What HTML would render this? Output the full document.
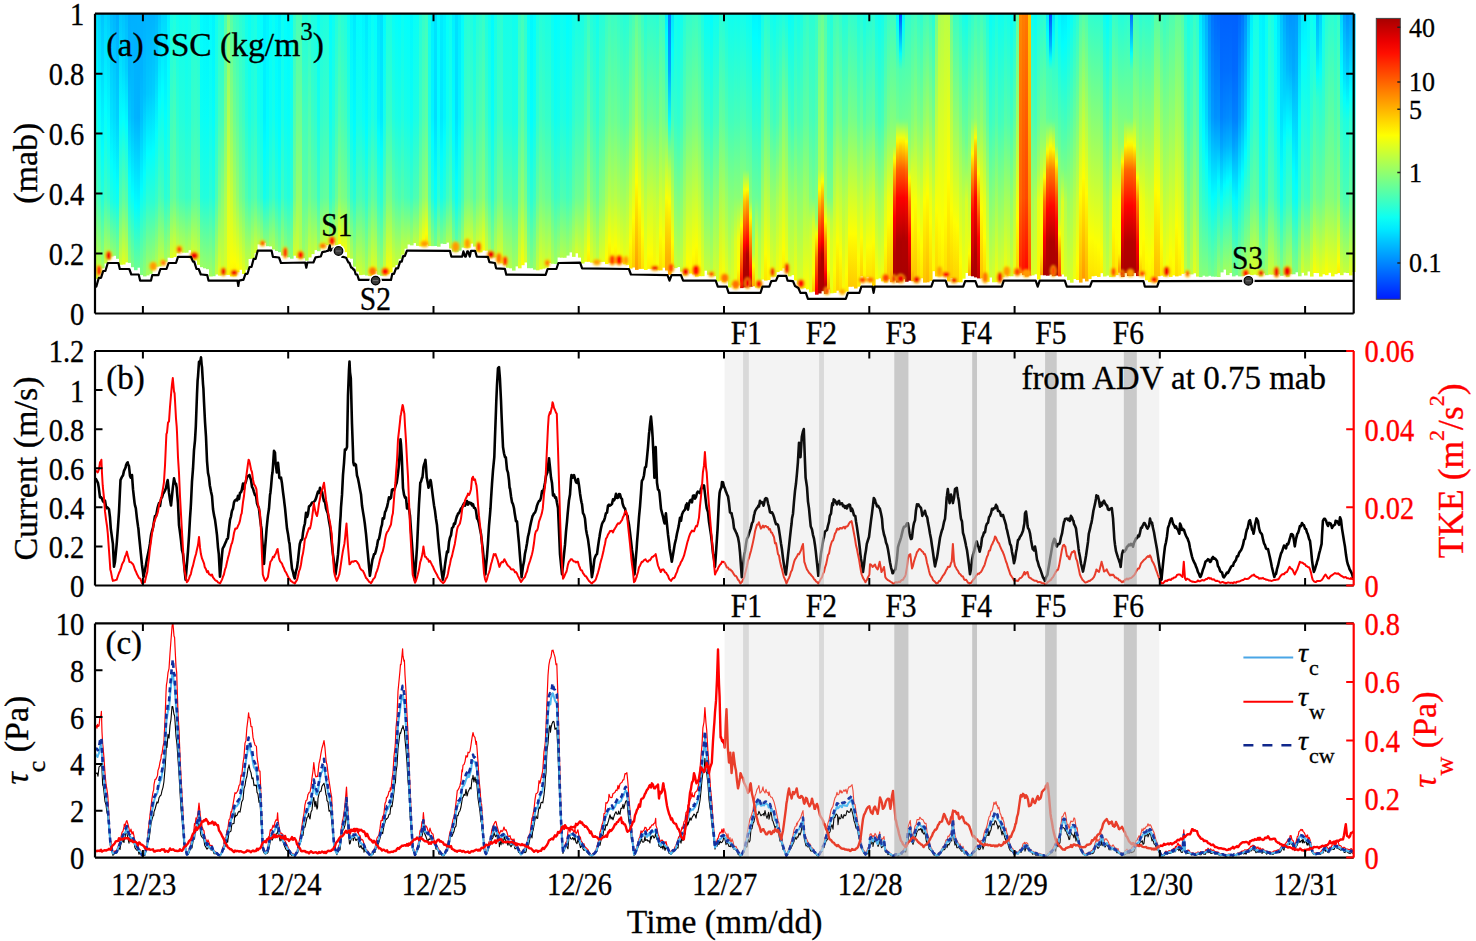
<!DOCTYPE html><html><head><meta charset="utf-8"><style>html,body{margin:0;padding:0;background:#fff;overflow:hidden;}svg{display:block;}</style></head><body><svg width="1476" height="941" viewBox="0 0 1476 941" font-family="Liberation Serif, serif">
<rect width="1476" height="941" fill="#fff"/>
<defs>
<linearGradient id="h0" x2="0" y2="1"><stop offset="0.000" stop-color="#00dfff"/><stop offset="0.272" stop-color="#00ffff"/><stop offset="0.694" stop-color="#4dffb2"/><stop offset="1.000" stop-color="#d4ff2b"/></linearGradient>
<linearGradient id="h1" x2="0" y2="1"><stop offset="0.000" stop-color="#00d4ff"/><stop offset="0.386" stop-color="#00ffff"/><stop offset="0.710" stop-color="#3cffc3"/><stop offset="1.000" stop-color="#c0ff3f"/></linearGradient>
<linearGradient id="h2" x2="0" y2="1"><stop offset="0.000" stop-color="#00c5ff"/><stop offset="0.534" stop-color="#02fffd"/><stop offset="0.738" stop-color="#28ffd7"/><stop offset="1.000" stop-color="#a3ff5c"/></linearGradient>
<linearGradient id="h3" x2="0" y2="1"><stop offset="0.000" stop-color="#00d5ff"/><stop offset="0.384" stop-color="#00ffff"/><stop offset="0.737" stop-color="#3effc1"/><stop offset="1.000" stop-color="#c3ff3c"/></linearGradient>
<linearGradient id="h4" x2="0" y2="1"><stop offset="0.000" stop-color="#00cdff"/><stop offset="0.472" stop-color="#01fffe"/><stop offset="0.749" stop-color="#32ffcd"/><stop offset="1.000" stop-color="#b6ff49"/></linearGradient>
<linearGradient id="h5" x2="0" y2="1"><stop offset="0.000" stop-color="#00bdff"/><stop offset="0.428" stop-color="#00e3ff"/><stop offset="0.610" stop-color="#02fffd"/><stop offset="0.774" stop-color="#1fffe0"/><stop offset="1.000" stop-color="#9bff64"/></linearGradient>
<linearGradient id="h6" x2="0" y2="1"><stop offset="0.000" stop-color="#00b6ff"/><stop offset="0.430" stop-color="#00dcff"/><stop offset="0.661" stop-color="#01fffe"/><stop offset="0.777" stop-color="#17ffe8"/><stop offset="1.000" stop-color="#92ff6d"/></linearGradient>
<linearGradient id="h7" x2="0" y2="1"><stop offset="0.000" stop-color="#00acff"/><stop offset="0.424" stop-color="#00d0ff"/><stop offset="0.702" stop-color="#01fffe"/><stop offset="0.767" stop-color="#0efff1"/><stop offset="1.000" stop-color="#87ff78"/></linearGradient>
<linearGradient id="h8" x2="0" y2="1"><stop offset="0.000" stop-color="#00c8ff"/><stop offset="0.430" stop-color="#02fffd"/><stop offset="0.749" stop-color="#53ffac"/><stop offset="1.000" stop-color="#d2ff2d"/></linearGradient>
<linearGradient id="h9" x2="0" y2="1"><stop offset="0.000" stop-color="#00c3ff"/><stop offset="0.223" stop-color="#00dcff"/><stop offset="0.415" stop-color="#01fffe"/><stop offset="0.750" stop-color="#64ff9b"/><stop offset="1.000" stop-color="#e4ff1b"/></linearGradient>
<linearGradient id="h10" x2="0" y2="1"><stop offset="0.000" stop-color="#00bbff"/><stop offset="0.225" stop-color="#00d0ff"/><stop offset="0.450" stop-color="#00feff"/><stop offset="0.756" stop-color="#58ffa7"/><stop offset="1.000" stop-color="#d5ff2a"/></linearGradient>
<linearGradient id="h11" x2="0" y2="1"><stop offset="0.000" stop-color="#00afff"/><stop offset="0.225" stop-color="#00b5ff"/><stop offset="0.417" stop-color="#00c7ff"/><stop offset="0.658" stop-color="#01fffe"/><stop offset="0.754" stop-color="#1affe5"/><stop offset="1.000" stop-color="#90ff6f"/></linearGradient>
<linearGradient id="h12" x2="0" y2="1"><stop offset="0.000" stop-color="#00b0ff"/><stop offset="0.410" stop-color="#00bdff"/><stop offset="0.710" stop-color="#01fffe"/><stop offset="1.000" stop-color="#7dff82"/></linearGradient>
<linearGradient id="h13" x2="0" y2="1"><stop offset="0.000" stop-color="#00b1ff"/><stop offset="0.405" stop-color="#00b3ff"/><stop offset="0.749" stop-color="#00ffff"/><stop offset="1.000" stop-color="#6cff93"/></linearGradient>
<linearGradient id="h14" x2="0" y2="1"><stop offset="0.000" stop-color="#00b2ff"/><stop offset="0.409" stop-color="#00b1ff"/><stop offset="0.756" stop-color="#00fcff"/><stop offset="1.000" stop-color="#68ff97"/></linearGradient>
<linearGradient id="h15" x2="0" y2="1"><stop offset="0.000" stop-color="#00b2ff"/><stop offset="0.214" stop-color="#00b2ff"/><stop offset="0.398" stop-color="#00c0ff"/><stop offset="0.673" stop-color="#00ffff"/><stop offset="1.000" stop-color="#80ff7f"/></linearGradient>
<linearGradient id="h16" x2="0" y2="1"><stop offset="0.000" stop-color="#00b2ff"/><stop offset="0.305" stop-color="#00bfff"/><stop offset="0.609" stop-color="#02fffd"/><stop offset="0.716" stop-color="#1cffe3"/><stop offset="1.000" stop-color="#94ff6b"/></linearGradient>
<linearGradient id="h17" x2="0" y2="1"><stop offset="0.000" stop-color="#00b3ff"/><stop offset="0.306" stop-color="#00c8ff"/><stop offset="0.535" stop-color="#00ffff"/><stop offset="0.718" stop-color="#2effd1"/><stop offset="1.000" stop-color="#a8ff57"/></linearGradient>
<linearGradient id="h18" x2="0" y2="1"><stop offset="0.000" stop-color="#00b2ff"/><stop offset="0.307" stop-color="#00cbff"/><stop offset="0.538" stop-color="#01fffe"/><stop offset="0.722" stop-color="#2cffd3"/><stop offset="1.000" stop-color="#a5ff5a"/></linearGradient>
<linearGradient id="h19" x2="0" y2="1"><stop offset="0.000" stop-color="#00b3ff"/><stop offset="0.313" stop-color="#00d0ff"/><stop offset="0.533" stop-color="#01fffe"/><stop offset="0.736" stop-color="#2cffd3"/><stop offset="1.000" stop-color="#a5ff5a"/></linearGradient>
<linearGradient id="h20" x2="0" y2="1"><stop offset="0.000" stop-color="#00b8ff"/><stop offset="0.221" stop-color="#00d0ff"/><stop offset="0.474" stop-color="#03fffc"/><stop offset="0.743" stop-color="#39ffc6"/><stop offset="1.000" stop-color="#b4ff4b"/></linearGradient>
<linearGradient id="h21" x2="0" y2="1"><stop offset="0.000" stop-color="#00c6ff"/><stop offset="0.348" stop-color="#00ffff"/><stop offset="0.728" stop-color="#4bffb4"/><stop offset="1.000" stop-color="#ccff33"/></linearGradient>
<linearGradient id="h22" x2="0" y2="1"><stop offset="0.000" stop-color="#00d6ff"/><stop offset="0.307" stop-color="#00ffff"/><stop offset="0.744" stop-color="#43ffbc"/><stop offset="1.000" stop-color="#c2ff3d"/></linearGradient>
<linearGradient id="h23" x2="0" y2="1"><stop offset="0.000" stop-color="#00d8ff"/><stop offset="0.403" stop-color="#00ffff"/><stop offset="0.742" stop-color="#29ffd6"/><stop offset="1.000" stop-color="#a4ff5b"/></linearGradient>
<linearGradient id="h24" x2="0" y2="1"><stop offset="0.000" stop-color="#00efff"/><stop offset="0.230" stop-color="#00ffff"/><stop offset="0.754" stop-color="#31ffce"/><stop offset="1.000" stop-color="#acff53"/></linearGradient>
<linearGradient id="h25" x2="0" y2="1"><stop offset="0.000" stop-color="#17ffe8"/><stop offset="0.753" stop-color="#5effa1"/><stop offset="1.000" stop-color="#deff21"/></linearGradient>
<linearGradient id="h26" x2="0" y2="1"><stop offset="0.000" stop-color="#1effe1"/><stop offset="0.756" stop-color="#66ff99"/><stop offset="1.000" stop-color="#e6ff19"/></linearGradient>
<linearGradient id="h27" x2="0" y2="1"><stop offset="0.000" stop-color="#13ffec"/><stop offset="0.434" stop-color="#2effd1"/><stop offset="0.768" stop-color="#50ffaf"/><stop offset="1.000" stop-color="#cdff32"/></linearGradient>
<linearGradient id="h28" x2="0" y2="1"><stop offset="0.000" stop-color="#0efff1"/><stop offset="0.437" stop-color="#24ffdb"/><stop offset="0.773" stop-color="#43ffbc"/><stop offset="1.000" stop-color="#bfff40"/></linearGradient>
<linearGradient id="h29" x2="0" y2="1"><stop offset="0.000" stop-color="#10ffef"/><stop offset="0.435" stop-color="#23ffdc"/><stop offset="0.770" stop-color="#41ffbe"/><stop offset="1.000" stop-color="#bdff42"/></linearGradient>
<linearGradient id="h30" x2="0" y2="1"><stop offset="0.000" stop-color="#0dfff2"/><stop offset="0.435" stop-color="#1bffe4"/><stop offset="0.770" stop-color="#38ffc7"/><stop offset="1.000" stop-color="#b3ff4c"/></linearGradient>
<linearGradient id="h31" x2="0" y2="1"><stop offset="0.000" stop-color="#12ffed"/><stop offset="0.440" stop-color="#1effe1"/><stop offset="0.778" stop-color="#3bffc4"/><stop offset="1.000" stop-color="#b6ff49"/></linearGradient>
<linearGradient id="h32" x2="0" y2="1"><stop offset="0.000" stop-color="#23ffdc"/><stop offset="0.432" stop-color="#36ffc9"/><stop offset="0.764" stop-color="#58ffa7"/><stop offset="1.000" stop-color="#d6ff29"/></linearGradient>
<linearGradient id="h33" x2="0" y2="1"><stop offset="0.000" stop-color="#24ffdb"/><stop offset="0.422" stop-color="#3affc5"/><stop offset="0.746" stop-color="#5dffa2"/><stop offset="1.000" stop-color="#dbff24"/></linearGradient>
<linearGradient id="h34" x2="0" y2="1"><stop offset="0.000" stop-color="#1effe1"/><stop offset="0.414" stop-color="#35ffca"/><stop offset="0.733" stop-color="#57ffa8"/><stop offset="1.000" stop-color="#d5ff2a"/></linearGradient>
<linearGradient id="h35" x2="0" y2="1"><stop offset="0.000" stop-color="#00fcff"/><stop offset="0.410" stop-color="#0bfff4"/><stop offset="0.726" stop-color="#25ffda"/><stop offset="1.000" stop-color="#9cff63"/></linearGradient>
<linearGradient id="h36" x2="0" y2="1"><stop offset="0.000" stop-color="#00f8ff"/><stop offset="0.408" stop-color="#08fff7"/><stop offset="0.723" stop-color="#21ffde"/><stop offset="1.000" stop-color="#98ff67"/></linearGradient>
<linearGradient id="h37" x2="0" y2="1"><stop offset="0.000" stop-color="#00f6ff"/><stop offset="0.407" stop-color="#06fff9"/><stop offset="0.720" stop-color="#20ffdf"/><stop offset="1.000" stop-color="#95ff6a"/></linearGradient>
<linearGradient id="h38" x2="0" y2="1"><stop offset="0.000" stop-color="#00fdff"/><stop offset="0.396" stop-color="#0ffff0"/><stop offset="0.700" stop-color="#2cffd3"/><stop offset="1.000" stop-color="#a3ff5c"/></linearGradient>
<linearGradient id="h39" x2="0" y2="1"><stop offset="0.000" stop-color="#00f6ff"/><stop offset="0.396" stop-color="#04fffb"/><stop offset="0.701" stop-color="#21ffde"/><stop offset="1.000" stop-color="#96ff69"/></linearGradient>
<linearGradient id="h40" x2="0" y2="1"><stop offset="0.000" stop-color="#0ffff0"/><stop offset="0.399" stop-color="#24ffdb"/><stop offset="0.706" stop-color="#4affb5"/><stop offset="1.000" stop-color="#c4ff3b"/></linearGradient>
<linearGradient id="h41" x2="0" y2="1"><stop offset="0.000" stop-color="#23ffdc"/><stop offset="0.397" stop-color="#43ffbc"/><stop offset="0.703" stop-color="#77ff88"/><stop offset="1.000" stop-color="#e5ff1a"/></linearGradient>
<linearGradient id="h42" x2="0" y2="1"><stop offset="0.000" stop-color="#1effe1"/><stop offset="0.414" stop-color="#47ffb8"/><stop offset="1.000" stop-color="#d2ff2d"/></linearGradient>
<linearGradient id="h43" x2="0" y2="1"><stop offset="0.000" stop-color="#4dffb2"/><stop offset="0.398" stop-color="#7bff84"/><stop offset="1.000" stop-color="#d9ff26"/></linearGradient>
<linearGradient id="h44" x2="0" y2="1"><stop offset="0.000" stop-color="#7fff80"/><stop offset="0.705" stop-color="#ddff22"/><stop offset="1.000" stop-color="#f7ff08"/></linearGradient>
<linearGradient id="h45" x2="0" y2="1"><stop offset="0.000" stop-color="#56ffa9"/><stop offset="0.411" stop-color="#8eff71"/><stop offset="0.944" stop-color="#fdff02"/><stop offset="1.000" stop-color="#fff400"/></linearGradient>
<linearGradient id="h46" x2="0" y2="1"><stop offset="0.000" stop-color="#3effc1"/><stop offset="0.411" stop-color="#71ff8e"/><stop offset="0.716" stop-color="#b1ff4e"/><stop offset="0.944" stop-color="#fdff02"/><stop offset="1.000" stop-color="#ffef00"/></linearGradient>
<linearGradient id="h47" x2="0" y2="1"><stop offset="0.000" stop-color="#36ffc9"/><stop offset="0.402" stop-color="#5dffa2"/><stop offset="0.712" stop-color="#93ff6c"/><stop offset="0.975" stop-color="#fdff02"/><stop offset="1.000" stop-color="#fff700"/></linearGradient>
<linearGradient id="h48" x2="0" y2="1"><stop offset="0.000" stop-color="#2bffd4"/><stop offset="0.406" stop-color="#48ffb7"/><stop offset="0.718" stop-color="#76ff89"/><stop offset="1.000" stop-color="#f6ff09"/></linearGradient>
<linearGradient id="h49" x2="0" y2="1"><stop offset="0.000" stop-color="#23ffdc"/><stop offset="0.400" stop-color="#3dffc2"/><stop offset="0.707" stop-color="#69ff96"/><stop offset="1.000" stop-color="#e8ff17"/></linearGradient>
<linearGradient id="h50" x2="0" y2="1"><stop offset="0.000" stop-color="#12ffed"/><stop offset="0.406" stop-color="#26ffd9"/><stop offset="0.719" stop-color="#4effb1"/><stop offset="1.000" stop-color="#c9ff36"/></linearGradient>
<linearGradient id="h51" x2="0" y2="1"><stop offset="0.000" stop-color="#09fff6"/><stop offset="0.424" stop-color="#19ffe6"/><stop offset="0.750" stop-color="#3fffc0"/><stop offset="1.000" stop-color="#b8ff47"/></linearGradient>
<linearGradient id="h52" x2="0" y2="1"><stop offset="0.000" stop-color="#14ffeb"/><stop offset="0.425" stop-color="#26ffd9"/><stop offset="0.752" stop-color="#50ffaf"/><stop offset="1.000" stop-color="#ccff33"/></linearGradient>
<linearGradient id="h53" x2="0" y2="1"><stop offset="0.000" stop-color="#1affe5"/><stop offset="0.434" stop-color="#2dffd2"/><stop offset="0.769" stop-color="#57ffa8"/><stop offset="1.000" stop-color="#d5ff2a"/></linearGradient>
<linearGradient id="h54" x2="0" y2="1"><stop offset="0.000" stop-color="#08fff7"/><stop offset="0.451" stop-color="#14ffeb"/><stop offset="0.798" stop-color="#3bffc4"/><stop offset="1.000" stop-color="#b6ff49"/></linearGradient>
<linearGradient id="h55" x2="0" y2="1"><stop offset="0.000" stop-color="#02fffd"/><stop offset="0.450" stop-color="#0cfff3"/><stop offset="0.796" stop-color="#31ffce"/><stop offset="1.000" stop-color="#aaff55"/></linearGradient>
<linearGradient id="h56" x2="0" y2="1"><stop offset="0.000" stop-color="#00efff"/><stop offset="0.454" stop-color="#00f2ff"/><stop offset="0.594" stop-color="#00feff"/><stop offset="0.803" stop-color="#13ffec"/><stop offset="1.000" stop-color="#88ff77"/></linearGradient>
<linearGradient id="h57" x2="0" y2="1"><stop offset="0.000" stop-color="#00f4ff"/><stop offset="0.516" stop-color="#00ffff"/><stop offset="0.792" stop-color="#1cffe3"/><stop offset="1.000" stop-color="#90ff6f"/></linearGradient>
<linearGradient id="h58" x2="0" y2="1"><stop offset="0.000" stop-color="#02fffd"/><stop offset="0.447" stop-color="#0bfff4"/><stop offset="0.791" stop-color="#30ffcf"/><stop offset="1.000" stop-color="#a5ff5a"/></linearGradient>
<linearGradient id="h59" x2="0" y2="1"><stop offset="0.000" stop-color="#09fff6"/><stop offset="0.441" stop-color="#15ffea"/><stop offset="0.780" stop-color="#3dffc2"/><stop offset="1.000" stop-color="#b1ff4e"/></linearGradient>
<linearGradient id="h60" x2="0" y2="1"><stop offset="0.000" stop-color="#00fcff"/><stop offset="0.438" stop-color="#04fffb"/><stop offset="0.775" stop-color="#28ffd7"/><stop offset="1.000" stop-color="#98ff67"/></linearGradient>
<linearGradient id="h61" x2="0" y2="1"><stop offset="0.000" stop-color="#00f3ff"/><stop offset="0.520" stop-color="#00ffff"/><stop offset="0.771" stop-color="#1affe5"/><stop offset="1.000" stop-color="#87ff78"/></linearGradient>
<linearGradient id="h62" x2="0" y2="1"><stop offset="0.000" stop-color="#0bfff4"/><stop offset="0.430" stop-color="#19ffe6"/><stop offset="0.761" stop-color="#3effc1"/><stop offset="1.000" stop-color="#acff53"/></linearGradient>
<linearGradient id="h63" x2="0" y2="1"><stop offset="0.000" stop-color="#01fffe"/><stop offset="0.430" stop-color="#0bfff4"/><stop offset="0.761" stop-color="#2affd5"/><stop offset="1.000" stop-color="#94ff6b"/></linearGradient>
<linearGradient id="h64" x2="0" y2="1"><stop offset="0.000" stop-color="#00fcff"/><stop offset="0.427" stop-color="#06fff9"/><stop offset="0.755" stop-color="#21ffde"/><stop offset="1.000" stop-color="#87ff78"/></linearGradient>
<linearGradient id="h65" x2="0" y2="1"><stop offset="0.000" stop-color="#05fffa"/><stop offset="0.424" stop-color="#11ffee"/><stop offset="0.751" stop-color="#2bffd4"/><stop offset="1.000" stop-color="#8eff71"/></linearGradient>
<linearGradient id="h66" x2="0" y2="1"><stop offset="0.000" stop-color="#31ffce"/><stop offset="0.430" stop-color="#4fffb0"/><stop offset="0.760" stop-color="#72ff8d"/><stop offset="1.000" stop-color="#d5ff2a"/></linearGradient>
<linearGradient id="h67" x2="0" y2="1"><stop offset="0.000" stop-color="#47ffb8"/><stop offset="0.426" stop-color="#6eff91"/><stop offset="0.753" stop-color="#98ff67"/><stop offset="1.000" stop-color="#d6ff29"/></linearGradient>
<linearGradient id="h68" x2="0" y2="1"><stop offset="0.000" stop-color="#46ffb9"/><stop offset="0.441" stop-color="#71ff8e"/><stop offset="1.000" stop-color="#bbff44"/></linearGradient>
<linearGradient id="h69" x2="0" y2="1"><stop offset="0.000" stop-color="#22ffdd"/><stop offset="0.753" stop-color="#5fffa0"/><stop offset="1.000" stop-color="#9dff62"/></linearGradient>
<linearGradient id="h70" x2="0" y2="1"><stop offset="0.000" stop-color="#20ffdf"/><stop offset="0.745" stop-color="#5dffa2"/><stop offset="1.000" stop-color="#b1ff4e"/></linearGradient>
<linearGradient id="h71" x2="0" y2="1"><stop offset="0.000" stop-color="#2bffd4"/><stop offset="0.755" stop-color="#72ff8d"/><stop offset="1.000" stop-color="#d0ff2f"/></linearGradient>
<linearGradient id="h72" x2="0" y2="1"><stop offset="0.000" stop-color="#1effe1"/><stop offset="0.433" stop-color="#39ffc6"/><stop offset="0.765" stop-color="#60ff9f"/><stop offset="1.000" stop-color="#c2ff3d"/></linearGradient>
<linearGradient id="h73" x2="0" y2="1"><stop offset="0.000" stop-color="#1affe5"/><stop offset="0.440" stop-color="#32ffcd"/><stop offset="0.778" stop-color="#5bffa4"/><stop offset="1.000" stop-color="#c3ff3c"/></linearGradient>
<linearGradient id="h74" x2="0" y2="1"><stop offset="0.000" stop-color="#05fffa"/><stop offset="0.438" stop-color="#16ffe9"/><stop offset="0.775" stop-color="#3affc5"/><stop offset="1.000" stop-color="#9eff61"/></linearGradient>
<linearGradient id="h75" x2="0" y2="1"><stop offset="0.000" stop-color="#1affe5"/><stop offset="0.444" stop-color="#32ffcd"/><stop offset="0.786" stop-color="#5bffa4"/><stop offset="1.000" stop-color="#c3ff3c"/></linearGradient>
<linearGradient id="h76" x2="0" y2="1"><stop offset="0.000" stop-color="#1effe1"/><stop offset="0.451" stop-color="#38ffc7"/><stop offset="0.798" stop-color="#62ff9d"/><stop offset="1.000" stop-color="#caff35"/></linearGradient>
<linearGradient id="h77" x2="0" y2="1"><stop offset="0.000" stop-color="#20ffdf"/><stop offset="0.449" stop-color="#3affc5"/><stop offset="0.795" stop-color="#65ff9a"/><stop offset="1.000" stop-color="#ceff31"/></linearGradient>
<linearGradient id="h78" x2="0" y2="1"><stop offset="0.000" stop-color="#01fffe"/><stop offset="0.452" stop-color="#10ffef"/><stop offset="0.801" stop-color="#33ffcc"/><stop offset="1.000" stop-color="#97ff68"/></linearGradient>
<linearGradient id="h79" x2="0" y2="1"><stop offset="0.000" stop-color="#0dfff2"/><stop offset="0.455" stop-color="#21ffde"/><stop offset="0.805" stop-color="#46ffb9"/><stop offset="1.000" stop-color="#acff53"/></linearGradient>
<linearGradient id="h80" x2="0" y2="1"><stop offset="0.000" stop-color="#21ffde"/><stop offset="0.449" stop-color="#3cffc3"/><stop offset="0.794" stop-color="#68ff97"/><stop offset="1.000" stop-color="#d5ff2a"/></linearGradient>
<linearGradient id="h81" x2="0" y2="1"><stop offset="0.000" stop-color="#31ffce"/><stop offset="0.451" stop-color="#54ffab"/><stop offset="0.798" stop-color="#88ff77"/><stop offset="1.000" stop-color="#fdff02"/></linearGradient>
<linearGradient id="h82" x2="0" y2="1"><stop offset="0.000" stop-color="#28ffd7"/><stop offset="0.437" stop-color="#49ffb6"/><stop offset="0.773" stop-color="#7dff82"/><stop offset="1.000" stop-color="#f9ff06"/></linearGradient>
<linearGradient id="h83" x2="0" y2="1"><stop offset="0.000" stop-color="#21ffde"/><stop offset="0.436" stop-color="#41ffbe"/><stop offset="0.771" stop-color="#77ff88"/><stop offset="1.000" stop-color="#f8ff07"/></linearGradient>
<linearGradient id="h84" x2="0" y2="1"><stop offset="0.000" stop-color="#0dfff2"/><stop offset="0.426" stop-color="#27ffd8"/><stop offset="0.754" stop-color="#5bffa4"/><stop offset="1.000" stop-color="#e0ff1f"/></linearGradient>
<linearGradient id="h85" x2="0" y2="1"><stop offset="0.000" stop-color="#00f5ff"/><stop offset="0.425" stop-color="#08fff7"/><stop offset="0.751" stop-color="#38ffc7"/><stop offset="1.000" stop-color="#bbff44"/></linearGradient>
<linearGradient id="h86" x2="0" y2="1"><stop offset="0.000" stop-color="#00e9ff"/><stop offset="0.459" stop-color="#00feff"/><stop offset="0.727" stop-color="#27ffd8"/><stop offset="1.000" stop-color="#a8ff57"/></linearGradient>
<linearGradient id="h87" x2="0" y2="1"><stop offset="0.000" stop-color="#00fcff"/><stop offset="0.403" stop-color="#13ffec"/><stop offset="0.714" stop-color="#48ffb7"/><stop offset="1.000" stop-color="#cdff32"/></linearGradient>
<linearGradient id="h88" x2="0" y2="1"><stop offset="0.000" stop-color="#00fdff"/><stop offset="0.398" stop-color="#13ffec"/><stop offset="0.704" stop-color="#4bffb4"/><stop offset="1.000" stop-color="#d0ff2f"/></linearGradient>
<linearGradient id="h89" x2="0" y2="1"><stop offset="0.000" stop-color="#00f6ff"/><stop offset="0.398" stop-color="#0afff5"/><stop offset="0.705" stop-color="#42ffbd"/><stop offset="1.000" stop-color="#c5ff3a"/></linearGradient>
<linearGradient id="h90" x2="0" y2="1"><stop offset="0.000" stop-color="#00e8ff"/><stop offset="0.458" stop-color="#01fffe"/><stop offset="0.718" stop-color="#32ffcd"/><stop offset="1.000" stop-color="#aeff51"/></linearGradient>
<linearGradient id="h91" x2="0" y2="1"><stop offset="0.000" stop-color="#00f9ff"/><stop offset="0.397" stop-color="#0ffff0"/><stop offset="0.702" stop-color="#4cffb3"/><stop offset="1.000" stop-color="#d0ff2f"/></linearGradient>
<linearGradient id="h92" x2="0" y2="1"><stop offset="0.000" stop-color="#07fff8"/><stop offset="0.398" stop-color="#20ffdf"/><stop offset="0.704" stop-color="#62ff9d"/><stop offset="1.000" stop-color="#eaff15"/></linearGradient>
<linearGradient id="h93" x2="0" y2="1"><stop offset="0.000" stop-color="#00ffff"/><stop offset="0.404" stop-color="#16ffe9"/><stop offset="0.715" stop-color="#58ffa7"/><stop offset="1.000" stop-color="#deff21"/></linearGradient>
<linearGradient id="h94" x2="0" y2="1"><stop offset="0.000" stop-color="#00e6ff"/><stop offset="0.398" stop-color="#00f3ff"/><stop offset="0.459" stop-color="#00ffff"/><stop offset="0.720" stop-color="#37ffc8"/><stop offset="1.000" stop-color="#b2ff4d"/></linearGradient>
<linearGradient id="h95" x2="0" y2="1"><stop offset="0.000" stop-color="#00dfff"/><stop offset="0.397" stop-color="#00eaff"/><stop offset="0.519" stop-color="#02fffd"/><stop offset="0.717" stop-color="#2bffd4"/><stop offset="1.000" stop-color="#a2ff5d"/></linearGradient>
<linearGradient id="h96" x2="0" y2="1"><stop offset="0.000" stop-color="#00fcff"/><stop offset="0.413" stop-color="#14ffeb"/><stop offset="0.718" stop-color="#57ffa8"/><stop offset="1.000" stop-color="#d3ff2c"/></linearGradient>
<linearGradient id="h97" x2="0" y2="1"><stop offset="0.000" stop-color="#19ffe6"/><stop offset="0.399" stop-color="#38ffc7"/><stop offset="0.706" stop-color="#7cff83"/><stop offset="1.000" stop-color="#fffd00"/></linearGradient>
<linearGradient id="h98" x2="0" y2="1"><stop offset="0.000" stop-color="#19ffe6"/><stop offset="0.402" stop-color="#39ffc6"/><stop offset="0.711" stop-color="#7aff85"/><stop offset="1.000" stop-color="#fcff03"/></linearGradient>
<linearGradient id="h99" x2="0" y2="1"><stop offset="0.000" stop-color="#09fff6"/><stop offset="0.410" stop-color="#22ffdd"/><stop offset="0.725" stop-color="#5dffa2"/><stop offset="1.000" stop-color="#d7ff28"/></linearGradient>
<linearGradient id="h100" x2="0" y2="1"><stop offset="0.000" stop-color="#03fffc"/><stop offset="0.414" stop-color="#1affe5"/><stop offset="0.732" stop-color="#50ffaf"/><stop offset="1.000" stop-color="#c5ff3a"/></linearGradient>
<linearGradient id="h101" x2="0" y2="1"><stop offset="0.000" stop-color="#00ffff"/><stop offset="0.424" stop-color="#17ffe8"/><stop offset="0.750" stop-color="#49ffb6"/><stop offset="1.000" stop-color="#bbff44"/></linearGradient>
<linearGradient id="h102" x2="0" y2="1"><stop offset="0.000" stop-color="#0afff5"/><stop offset="0.432" stop-color="#22ffdd"/><stop offset="0.764" stop-color="#56ffa9"/><stop offset="1.000" stop-color="#c9ff36"/></linearGradient>
<linearGradient id="h103" x2="0" y2="1"><stop offset="0.000" stop-color="#03fffc"/><stop offset="0.443" stop-color="#17ffe8"/><stop offset="0.783" stop-color="#49ffb6"/><stop offset="1.000" stop-color="#bbff44"/></linearGradient>
<linearGradient id="h104" x2="0" y2="1"><stop offset="0.000" stop-color="#01fffe"/><stop offset="0.451" stop-color="#13ffec"/><stop offset="0.797" stop-color="#45ffba"/><stop offset="1.000" stop-color="#b7ff48"/></linearGradient>
<linearGradient id="h105" x2="0" y2="1"><stop offset="0.000" stop-color="#00faff"/><stop offset="0.449" stop-color="#0afff5"/><stop offset="0.794" stop-color="#3affc5"/><stop offset="1.000" stop-color="#aaff55"/></linearGradient>
<linearGradient id="h106" x2="0" y2="1"><stop offset="0.000" stop-color="#07fff8"/><stop offset="0.453" stop-color="#19ffe6"/><stop offset="0.802" stop-color="#4cffb3"/><stop offset="1.000" stop-color="#beff41"/></linearGradient>
<linearGradient id="h107" x2="0" y2="1"><stop offset="0.000" stop-color="#0afff5"/><stop offset="0.448" stop-color="#1bffe4"/><stop offset="0.792" stop-color="#4fffb0"/><stop offset="1.000" stop-color="#c2ff3d"/></linearGradient>
<linearGradient id="h108" x2="0" y2="1"><stop offset="0.000" stop-color="#23ffdc"/><stop offset="0.447" stop-color="#3bffc4"/><stop offset="0.791" stop-color="#75ff8a"/><stop offset="1.000" stop-color="#ecff13"/></linearGradient>
<linearGradient id="h109" x2="0" y2="1"><stop offset="0.000" stop-color="#33ffcc"/><stop offset="0.448" stop-color="#50ffaf"/><stop offset="0.793" stop-color="#8fff70"/><stop offset="0.983" stop-color="#feff01"/><stop offset="1.000" stop-color="#fff600"/></linearGradient>
<linearGradient id="h110" x2="0" y2="1"><stop offset="0.000" stop-color="#3cffc3"/><stop offset="0.451" stop-color="#5affa5"/><stop offset="0.798" stop-color="#9bff64"/><stop offset="0.954" stop-color="#f9ff06"/><stop offset="1.000" stop-color="#ffe800"/></linearGradient>
<linearGradient id="h111" x2="0" y2="1"><stop offset="0.000" stop-color="#10ffef"/><stop offset="0.448" stop-color="#1dffe2"/><stop offset="0.792" stop-color="#53ffac"/><stop offset="1.000" stop-color="#c6ff39"/></linearGradient>
<linearGradient id="h112" x2="0" y2="1"><stop offset="0.000" stop-color="#00f2ff"/><stop offset="0.448" stop-color="#00f4ff"/><stop offset="0.534" stop-color="#00feff"/><stop offset="0.792" stop-color="#22ffdd"/><stop offset="1.000" stop-color="#91ff6e"/></linearGradient>
<linearGradient id="h113" x2="0" y2="1"><stop offset="0.000" stop-color="#00e3ff"/><stop offset="0.448" stop-color="#00deff"/><stop offset="0.723" stop-color="#00ffff"/><stop offset="0.809" stop-color="#0efff1"/><stop offset="1.000" stop-color="#76ff89"/></linearGradient>
<linearGradient id="h114" x2="0" y2="1"><stop offset="0.000" stop-color="#00fbff"/><stop offset="0.464" stop-color="#00feff"/><stop offset="0.790" stop-color="#2effd1"/><stop offset="1.000" stop-color="#9eff61"/></linearGradient>
<linearGradient id="h115" x2="0" y2="1"><stop offset="0.000" stop-color="#00ecff"/><stop offset="0.452" stop-color="#00e9ff"/><stop offset="0.626" stop-color="#00feff"/><stop offset="0.800" stop-color="#16ffe9"/><stop offset="1.000" stop-color="#83ff7c"/></linearGradient>
<linearGradient id="h116" x2="0" y2="1"><stop offset="0.000" stop-color="#00f4ff"/><stop offset="0.452" stop-color="#00f5ff"/><stop offset="0.538" stop-color="#01fffe"/><stop offset="0.799" stop-color="#24ffdb"/><stop offset="1.000" stop-color="#92ff6d"/></linearGradient>
<linearGradient id="h117" x2="0" y2="1"><stop offset="0.000" stop-color="#05fffa"/><stop offset="0.454" stop-color="#0dfff2"/><stop offset="0.804" stop-color="#40ffbf"/><stop offset="1.000" stop-color="#aeff51"/></linearGradient>
<linearGradient id="h118" x2="0" y2="1"><stop offset="0.000" stop-color="#0efff1"/><stop offset="0.443" stop-color="#1bffe4"/><stop offset="0.784" stop-color="#50ffaf"/><stop offset="1.000" stop-color="#beff41"/></linearGradient>
<linearGradient id="h119" x2="0" y2="1"><stop offset="0.000" stop-color="#00f1ff"/><stop offset="0.504" stop-color="#00feff"/><stop offset="0.773" stop-color="#24ffdb"/><stop offset="1.000" stop-color="#8cff73"/></linearGradient>
<linearGradient id="h120" x2="0" y2="1"><stop offset="0.000" stop-color="#00e0ff"/><stop offset="0.437" stop-color="#00e0ff"/><stop offset="0.705" stop-color="#02fffd"/><stop offset="0.789" stop-color="#0ffff0"/><stop offset="1.000" stop-color="#6eff91"/></linearGradient>
<linearGradient id="h121" x2="0" y2="1"><stop offset="0.000" stop-color="#00eeff"/><stop offset="0.439" stop-color="#00f4ff"/><stop offset="0.540" stop-color="#01fffe"/><stop offset="0.793" stop-color="#26ffd9"/><stop offset="1.000" stop-color="#86ff79"/></linearGradient>
<linearGradient id="h122" x2="0" y2="1"><stop offset="0.000" stop-color="#02fffd"/><stop offset="0.445" stop-color="#10ffef"/><stop offset="0.787" stop-color="#41ffbe"/><stop offset="1.000" stop-color="#a8ff57"/></linearGradient>
<linearGradient id="h123" x2="0" y2="1"><stop offset="0.000" stop-color="#21ffde"/><stop offset="0.444" stop-color="#3bffc4"/><stop offset="0.786" stop-color="#71ff8e"/><stop offset="1.000" stop-color="#deff21"/></linearGradient>
<linearGradient id="h124" x2="0" y2="1"><stop offset="0.000" stop-color="#25ffda"/><stop offset="0.444" stop-color="#41ffbe"/><stop offset="0.786" stop-color="#77ff88"/><stop offset="1.000" stop-color="#e3ff1c"/></linearGradient>
<linearGradient id="h125" x2="0" y2="1"><stop offset="0.000" stop-color="#20ffdf"/><stop offset="0.452" stop-color="#3cffc3"/><stop offset="0.800" stop-color="#6eff91"/><stop offset="1.000" stop-color="#daff25"/></linearGradient>
<linearGradient id="h126" x2="0" y2="1"><stop offset="0.000" stop-color="#13ffec"/><stop offset="0.447" stop-color="#2affd5"/><stop offset="0.790" stop-color="#58ffa7"/><stop offset="1.000" stop-color="#c0ff3f"/></linearGradient>
<linearGradient id="h127" x2="0" y2="1"><stop offset="0.000" stop-color="#25ffda"/><stop offset="0.437" stop-color="#44ffbb"/><stop offset="0.773" stop-color="#74ff8b"/><stop offset="1.000" stop-color="#e0ff1f"/></linearGradient>
<linearGradient id="h128" x2="0" y2="1"><stop offset="0.000" stop-color="#2cffd3"/><stop offset="0.436" stop-color="#4dffb2"/><stop offset="0.771" stop-color="#7eff81"/><stop offset="1.000" stop-color="#ebff14"/></linearGradient>
<linearGradient id="h129" x2="0" y2="1"><stop offset="0.000" stop-color="#36ffc9"/><stop offset="0.439" stop-color="#59ffa6"/><stop offset="0.777" stop-color="#8dff72"/><stop offset="1.000" stop-color="#fbff04"/></linearGradient>
<linearGradient id="h130" x2="0" y2="1"><stop offset="0.000" stop-color="#1effe1"/><stop offset="0.439" stop-color="#37ffc8"/><stop offset="0.776" stop-color="#66ff99"/><stop offset="1.000" stop-color="#cfff30"/></linearGradient>
<linearGradient id="h131" x2="0" y2="1"><stop offset="0.000" stop-color="#0ffff0"/><stop offset="0.427" stop-color="#20ffdf"/><stop offset="0.755" stop-color="#4cffb3"/><stop offset="1.000" stop-color="#b3ff4c"/></linearGradient>
<linearGradient id="h132" x2="0" y2="1"><stop offset="0.000" stop-color="#00fdff"/><stop offset="0.427" stop-color="#07fff8"/><stop offset="0.755" stop-color="#30ffcf"/><stop offset="1.000" stop-color="#93ff6c"/></linearGradient>
<linearGradient id="h133" x2="0" y2="1"><stop offset="0.000" stop-color="#16ffe9"/><stop offset="0.427" stop-color="#26ffd9"/><stop offset="0.755" stop-color="#57ffa8"/><stop offset="1.000" stop-color="#beff41"/></linearGradient>
<linearGradient id="h134" x2="0" y2="1"><stop offset="0.000" stop-color="#27ffd8"/><stop offset="0.420" stop-color="#3bffc4"/><stop offset="0.743" stop-color="#71ff8e"/><stop offset="1.000" stop-color="#dcff23"/></linearGradient>
<linearGradient id="h135" x2="0" y2="1"><stop offset="0.000" stop-color="#2bffd4"/><stop offset="0.417" stop-color="#3fffc0"/><stop offset="0.737" stop-color="#76ff89"/><stop offset="1.000" stop-color="#e1ff1e"/></linearGradient>
<linearGradient id="h136" x2="0" y2="1"><stop offset="0.000" stop-color="#17ffe8"/><stop offset="0.414" stop-color="#23ffdc"/><stop offset="0.733" stop-color="#54ffab"/><stop offset="1.000" stop-color="#b9ff46"/></linearGradient>
<linearGradient id="h137" x2="0" y2="1"><stop offset="0.000" stop-color="#16ffe9"/><stop offset="0.409" stop-color="#22ffdd"/><stop offset="0.724" stop-color="#52ffad"/><stop offset="1.000" stop-color="#b5ff4a"/></linearGradient>
<linearGradient id="h138" x2="0" y2="1"><stop offset="0.000" stop-color="#17ffe8"/><stop offset="0.424" stop-color="#23ffdc"/><stop offset="0.738" stop-color="#57ffa8"/><stop offset="1.000" stop-color="#b4ff4b"/></linearGradient>
<linearGradient id="h139" x2="0" y2="1"><stop offset="0.000" stop-color="#10ffef"/><stop offset="0.420" stop-color="#1affe5"/><stop offset="0.732" stop-color="#4affb5"/><stop offset="1.000" stop-color="#a4ff5b"/></linearGradient>
<linearGradient id="h140" x2="0" y2="1"><stop offset="0.000" stop-color="#11ffee"/><stop offset="0.427" stop-color="#1affe5"/><stop offset="0.744" stop-color="#4bffb4"/><stop offset="1.000" stop-color="#a3ff5c"/></linearGradient>
<linearGradient id="h141" x2="0" y2="1"><stop offset="0.000" stop-color="#35ffca"/><stop offset="0.424" stop-color="#4bffb4"/><stop offset="0.738" stop-color="#85ff7a"/><stop offset="1.000" stop-color="#e3ff1c"/></linearGradient>
<linearGradient id="h142" x2="0" y2="1"><stop offset="0.000" stop-color="#41ffbe"/><stop offset="0.429" stop-color="#5dffa2"/><stop offset="0.747" stop-color="#9aff65"/><stop offset="1.000" stop-color="#fcff03"/></linearGradient>
<linearGradient id="h143" x2="0" y2="1"><stop offset="0.000" stop-color="#2dffd2"/><stop offset="0.418" stop-color="#42ffbd"/><stop offset="0.740" stop-color="#78ff87"/><stop offset="1.000" stop-color="#dbff24"/></linearGradient>
<linearGradient id="h144" x2="0" y2="1"><stop offset="0.000" stop-color="#08fff7"/><stop offset="0.409" stop-color="#12ffed"/><stop offset="0.723" stop-color="#3effc1"/><stop offset="1.000" stop-color="#9bff64"/></linearGradient>
<linearGradient id="h145" x2="0" y2="1"><stop offset="0.000" stop-color="#00f9ff"/><stop offset="0.424" stop-color="#02fffd"/><stop offset="0.739" stop-color="#2dffd2"/><stop offset="1.000" stop-color="#85ff7a"/></linearGradient>
<linearGradient id="h146" x2="0" y2="1"><stop offset="0.000" stop-color="#02fffd"/><stop offset="0.406" stop-color="#0efff1"/><stop offset="0.719" stop-color="#3affc5"/><stop offset="1.000" stop-color="#99ff66"/></linearGradient>
<linearGradient id="h147" x2="0" y2="1"><stop offset="0.000" stop-color="#1affe5"/><stop offset="0.405" stop-color="#30ffcf"/><stop offset="0.717" stop-color="#63ff9c"/><stop offset="1.000" stop-color="#c9ff36"/></linearGradient>
<linearGradient id="h148" x2="0" y2="1"><stop offset="0.000" stop-color="#26ffd9"/><stop offset="0.407" stop-color="#43ffbc"/><stop offset="0.720" stop-color="#79ff86"/><stop offset="1.000" stop-color="#e5ff1a"/></linearGradient>
<linearGradient id="h149" x2="0" y2="1"><stop offset="0.000" stop-color="#22ffdd"/><stop offset="0.408" stop-color="#3dffc2"/><stop offset="0.722" stop-color="#72ff8d"/><stop offset="1.000" stop-color="#dcff23"/></linearGradient>
<linearGradient id="h150" x2="0" y2="1"><stop offset="0.000" stop-color="#1cffe3"/><stop offset="0.409" stop-color="#35ffca"/><stop offset="0.724" stop-color="#68ff97"/><stop offset="1.000" stop-color="#d1ff2e"/></linearGradient>
<linearGradient id="h151" x2="0" y2="1"><stop offset="0.000" stop-color="#1cffe3"/><stop offset="0.417" stop-color="#35ffca"/><stop offset="0.738" stop-color="#69ff96"/><stop offset="1.000" stop-color="#d2ff2d"/></linearGradient>
<linearGradient id="h152" x2="0" y2="1"><stop offset="0.000" stop-color="#0bfff4"/><stop offset="0.416" stop-color="#1dffe2"/><stop offset="0.736" stop-color="#4cffb3"/><stop offset="1.000" stop-color="#b1ff4e"/></linearGradient>
<linearGradient id="h153" x2="0" y2="1"><stop offset="0.000" stop-color="#00ffff"/><stop offset="0.415" stop-color="#0ffff0"/><stop offset="0.735" stop-color="#3bffc4"/><stop offset="1.000" stop-color="#9dff62"/></linearGradient>
<linearGradient id="h154" x2="0" y2="1"><stop offset="0.000" stop-color="#03fffc"/><stop offset="0.427" stop-color="#13ffec"/><stop offset="0.755" stop-color="#40ffbf"/><stop offset="1.000" stop-color="#a4ff5b"/></linearGradient>
<linearGradient id="h155" x2="0" y2="1"><stop offset="0.000" stop-color="#0cfff3"/><stop offset="0.426" stop-color="#20ffdf"/><stop offset="0.754" stop-color="#4fffb0"/><stop offset="1.000" stop-color="#b5ff4a"/></linearGradient>
<linearGradient id="h156" x2="0" y2="1"><stop offset="0.000" stop-color="#09fff6"/><stop offset="0.426" stop-color="#1dffe2"/><stop offset="0.754" stop-color="#4cffb3"/><stop offset="1.000" stop-color="#b1ff4e"/></linearGradient>
<linearGradient id="h157" x2="0" y2="1"><stop offset="0.000" stop-color="#01fffe"/><stop offset="0.430" stop-color="#14ffeb"/><stop offset="0.761" stop-color="#41ffbe"/><stop offset="1.000" stop-color="#a4ff5b"/></linearGradient>
<linearGradient id="h158" x2="0" y2="1"><stop offset="0.000" stop-color="#04fffb"/><stop offset="0.436" stop-color="#1affe5"/><stop offset="0.771" stop-color="#47ffb8"/><stop offset="1.000" stop-color="#abff54"/></linearGradient>
<linearGradient id="h159" x2="0" y2="1"><stop offset="0.000" stop-color="#12ffed"/><stop offset="0.428" stop-color="#2fffd0"/><stop offset="0.756" stop-color="#60ff9f"/><stop offset="1.000" stop-color="#c7ff38"/></linearGradient>
<linearGradient id="h160" x2="0" y2="1"><stop offset="0.000" stop-color="#1affe5"/><stop offset="0.434" stop-color="#3bffc4"/><stop offset="0.768" stop-color="#6eff91"/><stop offset="1.000" stop-color="#d6ff29"/></linearGradient>
<linearGradient id="h161" x2="0" y2="1"><stop offset="0.000" stop-color="#18ffe7"/><stop offset="0.426" stop-color="#39ffc6"/><stop offset="0.754" stop-color="#6cff93"/><stop offset="1.000" stop-color="#d4ff2b"/></linearGradient>
<linearGradient id="h162" x2="0" y2="1"><stop offset="0.000" stop-color="#1affe5"/><stop offset="0.416" stop-color="#3bffc4"/><stop offset="0.737" stop-color="#6fff90"/><stop offset="1.000" stop-color="#d6ff29"/></linearGradient>
<linearGradient id="h163" x2="0" y2="1"><stop offset="0.000" stop-color="#28ffd7"/><stop offset="0.419" stop-color="#4fffb0"/><stop offset="0.742" stop-color="#88ff77"/><stop offset="1.000" stop-color="#f0ff0f"/></linearGradient>
<linearGradient id="h164" x2="0" y2="1"><stop offset="0.000" stop-color="#3bffc4"/><stop offset="0.435" stop-color="#6aff95"/><stop offset="0.742" stop-color="#a6ff59"/><stop offset="0.951" stop-color="#fcff03"/><stop offset="1.000" stop-color="#ffed00"/></linearGradient>
<linearGradient id="h165" x2="0" y2="1"><stop offset="0.000" stop-color="#24ffdb"/><stop offset="0.418" stop-color="#48ffb7"/><stop offset="0.739" stop-color="#82ff7d"/><stop offset="1.000" stop-color="#e5ff1a"/></linearGradient>
<linearGradient id="h166" x2="0" y2="1"><stop offset="0.000" stop-color="#1cffe3"/><stop offset="0.418" stop-color="#3cffc3"/><stop offset="0.739" stop-color="#75ff8a"/><stop offset="1.000" stop-color="#d4ff2b"/></linearGradient>
<linearGradient id="h167" x2="0" y2="1"><stop offset="0.000" stop-color="#12ffed"/><stop offset="0.420" stop-color="#2effd1"/><stop offset="0.743" stop-color="#65ff9a"/><stop offset="1.000" stop-color="#c1ff3e"/></linearGradient>
<linearGradient id="h168" x2="0" y2="1"><stop offset="0.000" stop-color="#24ffdb"/><stop offset="0.435" stop-color="#48ffb7"/><stop offset="0.757" stop-color="#88ff77"/><stop offset="1.000" stop-color="#e2ff1d"/></linearGradient>
<linearGradient id="h169" x2="0" y2="1"><stop offset="0.000" stop-color="#26ffd9"/><stop offset="0.435" stop-color="#4cffb3"/><stop offset="0.757" stop-color="#8eff71"/><stop offset="1.000" stop-color="#e6ff19"/></linearGradient>
<linearGradient id="h170" x2="0" y2="1"><stop offset="0.000" stop-color="#37ffc8"/><stop offset="0.431" stop-color="#66ff99"/><stop offset="0.735" stop-color="#a8ff57"/><stop offset="0.974" stop-color="#feff01"/><stop offset="1.000" stop-color="#fff600"/></linearGradient>
<linearGradient id="h171" x2="0" y2="1"><stop offset="0.000" stop-color="#41ffbe"/><stop offset="0.433" stop-color="#74ff8b"/><stop offset="0.739" stop-color="#bbff44"/><stop offset="0.915" stop-color="#fbff04"/><stop offset="1.000" stop-color="#ffe300"/></linearGradient>
<linearGradient id="h172" x2="0" y2="1"><stop offset="0.000" stop-color="#3affc5"/><stop offset="0.433" stop-color="#6cff93"/><stop offset="0.738" stop-color="#b3ff4c"/><stop offset="0.947" stop-color="#fdff02"/><stop offset="1.000" stop-color="#ffee00"/></linearGradient>
<linearGradient id="h173" x2="0" y2="1"><stop offset="0.000" stop-color="#3cffc3"/><stop offset="0.433" stop-color="#71ff8e"/><stop offset="0.738" stop-color="#baff45"/><stop offset="0.931" stop-color="#fdff02"/><stop offset="1.000" stop-color="#ffe900"/></linearGradient>
<linearGradient id="h174" x2="0" y2="1"><stop offset="0.000" stop-color="#34ffcb"/><stop offset="0.434" stop-color="#68ff97"/><stop offset="0.739" stop-color="#b0ff4f"/><stop offset="0.963" stop-color="#fcff03"/><stop offset="1.000" stop-color="#fff600"/></linearGradient>
<linearGradient id="h175" x2="0" y2="1"><stop offset="0.000" stop-color="#2cffd3"/><stop offset="0.434" stop-color="#5effa1"/><stop offset="0.756" stop-color="#abff54"/><stop offset="1.000" stop-color="#fbff04"/></linearGradient>
<linearGradient id="h176" x2="0" y2="1"><stop offset="0.000" stop-color="#26ffd9"/><stop offset="0.431" stop-color="#58ffa7"/><stop offset="0.750" stop-color="#a7ff58"/><stop offset="1.000" stop-color="#f1ff0e"/></linearGradient>
<linearGradient id="h177" x2="0" y2="1"><stop offset="0.000" stop-color="#28ffd7"/><stop offset="0.430" stop-color="#5dffa2"/><stop offset="1.000" stop-color="#f6ff09"/></linearGradient>
<linearGradient id="h178" x2="0" y2="1"><stop offset="0.000" stop-color="#3bffc4"/><stop offset="0.424" stop-color="#79ff86"/><stop offset="0.894" stop-color="#feff01"/><stop offset="1.000" stop-color="#ffe400"/></linearGradient>
<linearGradient id="h179" x2="0" y2="1"><stop offset="0.000" stop-color="#48ffb7"/><stop offset="0.426" stop-color="#8bff74"/><stop offset="0.804" stop-color="#fdff02"/><stop offset="1.000" stop-color="#ffcc00"/></linearGradient>
<linearGradient id="h180" x2="0" y2="1"><stop offset="0.000" stop-color="#60ff9f"/><stop offset="0.406" stop-color="#aaff55"/><stop offset="0.656" stop-color="#feff01"/><stop offset="1.000" stop-color="#ff9e00"/></linearGradient>
<linearGradient id="h181" x2="0" y2="1"><stop offset="0.000" stop-color="#4effb1"/><stop offset="0.408" stop-color="#95ff6a"/><stop offset="0.737" stop-color="#feff01"/><stop offset="1.000" stop-color="#ffbc00"/></linearGradient>
<linearGradient id="h182" x2="0" y2="1"><stop offset="0.000" stop-color="#3affc5"/><stop offset="0.408" stop-color="#7bff84"/><stop offset="0.862" stop-color="#fdff02"/><stop offset="1.000" stop-color="#ffe000"/></linearGradient>
<linearGradient id="h183" x2="0" y2="1"><stop offset="0.000" stop-color="#25ffda"/><stop offset="0.406" stop-color="#62ff9d"/><stop offset="0.734" stop-color="#bfff40"/><stop offset="1.000" stop-color="#faff05"/></linearGradient>
<linearGradient id="h184" x2="0" y2="1"><stop offset="0.000" stop-color="#2effd1"/><stop offset="0.408" stop-color="#70ff8f"/><stop offset="0.737" stop-color="#d0ff2f"/><stop offset="0.940" stop-color="#ffff00"/><stop offset="1.000" stop-color="#fff100"/></linearGradient>
<linearGradient id="h185" x2="0" y2="1"><stop offset="0.000" stop-color="#2effd1"/><stop offset="0.408" stop-color="#70ff8f"/><stop offset="0.737" stop-color="#d0ff2f"/><stop offset="0.941" stop-color="#ffff00"/><stop offset="1.000" stop-color="#fff100"/></linearGradient>
<linearGradient id="h186" x2="0" y2="1"><stop offset="0.000" stop-color="#2cffd3"/><stop offset="0.409" stop-color="#6bff94"/><stop offset="0.739" stop-color="#caff35"/><stop offset="1.000" stop-color="#fff700"/></linearGradient>
<linearGradient id="h187" x2="0" y2="1"><stop offset="0.000" stop-color="#28ffd7"/><stop offset="0.405" stop-color="#63ff9c"/><stop offset="0.733" stop-color="#c1ff3e"/><stop offset="1.000" stop-color="#fdff02"/></linearGradient>
<linearGradient id="h188" x2="0" y2="1"><stop offset="0.000" stop-color="#3cffc3"/><stop offset="0.405" stop-color="#7cff83"/><stop offset="0.857" stop-color="#fdff02"/><stop offset="1.000" stop-color="#ffde00"/></linearGradient>
<linearGradient id="h189" x2="0" y2="1"><stop offset="0.000" stop-color="#37ffc8"/><stop offset="0.409" stop-color="#73ff8c"/><stop offset="0.898" stop-color="#fcff03"/><stop offset="1.000" stop-color="#ffea00"/></linearGradient>
<linearGradient id="h190" x2="0" y2="1"><stop offset="0.000" stop-color="#00f0ff"/><stop offset="0.078" stop-color="#01fffe"/><stop offset="0.405" stop-color="#62ff9d"/><stop offset="0.717" stop-color="#faff05"/><stop offset="1.000" stop-color="#ffa500"/></linearGradient>
<linearGradient id="h191" x2="0" y2="1"><stop offset="0.000" stop-color="#0080ff"/><stop offset="0.214" stop-color="#00a6ff"/><stop offset="0.414" stop-color="#07fff8"/><stop offset="0.505" stop-color="#66ff99"/><stop offset="0.597" stop-color="#b5ff4a"/><stop offset="0.720" stop-color="#feff01"/><stop offset="1.000" stop-color="#ff9d00"/></linearGradient>
<linearGradient id="h192" x2="0" y2="1"><stop offset="0.000" stop-color="#00e6ff"/><stop offset="0.142" stop-color="#02fffd"/><stop offset="0.411" stop-color="#40ffbf"/><stop offset="0.901" stop-color="#fdff02"/><stop offset="1.000" stop-color="#ffdf00"/></linearGradient>
<linearGradient id="h193" x2="0" y2="1"><stop offset="0.000" stop-color="#0ffff0"/><stop offset="0.424" stop-color="#36ffc9"/><stop offset="1.000" stop-color="#c9ff36"/></linearGradient>
<linearGradient id="h194" x2="0" y2="1"><stop offset="0.000" stop-color="#09fff6"/><stop offset="0.426" stop-color="#30ffcf"/><stop offset="1.000" stop-color="#bdff42"/></linearGradient>
<linearGradient id="h195" x2="0" y2="1"><stop offset="0.000" stop-color="#10ffef"/><stop offset="0.419" stop-color="#3cffc3"/><stop offset="1.000" stop-color="#caff35"/></linearGradient>
<linearGradient id="h196" x2="0" y2="1"><stop offset="0.000" stop-color="#24ffdb"/><stop offset="0.413" stop-color="#59ffa6"/><stop offset="1.000" stop-color="#edff12"/></linearGradient>
<linearGradient id="h197" x2="0" y2="1"><stop offset="0.000" stop-color="#32ffcd"/><stop offset="0.420" stop-color="#6eff91"/><stop offset="0.965" stop-color="#fdff02"/><stop offset="1.000" stop-color="#fff700"/></linearGradient>
<linearGradient id="h198" x2="0" y2="1"><stop offset="0.000" stop-color="#32ffcd"/><stop offset="0.416" stop-color="#70ff8f"/><stop offset="0.970" stop-color="#ffff00"/><stop offset="1.000" stop-color="#fff700"/></linearGradient>
<linearGradient id="h199" x2="0" y2="1"><stop offset="0.000" stop-color="#38ffc7"/><stop offset="0.414" stop-color="#79ff86"/><stop offset="0.921" stop-color="#ffff00"/><stop offset="1.000" stop-color="#ffe900"/></linearGradient>
<linearGradient id="h200" x2="0" y2="1"><stop offset="0.000" stop-color="#3bffc4"/><stop offset="0.411" stop-color="#7dff82"/><stop offset="0.883" stop-color="#fcff03"/><stop offset="1.000" stop-color="#ffe100"/></linearGradient>
<linearGradient id="h201" x2="0" y2="1"><stop offset="0.000" stop-color="#31ffce"/><stop offset="0.411" stop-color="#70ff8f"/><stop offset="0.945" stop-color="#fdff02"/><stop offset="1.000" stop-color="#fff100"/></linearGradient>
<linearGradient id="h202" x2="0" y2="1"><stop offset="0.000" stop-color="#1dffe2"/><stop offset="0.411" stop-color="#55ffaa"/><stop offset="1.000" stop-color="#eaff15"/></linearGradient>
<linearGradient id="h203" x2="0" y2="1"><stop offset="0.000" stop-color="#08fff7"/><stop offset="0.420" stop-color="#39ffc6"/><stop offset="0.732" stop-color="#7cff83"/><stop offset="1.000" stop-color="#c6ff39"/></linearGradient>
<linearGradient id="h204" x2="0" y2="1"><stop offset="0.000" stop-color="#07fff8"/><stop offset="0.414" stop-color="#39ffc6"/><stop offset="0.720" stop-color="#7dff82"/><stop offset="1.000" stop-color="#c8ff37"/></linearGradient>
<linearGradient id="h205" x2="0" y2="1"><stop offset="0.000" stop-color="#00ffff"/><stop offset="0.413" stop-color="#2fffd0"/><stop offset="0.719" stop-color="#71ff8e"/><stop offset="1.000" stop-color="#bbff44"/></linearGradient>
<linearGradient id="h206" x2="0" y2="1"><stop offset="0.000" stop-color="#0efff1"/><stop offset="0.411" stop-color="#42ffbd"/><stop offset="1.000" stop-color="#d5ff2a"/></linearGradient>
<linearGradient id="h207" x2="0" y2="1"><stop offset="0.000" stop-color="#0efff1"/><stop offset="0.403" stop-color="#42ffbd"/><stop offset="1.000" stop-color="#d5ff2a"/></linearGradient>
<linearGradient id="h208" x2="0" y2="1"><stop offset="0.000" stop-color="#27ffd8"/><stop offset="0.405" stop-color="#65ff9a"/><stop offset="1.000" stop-color="#fff900"/></linearGradient>
<linearGradient id="h209" x2="0" y2="1"><stop offset="0.000" stop-color="#24ffdb"/><stop offset="0.403" stop-color="#61ff9e"/><stop offset="1.000" stop-color="#ffff00"/></linearGradient>
<linearGradient id="h210" x2="0" y2="1"><stop offset="0.000" stop-color="#18ffe7"/><stop offset="0.404" stop-color="#51ffae"/><stop offset="1.000" stop-color="#e9ff16"/></linearGradient>
<linearGradient id="h211" x2="0" y2="1"><stop offset="0.000" stop-color="#0ffff0"/><stop offset="0.394" stop-color="#43ffbc"/><stop offset="1.000" stop-color="#d7ff28"/></linearGradient>
<linearGradient id="h212" x2="0" y2="1"><stop offset="0.000" stop-color="#0efff1"/><stop offset="0.398" stop-color="#43ffbc"/><stop offset="0.677" stop-color="#85ff7a"/><stop offset="0.840" stop-color="#beff41"/><stop offset="1.000" stop-color="#deff21"/></linearGradient>
<linearGradient id="h213" x2="0" y2="1"><stop offset="0.000" stop-color="#11ffee"/><stop offset="0.394" stop-color="#48ffb7"/><stop offset="0.671" stop-color="#8bff74"/><stop offset="0.831" stop-color="#ddff22"/><stop offset="1.000" stop-color="#efff10"/></linearGradient>
<linearGradient id="h214" x2="0" y2="1"><stop offset="0.000" stop-color="#0ffff0"/><stop offset="0.383" stop-color="#44ffbb"/><stop offset="0.677" stop-color="#89ff76"/><stop offset="0.825" stop-color="#f1ff0e"/><stop offset="0.928" stop-color="#feff01"/><stop offset="0.942" stop-color="#fffd00"/><stop offset="1.000" stop-color="#ffc400"/></linearGradient>
<linearGradient id="h215" x2="0" y2="1"><stop offset="0.000" stop-color="#14ffeb"/><stop offset="0.379" stop-color="#4cffb3"/><stop offset="0.670" stop-color="#92ff6d"/><stop offset="0.772" stop-color="#fffe00"/><stop offset="0.977" stop-color="#ff0700"/><stop offset="1.000" stop-color="#e20000"/></linearGradient>
<linearGradient id="h216" x2="0" y2="1"><stop offset="0.000" stop-color="#13ffec"/><stop offset="0.380" stop-color="#4cffb3"/><stop offset="0.570" stop-color="#79ff86"/><stop offset="0.643" stop-color="#f4ff0b"/><stop offset="0.657" stop-color="#fff100"/><stop offset="0.687" stop-color="#ffc300"/><stop offset="0.847" stop-color="#ff0000"/><stop offset="0.877" stop-color="#d30000"/><stop offset="0.935" stop-color="#ad0000"/><stop offset="1.000" stop-color="#a90000"/></linearGradient>
<linearGradient id="h217" x2="0" y2="1"><stop offset="0.000" stop-color="#0bfff4"/><stop offset="0.383" stop-color="#41ffbe"/><stop offset="0.575" stop-color="#6fff90"/><stop offset="0.649" stop-color="#fdff02"/><stop offset="0.693" stop-color="#ffaf00"/><stop offset="0.840" stop-color="#ff0100"/><stop offset="0.885" stop-color="#b50000"/><stop offset="0.899" stop-color="#ad0000"/><stop offset="1.000" stop-color="#a90000"/></linearGradient>
<linearGradient id="h218" x2="0" y2="1"><stop offset="0.000" stop-color="#08fff7"/><stop offset="0.381" stop-color="#3fffc0"/><stop offset="0.674" stop-color="#82ff7d"/><stop offset="0.689" stop-color="#90ff6f"/><stop offset="0.732" stop-color="#e8ff17"/><stop offset="0.747" stop-color="#fff900"/><stop offset="0.952" stop-color="#fc0000"/><stop offset="1.000" stop-color="#ad0000"/></linearGradient>
<linearGradient id="h219" x2="0" y2="1"><stop offset="0.000" stop-color="#00f6ff"/><stop offset="0.088" stop-color="#00ffff"/><stop offset="0.382" stop-color="#29ffd6"/><stop offset="0.822" stop-color="#8dff72"/><stop offset="0.881" stop-color="#b6ff49"/><stop offset="0.925" stop-color="#fdff02"/><stop offset="1.000" stop-color="#ffa100"/></linearGradient>
<linearGradient id="h220" x2="0" y2="1"><stop offset="0.000" stop-color="#00f7ff"/><stop offset="0.088" stop-color="#00ffff"/><stop offset="0.380" stop-color="#2bffd4"/><stop offset="0.672" stop-color="#69ff96"/><stop offset="0.833" stop-color="#d7ff28"/><stop offset="1.000" stop-color="#e5ff1a"/></linearGradient>
<linearGradient id="h221" x2="0" y2="1"><stop offset="0.000" stop-color="#00f3ff"/><stop offset="0.117" stop-color="#01fffe"/><stop offset="0.394" stop-color="#2affd5"/><stop offset="0.672" stop-color="#65ff9a"/><stop offset="0.832" stop-color="#adff52"/><stop offset="1.000" stop-color="#cbff34"/></linearGradient>
<linearGradient id="h222" x2="0" y2="1"><stop offset="0.000" stop-color="#12ffed"/><stop offset="0.406" stop-color="#50ffaf"/><stop offset="1.000" stop-color="#f0ff0f"/></linearGradient>
<linearGradient id="h223" x2="0" y2="1"><stop offset="0.000" stop-color="#29ffd6"/><stop offset="0.405" stop-color="#6dff92"/><stop offset="0.899" stop-color="#fcff03"/><stop offset="1.000" stop-color="#ffe500"/></linearGradient>
<linearGradient id="h224" x2="0" y2="1"><stop offset="0.000" stop-color="#24ffdb"/><stop offset="0.390" stop-color="#61ff9e"/><stop offset="0.946" stop-color="#ffff00"/><stop offset="1.000" stop-color="#fff000"/></linearGradient>
<linearGradient id="h225" x2="0" y2="1"><stop offset="0.000" stop-color="#12ffed"/><stop offset="0.411" stop-color="#49ffb6"/><stop offset="1.000" stop-color="#ebff14"/></linearGradient>
<linearGradient id="h226" x2="0" y2="1"><stop offset="0.000" stop-color="#0dfff2"/><stop offset="0.411" stop-color="#40ffbf"/><stop offset="0.715" stop-color="#9bff64"/><stop offset="1.000" stop-color="#e0ff1f"/></linearGradient>
<linearGradient id="h227" x2="0" y2="1"><stop offset="0.000" stop-color="#16ffe9"/><stop offset="0.418" stop-color="#4bffb4"/><stop offset="0.728" stop-color="#adff52"/><stop offset="1.000" stop-color="#f1ff0e"/></linearGradient>
<linearGradient id="h228" x2="0" y2="1"><stop offset="0.000" stop-color="#1affe5"/><stop offset="0.405" stop-color="#5effa1"/><stop offset="0.732" stop-color="#bdff42"/><stop offset="1.000" stop-color="#fdff02"/></linearGradient>
<linearGradient id="h229" x2="0" y2="1"><stop offset="0.000" stop-color="#1fffe0"/><stop offset="0.927" stop-color="#fdff02"/><stop offset="1.000" stop-color="#fff000"/></linearGradient>
<linearGradient id="h230" x2="0" y2="1"><stop offset="0.000" stop-color="#15ffea"/><stop offset="1.000" stop-color="#fbff04"/></linearGradient>
<linearGradient id="h231" x2="0" y2="1"><stop offset="0.000" stop-color="#06fff9"/><stop offset="0.396" stop-color="#43ffbc"/><stop offset="0.716" stop-color="#9dff62"/><stop offset="1.000" stop-color="#d7ff28"/></linearGradient>
<linearGradient id="h232" x2="0" y2="1"><stop offset="0.000" stop-color="#0bfff4"/><stop offset="0.413" stop-color="#3bffc4"/><stop offset="0.719" stop-color="#99ff66"/><stop offset="1.000" stop-color="#daff25"/></linearGradient>
<linearGradient id="h233" x2="0" y2="1"><stop offset="0.000" stop-color="#1dffe2"/><stop offset="0.405" stop-color="#54ffab"/><stop offset="1.000" stop-color="#f5ff0a"/></linearGradient>
<linearGradient id="h234" x2="0" y2="1"><stop offset="0.000" stop-color="#15ffea"/><stop offset="0.399" stop-color="#48ffb7"/><stop offset="1.000" stop-color="#ddff22"/></linearGradient>
<linearGradient id="h235" x2="0" y2="1"><stop offset="0.000" stop-color="#1bffe4"/><stop offset="0.393" stop-color="#4dffb2"/><stop offset="1.000" stop-color="#e0ff1f"/></linearGradient>
<linearGradient id="h236" x2="0" y2="1"><stop offset="0.000" stop-color="#2effd1"/><stop offset="0.393" stop-color="#5fffa0"/><stop offset="1.000" stop-color="#f8ff07"/></linearGradient>
<linearGradient id="h237" x2="0" y2="1"><stop offset="0.000" stop-color="#36ffc9"/><stop offset="0.392" stop-color="#62ff9d"/><stop offset="0.667" stop-color="#9fff60"/><stop offset="1.000" stop-color="#fdff02"/></linearGradient>
<linearGradient id="h238" x2="0" y2="1"><stop offset="0.000" stop-color="#2bffd4"/><stop offset="0.373" stop-color="#49ffb6"/><stop offset="0.661" stop-color="#80ff7f"/><stop offset="0.747" stop-color="#baff45"/><stop offset="0.804" stop-color="#cfff30"/><stop offset="1.000" stop-color="#ebff14"/></linearGradient>
<linearGradient id="h239" x2="0" y2="1"><stop offset="0.000" stop-color="#2bffd4"/><stop offset="0.374" stop-color="#43ffbc"/><stop offset="0.662" stop-color="#74ff8b"/><stop offset="0.748" stop-color="#cfff30"/><stop offset="0.806" stop-color="#ebff14"/><stop offset="0.935" stop-color="#fffc00"/><stop offset="1.000" stop-color="#ffbe00"/></linearGradient>
<linearGradient id="h240" x2="0" y2="1"><stop offset="0.000" stop-color="#39ffc6"/><stop offset="0.370" stop-color="#4fffb0"/><stop offset="0.669" stop-color="#81ff7e"/><stop offset="0.726" stop-color="#92ff6d"/><stop offset="0.740" stop-color="#a0ff5f"/><stop offset="0.783" stop-color="#f3ff0c"/><stop offset="0.797" stop-color="#fff000"/><stop offset="0.868" stop-color="#ff7700"/><stop offset="0.982" stop-color="#fc0000"/><stop offset="1.000" stop-color="#e10000"/></linearGradient>
<linearGradient id="h241" x2="0" y2="1"><stop offset="0.000" stop-color="#60ff9f"/><stop offset="0.557" stop-color="#aaff55"/><stop offset="0.615" stop-color="#f1ff0e"/><stop offset="0.629" stop-color="#fffb00"/><stop offset="0.743" stop-color="#ff5d00"/><stop offset="0.829" stop-color="#fb0000"/><stop offset="0.858" stop-color="#cd0000"/><stop offset="0.915" stop-color="#ac0000"/><stop offset="1.000" stop-color="#a80000"/></linearGradient>
<linearGradient id="h242" x2="0" y2="1"><stop offset="0.000" stop-color="#6aff95"/><stop offset="0.562" stop-color="#b9ff46"/><stop offset="0.605" stop-color="#faff05"/><stop offset="0.678" stop-color="#ff9700"/><stop offset="0.750" stop-color="#ff4400"/><stop offset="0.822" stop-color="#f80000"/><stop offset="0.865" stop-color="#b40000"/><stop offset="0.879" stop-color="#ac0000"/><stop offset="1.000" stop-color="#a80000"/></linearGradient>
<linearGradient id="h243" x2="0" y2="1"><stop offset="0.000" stop-color="#50ffaf"/><stop offset="0.371" stop-color="#6dff92"/><stop offset="0.657" stop-color="#a3ff5c"/><stop offset="0.728" stop-color="#efff10"/><stop offset="0.742" stop-color="#fffb00"/><stop offset="0.814" stop-color="#ff8000"/><stop offset="0.914" stop-color="#ff1a00"/><stop offset="0.928" stop-color="#ff0300"/><stop offset="0.971" stop-color="#bd0000"/><stop offset="1.000" stop-color="#ac0000"/></linearGradient>
<linearGradient id="h244" x2="0" y2="1"><stop offset="0.000" stop-color="#2cffd3"/><stop offset="0.377" stop-color="#45ffba"/><stop offset="0.667" stop-color="#79ff86"/><stop offset="0.754" stop-color="#d8ff27"/><stop offset="0.826" stop-color="#f9ff06"/><stop offset="0.928" stop-color="#fdff02"/><stop offset="1.000" stop-color="#ff9b00"/></linearGradient>
<linearGradient id="h245" x2="0" y2="1"><stop offset="0.000" stop-color="#22ffdd"/><stop offset="0.386" stop-color="#42ffbd"/><stop offset="0.658" stop-color="#7aff85"/><stop offset="0.744" stop-color="#bdff42"/><stop offset="0.815" stop-color="#d8ff27"/><stop offset="1.000" stop-color="#ebff14"/></linearGradient>
<linearGradient id="h246" x2="0" y2="1"><stop offset="0.000" stop-color="#3dffc2"/><stop offset="0.387" stop-color="#6fff90"/><stop offset="0.817" stop-color="#e7ff18"/><stop offset="0.917" stop-color="#fdff02"/><stop offset="1.000" stop-color="#ffea00"/></linearGradient>
<linearGradient id="h247" x2="0" y2="1"><stop offset="0.000" stop-color="#42ffbd"/><stop offset="0.390" stop-color="#7fff80"/><stop offset="0.823" stop-color="#fcff03"/><stop offset="1.000" stop-color="#ffd000"/></linearGradient>
<linearGradient id="h248" x2="0" y2="1"><stop offset="0.000" stop-color="#35ffca"/><stop offset="0.388" stop-color="#75ff8a"/><stop offset="0.861" stop-color="#feff01"/><stop offset="1.000" stop-color="#ffdb00"/></linearGradient>
<linearGradient id="h249" x2="0" y2="1"><stop offset="0.000" stop-color="#24ffdb"/><stop offset="0.373" stop-color="#5cffa3"/><stop offset="0.674" stop-color="#b5ff4a"/><stop offset="1.000" stop-color="#fff700"/></linearGradient>
<linearGradient id="h250" x2="0" y2="1"><stop offset="0.000" stop-color="#25ffda"/><stop offset="0.374" stop-color="#5fffa0"/><stop offset="0.677" stop-color="#bdff42"/><stop offset="0.936" stop-color="#feff01"/><stop offset="1.000" stop-color="#ffef00"/></linearGradient>
<linearGradient id="h251" x2="0" y2="1"><stop offset="0.000" stop-color="#36ffc9"/><stop offset="0.395" stop-color="#7cff83"/><stop offset="0.805" stop-color="#ffff00"/><stop offset="1.000" stop-color="#ffc800"/></linearGradient>
<linearGradient id="h252" x2="0" y2="1"><stop offset="0.000" stop-color="#32ffcd"/><stop offset="0.381" stop-color="#75ff8a"/><stop offset="0.806" stop-color="#feff01"/><stop offset="1.000" stop-color="#ffca00"/></linearGradient>
<linearGradient id="h253" x2="0" y2="1"><stop offset="0.000" stop-color="#2fffd0"/><stop offset="0.378" stop-color="#73ff8c"/><stop offset="0.801" stop-color="#feff01"/><stop offset="1.000" stop-color="#ffca00"/></linearGradient>
<linearGradient id="h254" x2="0" y2="1"><stop offset="0.000" stop-color="#1dffe2"/><stop offset="0.381" stop-color="#5dffa2"/><stop offset="0.689" stop-color="#c6ff39"/><stop offset="0.894" stop-color="#fcff03"/><stop offset="1.000" stop-color="#ffe600"/></linearGradient>
<linearGradient id="h255" x2="0" y2="1"><stop offset="0.000" stop-color="#26ffd9"/><stop offset="0.411" stop-color="#6eff91"/><stop offset="0.853" stop-color="#fffe00"/><stop offset="1.000" stop-color="#ffd300"/></linearGradient>
<linearGradient id="h256" x2="0" y2="1"><stop offset="0.000" stop-color="#17ffe8"/><stop offset="0.390" stop-color="#53ffac"/><stop offset="0.705" stop-color="#bbff44"/><stop offset="0.945" stop-color="#fcff03"/><stop offset="1.000" stop-color="#fff300"/></linearGradient>
<linearGradient id="h257" x2="0" y2="1"><stop offset="0.000" stop-color="#22ffdd"/><stop offset="0.410" stop-color="#64ff9b"/><stop offset="0.882" stop-color="#fbff04"/><stop offset="1.000" stop-color="#ffe100"/></linearGradient>
<linearGradient id="h258" x2="0" y2="1"><stop offset="0.000" stop-color="#26ffd9"/><stop offset="0.402" stop-color="#67ff98"/><stop offset="0.685" stop-color="#caff35"/><stop offset="0.864" stop-color="#fcff03"/><stop offset="1.000" stop-color="#ffdc00"/></linearGradient>
<linearGradient id="h259" x2="0" y2="1"><stop offset="0.000" stop-color="#2dffd2"/><stop offset="0.380" stop-color="#6bff94"/><stop offset="0.672" stop-color="#d3ff2c"/><stop offset="0.833" stop-color="#ffff00"/><stop offset="1.000" stop-color="#ffd200"/></linearGradient>
<linearGradient id="h260" x2="0" y2="1"><stop offset="0.000" stop-color="#15ffea"/><stop offset="0.407" stop-color="#4cffb3"/><stop offset="0.708" stop-color="#afff50"/><stop offset="1.000" stop-color="#fcff03"/></linearGradient>
<linearGradient id="h261" x2="0" y2="1"><stop offset="0.000" stop-color="#0efff1"/><stop offset="0.408" stop-color="#3fffc0"/><stop offset="0.710" stop-color="#a0ff5f"/><stop offset="1.000" stop-color="#ebff14"/></linearGradient>
<linearGradient id="h262" x2="0" y2="1"><stop offset="0.000" stop-color="#14ffeb"/><stop offset="0.404" stop-color="#47ffb8"/><stop offset="0.703" stop-color="#a9ff56"/><stop offset="1.000" stop-color="#f6ff09"/></linearGradient>
<linearGradient id="h263" x2="0" y2="1"><stop offset="0.000" stop-color="#2affd5"/><stop offset="0.402" stop-color="#66ff99"/><stop offset="0.685" stop-color="#d4ff2b"/><stop offset="0.863" stop-color="#fcff03"/><stop offset="1.000" stop-color="#ffdd00"/></linearGradient>
<linearGradient id="h264" x2="0" y2="1"><stop offset="0.000" stop-color="#3affc5"/><stop offset="0.407" stop-color="#7bff84"/><stop offset="0.693" stop-color="#efff10"/><stop offset="0.784" stop-color="#feff01"/><stop offset="1.000" stop-color="#ffc000"/></linearGradient>
<linearGradient id="h265" x2="0" y2="1"><stop offset="0.000" stop-color="#3fffc0"/><stop offset="0.387" stop-color="#7fff80"/><stop offset="0.745" stop-color="#feff01"/><stop offset="0.953" stop-color="#ffc300"/><stop offset="1.000" stop-color="#ff8200"/></linearGradient>
<linearGradient id="h266" x2="0" y2="1"><stop offset="0.000" stop-color="#3effc1"/><stop offset="0.405" stop-color="#81ff7e"/><stop offset="0.495" stop-color="#a6ff59"/><stop offset="0.540" stop-color="#f3ff0c"/><stop offset="0.555" stop-color="#fff100"/><stop offset="0.585" stop-color="#ffbd00"/><stop offset="0.690" stop-color="#ff4000"/><stop offset="0.765" stop-color="#fc0000"/><stop offset="0.900" stop-color="#b60000"/><stop offset="1.000" stop-color="#ab0000"/></linearGradient>
<linearGradient id="h267" x2="0" y2="1"><stop offset="0.000" stop-color="#00f7ff"/><stop offset="0.030" stop-color="#01fffe"/><stop offset="0.208" stop-color="#54ffab"/><stop offset="0.387" stop-color="#72ff8d"/><stop offset="0.402" stop-color="#7fff80"/><stop offset="0.461" stop-color="#eeff11"/><stop offset="0.476" stop-color="#fff500"/><stop offset="0.580" stop-color="#ff6000"/><stop offset="0.685" stop-color="#fe0000"/><stop offset="0.848" stop-color="#ad0000"/><stop offset="1.000" stop-color="#a80000"/></linearGradient>
<linearGradient id="h268" x2="0" y2="1"><stop offset="0.000" stop-color="#004dff"/><stop offset="0.149" stop-color="#00fcff"/><stop offset="0.209" stop-color="#4cffb3"/><stop offset="0.389" stop-color="#6aff95"/><stop offset="0.404" stop-color="#78ff87"/><stop offset="0.463" stop-color="#f1ff0e"/><stop offset="0.478" stop-color="#ffef00"/><stop offset="0.493" stop-color="#ffd300"/><stop offset="0.583" stop-color="#ff5b00"/><stop offset="0.688" stop-color="#fc0000"/><stop offset="0.852" stop-color="#ad0000"/><stop offset="1.000" stop-color="#a80000"/></linearGradient>
<linearGradient id="h269" x2="0" y2="1"><stop offset="0.000" stop-color="#00f4ff"/><stop offset="0.045" stop-color="#04fffb"/><stop offset="0.211" stop-color="#4fffb0"/><stop offset="0.392" stop-color="#6cff93"/><stop offset="0.407" stop-color="#7aff85"/><stop offset="0.467" stop-color="#f1ff0e"/><stop offset="0.482" stop-color="#ffef00"/><stop offset="0.588" stop-color="#ff5c00"/><stop offset="0.693" stop-color="#fc0000"/><stop offset="0.844" stop-color="#b10000"/><stop offset="1.000" stop-color="#a80000"/></linearGradient>
<linearGradient id="h270" x2="0" y2="1"><stop offset="0.000" stop-color="#31ffce"/><stop offset="0.388" stop-color="#6eff91"/><stop offset="0.403" stop-color="#7aff85"/><stop offset="0.477" stop-color="#fcff03"/><stop offset="0.492" stop-color="#ffe900"/><stop offset="0.582" stop-color="#ff6a00"/><stop offset="0.686" stop-color="#ff0400"/><stop offset="0.850" stop-color="#b00000"/><stop offset="1.000" stop-color="#a80000"/></linearGradient>
<linearGradient id="h271" x2="0" y2="1"><stop offset="0.000" stop-color="#30ffcf"/><stop offset="0.404" stop-color="#73ff8c"/><stop offset="0.494" stop-color="#93ff6c"/><stop offset="0.584" stop-color="#c3ff3c"/><stop offset="0.614" stop-color="#f4ff0b"/><stop offset="0.629" stop-color="#fff100"/><stop offset="0.704" stop-color="#ff7800"/><stop offset="0.824" stop-color="#ff0800"/><stop offset="0.839" stop-color="#fb0000"/><stop offset="1.000" stop-color="#ad0000"/></linearGradient>
<linearGradient id="h272" x2="0" y2="1"><stop offset="0.000" stop-color="#3cffc3"/><stop offset="0.389" stop-color="#81ff7e"/><stop offset="0.493" stop-color="#a5ff5a"/><stop offset="0.583" stop-color="#d4ff2b"/><stop offset="0.688" stop-color="#f6ff09"/><stop offset="0.763" stop-color="#ffff00"/><stop offset="0.957" stop-color="#ffca00"/><stop offset="1.000" stop-color="#ff9f00"/></linearGradient>
<linearGradient id="h273" x2="0" y2="1"><stop offset="0.000" stop-color="#43ffbc"/><stop offset="0.388" stop-color="#8dff72"/><stop offset="0.701" stop-color="#fcff03"/><stop offset="1.000" stop-color="#ffbf00"/></linearGradient>
<linearGradient id="h274" x2="0" y2="1"><stop offset="0.000" stop-color="#35ffca"/><stop offset="0.391" stop-color="#7dff82"/><stop offset="0.707" stop-color="#eaff15"/><stop offset="0.813" stop-color="#feff01"/><stop offset="1.000" stop-color="#ffd900"/></linearGradient>
<linearGradient id="h275" x2="0" y2="1"><stop offset="0.000" stop-color="#2dffd2"/><stop offset="0.393" stop-color="#77ff88"/><stop offset="0.711" stop-color="#ddff22"/><stop offset="0.877" stop-color="#feff01"/><stop offset="1.000" stop-color="#ffe700"/></linearGradient>
<linearGradient id="h276" x2="0" y2="1"><stop offset="0.000" stop-color="#41ffbe"/><stop offset="0.387" stop-color="#94ff6b"/><stop offset="0.699" stop-color="#ffff00"/><stop offset="1.000" stop-color="#ffc200"/></linearGradient>
<linearGradient id="h277" x2="0" y2="1"><stop offset="0.000" stop-color="#46ffb9"/><stop offset="0.387" stop-color="#9eff61"/><stop offset="0.670" stop-color="#ffff00"/><stop offset="1.000" stop-color="#ffb800"/></linearGradient>
<linearGradient id="h278" x2="0" y2="1"><stop offset="0.000" stop-color="#37ffc8"/><stop offset="0.389" stop-color="#8eff71"/><stop offset="0.704" stop-color="#f2ff0d"/><stop offset="0.779" stop-color="#fffe00"/><stop offset="1.000" stop-color="#ffd400"/></linearGradient>
<linearGradient id="h279" x2="0" y2="1"><stop offset="0.000" stop-color="#24ffdb"/><stop offset="0.404" stop-color="#77ff88"/><stop offset="0.730" stop-color="#d5ff2a"/><stop offset="1.000" stop-color="#fff800"/></linearGradient>
<linearGradient id="h280" x2="0" y2="1"><stop offset="0.000" stop-color="#70ff8f"/><stop offset="0.746" stop-color="#fdff02"/><stop offset="1.000" stop-color="#ffd600"/></linearGradient>
<linearGradient id="h281" x2="0" y2="1"><stop offset="0.000" stop-color="#adff52"/><stop offset="0.792" stop-color="#feff01"/><stop offset="1.000" stop-color="#ffe300"/></linearGradient>
<linearGradient id="h282" x2="0" y2="1"><stop offset="0.000" stop-color="#b4ff4b"/><stop offset="0.840" stop-color="#feff01"/><stop offset="1.000" stop-color="#ffeb00"/></linearGradient>
<linearGradient id="h283" x2="0" y2="1"><stop offset="0.000" stop-color="#bbff44"/><stop offset="0.771" stop-color="#ffff00"/><stop offset="1.000" stop-color="#ffde00"/></linearGradient>
<linearGradient id="h284" x2="0" y2="1"><stop offset="0.000" stop-color="#b9ff46"/><stop offset="0.612" stop-color="#ffff00"/><stop offset="1.000" stop-color="#ffc900"/></linearGradient>
<linearGradient id="h285" x2="0" y2="1"><stop offset="0.000" stop-color="#65ff9a"/><stop offset="0.741" stop-color="#feff01"/><stop offset="1.000" stop-color="#ffcd00"/></linearGradient>
<linearGradient id="h286" x2="0" y2="1"><stop offset="0.000" stop-color="#39ffc6"/><stop offset="0.388" stop-color="#93ff6c"/><stop offset="0.776" stop-color="#fdff02"/><stop offset="1.000" stop-color="#ffd100"/></linearGradient>
<linearGradient id="h287" x2="0" y2="1"><stop offset="0.000" stop-color="#39ffc6"/><stop offset="0.387" stop-color="#90ff6f"/><stop offset="0.790" stop-color="#feff01"/><stop offset="1.000" stop-color="#ffd200"/></linearGradient>
<linearGradient id="h288" x2="0" y2="1"><stop offset="0.000" stop-color="#29ffd6"/><stop offset="0.387" stop-color="#79ff86"/><stop offset="0.700" stop-color="#cfff30"/><stop offset="0.923" stop-color="#feff01"/><stop offset="1.000" stop-color="#fff000"/></linearGradient>
<linearGradient id="h289" x2="0" y2="1"><stop offset="0.000" stop-color="#17ffe8"/><stop offset="0.408" stop-color="#63ff9c"/><stop offset="0.710" stop-color="#c4ff3b"/><stop offset="1.000" stop-color="#f1ff0e"/></linearGradient>
<linearGradient id="h290" x2="0" y2="1"><stop offset="0.000" stop-color="#12ffed"/><stop offset="0.494" stop-color="#6dff92"/><stop offset="0.602" stop-color="#98ff67"/><stop offset="0.725" stop-color="#dbff24"/><stop offset="1.000" stop-color="#f1ff0e"/></linearGradient>
<linearGradient id="h291" x2="0" y2="1"><stop offset="0.000" stop-color="#24ffdb"/><stop offset="0.412" stop-color="#71ff8e"/><stop offset="0.855" stop-color="#e4ff1b"/><stop offset="0.916" stop-color="#fffe00"/><stop offset="1.000" stop-color="#ffa600"/></linearGradient>
<linearGradient id="h292" x2="0" y2="1"><stop offset="0.000" stop-color="#32ffcd"/><stop offset="0.396" stop-color="#7eff81"/><stop offset="0.487" stop-color="#cbff34"/><stop offset="0.533" stop-color="#fffc00"/><stop offset="0.609" stop-color="#ff9a00"/><stop offset="0.701" stop-color="#ff3900"/><stop offset="0.761" stop-color="#ff0700"/><stop offset="0.975" stop-color="#ae0000"/><stop offset="1.000" stop-color="#ac0000"/></linearGradient>
<linearGradient id="h293" x2="0" y2="1"><stop offset="0.000" stop-color="#41ffbe"/><stop offset="0.394" stop-color="#8fff70"/><stop offset="0.410" stop-color="#9cff63"/><stop offset="0.470" stop-color="#fffa00"/><stop offset="0.501" stop-color="#ffc800"/><stop offset="0.698" stop-color="#ff0200"/><stop offset="0.910" stop-color="#af0000"/><stop offset="1.000" stop-color="#aa0000"/></linearGradient>
<linearGradient id="h294" x2="0" y2="1"><stop offset="0.000" stop-color="#37ffc8"/><stop offset="0.393" stop-color="#81ff7e"/><stop offset="0.484" stop-color="#9bff64"/><stop offset="0.604" stop-color="#fffe00"/><stop offset="0.771" stop-color="#ff4600"/><stop offset="0.846" stop-color="#ff0100"/><stop offset="1.000" stop-color="#c10000"/></linearGradient>
<linearGradient id="h295" x2="0" y2="1"><stop offset="0.000" stop-color="#43ffbc"/><stop offset="0.408" stop-color="#93ff6c"/><stop offset="0.590" stop-color="#d5ff2a"/><stop offset="0.741" stop-color="#feff01"/><stop offset="0.968" stop-color="#ffc700"/><stop offset="1.000" stop-color="#ffaf00"/></linearGradient>
<linearGradient id="h296" x2="0" y2="1"><stop offset="0.000" stop-color="#35ffca"/><stop offset="0.413" stop-color="#7eff81"/><stop offset="0.718" stop-color="#eaff15"/><stop offset="0.856" stop-color="#ffff00"/><stop offset="1.000" stop-color="#ffd800"/></linearGradient>
<linearGradient id="h297" x2="0" y2="1"><stop offset="0.000" stop-color="#1dffe2"/><stop offset="0.403" stop-color="#5bffa4"/><stop offset="0.701" stop-color="#baff45"/><stop offset="1.000" stop-color="#f9ff06"/></linearGradient>
<linearGradient id="h298" x2="0" y2="1"><stop offset="0.000" stop-color="#07fff8"/><stop offset="0.409" stop-color="#3bffc4"/><stop offset="1.000" stop-color="#cfff30"/></linearGradient>
<linearGradient id="h299" x2="0" y2="1"><stop offset="0.000" stop-color="#0efff1"/><stop offset="0.402" stop-color="#42ffbd"/><stop offset="1.000" stop-color="#dbff24"/></linearGradient>
<linearGradient id="h300" x2="0" y2="1"><stop offset="0.000" stop-color="#1bffe4"/><stop offset="0.402" stop-color="#52ffad"/><stop offset="1.000" stop-color="#f4ff0b"/></linearGradient>
<linearGradient id="h301" x2="0" y2="1"><stop offset="0.000" stop-color="#0ffff0"/><stop offset="0.406" stop-color="#40ffbf"/><stop offset="1.000" stop-color="#ddff22"/></linearGradient>
<linearGradient id="h302" x2="0" y2="1"><stop offset="0.000" stop-color="#10ffef"/><stop offset="0.410" stop-color="#44ffbb"/><stop offset="1.000" stop-color="#e0ff1f"/></linearGradient>
<linearGradient id="h303" x2="0" y2="1"><stop offset="0.000" stop-color="#1affe5"/><stop offset="0.416" stop-color="#56ffa9"/><stop offset="1.000" stop-color="#f3ff0c"/></linearGradient>
<linearGradient id="h304" x2="0" y2="1"><stop offset="0.000" stop-color="#14ffeb"/><stop offset="0.412" stop-color="#50ffaf"/><stop offset="0.717" stop-color="#a6ff59"/><stop offset="1.000" stop-color="#e7ff18"/></linearGradient>
<linearGradient id="h305" x2="0" y2="1"><stop offset="0.000" stop-color="#06fff9"/><stop offset="0.396" stop-color="#3fffc0"/><stop offset="0.716" stop-color="#94ff6b"/><stop offset="1.000" stop-color="#cdff32"/></linearGradient>
<linearGradient id="h306" x2="0" y2="1"><stop offset="0.000" stop-color="#18ffe7"/><stop offset="0.400" stop-color="#5affa5"/><stop offset="0.722" stop-color="#b4ff4b"/><stop offset="1.000" stop-color="#efff10"/></linearGradient>
<linearGradient id="h307" x2="0" y2="1"><stop offset="0.000" stop-color="#5effa1"/><stop offset="0.399" stop-color="#9eff61"/><stop offset="0.783" stop-color="#feff01"/><stop offset="1.000" stop-color="#ffd100"/></linearGradient>
<linearGradient id="h308" x2="0" y2="1"><stop offset="0.000" stop-color="#ff8900"/><stop offset="0.709" stop-color="#ff6400"/><stop offset="1.000" stop-color="#ff2300"/></linearGradient>
<linearGradient id="h309" x2="0" y2="1"><stop offset="0.000" stop-color="#ff7e00"/><stop offset="0.704" stop-color="#ff5200"/><stop offset="1.000" stop-color="#ff0f00"/></linearGradient>
<linearGradient id="h310" x2="0" y2="1"><stop offset="0.000" stop-color="#ff7700"/><stop offset="0.700" stop-color="#ff4700"/><stop offset="1.000" stop-color="#ff0200"/></linearGradient>
<linearGradient id="h311" x2="0" y2="1"><stop offset="0.000" stop-color="#ffc500"/><stop offset="0.397" stop-color="#ffaf00"/><stop offset="0.703" stop-color="#ff8e00"/><stop offset="1.000" stop-color="#ff4f00"/></linearGradient>
<linearGradient id="h312" x2="0" y2="1"><stop offset="0.000" stop-color="#0dfff2"/><stop offset="0.397" stop-color="#4effb1"/><stop offset="0.718" stop-color="#a7ff58"/><stop offset="1.000" stop-color="#dcff23"/></linearGradient>
<linearGradient id="h313" x2="0" y2="1"><stop offset="0.000" stop-color="#06fff9"/><stop offset="0.399" stop-color="#46ffb9"/><stop offset="0.599" stop-color="#83ff7c"/><stop offset="0.721" stop-color="#b5ff4a"/><stop offset="1.000" stop-color="#e0ff1f"/></linearGradient>
<linearGradient id="h314" x2="0" y2="1"><stop offset="0.000" stop-color="#17ffe8"/><stop offset="0.406" stop-color="#63ff9c"/><stop offset="0.587" stop-color="#a5ff5a"/><stop offset="0.707" stop-color="#e6ff19"/><stop offset="1.000" stop-color="#fff800"/></linearGradient>
<linearGradient id="h315" x2="0" y2="1"><stop offset="0.000" stop-color="#25ffda"/><stop offset="0.398" stop-color="#71ff8e"/><stop offset="0.596" stop-color="#bfff40"/><stop offset="0.704" stop-color="#f4ff0b"/><stop offset="0.811" stop-color="#feff01"/><stop offset="0.918" stop-color="#ffe900"/><stop offset="1.000" stop-color="#ff9d00"/></linearGradient>
<linearGradient id="h316" x2="0" y2="1"><stop offset="0.000" stop-color="#2cffd3"/><stop offset="0.413" stop-color="#77ff88"/><stop offset="0.505" stop-color="#9cff63"/><stop offset="0.596" stop-color="#d9ff26"/><stop offset="0.612" stop-color="#efff10"/><stop offset="0.627" stop-color="#fff800"/><stop offset="0.719" stop-color="#ff7300"/><stop offset="0.856" stop-color="#fc0000"/><stop offset="0.979" stop-color="#ae0000"/><stop offset="1.000" stop-color="#ad0000"/></linearGradient>
<linearGradient id="h317" x2="0" y2="1"><stop offset="0.000" stop-color="#00e9ff"/><stop offset="0.076" stop-color="#01fffe"/><stop offset="0.214" stop-color="#41ffbe"/><stop offset="0.397" stop-color="#5fffa0"/><stop offset="0.412" stop-color="#69ff96"/><stop offset="0.489" stop-color="#c5ff3a"/><stop offset="0.519" stop-color="#f4ff0b"/><stop offset="0.534" stop-color="#ffef00"/><stop offset="0.595" stop-color="#ff8500"/><stop offset="0.748" stop-color="#ff0100"/><stop offset="0.870" stop-color="#b30000"/><stop offset="1.000" stop-color="#a90000"/></linearGradient>
<linearGradient id="h318" x2="0" y2="1"><stop offset="0.000" stop-color="#004dff"/><stop offset="0.123" stop-color="#00b3ff"/><stop offset="0.169" stop-color="#00f7ff"/><stop offset="0.184" stop-color="#0ffff0"/><stop offset="0.215" stop-color="#3dffc2"/><stop offset="0.399" stop-color="#5affa5"/><stop offset="0.414" stop-color="#65ff9a"/><stop offset="0.506" stop-color="#f7ff08"/><stop offset="0.521" stop-color="#fff000"/><stop offset="0.598" stop-color="#ff7b00"/><stop offset="0.736" stop-color="#ff0500"/><stop offset="0.874" stop-color="#ad0000"/><stop offset="1.000" stop-color="#a90000"/></linearGradient>
<linearGradient id="h319" x2="0" y2="1"><stop offset="0.000" stop-color="#00dfff"/><stop offset="0.107" stop-color="#00ffff"/><stop offset="0.213" stop-color="#35ffca"/><stop offset="0.396" stop-color="#56ffa9"/><stop offset="0.412" stop-color="#61ff9e"/><stop offset="0.518" stop-color="#fff800"/><stop offset="0.595" stop-color="#ff7d00"/><stop offset="0.732" stop-color="#ff0700"/><stop offset="0.869" stop-color="#af0000"/><stop offset="1.000" stop-color="#a90000"/></linearGradient>
<linearGradient id="h320" x2="0" y2="1"><stop offset="0.000" stop-color="#0dfff2"/><stop offset="0.397" stop-color="#5affa5"/><stop offset="0.489" stop-color="#79ff86"/><stop offset="0.504" stop-color="#82ff7d"/><stop offset="0.565" stop-color="#f5ff0a"/><stop offset="0.580" stop-color="#ffec00"/><stop offset="0.596" stop-color="#ffcf00"/><stop offset="0.703" stop-color="#ff5200"/><stop offset="0.794" stop-color="#ff0000"/><stop offset="0.916" stop-color="#b10000"/><stop offset="1.000" stop-color="#ab0000"/></linearGradient>
<linearGradient id="h321" x2="0" y2="1"><stop offset="0.000" stop-color="#00f7ff"/><stop offset="0.061" stop-color="#00ffff"/><stop offset="0.396" stop-color="#4bffb4"/><stop offset="0.777" stop-color="#bcff43"/><stop offset="0.838" stop-color="#fffc00"/><stop offset="0.914" stop-color="#ff8e00"/><stop offset="1.000" stop-color="#ff3c00"/></linearGradient>
<linearGradient id="h322" x2="0" y2="1"><stop offset="0.000" stop-color="#00edff"/><stop offset="0.123" stop-color="#02fffd"/><stop offset="0.506" stop-color="#5cffa3"/><stop offset="0.598" stop-color="#7dff82"/><stop offset="0.721" stop-color="#dcff23"/><stop offset="1.000" stop-color="#ecff13"/></linearGradient>
<linearGradient id="h323" x2="0" y2="1"><stop offset="0.000" stop-color="#00f0ff"/><stop offset="0.107" stop-color="#02fffd"/><stop offset="0.411" stop-color="#42ffbd"/><stop offset="0.593" stop-color="#77ff88"/><stop offset="0.715" stop-color="#b5ff4a"/><stop offset="1.000" stop-color="#d8ff27"/></linearGradient>
<linearGradient id="h324" x2="0" y2="1"><stop offset="0.000" stop-color="#00fbff"/><stop offset="0.045" stop-color="#00ffff"/><stop offset="0.390" stop-color="#4affb5"/><stop offset="0.706" stop-color="#9eff61"/><stop offset="1.000" stop-color="#d2ff2d"/></linearGradient>
<linearGradient id="h325" x2="0" y2="1"><stop offset="0.000" stop-color="#06fff9"/><stop offset="0.387" stop-color="#53ffac"/><stop offset="0.699" stop-color="#a5ff5a"/><stop offset="1.000" stop-color="#d9ff26"/></linearGradient>
<linearGradient id="h326" x2="0" y2="1"><stop offset="0.000" stop-color="#17ffe8"/><stop offset="0.392" stop-color="#67ff98"/><stop offset="0.709" stop-color="#b8ff47"/><stop offset="1.000" stop-color="#efff10"/></linearGradient>
<linearGradient id="h327" x2="0" y2="1"><stop offset="0.000" stop-color="#27ffd8"/><stop offset="0.391" stop-color="#7bff84"/><stop offset="0.706" stop-color="#d0ff2f"/><stop offset="0.931" stop-color="#fdff02"/><stop offset="1.000" stop-color="#fff300"/></linearGradient>
<linearGradient id="h328" x2="0" y2="1"><stop offset="0.000" stop-color="#4affb5"/><stop offset="0.387" stop-color="#aaff55"/><stop offset="0.669" stop-color="#fffe00"/><stop offset="1.000" stop-color="#ffb100"/></linearGradient>
<linearGradient id="h329" x2="0" y2="1"><stop offset="0.000" stop-color="#56ffa9"/><stop offset="0.619" stop-color="#fffe00"/><stop offset="1.000" stop-color="#ff9a00"/></linearGradient>
<linearGradient id="h330" x2="0" y2="1"><stop offset="0.000" stop-color="#4bffb4"/><stop offset="0.388" stop-color="#abff54"/><stop offset="0.672" stop-color="#fffd00"/><stop offset="1.000" stop-color="#ffb000"/></linearGradient>
<linearGradient id="h331" x2="0" y2="1"><stop offset="0.000" stop-color="#31ffce"/><stop offset="0.844" stop-color="#fdff02"/><stop offset="1.000" stop-color="#ffe000"/></linearGradient>
<linearGradient id="h332" x2="0" y2="1"><stop offset="0.000" stop-color="#30ffcf"/><stop offset="0.396" stop-color="#87ff78"/><stop offset="0.853" stop-color="#fcff03"/><stop offset="1.000" stop-color="#ffe200"/></linearGradient>
<linearGradient id="h333" x2="0" y2="1"><stop offset="0.000" stop-color="#2effd1"/><stop offset="0.397" stop-color="#85ff7a"/><stop offset="0.870" stop-color="#fcff03"/><stop offset="1.000" stop-color="#ffe500"/></linearGradient>
<linearGradient id="h334" x2="0" y2="1"><stop offset="0.000" stop-color="#2effd1"/><stop offset="0.395" stop-color="#85ff7a"/><stop offset="0.882" stop-color="#ffff00"/><stop offset="1.000" stop-color="#ffe600"/></linearGradient>
<linearGradient id="h335" x2="0" y2="1"><stop offset="0.000" stop-color="#29ffd6"/><stop offset="0.401" stop-color="#7eff81"/><stop offset="0.925" stop-color="#feff01"/><stop offset="1.000" stop-color="#fff000"/></linearGradient>
<linearGradient id="h336" x2="0" y2="1"><stop offset="0.000" stop-color="#0cfff3"/><stop offset="0.396" stop-color="#57ffa8"/><stop offset="0.715" stop-color="#a5ff5a"/><stop offset="1.000" stop-color="#d8ff27"/></linearGradient>
<linearGradient id="h337" x2="0" y2="1"><stop offset="0.000" stop-color="#02fffd"/><stop offset="0.397" stop-color="#49ffb6"/><stop offset="0.718" stop-color="#96ff69"/><stop offset="1.000" stop-color="#c5ff3a"/></linearGradient>
<linearGradient id="h338" x2="0" y2="1"><stop offset="0.000" stop-color="#10ffef"/><stop offset="0.395" stop-color="#5cffa3"/><stop offset="0.714" stop-color="#aeff51"/><stop offset="1.000" stop-color="#dfff20"/></linearGradient>
<linearGradient id="h339" x2="0" y2="1"><stop offset="0.000" stop-color="#37ffc8"/><stop offset="0.396" stop-color="#90ff6f"/><stop offset="0.715" stop-color="#f1ff0e"/><stop offset="0.806" stop-color="#fffd00"/><stop offset="1.000" stop-color="#ffd500"/></linearGradient>
<linearGradient id="h340" x2="0" y2="1"><stop offset="0.000" stop-color="#30ffcf"/><stop offset="0.413" stop-color="#8bff74"/><stop offset="0.719" stop-color="#f0ff0f"/><stop offset="0.857" stop-color="#fffe00"/><stop offset="1.000" stop-color="#ffe300"/></linearGradient>
<linearGradient id="h341" x2="0" y2="1"><stop offset="0.000" stop-color="#23ffdc"/><stop offset="0.494" stop-color="#90ff6f"/><stop offset="0.726" stop-color="#f7ff08"/><stop offset="0.896" stop-color="#ffff00"/><stop offset="0.927" stop-color="#fff700"/><stop offset="0.988" stop-color="#ff9900"/><stop offset="1.000" stop-color="#ff9000"/></linearGradient>
<linearGradient id="h342" x2="0" y2="1"><stop offset="0.000" stop-color="#22ffdd"/><stop offset="0.486" stop-color="#8fff70"/><stop offset="0.501" stop-color="#97ff68"/><stop offset="0.562" stop-color="#fff900"/><stop offset="0.592" stop-color="#ffc200"/><stop offset="0.699" stop-color="#ff4b00"/><stop offset="0.790" stop-color="#ff0500"/><stop offset="0.911" stop-color="#bf0000"/><stop offset="1.000" stop-color="#ab0000"/></linearGradient>
<linearGradient id="h343" x2="0" y2="1"><stop offset="0.000" stop-color="#27ffd8"/><stop offset="0.401" stop-color="#7bff84"/><stop offset="0.416" stop-color="#86ff79"/><stop offset="0.509" stop-color="#fff800"/><stop offset="0.601" stop-color="#ff6700"/><stop offset="0.740" stop-color="#ff0300"/><stop offset="0.879" stop-color="#b60000"/><stop offset="1.000" stop-color="#aa0000"/></linearGradient>
<linearGradient id="h344" x2="0" y2="1"><stop offset="0.000" stop-color="#2cffd3"/><stop offset="0.396" stop-color="#78ff87"/><stop offset="0.412" stop-color="#83ff7c"/><stop offset="0.488" stop-color="#f4ff0b"/><stop offset="0.503" stop-color="#fff300"/><stop offset="0.595" stop-color="#ff6500"/><stop offset="0.732" stop-color="#ff0100"/><stop offset="0.869" stop-color="#b50000"/><stop offset="1.000" stop-color="#a90000"/></linearGradient>
<linearGradient id="h345" x2="0" y2="1"><stop offset="0.000" stop-color="#0069ff"/><stop offset="0.153" stop-color="#04fffb"/><stop offset="0.214" stop-color="#51ffae"/><stop offset="0.397" stop-color="#74ff8b"/><stop offset="0.412" stop-color="#7fff80"/><stop offset="0.488" stop-color="#f4ff0b"/><stop offset="0.503" stop-color="#fff300"/><stop offset="0.595" stop-color="#ff6500"/><stop offset="0.732" stop-color="#ff0100"/><stop offset="0.870" stop-color="#b50000"/><stop offset="1.000" stop-color="#a90000"/></linearGradient>
<linearGradient id="h346" x2="0" y2="1"><stop offset="0.000" stop-color="#3effc1"/><stop offset="0.401" stop-color="#95ff6a"/><stop offset="0.509" stop-color="#faff05"/><stop offset="0.524" stop-color="#ffeb00"/><stop offset="0.601" stop-color="#ff6c00"/><stop offset="0.740" stop-color="#ff0700"/><stop offset="0.879" stop-color="#b90000"/><stop offset="1.000" stop-color="#aa0000"/></linearGradient>
<linearGradient id="h347" x2="0" y2="1"><stop offset="0.000" stop-color="#37ffc8"/><stop offset="0.396" stop-color="#91ff6e"/><stop offset="0.594" stop-color="#ceff31"/><stop offset="0.625" stop-color="#fcff03"/><stop offset="0.716" stop-color="#ff7b00"/><stop offset="0.869" stop-color="#ff0a00"/><stop offset="0.884" stop-color="#ff0100"/><stop offset="1.000" stop-color="#be0000"/></linearGradient>
<linearGradient id="h348" x2="0" y2="1"><stop offset="0.000" stop-color="#2affd5"/><stop offset="0.412" stop-color="#83ff7c"/><stop offset="0.504" stop-color="#9eff61"/><stop offset="0.702" stop-color="#f1ff0e"/><stop offset="0.916" stop-color="#feff01"/><stop offset="1.000" stop-color="#ffbf00"/></linearGradient>
<linearGradient id="h349" x2="0" y2="1"><stop offset="0.000" stop-color="#31ffce"/><stop offset="0.415" stop-color="#8dff72"/><stop offset="0.722" stop-color="#eeff11"/><stop offset="0.860" stop-color="#ffff00"/><stop offset="1.000" stop-color="#ffe500"/></linearGradient>
<linearGradient id="h350" x2="0" y2="1"><stop offset="0.000" stop-color="#2dffd2"/><stop offset="0.390" stop-color="#83ff7c"/><stop offset="0.705" stop-color="#ddff22"/><stop offset="0.915" stop-color="#fffe00"/><stop offset="1.000" stop-color="#fff000"/></linearGradient>
<linearGradient id="h351" x2="0" y2="1"><stop offset="0.000" stop-color="#2cffd3"/><stop offset="0.388" stop-color="#82ff7d"/><stop offset="0.700" stop-color="#d8ff27"/><stop offset="0.924" stop-color="#feff01"/><stop offset="1.000" stop-color="#fff300"/></linearGradient>
<linearGradient id="h352" x2="0" y2="1"><stop offset="0.000" stop-color="#32ffcd"/><stop offset="0.394" stop-color="#87ff78"/><stop offset="0.712" stop-color="#dbff24"/><stop offset="0.909" stop-color="#feff01"/><stop offset="1.000" stop-color="#ffef00"/></linearGradient>
<linearGradient id="h353" x2="0" y2="1"><stop offset="0.000" stop-color="#55ffaa"/><stop offset="0.387" stop-color="#b1ff4e"/><stop offset="0.656" stop-color="#fffe00"/><stop offset="1.000" stop-color="#ffb600"/></linearGradient>
<linearGradient id="h354" x2="0" y2="1"><stop offset="0.000" stop-color="#56ffa9"/><stop offset="0.396" stop-color="#afff50"/><stop offset="0.686" stop-color="#ffff00"/><stop offset="1.000" stop-color="#ffbd00"/></linearGradient>
<linearGradient id="h355" x2="0" y2="1"><stop offset="0.000" stop-color="#44ffbb"/><stop offset="0.397" stop-color="#92ff6d"/><stop offset="0.718" stop-color="#e1ff1e"/><stop offset="0.870" stop-color="#feff01"/><stop offset="1.000" stop-color="#ffe800"/></linearGradient>
<linearGradient id="h356" x2="0" y2="1"><stop offset="0.000" stop-color="#37ffc8"/><stop offset="1.000" stop-color="#f5ff0a"/></linearGradient>
<linearGradient id="h357" x2="0" y2="1"><stop offset="0.000" stop-color="#40ffbf"/><stop offset="0.401" stop-color="#85ff7a"/><stop offset="1.000" stop-color="#feff01"/></linearGradient>
<linearGradient id="h358" x2="0" y2="1"><stop offset="0.000" stop-color="#4dffb2"/><stop offset="0.395" stop-color="#92ff6d"/><stop offset="0.912" stop-color="#fdff02"/><stop offset="1.000" stop-color="#fff100"/></linearGradient>
<linearGradient id="h359" x2="0" y2="1"><stop offset="0.000" stop-color="#4effb1"/><stop offset="0.397" stop-color="#90ff6f"/><stop offset="0.948" stop-color="#fdff02"/><stop offset="1.000" stop-color="#fff800"/></linearGradient>
<linearGradient id="h360" x2="0" y2="1"><stop offset="0.000" stop-color="#61ff9e"/><stop offset="0.396" stop-color="#a5ff5a"/><stop offset="0.807" stop-color="#fdff02"/><stop offset="1.000" stop-color="#ffdc00"/></linearGradient>
<linearGradient id="h361" x2="0" y2="1"><stop offset="0.000" stop-color="#60ff9f"/><stop offset="0.397" stop-color="#a0ff5f"/><stop offset="0.870" stop-color="#ffff00"/><stop offset="1.000" stop-color="#ffe700"/></linearGradient>
<linearGradient id="h362" x2="0" y2="1"><stop offset="0.000" stop-color="#52ffad"/><stop offset="0.415" stop-color="#8fff70"/><stop offset="1.000" stop-color="#fffd00"/></linearGradient>
<linearGradient id="h363" x2="0" y2="1"><stop offset="0.000" stop-color="#29ffd6"/><stop offset="0.417" stop-color="#57ffa8"/><stop offset="1.000" stop-color="#b9ff46"/></linearGradient>
<linearGradient id="h364" x2="0" y2="1"><stop offset="0.000" stop-color="#17ffe8"/><stop offset="0.415" stop-color="#3fffc0"/><stop offset="1.000" stop-color="#9dff62"/></linearGradient>
<linearGradient id="h365" x2="0" y2="1"><stop offset="0.000" stop-color="#24ffdb"/><stop offset="0.414" stop-color="#51ffae"/><stop offset="1.000" stop-color="#bcff43"/></linearGradient>
<linearGradient id="h366" x2="0" y2="1"><stop offset="0.000" stop-color="#36ffc9"/><stop offset="0.416" stop-color="#6aff95"/><stop offset="0.724" stop-color="#a1ff5e"/><stop offset="1.000" stop-color="#e4ff1b"/></linearGradient>
<linearGradient id="h367" x2="0" y2="1"><stop offset="0.000" stop-color="#29ffd6"/><stop offset="0.411" stop-color="#59ffa6"/><stop offset="0.715" stop-color="#8cff73"/><stop offset="1.000" stop-color="#d1ff2e"/></linearGradient>
<linearGradient id="h368" x2="0" y2="1"><stop offset="0.000" stop-color="#00eaff"/><stop offset="0.258" stop-color="#00ffff"/><stop offset="0.410" stop-color="#0ffff0"/><stop offset="0.714" stop-color="#43ffbc"/><stop offset="1.000" stop-color="#8aff75"/></linearGradient>
<linearGradient id="h369" x2="0" y2="1"><stop offset="0.000" stop-color="#00cbff"/><stop offset="0.473" stop-color="#00feff"/><stop offset="0.717" stop-color="#33ffcc"/><stop offset="1.000" stop-color="#85ff7a"/></linearGradient>
<linearGradient id="h370" x2="0" y2="1"><stop offset="0.000" stop-color="#00b0ff"/><stop offset="0.396" stop-color="#00d8ff"/><stop offset="0.563" stop-color="#02fffd"/><stop offset="0.715" stop-color="#28ffd7"/><stop offset="1.000" stop-color="#87ff78"/></linearGradient>
<linearGradient id="h371" x2="0" y2="1"><stop offset="0.000" stop-color="#008cff"/><stop offset="0.397" stop-color="#00b5ff"/><stop offset="0.656" stop-color="#00ffff"/><stop offset="1.000" stop-color="#79ff86"/></linearGradient>
<linearGradient id="h372" x2="0" y2="1"><stop offset="0.000" stop-color="#0074ff"/><stop offset="0.396" stop-color="#009bff"/><stop offset="0.700" stop-color="#00ffff"/><stop offset="1.000" stop-color="#72ff8d"/></linearGradient>
<linearGradient id="h373" x2="0" y2="1"><stop offset="0.000" stop-color="#006aff"/><stop offset="0.395" stop-color="#0091ff"/><stop offset="0.684" stop-color="#00fcff"/><stop offset="1.000" stop-color="#7fff80"/></linearGradient>
<linearGradient id="h374" x2="0" y2="1"><stop offset="0.000" stop-color="#0066ff"/><stop offset="0.395" stop-color="#0093ff"/><stop offset="0.501" stop-color="#00b8ff"/><stop offset="0.638" stop-color="#00fbff"/><stop offset="1.000" stop-color="#9fff60"/></linearGradient>
<linearGradient id="h375" x2="0" y2="1"><stop offset="0.000" stop-color="#0062ff"/><stop offset="0.216" stop-color="#006cff"/><stop offset="0.402" stop-color="#0082ff"/><stop offset="0.510" stop-color="#00a5ff"/><stop offset="0.711" stop-color="#02fffd"/><stop offset="1.000" stop-color="#8bff74"/></linearGradient>
<linearGradient id="h376" x2="0" y2="1"><stop offset="0.000" stop-color="#0061ff"/><stop offset="0.219" stop-color="#006eff"/><stop offset="0.406" stop-color="#0088ff"/><stop offset="0.516" stop-color="#00afff"/><stop offset="0.672" stop-color="#00feff"/><stop offset="1.000" stop-color="#9dff62"/></linearGradient>
<linearGradient id="h377" x2="0" y2="1"><stop offset="0.000" stop-color="#0061ff"/><stop offset="0.214" stop-color="#006eff"/><stop offset="0.398" stop-color="#008bff"/><stop offset="0.505" stop-color="#00b3ff"/><stop offset="0.643" stop-color="#00ffff"/><stop offset="1.000" stop-color="#a5ff5a"/></linearGradient>
<linearGradient id="h378" x2="0" y2="1"><stop offset="0.000" stop-color="#0061ff"/><stop offset="0.216" stop-color="#006fff"/><stop offset="0.401" stop-color="#008eff"/><stop offset="0.509" stop-color="#00b6ff"/><stop offset="0.633" stop-color="#00fbff"/><stop offset="1.000" stop-color="#a6ff59"/></linearGradient>
<linearGradient id="h379" x2="0" y2="1"><stop offset="0.000" stop-color="#0061ff"/><stop offset="0.213" stop-color="#0069ff"/><stop offset="0.396" stop-color="#0080ff"/><stop offset="0.502" stop-color="#00a1ff"/><stop offset="0.700" stop-color="#00fbff"/><stop offset="1.000" stop-color="#7bff84"/></linearGradient>
<linearGradient id="h380" x2="0" y2="1"><stop offset="0.000" stop-color="#0060ff"/><stop offset="0.214" stop-color="#006bff"/><stop offset="0.413" stop-color="#0084ff"/><stop offset="0.719" stop-color="#00fbff"/><stop offset="1.000" stop-color="#6fff90"/></linearGradient>
<linearGradient id="h381" x2="0" y2="1"><stop offset="0.000" stop-color="#0068ff"/><stop offset="0.396" stop-color="#0098ff"/><stop offset="0.655" stop-color="#00fcff"/><stop offset="1.000" stop-color="#88ff77"/></linearGradient>
<linearGradient id="h382" x2="0" y2="1"><stop offset="0.000" stop-color="#0076ff"/><stop offset="0.396" stop-color="#00b0ff"/><stop offset="0.610" stop-color="#00ffff"/><stop offset="1.000" stop-color="#99ff66"/></linearGradient>
<linearGradient id="h383" x2="0" y2="1"><stop offset="0.000" stop-color="#0092ff"/><stop offset="0.395" stop-color="#00d3ff"/><stop offset="0.532" stop-color="#00ffff"/><stop offset="1.000" stop-color="#afff50"/></linearGradient>
<linearGradient id="h384" x2="0" y2="1"><stop offset="0.000" stop-color="#00c0ff"/><stop offset="0.430" stop-color="#00feff"/><stop offset="0.722" stop-color="#47ffb8"/><stop offset="1.000" stop-color="#b9ff46"/></linearGradient>
<linearGradient id="h385" x2="0" y2="1"><stop offset="0.000" stop-color="#00efff"/><stop offset="0.153" stop-color="#01fffe"/><stop offset="0.398" stop-color="#20ffdf"/><stop offset="0.704" stop-color="#60ff9f"/><stop offset="1.000" stop-color="#daff25"/></linearGradient>
<linearGradient id="h386" x2="0" y2="1"><stop offset="0.000" stop-color="#11ffee"/><stop offset="0.398" stop-color="#35ffca"/><stop offset="0.705" stop-color="#67ff98"/><stop offset="1.000" stop-color="#e1ff1e"/></linearGradient>
<linearGradient id="h387" x2="0" y2="1"><stop offset="0.000" stop-color="#14ffeb"/><stop offset="0.398" stop-color="#31ffce"/><stop offset="0.704" stop-color="#5dffa2"/><stop offset="1.000" stop-color="#d5ff2a"/></linearGradient>
<linearGradient id="h388" x2="0" y2="1"><stop offset="0.000" stop-color="#00f7ff"/><stop offset="0.396" stop-color="#07fff8"/><stop offset="0.701" stop-color="#28ffd7"/><stop offset="1.000" stop-color="#97ff68"/></linearGradient>
<linearGradient id="h389" x2="0" y2="1"><stop offset="0.000" stop-color="#00f2ff"/><stop offset="0.447" stop-color="#00ffff"/><stop offset="0.709" stop-color="#19ffe6"/><stop offset="1.000" stop-color="#85ff7a"/></linearGradient>
<linearGradient id="h390" x2="0" y2="1"><stop offset="0.000" stop-color="#08fff7"/><stop offset="0.398" stop-color="#15ffea"/><stop offset="0.704" stop-color="#34ffcb"/><stop offset="1.000" stop-color="#a3ff5c"/></linearGradient>
<linearGradient id="h391" x2="0" y2="1"><stop offset="0.000" stop-color="#24ffdb"/><stop offset="0.399" stop-color="#36ffc9"/><stop offset="0.705" stop-color="#59ffa6"/><stop offset="1.000" stop-color="#cdff32"/></linearGradient>
<linearGradient id="h392" x2="0" y2="1"><stop offset="0.000" stop-color="#19ffe6"/><stop offset="0.399" stop-color="#2fffd0"/><stop offset="0.705" stop-color="#55ffaa"/><stop offset="1.000" stop-color="#ccff33"/></linearGradient>
<linearGradient id="h393" x2="0" y2="1"><stop offset="0.000" stop-color="#00feff"/><stop offset="0.398" stop-color="#16ffe9"/><stop offset="0.704" stop-color="#3fffc0"/><stop offset="1.000" stop-color="#b6ff49"/></linearGradient>
<linearGradient id="h394" x2="0" y2="1"><stop offset="0.000" stop-color="#00e6ff"/><stop offset="0.399" stop-color="#00ffff"/><stop offset="0.706" stop-color="#2cffd3"/><stop offset="1.000" stop-color="#a3ff5c"/></linearGradient>
<linearGradient id="h395" x2="0" y2="1"><stop offset="0.000" stop-color="#00c3ff"/><stop offset="0.397" stop-color="#00e0ff"/><stop offset="0.610" stop-color="#02fffd"/><stop offset="0.717" stop-color="#13ffec"/><stop offset="1.000" stop-color="#86ff79"/></linearGradient>
<linearGradient id="h396" x2="0" y2="1"><stop offset="0.000" stop-color="#00aaff"/><stop offset="0.307" stop-color="#00d4ff"/><stop offset="0.475" stop-color="#00feff"/><stop offset="0.721" stop-color="#2cffd3"/><stop offset="1.000" stop-color="#a3ff5c"/></linearGradient>
<linearGradient id="h397" x2="0" y2="1"><stop offset="0.000" stop-color="#0099ff"/><stop offset="0.213" stop-color="#00b9ff"/><stop offset="0.426" stop-color="#00fcff"/><stop offset="0.502" stop-color="#1affe5"/><stop offset="0.715" stop-color="#41ffbe"/><stop offset="1.000" stop-color="#bbff44"/></linearGradient>
<linearGradient id="h398" x2="0" y2="1"><stop offset="0.000" stop-color="#0094ff"/><stop offset="0.215" stop-color="#00b3ff"/><stop offset="0.445" stop-color="#03fffc"/><stop offset="0.507" stop-color="#1affe5"/><stop offset="0.722" stop-color="#42ffbd"/><stop offset="1.000" stop-color="#bcff43"/></linearGradient>
<linearGradient id="h399" x2="0" y2="1"><stop offset="0.000" stop-color="#0097ff"/><stop offset="0.215" stop-color="#00aaff"/><stop offset="0.599" stop-color="#00ffff"/><stop offset="0.722" stop-color="#14ffeb"/><stop offset="1.000" stop-color="#87ff78"/></linearGradient>
<linearGradient id="h400" x2="0" y2="1"><stop offset="0.000" stop-color="#009bff"/><stop offset="0.217" stop-color="#00b2ff"/><stop offset="0.665" stop-color="#01fffe"/><stop offset="0.727" stop-color="#0cfff3"/><stop offset="1.000" stop-color="#7eff81"/></linearGradient>
<linearGradient id="h401" x2="0" y2="1"><stop offset="0.000" stop-color="#00c6ff"/><stop offset="0.411" stop-color="#01fffe"/><stop offset="0.701" stop-color="#2effd1"/><stop offset="1.000" stop-color="#aaff55"/></linearGradient>
<linearGradient id="h402" x2="0" y2="1"><stop offset="0.000" stop-color="#00eaff"/><stop offset="0.170" stop-color="#00ffff"/><stop offset="0.710" stop-color="#54ffab"/><stop offset="1.000" stop-color="#d5ff2a"/></linearGradient>
<linearGradient id="h403" x2="0" y2="1"><stop offset="0.000" stop-color="#00efff"/><stop offset="0.168" stop-color="#00ffff"/><stop offset="0.703" stop-color="#48ffb7"/><stop offset="1.000" stop-color="#c7ff38"/></linearGradient>
<linearGradient id="h404" x2="0" y2="1"><stop offset="0.000" stop-color="#00f9ff"/><stop offset="0.403" stop-color="#19ffe6"/><stop offset="0.714" stop-color="#44ffbb"/><stop offset="1.000" stop-color="#c2ff3d"/></linearGradient>
<linearGradient id="h405" x2="0" y2="1"><stop offset="0.000" stop-color="#0efff1"/><stop offset="0.396" stop-color="#2fffd0"/><stop offset="0.700" stop-color="#5fffa0"/><stop offset="1.000" stop-color="#e2ff1d"/></linearGradient>
<linearGradient id="h406" x2="0" y2="1"><stop offset="0.000" stop-color="#02fffd"/><stop offset="0.710" stop-color="#7aff85"/><stop offset="1.000" stop-color="#fffe00"/></linearGradient>
<linearGradient id="h407" x2="0" y2="1"><stop offset="0.000" stop-color="#00b4ff"/><stop offset="0.123" stop-color="#00d4ff"/><stop offset="0.231" stop-color="#00feff"/><stop offset="0.324" stop-color="#2effd1"/><stop offset="0.709" stop-color="#6dff92"/><stop offset="1.000" stop-color="#f2ff0d"/></linearGradient>
<linearGradient id="h408" x2="0" y2="1"><stop offset="0.000" stop-color="#00d2ff"/><stop offset="0.213" stop-color="#02fffd"/><stop offset="0.304" stop-color="#23ffdc"/><stop offset="0.700" stop-color="#68ff97"/><stop offset="1.000" stop-color="#ecff13"/></linearGradient>
<linearGradient id="h409" x2="0" y2="1"><stop offset="0.000" stop-color="#0cfff3"/><stop offset="0.399" stop-color="#39ffc6"/><stop offset="0.706" stop-color="#71ff8e"/><stop offset="1.000" stop-color="#f0ff0f"/></linearGradient>
<linearGradient id="h410" x2="0" y2="1"><stop offset="0.000" stop-color="#24ffdb"/><stop offset="0.398" stop-color="#54ffab"/><stop offset="0.704" stop-color="#88ff77"/><stop offset="1.000" stop-color="#ffff00"/></linearGradient>
<linearGradient id="h411" x2="0" y2="1"><stop offset="0.000" stop-color="#2cffd3"/><stop offset="0.710" stop-color="#86ff79"/><stop offset="1.000" stop-color="#f1ff0e"/></linearGradient>
<linearGradient id="h412" x2="0" y2="1"><stop offset="0.000" stop-color="#2effd1"/><stop offset="0.700" stop-color="#85ff7a"/><stop offset="1.000" stop-color="#f4ff0b"/></linearGradient>
<linearGradient id="h413" x2="0" y2="1"><stop offset="0.000" stop-color="#27ffd8"/><stop offset="0.399" stop-color="#4dffb2"/><stop offset="0.706" stop-color="#79ff86"/><stop offset="1.000" stop-color="#efff10"/></linearGradient>
<linearGradient id="h414" x2="0" y2="1"><stop offset="0.000" stop-color="#35ffca"/><stop offset="0.401" stop-color="#5cffa3"/><stop offset="0.709" stop-color="#8eff71"/><stop offset="0.956" stop-color="#fcff03"/><stop offset="1.000" stop-color="#ffee00"/></linearGradient>
<linearGradient id="h415" x2="0" y2="1"><stop offset="0.000" stop-color="#00d6ff"/><stop offset="0.229" stop-color="#00ffff"/><stop offset="0.413" stop-color="#2fffd0"/><stop offset="0.704" stop-color="#59ffa6"/><stop offset="1.000" stop-color="#d7ff28"/></linearGradient>
<linearGradient id="h416" x2="0" y2="1"><stop offset="0.000" stop-color="#00a5ff"/><stop offset="0.216" stop-color="#00d9ff"/><stop offset="0.324" stop-color="#00ffff"/><stop offset="0.417" stop-color="#21ffde"/><stop offset="0.711" stop-color="#4bffb4"/><stop offset="1.000" stop-color="#c7ff38"/></linearGradient>
<linearGradient id="h417" x2="0" y2="1"><stop offset="0.000" stop-color="#0094ff"/><stop offset="0.216" stop-color="#00cdff"/><stop offset="0.355" stop-color="#05fffa"/><stop offset="0.416" stop-color="#1dffe2"/><stop offset="0.725" stop-color="#4dffb2"/><stop offset="1.000" stop-color="#c5ff3a"/></linearGradient>
<linearGradient id="h418" x2="0" y2="1"><stop offset="0.000" stop-color="#009eff"/><stop offset="0.122" stop-color="#00bdff"/><stop offset="0.306" stop-color="#02fffd"/><stop offset="0.413" stop-color="#32ffcd"/><stop offset="0.718" stop-color="#69ff96"/><stop offset="1.000" stop-color="#e5ff1a"/></linearGradient>
<linearGradient id="h419" x2="0" y2="1"><stop offset="0.000" stop-color="#00bfff"/><stop offset="0.310" stop-color="#02fffd"/><stop offset="0.418" stop-color="#21ffde"/><stop offset="0.712" stop-color="#53ffac"/><stop offset="1.000" stop-color="#d0ff2f"/></linearGradient>
<filter id="bl" x="-50%" y="-50%" width="200%" height="200%"><feGaussianBlur stdDeviation="0.8"/></filter></defs>
<rect x="95" y="13.7" width="3.6" height="265.2" fill="url(#h0)"/>
<rect x="98" y="13.7" width="3.6" height="259.3" fill="url(#h1)"/>
<rect x="101" y="13.7" width="3.6" height="254.7" fill="url(#h2)"/>
<rect x="104" y="13.7" width="3.6" height="249.8" fill="url(#h3)"/>
<rect x="107" y="13.7" width="3.6" height="245.8" fill="url(#h4)"/>
<rect x="110" y="13.7" width="3.6" height="242.8" fill="url(#h5)"/>
<rect x="113" y="13.7" width="3.6" height="242.1" fill="url(#h6)"/>
<rect x="116" y="13.7" width="3.6" height="245.1" fill="url(#h7)"/>
<rect x="119" y="13.7" width="3.6" height="251.1" fill="url(#h8)"/>
<rect x="122" y="13.7" width="3.6" height="250.8" fill="url(#h9)"/>
<rect x="125" y="13.7" width="3.6" height="248.7" fill="url(#h10)"/>
<rect x="128" y="13.7" width="3.6" height="249.2" fill="url(#h11)"/>
<rect x="131" y="13.7" width="3.6" height="253.5" fill="url(#h12)"/>
<rect x="134" y="13.7" width="3.6" height="256.5" fill="url(#h13)"/>
<rect x="137" y="13.7" width="3.6" height="254.0" fill="url(#h14)"/>
<rect x="140" y="13.7" width="3.6" height="261.4" fill="url(#h15)"/>
<rect x="143" y="13.7" width="3.6" height="262.7" fill="url(#h16)"/>
<rect x="146" y="13.7" width="3.6" height="261.7" fill="url(#h17)"/>
<rect x="149" y="13.7" width="3.6" height="260.2" fill="url(#h18)"/>
<rect x="152" y="13.7" width="3.6" height="255.4" fill="url(#h19)"/>
<rect x="155" y="13.7" width="3.6" height="253.0" fill="url(#h20)"/>
<rect x="158" y="13.7" width="3.6" height="252.7" fill="url(#h21)"/>
<rect x="161" y="13.7" width="3.6" height="247.4" fill="url(#h22)"/>
<rect x="164" y="13.7" width="3.6" height="248.1" fill="url(#h23)"/>
<rect x="167" y="13.7" width="3.6" height="244.0" fill="url(#h24)"/>
<rect x="170" y="13.7" width="3.6" height="244.3" fill="url(#h25)"/>
<rect x="173" y="13.7" width="3.6" height="243.3" fill="url(#h26)"/>
<rect x="176" y="13.7" width="3.6" height="239.5" fill="url(#h27)"/>
<rect x="179" y="13.7" width="3.6" height="237.9" fill="url(#h28)"/>
<rect x="182" y="13.7" width="3.6" height="239.0" fill="url(#h29)"/>
<rect x="185" y="13.7" width="3.6" height="239.0" fill="url(#h30)"/>
<rect x="188" y="13.7" width="3.6" height="236.5" fill="url(#h31)"/>
<rect x="191" y="13.7" width="3.6" height="241.0" fill="url(#h32)"/>
<rect x="194" y="13.7" width="3.6" height="246.7" fill="url(#h33)"/>
<rect x="197" y="13.7" width="3.6" height="251.1" fill="url(#h34)"/>
<rect x="200" y="13.7" width="3.6" height="253.5" fill="url(#h35)"/>
<rect x="203" y="13.7" width="3.6" height="254.6" fill="url(#h36)"/>
<rect x="206" y="13.7" width="3.6" height="255.5" fill="url(#h37)"/>
<rect x="209" y="13.7" width="3.6" height="262.8" fill="url(#h38)"/>
<rect x="212" y="13.7" width="3.6" height="262.5" fill="url(#h39)"/>
<rect x="215" y="13.7" width="3.6" height="260.8" fill="url(#h40)"/>
<rect x="218" y="13.7" width="3.6" height="261.9" fill="url(#h41)"/>
<rect x="221" y="13.7" width="3.6" height="260.8" fill="url(#h42)"/>
<rect x="224" y="13.7" width="3.6" height="261.1" fill="url(#h43)"/>
<rect x="227" y="13.7" width="3.6" height="261.2" fill="url(#h44)"/>
<rect x="230" y="13.7" width="3.6" height="262.7" fill="url(#h45)"/>
<rect x="233" y="13.7" width="3.6" height="262.6" fill="url(#h46)"/>
<rect x="236" y="13.7" width="3.6" height="258.6" fill="url(#h47)"/>
<rect x="239" y="13.7" width="3.6" height="256.1" fill="url(#h48)"/>
<rect x="242" y="13.7" width="3.6" height="260.3" fill="url(#h49)"/>
<rect x="245" y="13.7" width="3.6" height="256.1" fill="url(#h50)"/>
<rect x="248" y="13.7" width="3.6" height="245.3" fill="url(#h51)"/>
<rect x="251" y="13.7" width="3.6" height="244.8" fill="url(#h52)"/>
<rect x="254" y="13.7" width="3.6" height="239.4" fill="url(#h53)"/>
<rect x="257" y="13.7" width="3.6" height="230.7" fill="url(#h54)"/>
<rect x="260" y="13.7" width="3.6" height="231.0" fill="url(#h55)"/>
<rect x="263" y="13.7" width="3.6" height="229.1" fill="url(#h56)"/>
<rect x="266" y="13.7" width="3.6" height="232.5" fill="url(#h57)"/>
<rect x="269" y="13.7" width="3.6" height="232.7" fill="url(#h58)"/>
<rect x="272" y="13.7" width="3.6" height="235.8" fill="url(#h59)"/>
<rect x="275" y="13.7" width="3.6" height="237.3" fill="url(#h60)"/>
<rect x="278" y="13.7" width="3.6" height="238.5" fill="url(#h61)"/>
<rect x="281" y="13.7" width="3.6" height="241.8" fill="url(#h62)"/>
<rect x="284" y="13.7" width="3.6" height="241.7" fill="url(#h63)"/>
<rect x="287" y="13.7" width="3.6" height="243.6" fill="url(#h64)"/>
<rect x="290" y="13.7" width="3.6" height="245.0" fill="url(#h65)"/>
<rect x="293" y="13.7" width="3.6" height="242.0" fill="url(#h66)"/>
<rect x="296" y="13.7" width="3.6" height="244.2" fill="url(#h67)"/>
<rect x="299" y="13.7" width="3.6" height="244.6" fill="url(#h68)"/>
<rect x="302" y="13.7" width="3.6" height="244.5" fill="url(#h69)"/>
<rect x="305" y="13.7" width="3.6" height="247.0" fill="url(#h70)"/>
<rect x="308" y="13.7" width="3.6" height="243.8" fill="url(#h71)"/>
<rect x="311" y="13.7" width="3.6" height="240.4" fill="url(#h72)"/>
<rect x="314" y="13.7" width="3.6" height="236.4" fill="url(#h73)"/>
<rect x="317" y="13.7" width="3.6" height="237.5" fill="url(#h74)"/>
<rect x="320" y="13.7" width="3.6" height="234.1" fill="url(#h75)"/>
<rect x="323" y="13.7" width="3.6" height="230.6" fill="url(#h76)"/>
<rect x="326" y="13.7" width="3.6" height="231.4" fill="url(#h77)"/>
<rect x="329" y="13.7" width="3.6" height="229.8" fill="url(#h78)"/>
<rect x="332" y="13.7" width="3.6" height="228.5" fill="url(#h79)"/>
<rect x="335" y="13.7" width="3.6" height="231.8" fill="url(#h80)"/>
<rect x="338" y="13.7" width="3.6" height="230.5" fill="url(#h81)"/>
<rect x="341" y="13.7" width="3.6" height="238.1" fill="url(#h82)"/>
<rect x="344" y="13.7" width="3.6" height="238.5" fill="url(#h83)"/>
<rect x="347" y="13.7" width="3.6" height="244.1" fill="url(#h84)"/>
<rect x="350" y="13.7" width="3.6" height="245.0" fill="url(#h85)"/>
<rect x="353" y="13.7" width="3.6" height="253.0" fill="url(#h86)"/>
<rect x="356" y="13.7" width="3.6" height="257.9" fill="url(#h87)"/>
<rect x="359" y="13.7" width="3.6" height="261.4" fill="url(#h88)"/>
<rect x="362" y="13.7" width="3.6" height="261.1" fill="url(#h89)"/>
<rect x="365" y="13.7" width="3.6" height="261.8" fill="url(#h90)"/>
<rect x="368" y="13.7" width="3.6" height="262.2" fill="url(#h91)"/>
<rect x="371" y="13.7" width="3.6" height="261.5" fill="url(#h92)"/>
<rect x="374" y="13.7" width="3.6" height="257.4" fill="url(#h93)"/>
<rect x="377" y="13.7" width="3.6" height="261.2" fill="url(#h94)"/>
<rect x="380" y="13.7" width="3.6" height="262.1" fill="url(#h95)"/>
<rect x="383" y="13.7" width="3.6" height="261.7" fill="url(#h96)"/>
<rect x="386" y="13.7" width="3.6" height="260.5" fill="url(#h97)"/>
<rect x="389" y="13.7" width="3.6" height="258.8" fill="url(#h98)"/>
<rect x="392" y="13.7" width="3.6" height="253.7" fill="url(#h99)"/>
<rect x="395" y="13.7" width="3.6" height="251.3" fill="url(#h100)"/>
<rect x="398" y="13.7" width="3.6" height="245.2" fill="url(#h101)"/>
<rect x="401" y="13.7" width="3.6" height="241.0" fill="url(#h102)"/>
<rect x="404" y="13.7" width="3.6" height="235.0" fill="url(#h103)"/>
<rect x="407" y="13.7" width="3.6" height="230.8" fill="url(#h104)"/>
<rect x="410" y="13.7" width="3.6" height="231.7" fill="url(#h105)"/>
<rect x="413" y="13.7" width="3.6" height="229.4" fill="url(#h106)"/>
<rect x="416" y="13.7" width="3.6" height="232.2" fill="url(#h107)"/>
<rect x="419" y="13.7" width="3.6" height="232.6" fill="url(#h108)"/>
<rect x="422" y="13.7" width="3.6" height="231.9" fill="url(#h109)"/>
<rect x="425" y="13.7" width="3.6" height="230.7" fill="url(#h110)"/>
<rect x="428" y="13.7" width="3.6" height="232.3" fill="url(#h111)"/>
<rect x="431" y="13.7" width="3.6" height="232.4" fill="url(#h112)"/>
<rect x="434" y="13.7" width="3.6" height="232.3" fill="url(#h113)"/>
<rect x="437" y="13.7" width="3.6" height="233.0" fill="url(#h114)"/>
<rect x="440" y="13.7" width="3.6" height="230.0" fill="url(#h115)"/>
<rect x="443" y="13.7" width="3.6" height="230.3" fill="url(#h116)"/>
<rect x="446" y="13.7" width="3.6" height="228.9" fill="url(#h117)"/>
<rect x="449" y="13.7" width="3.6" height="234.8" fill="url(#h118)"/>
<rect x="452" y="13.7" width="3.6" height="237.9" fill="url(#h119)"/>
<rect x="455" y="13.7" width="3.6" height="238.2" fill="url(#h120)"/>
<rect x="458" y="13.7" width="3.6" height="236.9" fill="url(#h121)"/>
<rect x="461" y="13.7" width="3.6" height="233.9" fill="url(#h122)"/>
<rect x="464" y="13.7" width="3.6" height="234.2" fill="url(#h123)"/>
<rect x="467" y="13.7" width="3.6" height="234.0" fill="url(#h124)"/>
<rect x="470" y="13.7" width="3.6" height="229.9" fill="url(#h125)"/>
<rect x="473" y="13.7" width="3.6" height="232.9" fill="url(#h126)"/>
<rect x="476" y="13.7" width="3.6" height="237.9" fill="url(#h127)"/>
<rect x="479" y="13.7" width="3.6" height="238.6" fill="url(#h128)"/>
<rect x="482" y="13.7" width="3.6" height="236.8" fill="url(#h129)"/>
<rect x="485" y="13.7" width="3.6" height="237.0" fill="url(#h130)"/>
<rect x="488" y="13.7" width="3.6" height="243.6" fill="url(#h131)"/>
<rect x="491" y="13.7" width="3.6" height="243.7" fill="url(#h132)"/>
<rect x="494" y="13.7" width="3.6" height="243.7" fill="url(#h133)"/>
<rect x="497" y="13.7" width="3.6" height="247.5" fill="url(#h134)"/>
<rect x="500" y="13.7" width="3.6" height="249.5" fill="url(#h135)"/>
<rect x="503" y="13.7" width="3.6" height="251.1" fill="url(#h136)"/>
<rect x="506" y="13.7" width="3.6" height="254.1" fill="url(#h137)"/>
<rect x="509" y="13.7" width="3.6" height="254.6" fill="url(#h138)"/>
<rect x="512" y="13.7" width="3.6" height="256.9" fill="url(#h139)"/>
<rect x="515" y="13.7" width="3.6" height="252.7" fill="url(#h140)"/>
<rect x="518" y="13.7" width="3.6" height="254.6" fill="url(#h141)"/>
<rect x="521" y="13.7" width="3.6" height="251.5" fill="url(#h142)"/>
<rect x="524" y="13.7" width="3.6" height="248.8" fill="url(#h143)"/>
<rect x="527" y="13.7" width="3.6" height="254.5" fill="url(#h144)"/>
<rect x="530" y="13.7" width="3.6" height="254.5" fill="url(#h145)"/>
<rect x="533" y="13.7" width="3.6" height="256.0" fill="url(#h146)"/>
<rect x="536" y="13.7" width="3.6" height="256.6" fill="url(#h147)"/>
<rect x="539" y="13.7" width="3.6" height="255.7" fill="url(#h148)"/>
<rect x="542" y="13.7" width="3.6" height="255.0" fill="url(#h149)"/>
<rect x="545" y="13.7" width="3.6" height="254.0" fill="url(#h150)"/>
<rect x="548" y="13.7" width="3.6" height="249.3" fill="url(#h151)"/>
<rect x="551" y="13.7" width="3.6" height="250.1" fill="url(#h152)"/>
<rect x="554" y="13.7" width="3.6" height="250.3" fill="url(#h153)"/>
<rect x="557" y="13.7" width="3.6" height="243.8" fill="url(#h154)"/>
<rect x="560" y="13.7" width="3.6" height="244.0" fill="url(#h155)"/>
<rect x="563" y="13.7" width="3.6" height="244.1" fill="url(#h156)"/>
<rect x="566" y="13.7" width="3.6" height="241.9" fill="url(#h157)"/>
<rect x="569" y="13.7" width="3.6" height="238.7" fill="url(#h158)"/>
<rect x="572" y="13.7" width="3.6" height="243.2" fill="url(#h159)"/>
<rect x="575" y="13.7" width="3.6" height="239.6" fill="url(#h160)"/>
<rect x="578" y="13.7" width="3.6" height="243.9" fill="url(#h161)"/>
<rect x="581" y="13.7" width="3.6" height="249.8" fill="url(#h162)"/>
<rect x="584" y="13.7" width="3.6" height="248.1" fill="url(#h163)"/>
<rect x="587" y="13.7" width="3.6" height="248.1" fill="url(#h164)"/>
<rect x="590" y="13.7" width="3.6" height="248.9" fill="url(#h165)"/>
<rect x="593" y="13.7" width="3.6" height="248.9" fill="url(#h166)"/>
<rect x="596" y="13.7" width="3.6" height="247.7" fill="url(#h167)"/>
<rect x="599" y="13.7" width="3.6" height="248.2" fill="url(#h168)"/>
<rect x="602" y="13.7" width="3.6" height="248.2" fill="url(#h169)"/>
<rect x="605" y="13.7" width="3.6" height="250.4" fill="url(#h170)"/>
<rect x="608" y="13.7" width="3.6" height="249.1" fill="url(#h171)"/>
<rect x="611" y="13.7" width="3.6" height="249.3" fill="url(#h172)"/>
<rect x="614" y="13.7" width="3.6" height="249.2" fill="url(#h173)"/>
<rect x="617" y="13.7" width="3.6" height="249.1" fill="url(#h174)"/>
<rect x="620" y="13.7" width="3.6" height="248.7" fill="url(#h175)"/>
<rect x="623" y="13.7" width="3.6" height="250.5" fill="url(#h176)"/>
<rect x="626" y="13.7" width="3.6" height="251.2" fill="url(#h177)"/>
<rect x="629" y="13.7" width="3.6" height="254.9" fill="url(#h178)"/>
<rect x="632" y="13.7" width="3.6" height="253.8" fill="url(#h179)"/>
<rect x="635" y="13.7" width="3.6" height="256.2" fill="url(#h180)"/>
<rect x="638" y="13.7" width="3.6" height="255.2" fill="url(#h181)"/>
<rect x="641" y="13.7" width="3.6" height="255.2" fill="url(#h182)"/>
<rect x="644" y="13.7" width="3.6" height="256.3" fill="url(#h183)"/>
<rect x="647" y="13.7" width="3.6" height="255.2" fill="url(#h184)"/>
<rect x="650" y="13.7" width="3.6" height="255.1" fill="url(#h185)"/>
<rect x="653" y="13.7" width="3.6" height="254.3" fill="url(#h186)"/>
<rect x="656" y="13.7" width="3.6" height="256.5" fill="url(#h187)"/>
<rect x="659" y="13.7" width="3.6" height="256.7" fill="url(#h188)"/>
<rect x="662" y="13.7" width="3.6" height="254.0" fill="url(#h189)"/>
<rect x="665" y="13.7" width="3.6" height="256.8" fill="url(#h190)"/>
<rect x="668" y="13.7" width="3.6" height="261.2" fill="url(#h191)"/>
<rect x="671" y="13.7" width="3.6" height="253.0" fill="url(#h192)"/>
<rect x="674" y="13.7" width="3.6" height="254.4" fill="url(#h193)"/>
<rect x="677" y="13.7" width="3.6" height="253.3" fill="url(#h194)"/>
<rect x="680" y="13.7" width="3.6" height="257.9" fill="url(#h195)"/>
<rect x="683" y="13.7" width="3.6" height="261.7" fill="url(#h196)"/>
<rect x="686" y="13.7" width="3.6" height="256.9" fill="url(#h197)"/>
<rect x="689" y="13.7" width="3.6" height="259.8" fill="url(#h198)"/>
<rect x="692" y="13.7" width="3.6" height="260.7" fill="url(#h199)"/>
<rect x="695" y="13.7" width="3.6" height="262.9" fill="url(#h200)"/>
<rect x="698" y="13.7" width="3.6" height="262.5" fill="url(#h201)"/>
<rect x="701" y="13.7" width="3.6" height="262.5" fill="url(#h202)"/>
<rect x="704" y="13.7" width="3.6" height="257.0" fill="url(#h203)"/>
<rect x="707" y="13.7" width="3.6" height="261.0" fill="url(#h204)"/>
<rect x="710" y="13.7" width="3.6" height="261.3" fill="url(#h205)"/>
<rect x="713" y="13.7" width="3.6" height="262.5" fill="url(#h206)"/>
<rect x="716" y="13.7" width="3.6" height="267.8" fill="url(#h207)"/>
<rect x="719" y="13.7" width="3.6" height="266.8" fill="url(#h208)"/>
<rect x="722" y="13.7" width="3.6" height="268.3" fill="url(#h209)"/>
<rect x="725" y="13.7" width="3.6" height="267.0" fill="url(#h210)"/>
<rect x="728" y="13.7" width="3.6" height="273.8" fill="url(#h211)"/>
<rect x="731" y="13.7" width="3.6" height="271.6" fill="url(#h212)"/>
<rect x="734" y="13.7" width="3.6" height="274.3" fill="url(#h213)"/>
<rect x="737" y="13.7" width="3.6" height="271.7" fill="url(#h214)"/>
<rect x="740" y="13.7" width="3.6" height="274.4" fill="url(#h215)"/>
<rect x="743" y="13.7" width="3.6" height="273.8" fill="url(#h216)"/>
<rect x="746" y="13.7" width="3.6" height="271.3" fill="url(#h217)"/>
<rect x="749" y="13.7" width="3.6" height="273.1" fill="url(#h218)"/>
<rect x="752" y="13.7" width="3.6" height="272.6" fill="url(#h219)"/>
<rect x="755" y="13.7" width="3.6" height="273.9" fill="url(#h220)"/>
<rect x="758" y="13.7" width="3.6" height="274.0" fill="url(#h221)"/>
<rect x="761" y="13.7" width="3.6" height="265.9" fill="url(#h222)"/>
<rect x="764" y="13.7" width="3.6" height="266.9" fill="url(#h223)"/>
<rect x="767" y="13.7" width="3.6" height="266.3" fill="url(#h224)"/>
<rect x="770" y="13.7" width="3.6" height="263.0" fill="url(#h225)"/>
<rect x="773" y="13.7" width="3.6" height="263.0" fill="url(#h226)"/>
<rect x="776" y="13.7" width="3.6" height="258.4" fill="url(#h227)"/>
<rect x="779" y="13.7" width="3.6" height="257.0" fill="url(#h228)"/>
<rect x="782" y="13.7" width="3.6" height="254.6" fill="url(#h229)"/>
<rect x="785" y="13.7" width="3.6" height="256.3" fill="url(#h230)"/>
<rect x="788" y="13.7" width="3.6" height="262.7" fill="url(#h231)"/>
<rect x="791" y="13.7" width="3.6" height="261.4" fill="url(#h232)"/>
<rect x="794" y="13.7" width="3.6" height="266.8" fill="url(#h233)"/>
<rect x="797" y="13.7" width="3.6" height="270.4" fill="url(#h234)"/>
<rect x="800" y="13.7" width="3.6" height="274.8" fill="url(#h235)"/>
<rect x="803" y="13.7" width="3.6" height="274.5" fill="url(#h236)"/>
<rect x="806" y="13.7" width="3.6" height="275.7" fill="url(#h237)"/>
<rect x="809" y="13.7" width="3.6" height="278.6" fill="url(#h238)"/>
<rect x="812" y="13.7" width="3.6" height="278.0" fill="url(#h239)"/>
<rect x="815" y="13.7" width="3.6" height="281.0" fill="url(#h240)"/>
<rect x="818" y="13.7" width="3.6" height="279.8" fill="url(#h241)"/>
<rect x="821" y="13.7" width="3.6" height="277.5" fill="url(#h242)"/>
<rect x="824" y="13.7" width="3.6" height="280.2" fill="url(#h243)"/>
<rect x="827" y="13.7" width="3.6" height="275.9" fill="url(#h244)"/>
<rect x="830" y="13.7" width="3.6" height="279.6" fill="url(#h245)"/>
<rect x="833" y="13.7" width="3.6" height="279.2" fill="url(#h246)"/>
<rect x="836" y="13.7" width="3.6" height="277.0" fill="url(#h247)"/>
<rect x="839" y="13.7" width="3.6" height="278.7" fill="url(#h248)"/>
<rect x="842" y="13.7" width="3.6" height="278.9" fill="url(#h249)"/>
<rect x="845" y="13.7" width="3.6" height="277.9" fill="url(#h250)"/>
<rect x="848" y="13.7" width="3.6" height="273.1" fill="url(#h251)"/>
<rect x="851" y="13.7" width="3.6" height="273.0" fill="url(#h252)"/>
<rect x="854" y="13.7" width="3.6" height="274.8" fill="url(#h253)"/>
<rect x="857" y="13.7" width="3.6" height="273.0" fill="url(#h254)"/>
<rect x="860" y="13.7" width="3.6" height="262.6" fill="url(#h255)"/>
<rect x="863" y="13.7" width="3.6" height="266.7" fill="url(#h256)"/>
<rect x="866" y="13.7" width="3.6" height="263.2" fill="url(#h257)"/>
<rect x="869" y="13.7" width="3.6" height="268.6" fill="url(#h258)"/>
<rect x="872" y="13.7" width="3.6" height="273.7" fill="url(#h259)"/>
<rect x="875" y="13.7" width="3.6" height="265.7" fill="url(#h260)"/>
<rect x="878" y="13.7" width="3.6" height="264.7" fill="url(#h261)"/>
<rect x="881" y="13.7" width="3.6" height="267.6" fill="url(#h262)"/>
<rect x="884" y="13.7" width="3.6" height="268.8" fill="url(#h263)"/>
<rect x="887" y="13.7" width="3.6" height="265.4" fill="url(#h264)"/>
<rect x="890" y="13.7" width="3.6" height="268.5" fill="url(#h265)"/>
<rect x="893" y="13.7" width="3.6" height="266.8" fill="url(#h266)"/>
<rect x="896" y="13.7" width="3.6" height="268.8" fill="url(#h267)"/>
<rect x="899" y="13.7" width="3.6" height="267.6" fill="url(#h268)"/>
<rect x="902" y="13.7" width="3.6" height="265.5" fill="url(#h269)"/>
<rect x="905" y="13.7" width="3.6" height="268.1" fill="url(#h270)"/>
<rect x="908" y="13.7" width="3.6" height="267.0" fill="url(#h271)"/>
<rect x="911" y="13.7" width="3.6" height="267.5" fill="url(#h272)"/>
<rect x="914" y="13.7" width="3.6" height="268.4" fill="url(#h273)"/>
<rect x="917" y="13.7" width="3.6" height="265.8" fill="url(#h274)"/>
<rect x="920" y="13.7" width="3.6" height="264.6" fill="url(#h275)"/>
<rect x="923" y="13.7" width="3.6" height="268.9" fill="url(#h276)"/>
<rect x="926" y="13.7" width="3.6" height="268.6" fill="url(#h277)"/>
<rect x="929" y="13.7" width="3.6" height="267.2" fill="url(#h278)"/>
<rect x="932" y="13.7" width="3.6" height="257.5" fill="url(#h279)"/>
<rect x="935" y="13.7" width="3.6" height="262.7" fill="url(#h280)"/>
<rect x="938" y="13.7" width="3.6" height="262.6" fill="url(#h281)"/>
<rect x="941" y="13.7" width="3.6" height="262.0" fill="url(#h282)"/>
<rect x="944" y="13.7" width="3.6" height="259.5" fill="url(#h283)"/>
<rect x="947" y="13.7" width="3.6" height="267.8" fill="url(#h284)"/>
<rect x="950" y="13.7" width="3.6" height="264.4" fill="url(#h285)"/>
<rect x="953" y="13.7" width="3.6" height="268.2" fill="url(#h286)"/>
<rect x="956" y="13.7" width="3.6" height="268.5" fill="url(#h287)"/>
<rect x="959" y="13.7" width="3.6" height="268.6" fill="url(#h288)"/>
<rect x="962" y="13.7" width="3.6" height="265.0" fill="url(#h289)"/>
<rect x="965" y="13.7" width="3.6" height="259.3" fill="url(#h290)"/>
<rect x="968" y="13.7" width="3.6" height="262.1" fill="url(#h291)"/>
<rect x="971" y="13.7" width="3.6" height="262.6" fill="url(#h292)"/>
<rect x="974" y="13.7" width="3.6" height="263.7" fill="url(#h293)"/>
<rect x="977" y="13.7" width="3.6" height="264.7" fill="url(#h294)"/>
<rect x="980" y="13.7" width="3.6" height="264.6" fill="url(#h295)"/>
<rect x="983" y="13.7" width="3.6" height="261.7" fill="url(#h296)"/>
<rect x="986" y="13.7" width="3.6" height="268.1" fill="url(#h297)"/>
<rect x="989" y="13.7" width="3.6" height="263.8" fill="url(#h298)"/>
<rect x="992" y="13.7" width="3.6" height="268.6" fill="url(#h299)"/>
<rect x="995" y="13.7" width="3.6" height="268.4" fill="url(#h300)"/>
<rect x="998" y="13.7" width="3.6" height="266.1" fill="url(#h301)"/>
<rect x="1001" y="13.7" width="3.6" height="263.5" fill="url(#h302)"/>
<rect x="1004" y="13.7" width="3.6" height="259.7" fill="url(#h303)"/>
<rect x="1007" y="13.7" width="3.6" height="262.3" fill="url(#h304)"/>
<rect x="1010" y="13.7" width="3.6" height="262.6" fill="url(#h305)"/>
<rect x="1013" y="13.7" width="3.6" height="260.3" fill="url(#h306)"/>
<rect x="1016" y="13.7" width="3.6" height="260.7" fill="url(#h307)"/>
<rect x="1019" y="13.7" width="3.6" height="259.4" fill="url(#h308)"/>
<rect x="1022" y="13.7" width="3.6" height="261.2" fill="url(#h309)"/>
<rect x="1025" y="13.7" width="3.6" height="262.8" fill="url(#h310)"/>
<rect x="1028" y="13.7" width="3.6" height="261.9" fill="url(#h311)"/>
<rect x="1031" y="13.7" width="3.6" height="261.7" fill="url(#h312)"/>
<rect x="1034" y="13.7" width="3.6" height="260.6" fill="url(#h313)"/>
<rect x="1037" y="13.7" width="3.6" height="265.8" fill="url(#h314)"/>
<rect x="1040" y="13.7" width="3.6" height="261.5" fill="url(#h315)"/>
<rect x="1043" y="13.7" width="3.6" height="261.6" fill="url(#h316)"/>
<rect x="1046" y="13.7" width="3.6" height="262.0" fill="url(#h317)"/>
<rect x="1049" y="13.7" width="3.6" height="260.9" fill="url(#h318)"/>
<rect x="1052" y="13.7" width="3.6" height="262.4" fill="url(#h319)"/>
<rect x="1055" y="13.7" width="3.6" height="261.9" fill="url(#h320)"/>
<rect x="1058" y="13.7" width="3.6" height="262.7" fill="url(#h321)"/>
<rect x="1061" y="13.7" width="3.6" height="260.8" fill="url(#h322)"/>
<rect x="1064" y="13.7" width="3.6" height="262.9" fill="url(#h323)"/>
<rect x="1067" y="13.7" width="3.6" height="266.4" fill="url(#h324)"/>
<rect x="1070" y="13.7" width="3.6" height="269.0" fill="url(#h325)"/>
<rect x="1073" y="13.7" width="3.6" height="265.3" fill="url(#h326)"/>
<rect x="1076" y="13.7" width="3.6" height="266.3" fill="url(#h327)"/>
<rect x="1079" y="13.7" width="3.6" height="268.9" fill="url(#h328)"/>
<rect x="1082" y="13.7" width="3.6" height="265.0" fill="url(#h329)"/>
<rect x="1085" y="13.7" width="3.6" height="267.7" fill="url(#h330)"/>
<rect x="1088" y="13.7" width="3.6" height="265.3" fill="url(#h331)"/>
<rect x="1091" y="13.7" width="3.6" height="262.6" fill="url(#h332)"/>
<rect x="1094" y="13.7" width="3.6" height="262.2" fill="url(#h333)"/>
<rect x="1097" y="13.7" width="3.6" height="263.2" fill="url(#h334)"/>
<rect x="1100" y="13.7" width="3.6" height="259.5" fill="url(#h335)"/>
<rect x="1103" y="13.7" width="3.6" height="262.8" fill="url(#h336)"/>
<rect x="1106" y="13.7" width="3.6" height="261.9" fill="url(#h337)"/>
<rect x="1109" y="13.7" width="3.6" height="263.4" fill="url(#h338)"/>
<rect x="1112" y="13.7" width="3.6" height="262.9" fill="url(#h339)"/>
<rect x="1115" y="13.7" width="3.6" height="261.4" fill="url(#h340)"/>
<rect x="1118" y="13.7" width="3.6" height="259.0" fill="url(#h341)"/>
<rect x="1121" y="13.7" width="3.6" height="263.3" fill="url(#h342)"/>
<rect x="1124" y="13.7" width="3.6" height="259.4" fill="url(#h343)"/>
<rect x="1127" y="13.7" width="3.6" height="262.3" fill="url(#h344)"/>
<rect x="1130" y="13.7" width="3.6" height="262.2" fill="url(#h345)"/>
<rect x="1133" y="13.7" width="3.6" height="259.4" fill="url(#h346)"/>
<rect x="1136" y="13.7" width="3.6" height="262.4" fill="url(#h347)"/>
<rect x="1139" y="13.7" width="3.6" height="262.0" fill="url(#h348)"/>
<rect x="1142" y="13.7" width="3.6" height="260.5" fill="url(#h349)"/>
<rect x="1145" y="13.7" width="3.6" height="266.6" fill="url(#h350)"/>
<rect x="1148" y="13.7" width="3.6" height="268.4" fill="url(#h351)"/>
<rect x="1151" y="13.7" width="3.6" height="264.0" fill="url(#h352)"/>
<rect x="1154" y="13.7" width="3.6" height="268.5" fill="url(#h353)"/>
<rect x="1157" y="13.7" width="3.6" height="262.6" fill="url(#h354)"/>
<rect x="1160" y="13.7" width="3.6" height="262.0" fill="url(#h355)"/>
<rect x="1163" y="13.7" width="3.6" height="262.9" fill="url(#h356)"/>
<rect x="1166" y="13.7" width="3.6" height="259.2" fill="url(#h357)"/>
<rect x="1169" y="13.7" width="3.6" height="263.2" fill="url(#h358)"/>
<rect x="1172" y="13.7" width="3.6" height="261.7" fill="url(#h359)"/>
<rect x="1175" y="13.7" width="3.6" height="262.7" fill="url(#h360)"/>
<rect x="1178" y="13.7" width="3.6" height="262.0" fill="url(#h361)"/>
<rect x="1181" y="13.7" width="3.6" height="260.2" fill="url(#h362)"/>
<rect x="1184" y="13.7" width="3.6" height="259.2" fill="url(#h363)"/>
<rect x="1187" y="13.7" width="3.6" height="260.2" fill="url(#h364)"/>
<rect x="1190" y="13.7" width="3.6" height="260.7" fill="url(#h365)"/>
<rect x="1193" y="13.7" width="3.6" height="259.6" fill="url(#h366)"/>
<rect x="1196" y="13.7" width="3.6" height="262.9" fill="url(#h367)"/>
<rect x="1199" y="13.7" width="3.6" height="263.4" fill="url(#h368)"/>
<rect x="1202" y="13.7" width="3.6" height="262.0" fill="url(#h369)"/>
<rect x="1205" y="13.7" width="3.6" height="262.9" fill="url(#h370)"/>
<rect x="1208" y="13.7" width="3.6" height="262.1" fill="url(#h371)"/>
<rect x="1211" y="13.7" width="3.6" height="262.9" fill="url(#h372)"/>
<rect x="1214" y="13.7" width="3.6" height="263.0" fill="url(#h373)"/>
<rect x="1217" y="13.7" width="3.6" height="263.3" fill="url(#h374)"/>
<rect x="1220" y="13.7" width="3.6" height="258.7" fill="url(#h375)"/>
<rect x="1223" y="13.7" width="3.6" height="255.9" fill="url(#h376)"/>
<rect x="1226" y="13.7" width="3.6" height="261.4" fill="url(#h377)"/>
<rect x="1229" y="13.7" width="3.6" height="259.3" fill="url(#h378)"/>
<rect x="1232" y="13.7" width="3.6" height="262.7" fill="url(#h379)"/>
<rect x="1235" y="13.7" width="3.6" height="261.6" fill="url(#h380)"/>
<rect x="1238" y="13.7" width="3.6" height="262.7" fill="url(#h381)"/>
<rect x="1241" y="13.7" width="3.6" height="262.4" fill="url(#h382)"/>
<rect x="1244" y="13.7" width="3.6" height="263.1" fill="url(#h383)"/>
<rect x="1247" y="13.7" width="3.6" height="260.4" fill="url(#h384)"/>
<rect x="1250" y="13.7" width="3.6" height="261.5" fill="url(#h385)"/>
<rect x="1253" y="13.7" width="3.6" height="261.0" fill="url(#h386)"/>
<rect x="1256" y="13.7" width="3.6" height="261.5" fill="url(#h387)"/>
<rect x="1259" y="13.7" width="3.6" height="262.6" fill="url(#h388)"/>
<rect x="1262" y="13.7" width="3.6" height="259.7" fill="url(#h389)"/>
<rect x="1265" y="13.7" width="3.6" height="261.5" fill="url(#h390)"/>
<rect x="1268" y="13.7" width="3.6" height="260.9" fill="url(#h391)"/>
<rect x="1271" y="13.7" width="3.6" height="260.9" fill="url(#h392)"/>
<rect x="1274" y="13.7" width="3.6" height="261.3" fill="url(#h393)"/>
<rect x="1277" y="13.7" width="3.6" height="260.6" fill="url(#h394)"/>
<rect x="1280" y="13.7" width="3.6" height="262.1" fill="url(#h395)"/>
<rect x="1283" y="13.7" width="3.6" height="260.9" fill="url(#h396)"/>
<rect x="1286" y="13.7" width="3.6" height="263.1" fill="url(#h397)"/>
<rect x="1289" y="13.7" width="3.6" height="260.4" fill="url(#h398)"/>
<rect x="1292" y="13.7" width="3.6" height="260.6" fill="url(#h399)"/>
<rect x="1295" y="13.7" width="3.6" height="258.6" fill="url(#h400)"/>
<rect x="1298" y="13.7" width="3.6" height="262.6" fill="url(#h401)"/>
<rect x="1301" y="13.7" width="3.6" height="259.1" fill="url(#h402)"/>
<rect x="1304" y="13.7" width="3.6" height="261.8" fill="url(#h403)"/>
<rect x="1307" y="13.7" width="3.6" height="257.8" fill="url(#h404)"/>
<rect x="1310" y="13.7" width="3.6" height="262.9" fill="url(#h405)"/>
<rect x="1313" y="13.7" width="3.6" height="259.3" fill="url(#h406)"/>
<rect x="1316" y="13.7" width="3.6" height="259.4" fill="url(#h407)"/>
<rect x="1319" y="13.7" width="3.6" height="262.9" fill="url(#h408)"/>
<rect x="1322" y="13.7" width="3.6" height="260.6" fill="url(#h409)"/>
<rect x="1325" y="13.7" width="3.6" height="261.5" fill="url(#h410)"/>
<rect x="1328" y="13.7" width="3.6" height="259.1" fill="url(#h411)"/>
<rect x="1331" y="13.7" width="3.6" height="262.7" fill="url(#h412)"/>
<rect x="1334" y="13.7" width="3.6" height="260.5" fill="url(#h413)"/>
<rect x="1337" y="13.7" width="3.6" height="259.4" fill="url(#h414)"/>
<rect x="1340" y="13.7" width="3.6" height="261.5" fill="url(#h415)"/>
<rect x="1343" y="13.7" width="3.6" height="259.0" fill="url(#h416)"/>
<rect x="1346" y="13.7" width="3.6" height="259.3" fill="url(#h417)"/>
<rect x="1349" y="13.7" width="3.6" height="261.7" fill="url(#h418)"/>
<rect x="1352" y="13.7" width="3.6" height="258.3" fill="url(#h419)"/>
<g filter="url(#bl)"><ellipse cx="99.0" cy="270.5" rx="3.5" ry="6.3" fill="#ffd000" opacity="0.7"/><ellipse cx="99.0" cy="270.5" rx="2.0" ry="4.8" fill="#ff1000"/><ellipse cx="108.7" cy="255.4" rx="3.8" ry="5.5" fill="#ffd000" opacity="0.7"/><ellipse cx="108.7" cy="255.4" rx="2.3" ry="4.0" fill="#f00000"/><ellipse cx="153.2" cy="266.3" rx="4.5" ry="5.2" fill="#ffd000" opacity="0.7"/><ellipse cx="153.2" cy="266.3" rx="3.0" ry="3.7" fill="#ff9a00"/><ellipse cx="163.3" cy="262.7" rx="3.7" ry="3.8" fill="#ffd000" opacity="0.7"/><ellipse cx="163.3" cy="262.7" rx="2.2" ry="2.3" fill="#ff7000"/><ellipse cx="179.3" cy="249.4" rx="3.7" ry="4.4" fill="#ffd000" opacity="0.7"/><ellipse cx="179.3" cy="249.4" rx="2.2" ry="2.9" fill="#ff4000"/><ellipse cx="194.2" cy="255.7" rx="5.0" ry="4.7" fill="#ffd000" opacity="0.7"/><ellipse cx="194.2" cy="255.7" rx="3.5" ry="3.2" fill="#f00000"/><ellipse cx="223.4" cy="271.6" rx="3.6" ry="5.2" fill="#ffd000" opacity="0.7"/><ellipse cx="223.4" cy="271.6" rx="2.1" ry="3.7" fill="#f00000"/><ellipse cx="234.2" cy="272.8" rx="4.6" ry="4.0" fill="#ffd000" opacity="0.7"/><ellipse cx="234.2" cy="272.8" rx="3.1" ry="2.5" fill="#f00000"/><ellipse cx="262.6" cy="243.3" rx="3.4" ry="3.8" fill="#ffd000" opacity="0.7"/><ellipse cx="262.6" cy="243.3" rx="1.9" ry="2.3" fill="#ff4000"/><ellipse cx="285.3" cy="252.6" rx="3.3" ry="6.4" fill="#ffd000" opacity="0.7"/><ellipse cx="285.3" cy="252.6" rx="1.8" ry="4.9" fill="#ff1000"/><ellipse cx="300.6" cy="255.1" rx="4.2" ry="5.0" fill="#ffd000" opacity="0.7"/><ellipse cx="300.6" cy="255.1" rx="2.7" ry="3.5" fill="#ff1000"/><ellipse cx="322.9" cy="245.8" rx="4.4" ry="3.6" fill="#ffd000" opacity="0.7"/><ellipse cx="322.9" cy="245.8" rx="2.9" ry="2.1" fill="#ff7000"/><ellipse cx="332.0" cy="240.8" rx="4.2" ry="5.6" fill="#ffd000" opacity="0.7"/><ellipse cx="332.0" cy="240.8" rx="2.7" ry="4.1" fill="#ff1000"/><ellipse cx="372.6" cy="271.3" rx="4.9" ry="5.4" fill="#ffd000" opacity="0.7"/><ellipse cx="372.6" cy="271.3" rx="3.4" ry="3.9" fill="#ff7000"/><ellipse cx="385.2" cy="271.5" rx="4.8" ry="4.7" fill="#ffd000" opacity="0.7"/><ellipse cx="385.2" cy="271.5" rx="3.3" ry="3.2" fill="#ff1000"/><ellipse cx="424.5" cy="243.8" rx="4.8" ry="4.0" fill="#ffd000" opacity="0.7"/><ellipse cx="424.5" cy="243.8" rx="3.3" ry="2.5" fill="#ff9a00"/><ellipse cx="455.6" cy="246.8" rx="4.7" ry="6.1" fill="#ffd000" opacity="0.7"/><ellipse cx="455.6" cy="246.8" rx="3.2" ry="4.6" fill="#ff9a00"/><ellipse cx="467.3" cy="243.5" rx="3.7" ry="5.7" fill="#ffd000" opacity="0.7"/><ellipse cx="467.3" cy="243.5" rx="2.2" ry="4.2" fill="#ff9a00"/><ellipse cx="478.7" cy="247.1" rx="3.4" ry="6.0" fill="#ffd000" opacity="0.7"/><ellipse cx="478.7" cy="247.1" rx="1.9" ry="4.5" fill="#ff4000"/><ellipse cx="490.9" cy="254.5" rx="4.5" ry="4.7" fill="#ffd000" opacity="0.7"/><ellipse cx="490.9" cy="254.5" rx="3.0" ry="3.2" fill="#f00000"/><ellipse cx="498.9" cy="258.3" rx="3.8" ry="6.4" fill="#ffd000" opacity="0.7"/><ellipse cx="498.9" cy="258.3" rx="2.3" ry="4.9" fill="#ff7000"/><ellipse cx="505.1" cy="261.0" rx="3.6" ry="5.7" fill="#ffd000" opacity="0.7"/><ellipse cx="505.1" cy="261.0" rx="2.1" ry="4.2" fill="#ff1000"/><ellipse cx="547.3" cy="262.9" rx="3.4" ry="4.2" fill="#ffd000" opacity="0.7"/><ellipse cx="547.3" cy="262.9" rx="1.9" ry="2.7" fill="#ff7000"/><ellipse cx="596.8" cy="262.3" rx="4.5" ry="3.7" fill="#ffd000" opacity="0.7"/><ellipse cx="596.8" cy="262.3" rx="3.0" ry="2.2" fill="#ff9a00"/><ellipse cx="612.3" cy="259.9" rx="4.2" ry="6.0" fill="#ffd000" opacity="0.7"/><ellipse cx="612.3" cy="259.9" rx="2.7" ry="4.5" fill="#ff4000"/><ellipse cx="619.2" cy="260.1" rx="4.6" ry="6.0" fill="#ffd000" opacity="0.7"/><ellipse cx="619.2" cy="260.1" rx="3.1" ry="4.5" fill="#ff1000"/><ellipse cx="625.9" cy="260.4" rx="3.5" ry="5.1" fill="#ffd000" opacity="0.7"/><ellipse cx="625.9" cy="260.4" rx="2.0" ry="3.6" fill="#ff9a00"/><ellipse cx="654.9" cy="268.0" rx="4.8" ry="3.5" fill="#ffd000" opacity="0.7"/><ellipse cx="654.9" cy="268.0" rx="3.3" ry="2.0" fill="#f00000"/><ellipse cx="670.9" cy="267.9" rx="4.0" ry="5.6" fill="#ffd000" opacity="0.7"/><ellipse cx="670.9" cy="267.9" rx="2.5" ry="4.1" fill="#ff4000"/><ellipse cx="685.6" cy="271.8" rx="4.4" ry="4.8" fill="#ffd000" opacity="0.7"/><ellipse cx="685.6" cy="271.8" rx="2.9" ry="3.3" fill="#f00000"/><ellipse cx="696.0" cy="270.4" rx="4.8" ry="6.3" fill="#ffd000" opacity="0.7"/><ellipse cx="696.0" cy="270.4" rx="3.3" ry="4.8" fill="#ff1000"/><ellipse cx="711.5" cy="274.1" rx="3.7" ry="3.7" fill="#ffd000" opacity="0.7"/><ellipse cx="711.5" cy="274.1" rx="2.2" ry="2.2" fill="#ff4000"/><ellipse cx="724.7" cy="278.1" rx="4.9" ry="5.6" fill="#ffd000" opacity="0.7"/><ellipse cx="724.7" cy="278.1" rx="3.4" ry="4.1" fill="#ff7000"/><ellipse cx="735.7" cy="284.5" rx="4.9" ry="5.4" fill="#ffd000" opacity="0.7"/><ellipse cx="735.7" cy="284.5" rx="3.4" ry="3.9" fill="#ff7000"/><ellipse cx="747.5" cy="283.3" rx="3.9" ry="6.2" fill="#ffd000" opacity="0.7"/><ellipse cx="747.5" cy="283.3" rx="2.4" ry="4.7" fill="#f00000"/><ellipse cx="758.9" cy="284.0" rx="4.2" ry="4.9" fill="#ffd000" opacity="0.7"/><ellipse cx="758.9" cy="284.0" rx="2.7" ry="3.4" fill="#ff1000"/><ellipse cx="772.5" cy="272.1" rx="3.3" ry="5.6" fill="#ffd000" opacity="0.7"/><ellipse cx="772.5" cy="272.1" rx="1.8" ry="4.1" fill="#f00000"/><ellipse cx="786.9" cy="268.5" rx="3.5" ry="6.4" fill="#ffd000" opacity="0.7"/><ellipse cx="786.9" cy="268.5" rx="2.0" ry="4.9" fill="#f00000"/><ellipse cx="801.0" cy="283.6" rx="4.6" ry="5.3" fill="#ffd000" opacity="0.7"/><ellipse cx="801.0" cy="283.6" rx="3.1" ry="3.8" fill="#ff1000"/><ellipse cx="826.9" cy="291.0" rx="3.5" ry="4.6" fill="#ffd000" opacity="0.7"/><ellipse cx="826.9" cy="291.0" rx="2.0" ry="3.1" fill="#ff4000"/><ellipse cx="842.4" cy="291.7" rx="3.6" ry="3.7" fill="#ffd000" opacity="0.7"/><ellipse cx="842.4" cy="291.7" rx="2.1" ry="2.2" fill="#ff9a00"/><ellipse cx="862.5" cy="280.0" rx="4.6" ry="3.9" fill="#ffd000" opacity="0.7"/><ellipse cx="862.5" cy="280.0" rx="3.1" ry="2.4" fill="#ff4000"/><ellipse cx="870.2" cy="279.7" rx="4.8" ry="3.8" fill="#ffd000" opacity="0.7"/><ellipse cx="870.2" cy="279.7" rx="3.3" ry="2.3" fill="#ff7000"/><ellipse cx="885.8" cy="277.9" rx="4.7" ry="5.1" fill="#ffd000" opacity="0.7"/><ellipse cx="885.8" cy="277.9" rx="3.2" ry="3.6" fill="#ff4000"/><ellipse cx="893.7" cy="279.0" rx="3.1" ry="5.1" fill="#ffd000" opacity="0.7"/><ellipse cx="893.7" cy="279.0" rx="1.6" ry="3.6" fill="#f00000"/><ellipse cx="900.7" cy="278.6" rx="4.9" ry="5.2" fill="#ffd000" opacity="0.7"/><ellipse cx="900.7" cy="278.6" rx="3.4" ry="3.7" fill="#f00000"/><ellipse cx="916.6" cy="279.6" rx="4.5" ry="4.5" fill="#ffd000" opacity="0.7"/><ellipse cx="916.6" cy="279.6" rx="3.0" ry="3.0" fill="#f00000"/><ellipse cx="939.5" cy="271.5" rx="3.8" ry="6.3" fill="#ffd000" opacity="0.7"/><ellipse cx="939.5" cy="271.5" rx="2.3" ry="4.8" fill="#ff9a00"/><ellipse cx="946.1" cy="274.5" rx="4.8" ry="3.9" fill="#ffd000" opacity="0.7"/><ellipse cx="946.1" cy="274.5" rx="3.3" ry="2.4" fill="#ff1000"/><ellipse cx="954.1" cy="280.3" rx="4.1" ry="3.7" fill="#ffd000" opacity="0.7"/><ellipse cx="954.1" cy="280.3" rx="2.6" ry="2.2" fill="#f00000"/><ellipse cx="985.1" cy="277.5" rx="3.9" ry="6.4" fill="#ffd000" opacity="0.7"/><ellipse cx="985.1" cy="277.5" rx="2.4" ry="4.9" fill="#ff7000"/><ellipse cx="999.9" cy="277.5" rx="3.8" ry="6.5" fill="#ffd000" opacity="0.7"/><ellipse cx="999.9" cy="277.5" rx="2.3" ry="5.0" fill="#f00000"/><ellipse cx="1006.8" cy="271.5" rx="4.4" ry="5.9" fill="#ffd000" opacity="0.7"/><ellipse cx="1006.8" cy="271.5" rx="2.9" ry="4.4" fill="#ff9a00"/><ellipse cx="1017.3" cy="271.8" rx="4.4" ry="5.1" fill="#ffd000" opacity="0.7"/><ellipse cx="1017.3" cy="271.8" rx="2.9" ry="3.6" fill="#ff4000"/><ellipse cx="1026.3" cy="273.6" rx="4.6" ry="4.5" fill="#ffd000" opacity="0.7"/><ellipse cx="1026.3" cy="273.6" rx="3.1" ry="3.0" fill="#ff9a00"/><ellipse cx="1053.3" cy="271.1" rx="3.5" ry="6.3" fill="#ffd000" opacity="0.7"/><ellipse cx="1053.3" cy="271.1" rx="2.0" ry="4.8" fill="#ff4000"/><ellipse cx="1113.5" cy="271.8" rx="3.4" ry="5.4" fill="#ffd000" opacity="0.7"/><ellipse cx="1113.5" cy="271.8" rx="1.9" ry="3.9" fill="#ff4000"/><ellipse cx="1121.9" cy="273.7" rx="3.1" ry="4.1" fill="#ffd000" opacity="0.7"/><ellipse cx="1121.9" cy="273.7" rx="1.6" ry="2.6" fill="#f00000"/><ellipse cx="1130.4" cy="273.1" rx="4.3" ry="4.5" fill="#ffd000" opacity="0.7"/><ellipse cx="1130.4" cy="273.1" rx="2.8" ry="3.0" fill="#ff9a00"/><ellipse cx="1142.2" cy="273.7" rx="4.0" ry="3.9" fill="#ffd000" opacity="0.7"/><ellipse cx="1142.2" cy="273.7" rx="2.5" ry="2.4" fill="#ff4000"/><ellipse cx="1154.2" cy="279.5" rx="4.5" ry="4.3" fill="#ffd000" opacity="0.7"/><ellipse cx="1154.2" cy="279.5" rx="3.0" ry="2.8" fill="#ff1000"/><ellipse cx="1166.6" cy="271.2" rx="4.2" ry="6.0" fill="#ffd000" opacity="0.7"/><ellipse cx="1166.6" cy="271.2" rx="2.7" ry="4.5" fill="#f00000"/><ellipse cx="1187.5" cy="273.5" rx="3.0" ry="4.2" fill="#ffd000" opacity="0.7"/><ellipse cx="1187.5" cy="273.5" rx="1.5" ry="2.7" fill="#ff4000"/><ellipse cx="1245.8" cy="273.2" rx="4.1" ry="4.8" fill="#ffd000" opacity="0.7"/><ellipse cx="1245.8" cy="273.2" rx="2.6" ry="3.3" fill="#ff1000"/><ellipse cx="1261.0" cy="273.1" rx="3.9" ry="4.0" fill="#ffd000" opacity="0.7"/><ellipse cx="1261.0" cy="273.1" rx="2.4" ry="2.5" fill="#f00000"/><ellipse cx="1276.5" cy="272.0" rx="3.7" ry="6.2" fill="#ffd000" opacity="0.7"/><ellipse cx="1276.5" cy="272.0" rx="2.2" ry="4.7" fill="#f00000"/><ellipse cx="1287.2" cy="271.2" rx="4.7" ry="6.0" fill="#ffd000" opacity="0.7"/><ellipse cx="1287.2" cy="271.2" rx="3.2" ry="4.5" fill="#f00000"/></g>
<path d="M95.0 286.6 96.3 286.6 98.8 277.8 100.1 277.8 101.1 277.8 103.2 271.0 104.2 271.0 105.4 271.0 107.8 263.0 109.0 263.0 117.7 263.0 118.4 263.0 119.8 269.0 120.5 269.0 129.3 269.0 131.3 274.5 138.7 274.5 140.1 280.6 151.0 280.6 152.3 275.1 158.4 275.1 160.4 269.0 166.5 269.0 168.6 263.0 176.0 263.0 178.0 256.8 190.9 256.8 193.0 261.6 194.2 261.6 196.5 269.0 197.7 269.0 198.7 269.0 200.8 274.5 201.8 274.5 207.2 275.1 208.5 280.6 237.5 280.6 238.3 286.0 239.1 280.6 242.4 279.9 243.4 279.9 245.5 273.8 246.5 273.8 247.5 273.8 249.5 267.0 250.5 267.0 251.5 267.0 253.6 258.9 254.6 258.9 255.6 258.9 257.7 250.7 258.7 250.7 270.9 250.7 271.6 250.7 272.9 256.8 273.6 256.8 279.0 257.5 281.0 263.0 305.2 262.5 306.3 267.7 307.4 262.5 313.4 262.5 315.6 257.3 320.8 256.5 322.3 252.1 326.0 251.3 328.3 250.6 329.8 245.4 330.5 250.6 334.0 248.0 338.5 251.0 339.7 251.0 342.0 256.9 343.2 256.9 346.1 257.7 348.4 262.5 349.3 262.5 351.2 267.7 352.1 267.7 353.7 269.7 354.4 269.7 355.7 274.5 356.4 274.5 357.2 274.5 358.9 279.9 359.8 279.9 390.3 279.9 391.0 279.9 392.3 273.8 393.0 273.8 394.0 273.8 396.0 268.4 397.0 268.4 398.0 268.4 400.1 261.6 401.1 261.6 401.8 261.6 403.1 256.2 403.8 256.2 404.8 256.2 406.9 250.7 407.9 250.7 449.9 250.8 451.4 256.6 462.2 256.6 463.4 251.4 465.1 256.6 465.8 256.6 467.3 251.4 468.0 251.4 469.8 256.6 471.0 250.8 475.1 250.8 476.8 256.6 487.9 256.9 489.4 262.2 494.9 263.0 496.1 268.3 504.9 268.9 506.3 274.7 545.6 274.9 547.6 269.0 556.4 269.0 558.4 263.0 580.1 262.7 582.1 268.4 628.9 269.0 630.9 274.5 667.5 275.1 669.5 280.6 671.6 275.1 681.0 275.1 683.1 280.6 715.7 280.6 717.8 286.7 726.6 286.7 728.6 292.8 760.5 292.8 762.5 286.7 769.3 286.7 771.3 281.2 776.0 280.6 778.1 275.8 786.2 275.8 787.6 280.6 793.0 281.2 795.0 286.0 798.4 288.0 800.4 292.8 805.9 292.8 807.9 298.8 845.8 298.8 847.9 292.8 859.4 292.8 861.4 286.7 872.5 286.7 873.6 292.8 874.7 286.7 931.3 286.7 933.4 280.6 945.6 280.6 947.6 286.7 963.2 286.7 965.2 281.2 975.4 281.2 977.4 286.7 1001.8 286.7 1003.8 280.6 1035.7 280.6 1037.7 286.7 1039.7 280.6 1064.8 280.6 1066.8 286.7 1090.0 286.7 1092.0 281.2 1143.5 281.2 1144.9 286.7 1157.1 286.7 1159.1 281.2 1353.7 280.8" stroke="#000" stroke-width="2.2" fill="none" stroke-linejoin="round"/>
<circle cx="338.5" cy="251.0" r="6.3" fill="#fff"/><circle cx="338.5" cy="251.0" r="4.3" fill="#3a3a3a" stroke="#000" stroke-width="1.2"/><path d="M336.0 251.0 H341.0" stroke="#888" stroke-width="0.8"/>
<circle cx="375.6" cy="280.6" r="6.3" fill="#fff"/><circle cx="375.6" cy="280.6" r="4.3" fill="#3a3a3a" stroke="#000" stroke-width="1.2"/><path d="M373.1 280.6 H378.1" stroke="#888" stroke-width="0.8"/>
<circle cx="1248.4" cy="280.8" r="6.3" fill="#fff"/><circle cx="1248.4" cy="280.8" r="4.3" fill="#3a3a3a" stroke="#000" stroke-width="1.2"/><path d="M1245.9 280.8 H1250.9" stroke="#888" stroke-width="0.8"/>
<rect x="724.6" y="351.0" width="434.7" height="234.5" fill="#f4f4f4"/>
<rect x="743.2" y="351.0" width="5.5" height="234.5" fill="#d9d9d9"/>
<rect x="819.2" y="351.0" width="4.7" height="234.5" fill="#d9d9d9"/>
<rect x="894.4" y="351.0" width="13.9" height="234.5" fill="#c8c8c8"/>
<rect x="972.3" y="351.0" width="4.7" height="234.5" fill="#c6c6c6"/>
<rect x="1045.2" y="351.0" width="11.4" height="234.5" fill="#c8c8c8"/>
<rect x="1123.9" y="351.0" width="12.8" height="234.5" fill="#c8c8c8"/>
<rect x="724.6" y="623.4" width="434.7" height="234.2" fill="#f4f4f4"/>
<rect x="743.2" y="623.4" width="5.5" height="234.2" fill="#d9d9d9"/>
<rect x="819.2" y="623.4" width="4.7" height="234.2" fill="#d9d9d9"/>
<rect x="894.4" y="623.4" width="13.9" height="234.2" fill="#c8c8c8"/>
<rect x="972.3" y="623.4" width="4.7" height="234.2" fill="#c6c6c6"/>
<rect x="1045.2" y="623.4" width="11.4" height="234.2" fill="#c8c8c8"/>
<rect x="1123.9" y="623.4" width="12.8" height="234.2" fill="#c8c8c8"/>
<clipPath id="cb"><rect x="95" y="351" width="1258.7" height="234.5"/></clipPath>
<clipPath id="cc"><rect x="95" y="623.4" width="1258.7" height="234.2"/></clipPath>
<clipPath id="cbo"><rect x="95" y="351" width="629.6" height="234.5"/><rect x="1159.3" y="351" width="194.4" height="234.5"/></clipPath>
<clipPath id="cbi"><rect x="724.6" y="351" width="434.7" height="234.5"/></clipPath>
<clipPath id="cco"><rect x="95" y="623.4" width="629.6" height="234.2"/><rect x="1159.3" y="623.4" width="194.4" height="234.2"/></clipPath>
<clipPath id="cci"><rect x="724.6" y="623.4" width="434.7" height="234.2"/></clipPath>
<g clip-path="url(#cb)" fill="none" stroke-linejoin="round">
<path d="M95.0 478.9 96.0 479.1 97.0 481.0 98.0 483.1 98.8 487.8 100.0 497.4 101.0 497.1 102.0 498.7 102.7 500.5 103.0 501.3 104.0 502.2 105.0 500.6 106.0 506.7 106.5 508.2 107.0 507.1 108.0 508.0 109.0 509.3 110.0 517.5 110.8 528.6 112.0 537.5 112.9 543.9 114.0 566.8 115.0 561.7 116.0 551.1 116.7 543.9 117.0 539.7 118.0 526.6 119.0 511.9 120.0 490.2 120.5 480.1 121.0 478.9 122.0 476.7 123.0 475.4 124.0 470.9 125.0 468.7 125.6 467.4 126.0 465.3 127.0 463.1 127.7 462.3 128.0 463.9 129.0 466.3 129.4 469.9 130.0 475.8 130.7 477.6 132.0 475.0 133.0 489.2 134.0 498.0 134.6 503.1 135.0 505.4 135.8 508.2 137.0 518.8 138.0 526.2 138.4 528.6 139.0 535.3 140.0 545.1 140.9 554.1 142.0 565.0 143.0 572.6 143.5 577.1 144.0 574.5 145.0 569.8 146.0 564.5 147.0 558.5 148.0 554.0 149.0 549.4 149.9 543.9 151.0 535.4 152.0 531.0 153.0 527.7 153.7 523.5 154.0 521.7 155.0 516.0 156.0 516.5 157.0 510.9 157.5 508.2 158.0 506.4 159.0 503.0 160.0 506.0 161.0 499.2 161.3 498.0 162.0 497.5 163.0 493.8 164.0 492.4 165.0 490.5 166.0 488.1 167.0 482.7 167.7 480.1 169.0 492.9 170.0 499.8 171.0 505.5 172.0 495.8 172.8 487.8 174.0 478.3 175.0 482.9 176.0 483.7 176.7 487.8 177.0 491.9 178.0 503.5 179.0 525.0 180.0 532.3 181.0 540.4 182.0 550.1 183.0 553.9 184.0 563.8 185.0 574.1 185.6 579.7 186.0 574.8 187.0 563.1 188.0 550.8 189.0 536.1 190.0 518.1 190.7 508.2 191.0 502.8 192.0 481.4 193.0 468.7 194.0 450.1 195.0 440.3 195.8 426.6 197.0 394.2 197.6 380.6 198.0 376.6 199.0 361.8 199.6 362.8 200.0 363.1 201.0 357.4 201.7 365.3 202.0 367.2 203.0 384.0 203.4 388.3 204.0 401.9 205.0 421.8 206.0 436.9 207.0 460.8 208.0 472.9 209.0 477.5 209.8 485.2 211.0 491.6 212.0 496.0 213.0 509.0 213.7 513.3 214.0 515.1 215.0 519.6 216.0 527.2 217.0 535.2 218.0 547.6 218.8 554.1 220.0 576.6 221.0 566.7 222.0 555.0 222.6 549.0 223.0 547.9 224.0 546.3 225.0 543.7 226.0 541.6 227.0 539.0 227.7 538.8 228.0 537.5 229.0 528.1 230.0 519.9 231.0 516.5 231.5 513.3 232.0 510.7 233.0 508.6 234.0 502.4 235.0 500.3 235.3 500.5 236.0 499.7 237.0 500.4 238.0 495.9 239.0 499.1 240.0 492.9 241.0 492.2 241.7 490.3 243.0 483.6 244.0 489.0 245.0 483.0 245.5 482.7 246.0 481.3 247.0 476.8 248.0 476.1 249.0 476.1 249.4 475.0 250.0 477.0 251.0 479.9 252.0 486.9 253.0 488.6 254.0 492.1 255.0 495.0 256.0 495.5 257.0 503.3 258.0 506.2 258.9 508.2 260.0 517.8 261.0 525.7 261.5 528.6 262.0 536.8 263.0 549.7 264.0 563.9 265.0 548.9 266.0 536.6 266.6 528.6 267.0 524.7 267.9 515.9 269.0 508.5 270.0 495.1 270.4 492.9 271.0 487.1 272.0 475.4 272.5 472.5 273.0 465.9 274.0 450.9 275.0 452.7 275.5 462.3 276.0 466.1 276.8 472.5 278.0 462.8 279.0 472.4 279.3 477.6 280.0 478.1 281.0 477.5 281.9 482.7 283.0 492.0 284.0 499.5 284.4 503.1 285.0 507.8 286.0 518.2 287.0 528.6 288.0 533.9 289.0 541.2 289.6 543.9 290.0 548.9 291.0 559.4 292.0 568.6 293.0 572.0 294.0 576.4 294.7 578.4 295.0 576.8 296.0 571.0 297.0 567.8 298.0 560.2 299.0 550.9 299.8 543.9 301.0 540.2 302.0 539.7 302.3 538.8 303.0 532.6 304.0 526.8 304.9 523.5 306.0 512.9 307.0 516.9 307.4 515.9 308.0 513.9 309.0 506.4 310.0 505.8 311.0 504.4 312.0 502.6 313.0 502.6 314.0 501.6 315.0 500.6 316.0 498.4 317.0 494.8 317.6 492.9 318.0 491.7 319.0 492.9 320.0 487.8 321.0 491.7 322.0 491.5 322.7 495.4 324.0 501.3 325.0 501.7 326.0 508.4 327.0 511.3 327.8 513.3 329.0 521.0 330.0 526.4 330.4 528.6 331.0 535.4 332.0 545.3 332.9 554.1 334.0 562.2 335.0 570.9 335.5 574.5 336.0 570.8 337.0 562.8 338.0 554.4 339.0 541.5 340.0 524.1 340.6 515.9 341.0 507.4 342.0 494.9 343.0 474.9 344.0 463.1 344.9 449.5 346.0 449.6 347.0 447.0 348.0 395.0 349.0 369.5 349.5 361.5 350.0 372.1 350.8 378.1 352.0 424.0 353.0 452.0 353.3 462.3 354.0 465.3 355.0 463.8 355.9 464.8 357.0 475.5 358.0 478.7 359.0 483.8 359.7 487.8 361.0 494.4 362.0 505.5 363.0 511.9 364.0 517.9 364.8 523.5 366.0 533.8 367.0 544.7 367.4 549.0 368.0 555.0 369.0 566.3 369.9 575.8 371.0 568.5 372.0 562.2 372.5 559.2 373.0 558.1 374.0 554.2 375.0 553.8 376.0 550.5 376.3 549.0 377.0 546.0 378.0 540.3 379.0 539.0 380.0 534.1 381.0 527.9 382.0 524.7 382.7 518.4 383.0 518.4 384.0 518.6 385.0 512.1 386.0 510.3 386.5 508.2 387.0 507.1 388.0 502.5 389.0 497.3 390.0 498.9 390.3 498.0 391.0 497.9 392.0 489.7 393.0 489.3 394.0 490.2 395.0 487.9 396.0 484.4 396.7 482.7 398.0 473.2 399.0 464.1 400.0 449.0 400.5 439.3 401.0 444.4 401.8 457.2 403.0 488.1 404.0 494.5 405.0 497.6 406.0 497.5 407.0 508.4 408.0 504.3 409.0 509.1 410.0 515.6 411.0 530.3 412.0 544.7 412.7 554.1 413.0 558.5 414.0 570.9 414.7 579.7 415.0 575.9 416.0 562.1 417.0 547.3 418.0 525.6 419.0 503.9 420.0 487.6 420.3 482.7 421.0 481.6 422.0 478.0 422.4 477.6 423.0 472.3 423.4 467.4 424.0 464.8 425.0 462.0 425.4 459.7 426.0 466.4 426.7 477.6 427.0 478.8 428.0 484.4 428.5 487.8 429.0 485.7 430.0 482.3 430.5 480.1 431.0 482.1 432.0 489.7 433.0 497.6 434.0 505.2 435.0 510.9 435.6 515.9 436.0 519.0 437.0 525.3 438.0 537.0 439.0 548.0 440.0 557.2 440.7 564.3 442.0 574.6 442.8 579.7 444.0 573.1 445.0 564.8 445.8 559.2 447.0 551.6 448.0 552.1 449.0 542.1 449.7 538.8 450.0 537.5 451.0 535.2 452.0 528.0 453.0 527.3 453.5 526.1 454.0 523.5 455.0 524.0 456.0 519.3 457.0 516.0 457.3 515.9 458.0 513.5 459.0 513.2 460.0 510.8 461.0 508.5 462.0 507.6 463.0 505.3 464.0 503.4 465.0 505.7 466.0 503.8 467.0 501.0 468.0 504.6 469.0 502.4 470.0 502.8 471.0 503.9 471.3 503.1 472.0 505.5 473.0 504.2 474.0 507.8 475.0 508.0 476.0 510.6 477.0 518.4 478.0 519.7 479.0 523.5 480.0 529.1 481.0 533.9 482.0 543.1 482.8 549.0 484.0 561.5 485.0 570.4 485.4 574.5 486.0 566.2 487.0 556.0 487.9 543.9 489.0 525.9 490.0 514.4 490.5 508.2 491.0 499.5 492.0 483.8 493.0 470.4 494.0 460.2 494.3 457.2 495.0 436.7 496.0 409.8 496.3 401.0 497.0 385.0 498.0 368.1 499.0 367.1 499.9 378.1 501.0 400.5 501.5 413.8 502.0 425.4 503.0 447.0 504.0 453.3 505.0 457.2 505.8 457.2 507.0 469.6 508.0 472.6 509.0 480.4 509.6 487.8 510.0 488.5 511.0 496.2 512.0 502.1 513.0 504.3 514.0 508.3 514.7 513.3 516.0 521.3 517.0 521.3 518.0 533.1 519.0 543.3 519.8 554.1 521.0 568.9 521.6 577.1 522.0 574.1 523.0 566.3 524.0 561.6 524.9 554.1 526.0 548.9 527.0 543.2 528.0 536.5 528.8 533.7 530.0 527.0 531.0 522.4 532.0 518.3 532.6 515.9 533.0 515.5 534.0 513.4 535.0 512.6 536.0 509.9 536.4 508.2 537.0 505.6 538.0 503.0 539.0 501.0 540.0 500.6 541.0 497.6 542.0 491.1 543.0 492.4 544.0 488.0 545.0 482.7 546.0 476.0 547.0 473.2 547.4 472.5 548.0 466.4 549.0 458.2 550.0 467.3 551.0 477.6 552.0 482.9 553.0 495.4 554.0 494.3 555.0 497.5 555.5 498.0 556.0 497.3 557.0 503.0 558.0 507.9 559.0 530.7 560.0 554.1 561.0 564.0 562.0 574.1 563.0 564.6 564.0 554.4 565.0 544.9 566.0 531.6 567.0 521.6 567.7 513.3 568.0 510.3 569.0 500.2 570.0 494.6 571.0 479.1 571.5 475.0 572.0 475.9 572.8 477.6 574.0 475.2 575.0 478.7 575.3 480.1 576.0 482.2 576.6 482.7 577.0 482.9 578.0 479.1 579.0 485.2 580.0 493.2 581.0 499.9 581.7 503.1 582.0 504.2 583.0 513.1 584.0 514.8 585.0 518.8 586.0 529.2 586.8 533.7 588.0 539.3 589.0 546.8 589.3 549.0 590.0 555.7 591.0 567.2 591.9 577.1 593.0 570.9 594.0 562.4 594.4 559.2 595.0 557.3 596.0 554.9 597.0 554.1 598.0 546.7 599.0 539.9 599.6 536.3 600.0 533.5 601.0 528.3 602.0 524.0 603.0 521.8 604.0 520.6 605.0 517.3 605.9 513.3 607.0 512.7 608.0 505.7 609.0 504.6 609.8 505.7 611.0 505.0 612.0 503.9 613.0 499.3 613.6 500.5 614.0 500.5 615.0 498.4 616.0 493.8 617.0 497.7 617.4 498.0 618.0 497.6 619.0 494.0 620.0 494.2 621.0 498.1 622.0 498.9 622.5 503.1 623.0 505.0 624.0 507.6 625.0 508.4 626.0 513.8 627.0 515.0 627.6 515.9 628.0 519.2 629.0 524.7 630.0 532.5 631.0 541.1 632.0 550.0 632.7 554.1 634.0 568.8 634.5 574.5 635.0 569.1 636.0 555.9 636.6 549.0 637.0 542.6 638.0 530.3 639.0 517.2 640.0 506.4 641.0 492.9 641.7 482.7 642.0 480.5 643.0 479.2 644.0 475.2 645.0 467.4 646.0 466.8 646.8 459.7 648.0 447.0 649.0 434.0 649.3 431.7 650.0 424.5 651.0 416.5 652.0 427.6 652.6 436.8 653.0 445.3 654.0 467.5 654.4 477.6 655.0 464.8 655.7 447.0 656.0 456.2 657.0 482.7 658.0 489.5 659.0 490.3 659.5 492.9 660.0 498.2 661.0 508.9 662.0 512.9 663.0 516.7 664.0 521.4 664.6 523.5 665.0 520.4 665.9 513.3 667.0 524.5 668.0 534.5 669.0 542.4 669.7 549.0 671.0 556.5 671.8 561.8 673.0 554.7 674.0 548.7 674.8 543.9 676.0 539.0 677.0 533.5 678.0 529.2 678.7 526.1 679.0 524.3 680.0 517.7 681.0 520.7 682.0 514.5 682.5 513.3 683.0 512.0 684.0 510.7 685.0 509.6 686.0 505.1 686.3 505.7 687.0 503.4 688.0 509.6 689.0 503.8 690.0 500.6 691.0 499.8 692.0 502.4 693.0 495.8 694.0 495.4 695.0 498.6 696.0 496.8 697.0 493.0 697.8 491.6 699.0 492.4 700.0 493.1 701.0 488.6 701.6 487.8 702.0 485.4 703.0 487.8 704.0 485.4 705.0 493.9 706.0 502.8 706.7 508.2 708.0 512.0 709.0 521.9 710.0 528.2 711.0 534.9 712.0 543.3 713.0 553.2 714.0 558.7 715.0 566.9 716.0 552.8 717.0 537.7 717.6 528.6 718.0 520.6 719.0 500.7 719.6 492.9 720.0 490.9 721.0 488.3 721.4 487.8 722.0 482.0 722.7 482.7 723.0 482.3 724.0 486.7 724.7 487.8 725.0 488.7 726.0 491.8 726.5 492.9 727.0 494.3 728.0 496.3 729.0 503.0 730.0 512.3 731.0 513.2 731.6 513.3 732.0 515.9 733.0 519.8 734.0 528.1 735.0 530.1 736.0 532.3 736.7 533.7 737.0 534.8 738.0 537.5 739.0 542.9 740.0 552.7 741.0 566.6 741.8 577.1 743.0 566.1 744.0 556.9 744.3 554.1 745.0 551.2 746.0 544.0 746.9 538.8 748.0 536.9 749.0 533.7 750.0 530.6 750.7 528.6 752.0 523.1 753.0 521.6 754.0 515.5 754.6 513.3 755.0 511.4 756.0 509.5 757.0 508.1 758.0 506.8 758.4 505.7 759.0 506.4 760.0 500.8 760.9 503.1 762.0 502.1 763.0 503.7 763.5 505.7 764.0 503.8 765.0 498.9 766.0 498.1 767.0 498.6 768.0 503.3 768.6 505.7 769.0 507.0 770.0 512.3 771.0 512.7 772.0 512.3 773.0 514.3 774.0 517.1 775.0 521.0 776.0 524.2 777.0 524.0 778.0 524.9 778.8 528.6 780.0 536.4 781.0 543.5 781.9 549.0 783.0 558.1 783.9 564.3 785.0 571.1 785.9 574.5 787.0 565.0 788.0 555.4 789.0 546.5 790.0 537.0 791.0 528.1 791.6 523.5 792.0 518.5 793.0 513.7 794.0 501.5 795.0 490.9 796.0 483.5 797.0 473.0 797.9 462.3 799.0 442.7 800.0 450.6 800.5 457.2 801.0 449.2 801.8 436.8 803.0 431.4 803.8 429.1 804.8 457.2 805.6 477.6 806.0 480.2 807.0 487.1 808.0 501.6 809.0 508.4 810.0 519.2 810.7 526.1 811.0 527.0 812.0 529.5 813.0 535.1 814.0 538.6 815.0 545.2 815.8 551.6 817.0 563.1 818.0 572.5 818.3 575.8 819.0 570.1 820.0 562.5 820.9 554.1 822.0 547.5 823.0 541.2 823.4 538.8 824.0 537.0 825.0 531.6 826.0 530.7 827.0 530.0 828.0 525.5 829.0 521.9 829.8 515.9 831.0 513.7 832.0 504.8 832.4 503.1 833.0 505.1 833.7 499.3 834.0 499.6 835.0 500.5 836.0 502.6 837.0 504.3 838.0 501.9 839.0 500.8 840.0 504.3 841.0 503.4 842.0 503.2 843.0 506.2 843.9 505.7 845.0 507.8 846.0 506.0 847.0 508.4 847.7 505.7 848.0 506.3 849.0 504.5 850.0 504.9 851.0 511.0 852.0 508.7 852.8 510.8 854.0 515.3 855.0 515.8 855.3 515.9 856.0 521.4 857.0 527.4 857.9 533.7 859.0 541.4 860.0 550.0 860.4 554.1 861.0 559.0 862.0 564.4 863.0 572.0 864.0 564.9 865.0 555.8 866.0 550.1 866.8 543.9 868.0 540.0 869.0 537.0 870.0 528.6 871.0 520.6 872.0 513.3 872.6 508.2 873.0 504.8 873.8 498.0 875.0 500.0 875.6 503.1 876.0 503.2 877.0 506.3 877.7 505.7 878.0 505.7 879.0 507.7 879.7 508.2 880.0 509.2 881.0 513.5 881.5 515.9 882.0 518.7 882.8 528.6 884.0 534.5 885.0 537.7 885.3 538.8 886.0 542.5 887.0 544.9 887.9 549.0 889.0 555.6 890.0 562.3 890.4 564.3 891.0 567.3 892.0 571.0 892.5 573.3 893.0 573.1 894.0 571.1 895.0 569.6 895.5 569.4 896.0 565.7 897.0 558.0 898.0 547.1 899.0 543.6 900.0 540.8 900.6 538.8 901.0 537.6 902.0 533.4 903.0 529.2 904.0 526.8 905.0 526.6 905.7 526.1 907.0 523.4 908.0 523.4 909.0 529.9 909.6 533.7 910.0 535.8 911.0 539.0 911.6 538.8 912.0 537.5 913.0 528.7 913.4 526.1 914.0 523.0 915.0 520.4 915.9 510.8 917.0 504.3 918.0 504.9 918.5 504.4 919.0 505.9 920.0 506.8 921.0 508.1 922.0 513.6 922.3 515.9 923.0 513.8 924.0 513.4 924.9 510.8 926.0 515.4 927.0 516.7 927.4 518.4 928.0 522.6 929.0 527.5 930.0 533.7 931.0 538.8 932.0 545.7 932.5 549.0 933.0 552.5 934.0 559.8 935.0 566.4 936.0 561.7 937.0 557.6 937.6 554.1 938.0 551.2 939.0 544.6 940.0 537.7 941.0 533.7 942.0 530.1 942.7 528.6 944.0 522.0 945.0 518.9 946.0 507.6 946.6 498.0 947.0 495.4 947.8 489.1 949.0 498.7 949.6 503.1 950.0 500.2 951.0 494.6 952.0 498.9 952.9 503.1 954.0 498.0 955.0 489.1 956.0 488.4 956.8 487.8 958.0 496.7 958.8 500.5 960.0 510.9 960.6 515.9 961.0 518.8 962.0 521.5 963.0 532.8 964.0 536.2 965.0 540.6 965.7 543.9 966.0 545.7 967.0 550.3 968.0 557.5 969.0 565.4 970.0 574.3 971.0 569.2 972.0 560.0 973.0 554.7 974.0 551.7 974.6 549.0 975.0 547.4 976.0 543.5 976.7 541.4 977.0 542.4 978.0 546.1 978.4 546.5 979.0 548.9 979.7 551.6 981.0 546.0 982.0 538.0 983.0 535.8 984.0 532.3 985.0 532.4 986.0 526.1 987.0 523.5 988.0 522.9 989.0 517.2 989.9 515.9 991.0 513.2 992.0 508.7 993.0 509.7 993.8 508.2 995.0 508.1 996.0 504.8 996.3 505.7 997.0 506.2 998.0 510.9 998.9 510.8 1000.0 512.2 1001.0 515.8 1001.4 515.9 1002.0 516.0 1003.0 514.9 1004.0 518.4 1005.0 521.6 1006.0 525.1 1006.5 528.6 1007.0 529.9 1008.0 534.5 1009.0 538.7 1010.0 543.8 1011.0 545.7 1011.6 549.0 1012.0 551.9 1013.0 556.8 1014.0 563.2 1015.0 559.3 1016.0 552.3 1016.7 549.0 1018.0 539.9 1019.0 539.4 1020.0 536.8 1021.0 535.4 1021.8 533.7 1023.0 530.7 1024.0 525.3 1024.4 523.5 1025.0 513.3 1026.0 511.5 1027.0 519.2 1027.6 526.1 1028.0 528.1 1029.0 529.5 1030.0 533.3 1031.0 539.9 1032.0 545.5 1032.7 549.0 1033.0 549.2 1034.0 550.4 1035.0 546.5 1036.0 552.1 1037.0 559.7 1037.8 561.8 1039.0 566.4 1040.0 568.5 1040.3 569.4 1041.0 571.4 1042.0 574.4 1042.9 577.1 1044.0 579.0 1044.9 580.9 1046.0 577.4 1047.0 575.6 1047.5 574.5 1048.0 571.1 1049.0 565.5 1050.0 559.3 1051.0 553.6 1052.0 547.6 1052.6 543.9 1053.0 542.8 1054.0 539.7 1054.3 538.8 1055.0 539.6 1056.0 545.4 1056.9 546.5 1058.0 544.1 1059.0 544.0 1059.4 543.9 1060.0 542.3 1061.0 537.1 1062.0 533.7 1063.0 527.5 1064.0 522.0 1064.6 521.0 1065.0 519.0 1066.0 518.8 1067.0 518.6 1068.0 519.9 1069.0 518.6 1069.7 521.0 1070.0 520.6 1070.9 515.9 1072.0 517.5 1073.0 520.6 1073.5 521.0 1074.0 524.0 1075.0 525.8 1076.0 528.5 1077.0 536.3 1078.0 543.8 1078.6 549.0 1079.0 551.9 1080.0 557.0 1081.0 563.5 1082.0 567.5 1083.0 571.6 1084.0 566.7 1085.0 561.6 1086.0 555.7 1087.0 548.8 1088.0 541.9 1088.8 533.7 1090.0 528.9 1091.0 524.1 1091.3 523.5 1092.0 519.7 1093.0 513.5 1093.4 510.8 1094.0 508.3 1095.0 503.9 1096.0 498.5 1096.4 495.4 1097.0 496.7 1098.0 496.2 1099.0 500.5 1100.0 506.7 1101.0 502.7 1101.6 505.7 1102.0 505.0 1103.0 502.0 1104.0 500.7 1105.0 503.2 1106.0 504.8 1106.7 505.7 1107.0 505.4 1108.0 509.4 1109.0 510.0 1110.0 509.0 1111.0 508.5 1111.8 508.2 1113.0 518.2 1114.0 533.6 1114.3 538.8 1115.0 544.7 1116.0 551.2 1116.9 554.1 1118.0 557.6 1119.0 560.4 1119.4 561.8 1120.0 563.2 1120.7 566.9 1121.0 563.5 1122.0 554.1 1123.0 550.7 1124.0 551.3 1124.5 551.6 1125.0 550.8 1126.0 549.5 1127.0 546.6 1128.0 546.2 1129.0 544.5 1130.0 545.3 1130.9 543.9 1132.0 544.5 1133.0 546.7 1134.0 542.6 1134.7 541.4 1136.0 538.3 1137.0 538.3 1138.0 535.7 1139.0 536.3 1139.8 533.7 1141.0 527.7 1142.0 527.6 1142.4 526.1 1143.0 525.1 1144.0 523.0 1144.9 523.5 1146.0 525.8 1147.0 527.9 1147.5 528.6 1148.0 527.6 1149.0 525.9 1150.0 518.6 1151.0 523.0 1152.0 522.5 1152.6 526.1 1153.0 528.0 1154.0 532.3 1155.0 538.3 1156.0 543.8 1157.0 549.2 1157.7 554.1 1158.0 556.4 1159.0 563.4 1160.0 570.3 1161.0 576.6 1161.5 579.7 1162.0 574.2 1163.0 564.0 1164.0 554.7 1165.0 546.4 1166.0 542.2 1166.6 538.8 1167.0 536.2 1168.0 527.7 1169.0 525.1 1170.0 521.5 1171.0 518.6 1171.7 518.4 1173.0 523.8 1174.0 525.1 1175.0 527.6 1176.0 526.5 1176.8 528.6 1178.0 529.9 1179.0 533.1 1179.4 533.7 1180.0 523.5 1181.0 525.8 1182.0 530.0 1182.6 528.6 1183.0 529.9 1184.0 529.9 1185.0 533.3 1186.0 535.7 1187.0 537.8 1187.7 538.8 1188.0 540.0 1189.0 542.4 1190.0 548.0 1191.0 552.4 1192.0 556.6 1192.8 559.2 1194.0 561.9 1195.0 563.9 1195.3 564.3 1196.0 566.6 1197.0 568.8 1197.9 571.9 1199.0 574.0 1200.0 576.7 1200.4 577.0 1201.0 575.8 1202.0 573.0 1203.0 569.4 1204.0 567.1 1205.0 563.3 1205.5 561.7 1206.0 561.4 1207.0 560.5 1208.0 559.2 1209.0 559.9 1210.0 562.0 1210.6 561.7 1211.0 561.1 1212.0 558.3 1213.0 557.0 1214.0 558.8 1215.0 558.6 1215.7 559.2 1217.0 561.0 1218.0 566.2 1219.0 567.6 1220.0 570.5 1220.8 571.9 1222.0 572.4 1223.0 576.1 1223.4 577.0 1224.0 577.3 1225.0 575.7 1225.9 574.5 1227.0 572.5 1228.0 572.9 1228.5 571.9 1229.0 570.8 1230.0 569.0 1231.0 566.9 1232.0 565.8 1233.0 565.8 1234.0 562.4 1234.8 561.7 1236.0 559.8 1237.0 556.2 1238.0 556.3 1238.7 554.1 1239.0 553.2 1240.0 551.5 1241.0 550.2 1242.0 548.0 1242.5 546.4 1243.0 544.9 1244.0 539.9 1245.0 538.9 1246.0 533.0 1247.0 529.2 1247.6 528.6 1248.0 526.5 1249.0 521.4 1249.4 520.9 1250.0 520.2 1251.0 524.5 1251.4 526.0 1252.0 529.6 1253.0 531.1 1253.5 533.7 1254.0 531.6 1255.0 524.9 1256.0 520.5 1256.5 518.4 1257.0 519.3 1258.0 521.2 1259.0 528.1 1260.0 531.7 1261.0 533.2 1261.6 533.7 1262.0 534.6 1263.0 539.4 1264.0 543.3 1265.0 545.1 1266.0 548.3 1266.7 549.0 1268.0 549.1 1269.0 553.5 1270.0 557.9 1271.0 562.5 1271.8 566.8 1273.0 571.7 1274.0 575.8 1274.4 577.0 1275.0 574.6 1276.0 574.1 1276.9 569.4 1278.0 565.7 1279.0 561.2 1279.5 559.2 1280.0 557.4 1281.0 553.5 1282.0 551.7 1283.0 548.6 1284.0 545.6 1284.6 546.4 1285.0 546.4 1286.0 548.4 1287.0 544.0 1288.0 544.5 1289.0 541.7 1289.7 538.8 1290.0 538.2 1291.0 534.3 1292.0 534.1 1293.0 535.1 1294.0 540.8 1294.8 546.4 1296.0 538.9 1297.0 535.2 1297.3 533.7 1298.0 533.1 1299.0 529.9 1299.9 526.0 1301.0 526.2 1302.0 523.0 1302.4 523.5 1303.0 525.0 1304.0 525.3 1305.0 528.6 1306.0 529.2 1307.0 532.7 1307.6 533.7 1308.0 534.9 1309.0 538.7 1310.0 540.9 1311.0 549.3 1312.0 560.1 1313.0 567.5 1313.9 571.9 1315.0 569.0 1316.0 565.4 1316.5 564.3 1317.0 561.9 1318.0 559.0 1319.0 554.2 1320.0 550.5 1321.0 546.4 1321.6 543.9 1322.0 535.9 1322.9 520.9 1324.0 518.9 1325.0 518.9 1325.4 519.6 1326.0 520.5 1327.0 523.9 1328.0 526.0 1329.0 522.8 1330.0 523.3 1330.5 523.5 1331.0 524.3 1332.0 527.9 1333.0 526.1 1334.0 525.3 1335.0 524.5 1335.6 520.9 1336.0 522.3 1337.0 521.2 1338.0 522.7 1339.0 524.8 1340.0 517.3 1341.0 520.0 1342.0 528.6 1343.0 534.7 1344.0 541.0 1344.5 543.9 1345.0 546.8 1346.0 554.8 1347.0 561.1 1348.0 564.8 1349.0 567.3 1349.6 569.4 1350.0 569.9 1351.0 571.8 1352.0 573.9 1353.0 577.4 1353.5 579.6" stroke="#000" stroke-width="2.6"/>
</g>
<defs><path id="tke" d="M95.0 469.9 96.0 471.0 97.0 471.6 97.6 472.5 98.0 472.0 99.0 469.2 100.0 462.4 101.0 461.0 101.4 459.7 102.0 473.2 102.7 485.2 103.0 488.4 104.0 497.9 105.0 511.4 106.0 519.3 107.0 526.0 107.8 533.7 109.0 550.4 110.0 564.6 110.3 569.4 111.0 572.1 112.0 577.4 112.9 580.9 114.0 580.4 115.0 580.2 116.0 579.9 116.7 579.7 117.0 578.8 118.0 575.8 119.0 573.0 120.0 570.9 120.5 569.4 121.0 568.1 122.0 564.4 123.0 562.5 124.0 560.8 124.3 559.2 125.0 556.7 126.0 554.6 126.9 551.6 128.0 556.4 129.0 559.7 129.4 561.8 130.0 562.1 131.0 562.3 132.0 563.3 133.0 564.2 134.0 566.6 135.0 569.7 136.0 571.7 137.0 574.3 138.0 576.0 139.0 578.1 140.0 578.4 141.0 580.5 142.0 583.1 143.0 582.7 144.0 582.4 144.8 582.2 146.0 576.7 147.0 573.1 147.3 572.0 148.0 565.1 149.0 557.9 149.9 549.0 151.0 541.2 152.0 533.6 153.0 528.5 153.7 523.5 154.0 522.3 155.0 520.0 156.0 516.6 157.0 514.7 157.5 513.3 158.0 511.4 159.0 505.3 160.0 501.9 161.0 498.7 161.3 498.0 162.0 494.0 163.0 488.4 163.9 482.7 165.0 465.5 166.0 442.8 166.4 434.2 167.0 432.7 168.0 422.7 169.0 421.4 170.0 406.7 171.0 395.1 171.6 388.3 172.0 384.2 172.8 378.1 174.0 391.4 174.6 393.4 175.0 400.5 176.0 418.6 176.7 426.6 177.0 432.3 178.0 457.5 179.0 473.1 180.0 496.3 181.0 514.2 181.8 528.6 183.0 548.8 184.0 564.5 184.3 569.4 185.0 573.0 186.0 578.2 186.9 582.2 188.0 580.9 189.0 578.6 190.0 575.7 190.7 574.5 191.0 573.3 192.0 568.6 193.0 565.6 194.0 561.2 194.5 559.2 195.0 557.3 196.0 554.0 197.0 549.3 198.0 545.1 199.0 536.9 200.0 547.4 200.9 554.1 202.0 558.4 203.0 560.8 204.0 563.3 204.7 566.9 206.0 569.2 207.0 572.3 208.0 571.1 209.0 574.1 209.8 574.5 211.0 575.6 212.0 574.5 213.0 577.4 214.0 578.6 215.0 580.0 216.0 580.7 217.0 581.0 218.0 582.3 219.0 582.8 220.0 583.5 221.0 581.6 222.0 579.6 223.0 576.7 223.9 574.5 225.0 569.5 226.0 566.8 227.0 562.0 227.7 559.2 228.0 557.8 229.0 554.2 230.0 549.9 231.0 545.7 231.5 543.9 232.0 543.2 233.0 539.1 234.0 533.0 235.0 529.4 235.3 528.6 236.0 528.7 237.0 528.3 238.0 525.8 239.0 523.9 240.0 520.6 241.0 514.8 241.7 513.3 243.0 502.2 244.0 496.0 245.0 486.0 246.0 478.6 246.8 472.5 248.0 463.7 248.6 459.7 249.0 460.1 250.0 464.1 251.0 469.3 252.0 472.1 253.0 479.7 254.0 484.3 255.0 485.6 256.0 488.0 256.4 489.1 257.0 495.8 257.7 503.1 258.0 504.1 259.0 508.6 260.0 512.4 261.0 531.3 261.5 543.9 262.0 556.1 262.8 574.5 264.0 578.3 265.0 580.2 265.3 580.9 266.0 580.2 267.0 578.6 267.9 577.1 269.0 569.8 270.0 564.3 270.4 561.8 271.0 561.0 272.0 559.6 273.0 556.7 274.0 557.3 275.0 554.6 275.5 554.1 276.0 552.9 277.0 550.1 277.6 549.0 278.0 551.6 279.0 557.7 279.3 559.2 280.0 561.1 281.0 562.4 282.0 563.6 283.0 566.5 284.0 568.3 285.0 571.2 286.0 572.4 287.0 574.5 288.0 576.6 289.0 578.4 290.0 579.5 290.8 580.9 292.0 581.7 293.0 582.5 294.0 582.8 294.7 583.5 295.0 583.2 296.0 581.3 297.0 579.9 298.0 576.3 299.0 571.5 300.0 569.0 301.0 564.5 302.0 557.6 303.0 553.3 304.0 546.9 304.9 538.8 306.0 537.3 307.0 533.7 308.0 530.9 308.7 528.6 309.0 528.1 310.0 528.6 311.0 524.2 312.0 517.9 313.0 510.5 313.8 503.1 315.0 509.6 315.8 513.3 317.0 516.0 317.6 513.3 318.0 510.9 319.0 503.5 320.0 498.8 321.0 492.7 322.0 490.1 322.7 487.8 324.0 482.7 325.0 490.9 326.0 499.7 326.6 503.1 327.0 504.7 328.0 512.4 329.0 517.6 330.0 522.4 331.0 529.3 331.7 533.7 332.0 539.6 333.0 556.3 334.0 571.2 335.0 576.0 336.0 578.8 336.8 580.9 338.0 578.0 339.0 575.1 339.3 574.5 340.0 570.4 341.0 563.5 342.0 556.7 342.4 554.1 343.0 550.4 344.0 545.8 344.4 543.9 345.0 538.5 346.0 528.2 346.5 523.5 347.0 531.9 348.0 546.5 349.0 558.5 349.5 564.3 350.0 564.3 351.0 562.6 352.0 561.4 353.0 561.6 353.3 561.8 354.0 561.4 355.0 560.9 356.0 560.9 357.0 561.9 358.0 563.3 359.0 565.0 360.0 568.0 361.0 569.4 362.0 570.3 363.0 570.8 363.5 572.0 364.0 573.0 365.0 575.3 366.0 577.9 367.0 578.7 367.4 579.7 368.0 580.1 369.0 581.8 370.0 582.1 371.0 583.3 372.0 581.8 373.0 579.5 374.0 578.4 375.0 577.1 376.0 573.2 377.0 570.9 378.0 567.7 378.9 564.3 380.0 559.6 381.0 556.1 382.0 553.0 382.7 551.6 383.0 550.2 384.0 546.0 385.0 539.8 386.0 534.9 386.5 533.7 387.0 532.1 388.0 531.1 389.0 528.9 390.0 526.6 390.3 526.1 391.0 524.3 392.0 516.7 392.9 513.3 394.0 498.9 395.0 487.0 395.4 482.7 396.0 473.4 397.0 460.2 398.0 439.3 399.0 430.9 400.0 421.6 400.5 416.3 401.0 414.2 402.0 408.1 402.6 404.9 403.0 406.0 404.0 412.1 404.4 413.8 405.0 425.5 406.0 440.9 407.0 460.3 408.0 476.5 409.0 501.1 410.0 526.1 411.0 544.1 412.0 562.6 412.7 574.5 413.0 575.8 414.0 578.9 415.0 582.7 416.0 580.7 417.0 577.4 417.8 574.5 419.0 569.6 420.0 563.3 420.3 561.8 421.0 559.9 422.0 555.7 422.4 554.1 423.0 550.1 423.4 546.5 424.0 550.6 424.9 556.7 426.0 556.9 427.0 558.9 428.0 559.2 429.0 561.8 430.0 560.9 430.5 561.8 431.0 562.9 432.0 564.9 433.0 566.7 434.0 569.3 435.0 571.2 436.0 573.1 436.9 574.5 438.0 577.1 439.0 578.5 440.0 579.8 440.7 580.9 442.0 582.1 443.0 583.2 444.0 582.3 445.0 580.9 446.0 578.5 447.0 577.3 448.0 573.5 449.0 568.0 450.0 563.9 450.9 559.2 452.0 556.1 453.0 551.4 454.0 547.2 454.8 543.9 456.0 536.4 457.0 530.1 457.3 528.6 458.0 526.3 459.0 525.0 459.9 523.5 461.0 518.6 462.0 510.7 462.4 508.2 463.0 506.0 464.0 504.8 465.0 500.5 466.0 498.2 467.0 496.1 467.5 495.4 468.0 493.5 469.0 495.0 470.0 492.8 471.0 489.2 472.0 478.6 472.6 477.6 473.0 476.7 473.9 480.1 475.0 479.3 476.0 484.1 476.4 485.2 477.0 490.3 478.0 504.0 479.0 515.9 480.0 525.2 481.0 534.7 481.6 538.8 482.0 545.4 483.0 559.7 484.0 573.2 485.0 578.8 486.0 581.7 487.0 579.1 488.0 575.0 489.0 572.5 490.0 569.3 491.0 564.3 491.8 561.8 493.0 557.3 493.8 554.1 495.0 555.2 495.6 554.1 496.0 555.7 497.0 558.4 497.4 559.2 498.0 561.4 499.0 565.5 499.4 566.9 500.0 565.3 501.0 562.9 502.0 561.8 503.0 562.3 504.0 559.9 504.5 559.2 505.0 560.6 506.0 562.1 507.0 564.3 508.0 565.7 509.0 566.5 510.0 567.4 511.0 569.2 512.0 569.4 513.0 569.3 514.0 570.1 515.0 572.2 516.0 572.0 517.0 573.6 518.0 576.1 518.5 577.1 519.0 578.0 520.0 580.0 521.0 582.0 522.0 580.6 523.0 579.2 524.0 577.9 524.9 577.1 526.0 573.6 527.0 571.5 528.0 567.2 528.8 564.3 530.0 561.0 531.0 557.6 532.0 554.2 532.6 551.6 533.0 549.5 534.0 543.0 535.0 534.6 536.0 531.1 537.0 530.6 537.7 528.6 538.0 527.5 539.0 521.6 540.0 518.9 541.0 516.0 542.0 512.6 542.8 508.2 544.0 493.9 545.0 486.8 545.3 482.7 546.0 469.0 547.0 447.5 547.4 439.3 548.0 426.9 548.7 416.3 549.0 415.2 550.0 412.0 550.4 413.8 551.0 410.7 552.0 406.4 552.5 402.3 553.0 403.2 554.0 407.9 555.0 410.0 556.0 412.6 556.8 413.8 558.0 448.7 559.0 482.2 560.0 515.9 561.0 545.8 562.0 564.7 563.0 578.8 564.0 577.0 565.0 574.6 566.0 572.3 566.4 572.0 567.0 569.4 568.0 564.4 568.9 561.8 570.0 560.6 570.7 559.2 572.0 559.2 572.8 560.5 574.0 561.5 575.0 561.4 575.3 561.8 576.0 562.4 577.0 561.7 577.9 561.8 579.0 565.6 580.0 568.0 580.4 569.4 581.0 570.2 582.0 570.5 583.0 573.1 584.0 574.4 585.0 576.0 586.0 576.3 587.0 577.9 588.0 579.5 589.0 580.9 590.0 581.8 591.0 582.9 591.9 583.5 593.0 582.2 594.0 581.6 595.0 580.5 595.7 579.7 597.0 575.6 598.0 572.6 599.0 568.9 599.6 566.9 600.0 564.5 601.0 560.8 602.0 557.2 603.0 553.0 603.4 551.6 604.0 548.1 605.0 544.0 605.9 538.8 607.0 537.2 608.0 534.5 608.5 533.7 609.0 533.1 610.0 531.0 611.0 531.2 612.0 530.7 613.0 532.5 614.0 529.9 614.9 528.6 616.0 526.8 617.0 524.8 618.0 523.2 618.7 523.5 619.0 523.8 620.0 523.0 621.0 521.4 622.0 520.2 623.0 517.1 623.8 515.9 625.0 512.1 625.8 510.8 626.9 513.3 628.0 525.1 628.9 533.7 630.0 543.9 631.0 554.7 631.4 559.2 632.0 564.4 633.0 571.9 634.0 582.2 635.0 581.1 636.0 578.2 636.6 577.1 637.0 575.3 638.0 572.0 639.0 567.3 640.0 565.7 641.0 563.4 641.7 561.8 642.0 562.3 643.0 561.4 644.0 560.1 645.0 559.7 645.5 559.2 646.0 560.0 647.0 561.3 648.0 561.8 649.0 560.3 650.0 560.3 650.6 559.2 651.0 558.8 652.0 556.9 653.0 556.8 654.0 555.8 655.0 555.2 655.7 554.1 656.0 555.8 657.0 560.8 658.0 565.5 659.0 568.0 660.0 570.1 660.8 572.0 662.0 569.5 663.0 569.7 663.3 569.4 664.0 570.2 665.0 572.3 666.0 572.6 667.0 574.3 668.0 575.6 669.0 578.6 670.0 579.8 671.0 580.9 672.0 579.3 673.0 578.0 674.0 578.2 674.8 577.1 676.0 573.9 677.0 571.9 678.0 568.5 678.7 566.9 679.0 566.2 680.0 564.7 681.0 561.8 682.0 560.6 682.5 559.2 683.0 558.2 684.0 555.7 685.0 551.7 686.0 547.9 687.0 543.8 687.6 541.4 688.0 540.4 689.0 536.8 690.0 534.1 691.0 532.3 692.0 530.5 692.7 531.2 693.0 530.9 694.0 531.3 695.0 528.5 696.0 526.0 697.0 526.4 697.8 523.5 699.0 517.6 700.0 505.9 700.3 503.1 701.0 496.2 702.0 485.7 702.9 472.5 704.0 465.4 704.9 452.1 706.0 467.7 706.7 472.5 708.0 492.9 709.0 505.6 710.0 517.5 710.5 523.5 711.0 529.9 712.0 541.7 713.0 552.9 714.0 563.5 715.0 574.5 716.0 572.1 717.0 570.5 717.6 569.4 718.0 568.4 719.0 566.4 720.0 564.7 721.0 563.9 722.0 561.6 723.0 562.1 723.9 561.8 725.0 563.4 726.0 565.4 726.5 566.9 727.0 567.5 728.0 567.4 729.0 569.4 730.0 569.5 730.3 569.4 731.0 570.4 732.0 571.1 733.0 572.7 734.0 574.4 735.0 575.8 736.0 575.9 737.0 577.6 738.0 579.7 739.0 580.6 740.0 582.7 740.5 583.5 741.0 582.8 742.0 581.8 743.0 579.5 744.0 577.7 744.3 577.1 745.0 573.8 746.0 569.9 747.0 565.9 748.0 560.3 749.0 558.0 750.0 554.2 751.0 550.7 752.0 546.5 753.0 542.1 754.0 537.3 755.0 531.6 755.8 528.6 757.0 524.6 758.0 524.6 758.9 522.2 760.0 526.2 760.9 528.6 762.0 527.3 763.0 525.6 763.5 526.1 764.0 527.5 765.0 526.0 766.0 526.1 767.0 527.2 768.0 527.1 768.6 528.6 769.0 529.5 770.0 529.0 771.0 532.3 772.0 532.7 772.4 533.7 773.0 535.0 774.0 537.1 775.0 543.3 776.0 543.0 777.0 548.3 778.0 554.1 779.0 555.5 780.0 561.4 781.0 565.9 782.0 569.3 783.0 573.6 783.9 577.1 785.0 579.4 786.0 582.1 786.4 583.5 787.0 582.3 788.0 579.7 789.0 577.9 790.0 575.3 791.0 571.8 792.0 570.2 793.0 566.0 794.0 562.2 795.0 559.4 796.0 558.1 796.7 556.7 797.0 556.3 798.0 554.1 799.0 554.3 800.0 552.2 801.0 550.3 802.0 546.6 803.0 544.0 804.0 557.5 804.3 561.8 805.0 563.7 806.0 566.9 806.9 569.4 808.0 571.0 809.0 572.7 810.0 573.7 810.7 574.5 811.0 575.0 812.0 576.1 813.0 577.2 814.0 579.0 814.5 579.7 815.0 579.8 816.0 581.4 817.0 582.0 818.0 583.2 818.3 583.5 819.0 582.5 820.0 580.6 821.0 578.6 822.0 577.3 823.0 573.7 824.0 572.0 825.0 567.5 826.0 564.7 827.0 560.1 828.0 555.0 829.0 553.7 830.0 548.1 831.0 544.3 832.0 541.3 833.0 540.5 834.0 537.2 834.9 533.7 836.0 531.9 837.0 528.9 837.5 528.6 838.0 529.5 839.0 529.5 840.0 527.9 841.0 527.9 841.3 528.6 842.0 528.5 843.0 527.4 844.0 526.9 845.0 528.5 846.0 526.5 847.0 526.6 848.0 525.7 849.0 523.5 850.0 522.1 851.0 521.9 851.5 521.0 852.0 523.1 853.0 528.2 854.0 533.5 855.0 538.9 856.0 545.3 857.0 549.3 857.9 554.1 859.0 559.2 860.0 565.6 861.0 571.3 861.7 574.5 863.0 577.9 864.0 579.5 865.0 581.2 865.5 582.2 866.0 581.3 867.0 579.8 868.0 577.2 869.0 575.5 869.4 574.5 870.0 564.3 871.0 564.7 872.0 565.8 872.6 566.9 873.0 566.7 874.0 565.5 875.0 564.5 876.0 567.3 877.0 568.8 877.7 569.4 878.0 568.4 879.0 564.6 879.7 561.8 880.0 563.6 881.0 569.0 881.5 572.0 882.0 571.0 883.0 569.2 884.0 567.0 885.0 574.6 885.3 577.1 886.0 578.3 887.0 579.3 888.0 580.2 889.0 580.7 890.0 581.3 891.0 582.0 892.0 582.6 893.0 583.5 894.0 583.6 895.0 582.6 896.0 582.1 897.0 582.5 898.0 582.2 899.0 581.7 900.0 582.1 901.0 580.7 902.0 579.9 903.0 579.7 904.0 577.8 905.0 576.5 905.7 574.5 907.0 566.8 908.0 558.3 909.0 555.1 910.0 554.4 910.3 554.1 911.0 560.1 912.0 568.5 913.0 565.9 914.0 561.4 914.7 559.2 915.0 558.2 916.0 555.3 917.0 552.1 918.0 550.8 919.0 549.3 919.8 549.0 921.0 550.0 922.0 551.3 922.3 551.6 923.0 551.9 924.0 554.1 924.9 554.1 926.0 557.5 927.0 562.9 927.4 564.3 928.0 566.5 929.0 570.9 930.0 574.5 931.0 576.4 932.0 577.5 933.0 580.1 933.8 580.9 935.0 581.8 936.0 583.1 936.3 583.5 937.0 583.1 938.0 582.9 939.0 581.0 940.0 581.0 941.0 579.0 942.0 577.4 943.0 575.6 944.0 574.5 945.0 572.9 946.0 570.7 946.6 569.4 947.0 569.1 948.0 566.7 949.0 567.0 950.0 566.5 951.0 563.0 951.7 561.8 952.0 557.2 952.9 543.9 954.0 561.0 955.0 566.0 956.0 567.6 956.8 569.4 958.0 570.8 959.0 573.2 960.0 574.0 960.6 574.5 961.0 575.2 962.0 576.2 963.0 576.5 964.0 579.2 964.4 579.7 965.0 579.9 966.0 579.7 967.0 581.0 968.0 582.7 969.0 582.9 969.5 583.5 970.0 583.1 971.0 583.0 972.0 581.6 973.0 580.1 973.3 579.7 974.0 579.1 975.0 577.9 976.0 575.9 977.0 574.6 978.0 573.6 979.0 573.9 980.0 572.7 981.0 572.0 982.0 570.2 983.0 568.1 984.0 566.3 984.8 564.3 986.0 560.0 987.0 556.8 988.0 554.9 988.7 551.6 989.0 550.8 990.0 550.5 991.0 546.7 992.0 544.3 992.5 543.9 993.0 542.2 994.0 540.4 995.0 536.4 996.0 537.7 997.0 540.3 997.6 541.4 998.0 542.4 999.0 543.3 1000.0 546.2 1001.0 548.4 1002.0 550.6 1002.7 551.6 1003.0 552.7 1004.0 555.0 1005.0 558.3 1006.0 561.5 1007.0 563.9 1007.8 566.9 1009.0 570.4 1010.0 573.4 1010.3 574.5 1011.0 575.5 1012.0 577.0 1013.0 578.3 1014.0 580.6 1015.0 580.8 1016.0 580.6 1017.0 580.8 1018.0 580.9 1019.0 579.3 1020.0 578.0 1021.0 577.9 1021.8 577.1 1023.0 575.2 1024.0 572.8 1024.4 572.0 1025.0 574.5 1026.0 573.3 1027.0 572.3 1027.6 572.0 1028.0 573.7 1028.8 577.1 1030.0 577.8 1031.0 578.4 1032.0 579.2 1032.7 579.7 1033.0 579.8 1034.0 580.5 1035.0 580.8 1036.0 580.7 1036.5 580.9 1037.0 581.3 1038.0 582.2 1039.0 581.9 1040.0 582.1 1040.3 582.2 1041.0 582.5 1042.0 583.0 1043.0 583.2 1044.0 583.3 1044.9 584.2 1046.0 583.9 1047.0 583.0 1048.0 581.9 1049.0 581.2 1050.0 580.4 1051.0 579.8 1052.0 578.1 1053.0 577.1 1054.0 575.2 1055.0 573.5 1055.6 572.0 1056.0 571.9 1057.0 570.0 1058.0 569.7 1059.0 566.1 1060.0 560.6 1060.7 556.7 1062.0 549.4 1063.0 545.5 1064.0 544.7 1065.0 546.4 1065.3 546.5 1066.0 550.8 1067.0 556.2 1068.0 556.2 1069.0 558.8 1069.7 559.2 1070.0 557.9 1071.0 554.4 1072.0 552.1 1073.0 552.2 1074.0 550.9 1074.8 551.6 1076.0 558.5 1077.0 560.7 1077.3 561.8 1078.0 565.6 1079.0 570.1 1079.9 574.5 1081.0 577.0 1082.0 578.9 1082.4 579.7 1083.0 580.2 1084.0 581.3 1085.0 582.4 1086.0 582.4 1087.0 582.0 1088.0 581.5 1089.0 580.8 1090.0 580.9 1091.0 579.9 1091.3 579.7 1092.0 579.2 1093.0 578.2 1093.9 577.1 1095.0 574.5 1096.0 571.1 1096.4 569.4 1097.0 570.0 1098.0 571.3 1099.0 572.0 1100.0 568.2 1101.0 564.3 1101.6 561.8 1102.0 563.6 1103.0 567.1 1104.0 571.6 1105.0 570.8 1106.0 570.4 1106.7 569.4 1107.0 570.3 1108.0 572.3 1109.0 574.0 1110.0 575.4 1111.0 574.5 1112.0 575.3 1113.0 574.6 1114.0 575.7 1115.0 577.6 1116.0 577.5 1116.9 578.4 1118.0 578.5 1119.0 580.3 1120.0 580.3 1121.0 581.3 1122.0 582.2 1123.0 581.4 1124.0 581.7 1125.0 579.6 1125.8 579.7 1127.0 578.6 1128.0 579.4 1129.0 578.5 1129.6 578.4 1130.0 578.2 1131.0 578.0 1132.0 577.2 1133.0 576.2 1134.0 575.4 1134.7 574.5 1136.0 571.9 1137.0 570.1 1138.0 568.6 1139.0 568.6 1139.8 566.9 1141.0 563.3 1142.0 562.1 1142.4 561.8 1143.0 561.0 1144.0 559.9 1144.9 559.2 1146.0 558.2 1147.0 556.9 1147.5 556.7 1148.0 556.0 1149.0 557.0 1150.0 555.4 1151.0 557.3 1152.0 560.7 1152.6 561.8 1153.0 562.2 1154.0 564.3 1155.0 566.7 1156.0 569.9 1157.0 572.3 1157.7 574.5 1158.0 575.3 1159.0 577.9 1160.0 580.4 1161.0 582.2 1161.5 583.5 1162.0 583.2 1163.0 583.3 1164.0 582.3 1165.0 581.3 1165.3 580.9 1166.0 580.6 1167.0 581.2 1168.0 580.0 1169.0 579.7 1170.0 579.5 1171.0 580.0 1172.0 578.6 1173.0 578.4 1174.0 577.5 1175.0 577.4 1175.5 577.1 1176.0 576.7 1177.0 575.0 1178.0 574.6 1179.0 574.6 1180.0 574.5 1181.0 575.6 1182.0 576.5 1182.6 577.0 1183.0 571.5 1183.8 561.7 1185.0 578.2 1186.0 580.0 1187.0 578.6 1188.0 579.2 1189.0 579.4 1190.0 580.7 1191.0 581.2 1192.0 581.7 1193.0 581.6 1194.0 581.9 1195.0 582.1 1195.3 582.1 1196.0 581.9 1197.0 581.5 1198.0 580.4 1199.0 581.3 1200.0 581.2 1200.4 580.9 1201.0 580.7 1202.0 580.1 1203.0 580.2 1204.0 580.6 1205.0 579.7 1205.5 579.6 1206.0 578.9 1207.0 579.1 1208.0 578.0 1209.0 577.8 1210.0 578.7 1210.6 578.3 1211.0 578.2 1212.0 579.5 1213.0 579.6 1214.0 579.3 1215.0 580.5 1215.7 580.9 1217.0 580.7 1218.0 581.1 1219.0 581.4 1220.0 582.6 1220.8 582.7 1222.0 582.1 1223.0 582.1 1224.0 582.7 1225.0 582.8 1225.9 583.4 1227.0 582.9 1228.0 582.5 1229.0 582.6 1230.0 582.9 1231.0 582.7 1232.0 582.7 1233.0 583.3 1234.0 582.2 1235.0 582.4 1236.0 582.8 1237.0 581.7 1238.0 581.7 1238.7 581.6 1239.0 581.5 1240.0 581.3 1241.0 580.6 1242.0 580.3 1243.0 580.1 1243.8 579.6 1245.0 578.6 1246.0 579.1 1247.0 578.9 1248.0 578.8 1248.9 578.3 1250.0 577.1 1251.0 576.4 1252.0 575.3 1253.0 575.6 1254.0 574.5 1255.0 576.0 1256.0 576.4 1256.5 577.0 1257.0 577.1 1258.0 577.3 1259.0 578.7 1260.0 578.3 1261.0 578.5 1261.6 578.3 1262.0 578.5 1263.0 577.9 1264.0 578.9 1265.0 579.0 1266.0 579.7 1266.7 579.6 1268.0 580.0 1269.0 580.6 1270.0 580.6 1271.0 580.8 1271.8 580.9 1273.0 580.4 1274.0 580.0 1275.0 580.1 1276.0 579.7 1276.9 579.6 1278.0 579.4 1279.0 578.6 1280.0 576.8 1281.0 575.4 1282.0 574.5 1283.0 574.1 1284.0 574.3 1285.0 572.9 1286.0 572.3 1287.0 572.0 1288.0 569.9 1289.0 568.0 1289.7 566.8 1290.0 567.4 1291.0 568.6 1292.0 569.2 1293.0 570.6 1294.0 573.1 1294.8 574.5 1296.0 571.8 1297.0 569.8 1297.3 569.4 1298.0 567.1 1299.0 564.3 1299.9 561.7 1301.0 562.5 1302.0 562.4 1302.4 563.0 1303.0 563.0 1304.0 564.0 1305.0 564.3 1306.0 566.1 1307.0 566.3 1307.6 566.8 1308.0 567.0 1309.0 567.2 1310.0 569.2 1311.0 572.6 1312.0 577.4 1312.7 579.6 1313.0 580.0 1314.0 581.4 1315.0 581.9 1316.0 581.9 1317.0 581.1 1318.0 581.0 1319.0 581.1 1320.0 580.9 1320.3 580.9 1321.0 580.5 1322.0 579.7 1323.0 578.2 1324.0 576.5 1325.0 575.0 1325.4 574.5 1326.0 575.2 1327.0 576.7 1328.0 578.3 1329.0 578.6 1330.0 576.7 1331.0 575.7 1332.0 575.3 1333.0 574.5 1334.0 573.7 1335.0 573.0 1336.0 573.6 1337.0 573.8 1338.0 573.3 1339.0 574.1 1340.0 574.9 1341.0 575.8 1342.0 576.2 1343.0 576.8 1344.0 577.6 1345.0 577.1 1346.0 577.2 1347.0 578.3 1348.0 578.3 1348.4 578.3 1349.0 578.6 1350.0 578.9 1351.0 578.0 1352.0 578.9 1353.0 579.1 1353.5 579.6"/></defs>
<g fill="none" stroke-linejoin="round"><use href="#tke" stroke="#f00" stroke-width="2.0" clip-path="url(#cbo)"/>
<use href="#tke" stroke="#e8321f" stroke-width="2.0" clip-path="url(#cbi)"/></g>
<g clip-path="url(#cc)" fill="none" stroke-linejoin="round">
<path d="M95.0 773.3 96.0 773.7 97.0 772.8 97.6 774.7 98.0 776.3 99.0 766.9 100.0 766.3 101.0 764.6 101.4 763.9 102.0 770.1 102.7 785.1 103.0 783.9 104.0 792.3 105.0 801.7 106.0 804.9 107.0 812.6 107.8 815.2 109.0 829.6 110.0 841.5 110.3 845.8 111.0 847.8 112.0 851.5 112.9 855.3 114.0 854.1 115.0 853.0 116.0 853.1 116.7 852.9 117.0 852.5 118.0 849.8 119.0 847.2 120.0 849.6 120.5 845.9 121.0 844.1 122.0 841.5 123.0 840.2 124.0 842.5 124.3 839.3 125.0 838.9 126.0 827.8 126.9 833.3 128.0 838.6 129.0 843.1 129.4 840.2 130.0 836.5 131.0 841.9 132.0 839.9 133.0 837.8 134.0 842.4 135.0 847.9 136.0 849.3 137.0 850.3 138.0 849.5 139.0 854.3 140.0 851.4 141.0 853.9 142.0 855.5 143.0 856.0 144.0 855.5 144.8 855.5 146.0 851.2 147.0 848.4 147.3 847.9 148.0 838.3 149.0 839.5 149.9 832.8 151.0 824.0 152.0 819.3 153.0 816.2 153.7 815.4 154.0 811.9 155.0 809.3 156.0 805.5 157.0 801.9 157.5 802.9 158.0 803.0 159.0 797.8 160.0 796.0 161.0 795.1 161.3 793.9 162.0 790.6 163.0 787.3 163.9 782.0 165.0 768.9 166.0 753.2 166.4 741.8 167.0 747.5 168.0 734.3 169.0 738.2 170.0 725.4 171.0 719.3 171.6 711.8 172.0 706.6 172.8 706.6 174.0 714.5 174.6 715.8 175.0 721.0 176.0 736.5 176.7 741.9 177.0 744.8 178.0 759.5 179.0 773.6 180.0 792.0 181.0 809.0 181.8 816.5 183.0 830.3 184.0 844.9 184.3 845.6 185.0 848.4 186.0 852.4 186.9 854.6 188.0 854.7 189.0 852.8 190.0 850.1 190.7 848.1 191.0 848.9 192.0 847.9 193.0 841.5 194.0 837.3 194.5 839.2 195.0 833.2 196.0 829.4 197.0 829.9 198.0 826.3 199.0 821.1 200.0 828.2 200.9 835.3 202.0 837.2 203.0 838.1 204.0 840.2 204.7 845.3 206.0 847.4 207.0 849.2 208.0 848.2 209.0 845.0 209.8 848.3 211.0 850.0 212.0 849.8 213.0 850.2 214.0 853.6 215.0 853.8 216.0 853.8 217.0 854.4 218.0 855.1 219.0 855.4 220.0 856.2 221.0 854.5 222.0 852.3 223.0 850.5 223.9 849.4 225.0 843.9 226.0 846.6 227.0 837.9 227.7 842.3 228.0 839.3 229.0 832.4 230.0 831.7 231.0 831.0 231.5 826.5 232.0 823.7 233.0 823.7 234.0 823.4 235.0 812.9 235.3 816.9 236.0 815.8 237.0 815.2 238.0 812.7 239.0 811.4 240.0 812.1 241.0 806.8 241.7 802.1 243.0 799.6 244.0 788.6 245.0 785.6 246.0 779.1 246.8 776.8 248.0 768.4 248.6 767.1 249.0 764.9 250.0 770.1 251.0 772.6 252.0 778.7 253.0 777.9 254.0 785.6 255.0 784.9 256.0 786.0 256.4 785.1 257.0 792.4 257.7 793.4 258.0 794.5 259.0 802.4 260.0 800.1 261.0 820.9 261.5 826.4 262.0 836.6 262.8 849.7 264.0 852.7 265.0 853.5 265.3 854.1 266.0 853.6 267.0 853.4 267.9 852.5 269.0 848.4 270.0 842.9 270.4 839.8 271.0 835.8 272.0 840.1 273.0 838.4 274.0 836.0 275.0 836.7 275.5 837.5 276.0 833.9 277.0 834.0 277.6 831.5 278.0 828.7 279.0 836.2 279.3 837.4 280.0 840.9 281.0 838.7 282.0 840.6 283.0 841.7 284.0 844.9 285.0 847.2 286.0 849.5 287.0 850.6 288.0 851.2 289.0 852.6 290.0 853.3 290.8 854.3 292.0 855.5 293.0 854.6 294.0 855.6 294.7 856.2 295.0 856.2 296.0 854.0 297.0 853.7 298.0 851.8 299.0 846.6 300.0 841.9 301.0 841.4 302.0 834.4 303.0 835.5 304.0 827.3 304.9 827.3 306.0 822.4 307.0 817.6 308.0 816.2 308.7 813.2 309.0 816.2 310.0 819.0 311.0 812.0 312.0 809.9 313.0 800.1 313.8 797.5 315.0 806.8 315.8 801.2 317.0 809.1 317.6 807.0 318.0 798.3 319.0 793.9 320.0 791.4 321.0 791.3 322.0 786.2 322.7 785.1 324.0 783.3 325.0 788.0 326.0 794.8 326.6 796.1 327.0 800.6 328.0 801.9 329.0 811.3 330.0 810.3 331.0 814.3 331.7 820.9 332.0 824.8 333.0 831.7 334.0 847.5 335.0 849.2 336.0 852.1 336.8 854.7 338.0 851.4 339.0 850.4 339.3 849.1 340.0 849.9 341.0 841.3 342.0 833.8 342.4 832.0 343.0 829.7 344.0 828.7 344.4 827.0 345.0 825.2 346.0 815.7 346.5 812.2 347.0 818.8 348.0 828.6 349.0 838.5 349.5 843.9 350.0 843.8 351.0 839.6 352.0 835.9 353.0 838.2 353.3 840.8 354.0 834.3 355.0 838.4 356.0 840.6 357.0 839.0 358.0 838.8 359.0 846.6 360.0 847.5 361.0 845.4 362.0 848.7 363.0 849.0 363.5 846.0 364.0 852.2 365.0 849.0 366.0 851.8 367.0 851.8 367.4 853.4 368.0 852.8 369.0 854.9 370.0 855.5 371.0 856.0 372.0 854.7 373.0 854.2 374.0 851.7 375.0 852.4 376.0 848.2 377.0 847.2 378.0 844.6 378.9 842.4 380.0 838.4 381.0 834.2 382.0 832.4 382.7 833.6 383.0 831.3 384.0 825.9 385.0 822.3 386.0 818.7 386.5 819.3 387.0 818.6 388.0 817.7 389.0 814.3 390.0 814.2 390.3 810.6 391.0 805.8 392.0 806.6 392.9 800.5 394.0 791.5 395.0 782.1 395.4 783.0 396.0 772.0 397.0 765.6 398.0 748.4 399.0 740.5 400.0 732.8 400.5 733.5 401.0 731.8 402.0 728.1 402.6 728.1 403.0 725.5 404.0 730.0 404.4 730.3 405.0 739.5 406.0 749.8 407.0 763.0 408.0 781.5 409.0 790.9 410.0 814.3 411.0 828.0 412.0 841.0 412.7 848.3 413.0 850.2 414.0 852.4 415.0 855.2 416.0 854.0 417.0 851.2 417.8 848.8 419.0 847.1 420.0 838.8 420.3 841.1 421.0 837.3 422.0 836.5 422.4 834.6 423.0 832.0 423.4 826.5 424.0 830.1 424.9 834.3 426.0 836.8 427.0 839.6 428.0 840.6 429.0 839.0 430.0 839.6 430.5 836.4 431.0 835.9 432.0 840.4 433.0 842.3 434.0 842.7 435.0 844.1 436.0 849.2 436.9 848.5 438.0 849.8 439.0 854.2 440.0 853.5 440.7 854.0 442.0 855.3 443.0 855.7 444.0 855.8 445.0 853.4 446.0 851.4 447.0 851.4 448.0 847.7 449.0 847.4 450.0 837.9 450.9 836.5 452.0 836.3 453.0 833.6 454.0 831.5 454.8 827.6 456.0 826.1 457.0 815.5 457.3 815.8 458.0 815.6 459.0 812.0 459.9 811.0 461.0 807.0 462.0 800.7 462.4 797.8 463.0 797.4 464.0 794.3 465.0 795.5 466.0 789.3 467.0 796.0 467.5 794.7 468.0 791.9 469.0 790.1 470.0 787.6 471.0 789.0 472.0 778.8 472.6 778.9 473.0 775.4 473.9 781.9 475.0 777.1 476.0 782.7 476.4 779.4 477.0 785.6 478.0 798.3 479.0 804.9 480.0 811.9 481.0 821.7 481.6 822.8 482.0 830.6 483.0 832.9 484.0 849.2 485.0 853.0 486.0 854.1 487.0 851.9 488.0 850.8 489.0 846.3 490.0 844.4 491.0 843.2 491.8 839.2 493.0 837.7 493.8 832.3 495.0 835.8 495.6 836.7 496.0 836.2 497.0 832.5 497.4 839.5 498.0 839.8 499.0 840.6 499.4 846.6 500.0 838.6 501.0 845.0 502.0 838.5 503.0 843.9 504.0 838.4 504.5 835.0 505.0 839.3 506.0 840.9 507.0 843.0 508.0 845.2 509.0 841.5 510.0 845.1 511.0 846.8 512.0 845.1 513.0 843.8 514.0 844.4 515.0 848.8 516.0 848.7 517.0 847.6 518.0 849.1 518.5 852.5 519.0 850.7 520.0 853.6 521.0 854.7 522.0 853.0 523.0 853.0 524.0 851.7 524.9 852.7 526.0 851.8 527.0 846.9 528.0 846.0 528.8 844.2 530.0 838.1 531.0 834.9 532.0 837.9 532.6 831.6 533.0 830.8 534.0 825.4 535.0 819.5 536.0 815.9 537.0 818.6 537.7 818.2 538.0 813.7 539.0 807.1 540.0 808.3 541.0 802.7 542.0 802.1 542.8 803.0 544.0 794.9 545.0 785.3 545.3 779.0 546.0 773.0 547.0 750.3 547.4 747.7 548.0 743.5 548.7 734.0 549.0 728.4 550.0 725.4 550.4 732.3 551.0 728.0 552.0 723.6 552.5 722.8 553.0 721.3 554.0 721.7 555.0 729.4 556.0 728.1 556.8 728.1 558.0 753.2 559.0 781.6 560.0 804.1 561.0 829.5 562.0 841.5 563.0 853.4 564.0 850.9 565.0 848.6 566.0 844.8 566.4 845.8 567.0 846.9 568.0 848.8 568.9 837.1 570.0 836.7 570.7 838.8 572.0 839.1 572.8 837.5 574.0 839.9 575.0 836.0 575.3 839.3 576.0 842.4 577.0 843.6 577.9 839.6 579.0 842.2 580.0 845.5 580.4 847.6 581.0 847.0 582.0 845.1 583.0 848.9 584.0 850.5 585.0 849.7 586.0 849.4 587.0 852.4 588.0 853.4 589.0 854.7 590.0 854.9 591.0 855.4 591.9 856.0 593.0 854.7 594.0 854.3 595.0 853.5 595.7 852.9 597.0 851.5 598.0 846.2 599.0 845.1 599.6 842.5 600.0 845.3 601.0 839.8 602.0 835.7 603.0 835.2 603.4 832.5 604.0 828.7 605.0 830.2 605.9 824.5 607.0 825.6 608.0 822.4 608.5 820.9 609.0 819.0 610.0 814.7 611.0 818.9 612.0 817.1 613.0 819.8 614.0 816.3 614.9 813.8 616.0 811.8 617.0 814.1 618.0 814.3 618.7 811.0 619.0 812.9 620.0 814.3 621.0 808.2 622.0 808.4 623.0 804.4 623.8 808.6 625.0 803.8 625.8 801.2 626.9 800.4 628.0 812.4 628.9 821.4 630.0 826.1 631.0 833.8 631.4 839.5 632.0 839.1 633.0 847.6 634.0 855.4 635.0 853.9 636.0 851.5 636.6 851.6 637.0 849.9 638.0 847.2 639.0 844.5 640.0 843.3 641.0 839.1 641.7 838.5 642.0 841.4 643.0 842.2 644.0 841.7 645.0 836.5 645.5 840.5 646.0 840.3 647.0 839.6 648.0 841.1 649.0 840.7 650.0 842.9 650.6 835.7 651.0 839.1 652.0 836.0 653.0 835.8 654.0 838.1 655.0 836.9 655.7 832.0 656.0 834.9 657.0 839.7 658.0 839.5 659.0 846.3 660.0 846.1 660.8 847.8 662.0 846.3 663.0 849.1 663.3 845.7 664.0 845.6 665.0 850.4 666.0 847.3 667.0 848.6 668.0 848.7 669.0 853.3 670.0 853.5 671.0 854.4 672.0 853.1 673.0 851.9 674.0 851.5 674.8 850.6 676.0 849.5 677.0 847.7 678.0 848.1 678.7 842.2 679.0 842.2 680.0 839.8 681.0 843.1 682.0 836.3 682.5 839.8 683.0 840.6 684.0 835.2 685.0 834.1 686.0 825.0 687.0 825.8 687.6 821.2 688.0 824.6 689.0 821.5 690.0 817.8 691.0 820.3 692.0 817.6 692.7 816.2 693.0 816.0 694.0 814.1 695.0 815.0 696.0 818.2 697.0 812.2 697.8 812.6 699.0 806.1 700.0 800.5 700.3 797.6 701.0 790.9 702.0 779.7 702.9 772.8 704.0 771.3 704.9 758.3 706.0 771.8 706.7 772.8 708.0 784.8 709.0 799.4 710.0 808.0 710.5 810.4 711.0 815.5 712.0 825.7 713.0 832.1 714.0 842.0 715.0 849.2 716.0 844.1 717.0 846.2 717.6 844.6 718.0 843.3 719.0 844.3 720.0 841.0 721.0 842.8 722.0 842.3 723.0 840.6 723.9 836.5 725.0 839.5 726.0 844.7 726.5 843.2 727.0 842.6 728.0 843.9 729.0 846.5 730.0 846.2 730.3 846.8 731.0 845.0 732.0 846.5 733.0 847.8 734.0 849.3 735.0 848.2 736.0 850.2 737.0 850.5 738.0 854.2 739.0 854.8 740.0 856.1 740.5 856.3 741.0 855.4 742.0 855.2 743.0 853.0 744.0 852.4 744.3 850.5 745.0 848.1 746.0 846.8 747.0 847.0 748.0 838.8 749.0 842.3 750.0 840.6 751.0 828.9 752.0 828.6 753.0 823.3 754.0 821.6 755.0 816.5 755.8 815.3 757.0 814.7 758.0 814.6 758.9 811.3 760.0 813.7 760.9 815.7 762.0 814.8 763.0 814.5 763.5 813.6 764.0 815.8 765.0 810.6 766.0 815.4 767.0 818.4 768.0 814.7 768.6 812.3 769.0 819.1 770.0 815.0 771.0 811.5 772.0 818.0 772.4 820.6 773.0 821.1 774.0 824.5 775.0 827.8 776.0 826.4 777.0 825.6 778.0 831.9 779.0 835.7 780.0 841.2 781.0 840.8 782.0 844.4 783.0 849.4 783.9 849.6 785.0 851.8 786.0 855.0 786.4 856.2 787.0 855.1 788.0 851.8 789.0 852.0 790.0 848.5 791.0 848.4 792.0 846.0 793.0 843.7 794.0 841.7 795.0 837.1 796.0 839.2 796.7 839.0 797.0 836.9 798.0 837.3 799.0 833.1 800.0 835.0 801.0 832.1 802.0 826.6 803.0 826.7 804.0 835.7 804.3 838.8 805.0 841.7 806.0 846.0 806.9 845.1 808.0 847.1 809.0 846.0 810.0 849.0 810.7 850.9 811.0 850.8 812.0 851.1 813.0 850.9 814.0 852.1 814.5 853.2 815.0 852.5 816.0 854.0 817.0 855.4 818.0 855.7 818.3 856.5 819.0 854.9 820.0 854.2 821.0 851.6 822.0 851.7 823.0 847.4 824.0 847.7 825.0 843.9 826.0 841.2 827.0 839.9 828.0 838.4 829.0 832.7 830.0 831.9 831.0 827.3 832.0 824.8 833.0 829.2 834.0 817.0 834.9 817.7 836.0 813.9 837.0 815.0 837.5 815.0 838.0 824.7 839.0 816.9 840.0 819.0 841.0 817.9 841.3 814.5 842.0 816.5 843.0 818.3 844.0 814.6 845.0 815.9 846.0 815.0 847.0 810.6 848.0 811.5 849.0 812.5 850.0 811.9 851.0 808.5 851.5 809.1 852.0 811.1 853.0 814.8 854.0 820.7 855.0 823.3 856.0 828.2 857.0 827.6 857.9 832.0 859.0 838.8 860.0 839.3 861.0 847.5 861.7 848.7 863.0 851.3 864.0 853.6 865.0 854.1 865.5 854.8 866.0 854.2 867.0 853.4 868.0 854.0 869.0 847.8 869.4 849.5 870.0 841.4 871.0 844.3 872.0 842.2 872.6 838.6 873.0 846.4 874.0 840.3 875.0 841.9 876.0 841.3 877.0 843.1 877.7 844.8 878.0 846.5 879.0 844.0 879.7 838.7 880.0 842.5 881.0 844.6 881.5 847.7 882.0 847.1 883.0 846.6 884.0 842.5 885.0 849.3 885.3 851.6 886.0 852.3 887.0 852.5 888.0 854.7 889.0 853.8 890.0 854.8 891.0 855.1 892.0 855.8 893.0 855.6 894.0 856.6 895.0 855.4 896.0 854.6 897.0 855.4 898.0 856.0 899.0 855.0 900.0 854.6 901.0 853.8 902.0 854.3 903.0 852.3 904.0 851.7 905.0 850.6 905.7 852.1 907.0 843.1 908.0 840.4 909.0 833.5 910.0 832.7 910.3 836.6 911.0 840.1 912.0 841.6 913.0 844.4 914.0 841.1 914.7 836.7 915.0 837.8 916.0 835.8 917.0 831.7 918.0 830.5 919.0 829.2 919.8 829.9 921.0 828.3 922.0 832.1 922.3 829.1 923.0 832.8 924.0 834.1 924.9 832.0 926.0 838.8 927.0 845.2 927.4 844.8 928.0 840.6 929.0 848.8 930.0 849.7 931.0 850.8 932.0 851.1 933.0 853.6 933.8 854.9 935.0 855.1 936.0 855.7 936.3 855.9 937.0 855.7 938.0 855.8 939.0 855.2 940.0 853.8 941.0 852.8 942.0 851.2 943.0 849.4 944.0 849.9 945.0 849.0 946.0 844.2 946.6 843.8 947.0 847.6 948.0 844.3 949.0 844.9 950.0 842.4 951.0 840.0 951.7 841.0 952.0 835.5 952.9 824.3 954.0 839.4 955.0 845.1 956.0 842.2 956.8 847.6 958.0 847.8 959.0 847.3 960.0 849.0 960.6 849.4 961.0 850.6 962.0 851.4 963.0 849.6 964.0 852.0 964.4 853.9 965.0 853.5 966.0 853.6 967.0 854.4 968.0 856.0 969.0 855.4 969.5 856.3 970.0 855.6 971.0 855.9 972.0 855.3 973.0 852.7 973.3 853.5 974.0 852.7 975.0 851.7 976.0 850.5 977.0 848.2 978.0 847.5 979.0 849.8 980.0 849.3 981.0 846.7 982.0 843.7 983.0 849.2 984.0 845.7 984.8 842.7 986.0 836.3 987.0 834.9 988.0 835.4 988.7 830.3 989.0 835.4 990.0 832.0 991.0 829.7 992.0 824.7 992.5 824.7 993.0 823.8 994.0 824.8 995.0 820.6 996.0 821.5 997.0 824.8 997.6 825.4 998.0 828.9 999.0 825.9 1000.0 826.2 1001.0 830.1 1002.0 835.0 1002.7 831.2 1003.0 833.4 1004.0 834.2 1005.0 838.3 1006.0 840.4 1007.0 839.7 1007.8 843.3 1009.0 847.9 1010.0 850.1 1010.3 850.6 1011.0 851.1 1012.0 850.9 1013.0 851.9 1014.0 854.5 1015.0 853.5 1016.0 853.9 1017.0 853.1 1018.0 854.0 1019.0 852.5 1020.0 851.1 1021.0 852.5 1021.8 850.7 1023.0 849.5 1024.0 847.8 1024.4 846.4 1025.0 851.2 1026.0 847.9 1027.0 848.0 1027.6 845.6 1028.0 848.2 1028.8 851.0 1030.0 851.6 1031.0 851.8 1032.0 853.0 1032.7 854.3 1033.0 853.3 1034.0 853.8 1035.0 853.9 1036.0 855.4 1036.5 855.0 1037.0 854.8 1038.0 855.4 1039.0 854.6 1040.0 855.0 1040.3 855.2 1041.0 855.4 1042.0 855.5 1043.0 855.7 1044.0 856.1 1044.9 856.7 1046.0 856.1 1047.0 855.8 1048.0 855.4 1049.0 854.1 1050.0 853.9 1051.0 852.4 1052.0 852.8 1053.0 850.4 1054.0 848.5 1055.0 848.2 1055.6 851.1 1056.0 846.6 1057.0 843.9 1058.0 846.7 1059.0 843.7 1060.0 842.8 1060.7 833.4 1062.0 827.3 1063.0 827.3 1064.0 828.2 1065.0 829.4 1065.3 831.1 1066.0 828.5 1067.0 834.0 1068.0 835.6 1069.0 839.6 1069.7 839.2 1070.0 836.1 1071.0 832.3 1072.0 834.8 1073.0 835.0 1074.0 837.9 1074.8 832.0 1076.0 841.2 1077.0 836.5 1077.3 838.8 1078.0 841.3 1079.0 845.4 1079.9 848.4 1081.0 850.8 1082.0 852.6 1082.4 853.0 1083.0 854.1 1084.0 854.5 1085.0 855.3 1086.0 855.8 1087.0 855.1 1088.0 854.7 1089.0 854.1 1090.0 854.2 1091.0 853.8 1091.3 852.7 1092.0 853.7 1093.0 853.4 1093.9 852.4 1095.0 848.9 1096.0 844.3 1096.4 844.9 1097.0 846.4 1098.0 848.4 1099.0 847.3 1100.0 844.2 1101.0 845.3 1101.6 838.5 1102.0 843.7 1103.0 845.8 1104.0 845.2 1105.0 847.1 1106.0 845.5 1106.7 844.0 1107.0 843.2 1108.0 845.5 1109.0 849.6 1110.0 849.7 1111.0 849.8 1112.0 848.9 1113.0 849.1 1114.0 850.0 1115.0 850.4 1116.0 850.2 1116.9 852.7 1118.0 852.5 1119.0 853.2 1120.0 853.7 1121.0 854.8 1122.0 855.8 1123.0 854.1 1124.0 855.0 1125.0 854.6 1125.8 853.3 1127.0 853.6 1128.0 851.3 1129.0 853.5 1129.6 852.3 1130.0 850.6 1131.0 852.7 1132.0 852.4 1133.0 851.9 1134.0 851.4 1134.7 849.4 1136.0 846.3 1137.0 845.4 1138.0 845.0 1139.0 845.8 1139.8 842.8 1141.0 841.2 1142.0 842.2 1142.4 840.7 1143.0 844.5 1144.0 843.4 1144.9 835.5 1146.0 836.1 1147.0 833.5 1147.5 833.6 1148.0 836.9 1149.0 834.2 1150.0 832.9 1151.0 836.1 1152.0 841.0 1152.6 839.2 1153.0 839.5 1154.0 843.9 1155.0 844.6 1156.0 846.8 1157.0 849.2 1157.7 848.2 1158.0 850.2 1159.0 851.4 1160.0 854.4 1161.0 855.5 1161.5 855.9 1162.0 856.2 1163.0 855.7 1164.0 855.6 1165.0 854.6 1165.3 853.8 1166.0 853.4 1167.0 854.2 1168.0 853.5 1169.0 852.9 1170.0 853.5 1171.0 852.6 1172.0 852.5 1173.0 852.3 1174.0 850.0 1175.0 851.9 1175.5 850.2 1176.0 848.6 1177.0 849.1 1178.0 849.2 1179.0 850.6 1180.0 848.8 1181.0 851.9 1182.0 852.4 1182.6 852.3 1183.0 849.3 1183.8 840.7 1185.0 851.7 1186.0 853.9 1187.0 853.2 1188.0 853.1 1189.0 852.9 1190.0 853.2 1191.0 854.7 1192.0 854.9 1193.0 854.1 1194.0 855.0 1195.0 855.4 1195.3 855.1 1196.0 855.2 1197.0 855.0 1198.0 852.9 1199.0 854.3 1200.0 854.7 1200.4 854.6 1201.0 854.8 1202.0 852.4 1203.0 853.6 1204.0 854.3 1205.0 854.1 1205.5 854.3 1206.0 852.0 1207.0 852.6 1208.0 851.1 1209.0 852.6 1210.0 851.5 1210.6 853.2 1211.0 852.9 1212.0 853.4 1213.0 851.8 1214.0 852.5 1215.0 854.3 1215.7 853.4 1217.0 853.9 1218.0 854.2 1219.0 855.0 1220.0 855.5 1220.8 855.6 1222.0 854.9 1223.0 855.0 1224.0 855.5 1225.0 855.8 1225.9 856.0 1227.0 856.0 1228.0 854.8 1229.0 855.8 1230.0 855.6 1231.0 855.8 1232.0 855.5 1233.0 856.2 1234.0 855.7 1235.0 855.1 1236.0 855.6 1237.0 854.7 1238.0 854.8 1238.7 854.0 1239.0 854.6 1240.0 854.4 1241.0 853.6 1242.0 853.6 1243.0 852.7 1243.8 854.1 1245.0 852.8 1246.0 854.2 1247.0 852.0 1248.0 851.8 1248.9 852.5 1250.0 849.8 1251.0 851.1 1252.0 849.2 1253.0 849.9 1254.0 849.7 1255.0 850.6 1256.0 852.7 1256.5 851.9 1257.0 850.2 1258.0 852.4 1259.0 851.5 1260.0 852.3 1261.0 851.4 1261.6 851.6 1262.0 853.4 1263.0 851.4 1264.0 852.2 1265.0 852.3 1266.0 853.1 1266.7 854.2 1268.0 852.7 1269.0 853.3 1270.0 854.2 1271.0 853.3 1271.8 854.0 1273.0 854.4 1274.0 853.5 1275.0 853.3 1276.0 852.9 1276.9 852.6 1278.0 852.6 1279.0 852.6 1280.0 852.3 1281.0 851.1 1282.0 848.7 1283.0 848.2 1284.0 850.2 1285.0 845.6 1286.0 847.1 1287.0 847.1 1288.0 844.0 1289.0 842.6 1289.7 844.4 1290.0 840.7 1291.0 843.3 1292.0 844.3 1293.0 846.7 1294.0 846.5 1294.8 850.7 1296.0 846.9 1297.0 845.4 1297.3 844.9 1298.0 842.5 1299.0 839.6 1299.9 842.5 1301.0 840.9 1302.0 840.1 1302.4 843.0 1303.0 839.2 1304.0 842.9 1305.0 841.8 1306.0 841.2 1307.0 844.9 1307.6 840.5 1308.0 845.2 1309.0 842.2 1310.0 846.1 1311.0 849.9 1312.0 852.0 1312.7 852.8 1313.0 853.5 1314.0 854.4 1315.0 854.4 1316.0 854.4 1317.0 854.3 1318.0 854.5 1319.0 853.4 1320.0 854.1 1320.3 854.4 1321.0 853.9 1322.0 852.6 1323.0 853.0 1324.0 849.7 1325.0 850.5 1325.4 851.3 1326.0 847.6 1327.0 851.3 1328.0 852.5 1329.0 852.6 1330.0 850.2 1331.0 849.9 1332.0 848.4 1333.0 849.5 1334.0 849.4 1335.0 847.3 1336.0 847.4 1337.0 848.2 1338.0 848.4 1339.0 849.1 1340.0 849.6 1341.0 850.4 1342.0 849.2 1343.0 848.4 1344.0 852.2 1345.0 852.6 1346.0 850.1 1347.0 851.7 1348.0 852.4 1348.4 853.0 1349.0 852.9 1350.0 853.6 1351.0 851.9 1352.0 852.9 1353.0 853.1 1353.5 852.9" stroke="#000" stroke-width="1.1"/>
<defs><path id="trd" d="M95.0 727.4 96.0 725.2 97.0 728.2 97.6 724.4 98.0 726.4 99.0 726.0 100.0 716.4 101.0 715.8 101.4 711.4 102.0 732.0 102.7 744.1 103.0 746.6 104.0 758.2 105.0 773.5 106.0 784.2 107.0 789.9 107.8 796.0 109.0 817.0 110.0 835.7 110.3 839.9 111.0 841.7 112.0 848.7 112.9 852.4 114.0 852.0 115.0 850.8 116.0 850.8 116.7 851.2 117.0 849.8 118.0 846.7 119.0 845.2 120.0 840.4 120.5 839.5 121.0 836.8 122.0 832.4 123.0 831.1 124.0 826.9 124.3 824.1 125.0 826.8 126.0 822.1 126.9 820.6 128.0 824.5 129.0 828.3 129.4 831.5 130.0 831.9 131.0 829.1 132.0 834.1 133.0 831.6 134.0 836.2 135.0 842.7 136.0 841.9 137.0 846.3 138.0 846.4 139.0 849.5 140.0 849.5 141.0 852.0 142.0 854.7 143.0 854.2 144.0 854.1 144.8 853.4 146.0 846.8 147.0 844.0 147.3 841.4 148.0 832.8 149.0 824.2 149.9 816.1 151.0 806.4 152.0 798.5 153.0 792.2 153.7 789.8 154.0 784.7 155.0 779.6 156.0 779.1 157.0 776.7 157.5 775.4 158.0 770.4 159.0 767.8 160.0 762.1 161.0 758.4 161.3 755.1 162.0 753.9 163.0 746.6 163.9 742.4 165.0 720.0 166.0 692.8 166.4 685.2 167.0 681.8 168.0 672.6 169.0 668.7 170.0 653.3 171.0 640.0 171.6 632.5 172.0 627.2 172.8 621.4 174.0 636.1 174.6 637.5 175.0 646.8 176.0 666.8 176.7 672.6 177.0 682.6 178.0 713.8 179.0 729.8 180.0 756.7 181.0 776.9 181.8 791.8 183.0 813.4 184.0 834.8 184.3 840.5 185.0 843.8 186.0 849.5 186.9 853.9 188.0 852.3 189.0 849.8 190.0 846.3 190.7 845.3 191.0 842.6 192.0 837.3 193.0 835.6 194.0 829.2 194.5 823.6 195.0 825.5 196.0 817.9 197.0 819.2 198.0 812.6 199.0 803.1 200.0 812.9 200.9 819.9 202.0 826.2 203.0 829.3 204.0 830.9 204.7 836.5 206.0 839.7 207.0 843.0 208.0 839.9 209.0 842.5 209.8 845.0 211.0 845.7 212.0 845.4 213.0 849.4 214.0 850.6 215.0 851.5 216.0 852.5 217.0 853.0 218.0 853.9 219.0 854.6 220.0 855.4 221.0 853.1 222.0 850.6 223.0 847.0 223.9 845.0 225.0 838.5 226.0 837.3 227.0 830.1 227.7 829.8 228.0 827.8 229.0 819.8 230.0 818.5 231.0 811.5 231.5 812.2 232.0 810.0 233.0 804.5 234.0 798.7 235.0 792.7 235.3 793.1 236.0 793.4 237.0 792.0 238.0 790.1 239.0 785.6 240.0 784.4 241.0 775.0 241.7 776.2 243.0 763.3 244.0 756.6 245.0 743.1 246.0 740.4 246.8 728.3 248.0 718.9 248.6 712.9 249.0 716.8 250.0 718.3 251.0 726.6 252.0 726.7 253.0 737.4 254.0 741.5 255.0 745.1 256.0 745.9 256.4 746.2 257.0 756.0 257.7 761.7 258.0 763.3 259.0 771.0 260.0 771.2 261.0 796.9 261.5 809.5 262.0 822.6 262.8 845.3 264.0 849.7 265.0 851.2 265.3 852.3 266.0 851.8 267.0 850.2 267.9 848.0 269.0 838.7 270.0 831.8 270.4 829.6 271.0 830.6 272.0 828.9 273.0 825.2 274.0 827.5 275.0 821.8 275.5 821.2 276.0 819.8 277.0 820.2 277.6 812.8 278.0 819.3 279.0 826.6 279.3 827.7 280.0 833.3 281.0 833.0 282.0 833.8 283.0 834.6 284.0 838.6 285.0 840.8 286.0 842.7 287.0 845.3 288.0 847.1 289.0 849.8 290.0 851.5 290.8 852.7 292.0 853.3 293.0 853.8 294.0 854.7 294.7 855.5 295.0 854.9 296.0 852.6 297.0 851.5 298.0 846.5 299.0 842.5 300.0 837.3 301.0 832.2 302.0 825.8 303.0 818.7 304.0 813.5 304.9 805.2 306.0 800.6 307.0 800.0 308.0 794.4 308.7 793.6 309.0 792.5 310.0 792.0 311.0 786.9 312.0 777.9 313.0 771.0 313.8 762.5 315.0 773.6 315.8 776.9 317.0 776.2 317.6 776.5 318.0 772.9 319.0 763.6 320.0 759.5 321.0 753.1 322.0 748.0 322.7 745.8 324.0 740.6 325.0 748.2 326.0 760.0 326.6 763.5 327.0 764.5 328.0 773.0 329.0 780.7 330.0 787.0 331.0 794.0 331.7 797.2 332.0 806.4 333.0 824.5 334.0 842.0 335.0 847.7 336.0 849.5 336.8 852.3 338.0 848.7 339.0 845.0 339.3 846.8 340.0 841.5 341.0 829.8 342.0 825.4 342.4 821.0 343.0 819.3 344.0 812.5 344.4 809.9 345.0 804.3 346.0 792.8 346.5 787.0 347.0 796.2 348.0 812.9 349.0 827.7 349.5 831.7 350.0 833.4 351.0 831.3 352.0 829.4 353.0 831.5 353.3 828.6 354.0 829.5 355.0 828.2 356.0 830.4 357.0 830.0 358.0 832.3 359.0 834.9 360.0 835.5 361.0 839.9 362.0 839.4 363.0 840.5 363.5 842.1 364.0 844.1 365.0 846.5 366.0 850.0 367.0 849.9 367.4 850.7 368.0 851.2 369.0 853.6 370.0 854.2 371.0 855.1 372.0 853.2 373.0 850.9 374.0 849.6 375.0 848.1 376.0 842.9 377.0 838.0 378.0 836.5 378.9 835.1 380.0 828.4 381.0 820.7 382.0 820.6 382.7 816.1 383.0 820.4 384.0 812.9 385.0 803.6 386.0 801.2 386.5 797.4 387.0 797.6 388.0 795.6 389.0 791.3 390.0 791.5 390.3 787.8 391.0 789.9 392.0 779.2 392.9 773.7 394.0 756.1 395.0 747.8 395.4 742.6 396.0 727.8 397.0 717.3 398.0 691.2 399.0 681.0 400.0 670.6 400.5 664.3 401.0 664.6 402.0 655.6 402.6 648.8 403.0 656.2 404.0 661.3 404.4 660.2 405.0 674.7 406.0 691.3 407.0 714.9 408.0 733.9 409.0 761.7 410.0 789.0 411.0 809.1 412.0 832.8 412.7 845.0 413.0 848.2 414.0 849.6 415.0 854.5 416.0 852.2 417.0 847.9 417.8 846.3 419.0 839.6 420.0 830.9 420.3 830.1 421.0 829.9 422.0 821.7 422.4 824.0 423.0 818.4 423.4 812.7 424.0 820.0 424.9 827.4 426.0 825.9 427.0 827.6 428.0 830.5 429.0 832.9 430.0 828.1 430.5 830.3 431.0 831.5 432.0 833.5 433.0 834.0 434.0 840.2 435.0 841.4 436.0 843.6 436.9 846.3 438.0 847.7 439.0 849.6 440.0 851.2 440.7 852.2 442.0 853.7 443.0 855.1 444.0 854.0 445.0 852.8 446.0 849.2 447.0 848.4 448.0 842.6 449.0 837.5 450.0 831.9 450.9 829.8 452.0 825.2 453.0 819.6 454.0 816.9 454.8 812.4 456.0 802.7 457.0 793.4 457.3 790.5 458.0 790.0 459.0 788.1 459.9 785.9 461.0 780.9 462.0 769.8 462.4 771.8 463.0 765.2 464.0 764.6 465.0 761.6 466.0 755.5 467.0 757.1 467.5 756.4 468.0 752.2 469.0 752.8 470.0 751.2 471.0 745.0 472.0 737.8 472.6 734.7 473.0 732.5 473.9 736.1 475.0 737.4 476.0 744.4 476.4 741.3 477.0 748.2 478.0 762.0 479.0 779.3 480.0 789.1 481.0 803.2 481.6 804.2 482.0 811.2 483.0 827.0 484.0 844.4 485.0 849.1 486.0 853.5 487.0 850.5 488.0 845.3 489.0 841.8 490.0 840.5 491.0 836.4 491.8 829.9 493.0 826.3 493.8 824.6 495.0 822.1 495.6 821.4 496.0 821.7 497.0 826.5 497.4 827.5 498.0 829.4 499.0 833.7 499.4 834.1 500.0 832.5 501.0 830.3 502.0 831.6 503.0 830.3 504.0 827.0 504.5 828.7 505.0 830.1 506.0 829.7 507.0 832.4 508.0 836.1 509.0 836.4 510.0 835.7 511.0 839.4 512.0 839.2 513.0 840.6 514.0 839.0 515.0 843.4 516.0 842.7 517.0 843.1 518.0 847.6 518.5 848.6 519.0 848.3 520.0 852.2 521.0 853.3 522.0 851.7 523.0 850.2 524.0 849.4 524.9 848.4 526.0 843.9 527.0 843.2 528.0 837.3 528.8 835.7 530.0 834.1 531.0 826.1 532.0 817.8 532.6 818.2 533.0 814.8 534.0 809.3 535.0 799.7 536.0 793.7 537.0 793.2 537.7 792.3 538.0 791.1 539.0 780.7 540.0 783.2 541.0 778.4 542.0 774.5 542.8 770.0 544.0 751.6 545.0 745.0 545.3 742.0 546.0 726.5 547.0 701.0 547.4 690.5 548.0 675.5 548.7 666.9 549.0 664.3 550.0 659.2 550.4 658.4 551.0 657.0 552.0 650.3 552.5 650.8 553.0 650.1 554.0 653.9 555.0 657.1 556.0 664.7 556.8 663.8 558.0 699.5 559.0 739.6 560.0 776.2 561.0 809.5 562.0 834.2 563.0 851.3 564.0 849.0 565.0 845.2 566.0 842.2 566.4 842.4 567.0 840.6 568.0 831.2 568.9 827.5 570.0 832.2 570.7 828.1 572.0 830.2 572.8 829.5 574.0 832.7 575.0 829.1 575.3 831.4 576.0 833.7 577.0 832.2 577.9 829.8 579.0 836.4 580.0 836.7 580.4 837.4 581.0 840.8 582.0 842.2 583.0 844.3 584.0 843.8 585.0 847.4 586.0 847.7 587.0 848.7 588.0 849.6 589.0 852.7 590.0 853.6 591.0 854.7 591.9 855.0 593.0 853.4 594.0 853.5 595.0 852.2 595.7 851.2 597.0 846.2 598.0 843.3 599.0 837.9 599.6 835.9 600.0 832.3 601.0 829.8 602.0 824.6 603.0 822.1 603.4 820.1 604.0 813.6 605.0 813.3 605.9 802.5 607.0 803.2 608.0 801.2 608.5 800.7 609.0 794.3 610.0 797.1 611.0 797.7 612.0 797.5 613.0 793.5 614.0 793.1 614.9 792.6 616.0 790.0 617.0 790.6 618.0 785.4 618.7 789.0 619.0 788.2 620.0 783.9 621.0 782.9 622.0 782.3 623.0 779.8 623.8 779.8 625.0 773.6 625.8 773.9 626.9 772.7 628.0 783.7 628.9 798.0 630.0 811.0 631.0 821.9 631.4 826.0 632.0 834.3 633.0 844.3 634.0 853.8 635.0 852.3 636.0 848.7 636.6 849.4 637.0 845.9 638.0 842.9 639.0 838.7 640.0 836.7 641.0 830.9 641.7 832.1 642.0 832.5 643.0 830.9 644.0 830.3 645.0 827.2 645.5 827.5 646.0 827.6 647.0 831.3 648.0 829.5 649.0 829.5 650.0 827.0 650.6 827.5 651.0 826.5 652.0 824.8 653.0 825.1 654.0 823.4 655.0 822.7 655.7 818.4 656.0 825.6 657.0 828.4 658.0 834.3 659.0 836.5 660.0 841.4 660.8 841.2 662.0 840.0 663.0 841.1 663.3 841.5 664.0 841.7 665.0 843.3 666.0 841.6 667.0 846.0 668.0 847.3 669.0 850.2 670.0 851.4 671.0 852.4 672.0 850.3 673.0 849.7 674.0 850.0 674.8 847.3 676.0 845.3 677.0 842.4 678.0 839.5 678.7 836.8 679.0 837.4 680.0 835.5 681.0 832.0 682.0 827.0 682.5 829.0 683.0 826.6 684.0 821.8 685.0 820.2 686.0 812.5 687.0 811.6 687.6 810.1 688.0 805.4 689.0 803.7 690.0 799.8 691.0 798.1 692.0 792.7 692.7 796.7 693.0 795.6 694.0 797.0 695.0 792.7 696.0 791.6 697.0 790.7 697.8 788.1 699.0 782.5 700.0 767.2 700.3 765.3 701.0 756.2 702.0 744.8 702.9 727.9 704.0 722.0 704.9 707.5 706.0 723.2 706.7 730.1 708.0 752.8 709.0 764.7 710.0 780.7 710.5 789.1 711.0 793.4 712.0 804.8 713.0 820.9 714.0 831.5 715.0 846.8 716.0 842.3 717.0 840.5 717.6 838.5 718.0 838.6 719.0 835.0 720.0 832.4 721.0 832.9 722.0 829.1 723.0 833.2 723.9 828.7 725.0 832.3 726.0 833.6 726.5 834.4 727.0 839.6 728.0 833.9 729.0 841.2 730.0 837.5 730.3 839.5 731.0 843.2 732.0 838.8 733.0 841.7 734.0 846.1 735.0 846.7 736.0 846.3 737.0 848.6 738.0 850.5 739.0 852.1 740.0 854.8 740.5 855.2 741.0 854.5 742.0 853.7 743.0 851.7 744.0 848.4 744.3 848.3 745.0 843.7 746.0 839.0 747.0 834.7 748.0 827.9 749.0 823.5 750.0 818.8 751.0 816.8 752.0 813.4 753.0 810.2 754.0 801.9 755.0 796.0 755.8 793.9 757.0 789.4 758.0 788.0 758.9 785.5 760.0 793.1 760.9 792.3 762.0 790.5 763.0 786.8 763.5 790.6 764.0 791.2 765.0 793.0 766.0 789.4 767.0 792.6 768.0 792.6 768.6 795.5 769.0 791.7 770.0 795.7 771.0 797.1 772.0 797.3 772.4 798.1 773.0 799.5 774.0 801.9 775.0 805.8 776.0 810.1 777.0 815.3 778.0 820.4 779.0 823.3 780.0 833.9 781.0 835.9 782.0 838.6 783.0 845.7 783.9 847.5 785.0 850.6 786.0 853.6 786.4 855.3 787.0 854.2 788.0 851.3 789.0 848.5 790.0 845.9 791.0 842.1 792.0 839.6 793.0 835.4 794.0 829.9 795.0 826.8 796.0 826.5 796.7 823.1 797.0 825.1 798.0 821.6 799.0 820.6 800.0 818.7 801.0 816.7 802.0 813.1 803.0 810.6 804.0 825.4 804.3 829.2 805.0 835.1 806.0 837.8 806.9 839.5 808.0 842.3 809.0 843.4 810.0 843.9 810.7 845.2 811.0 847.9 812.0 847.6 813.0 848.8 814.0 850.0 814.5 851.2 815.0 852.2 816.0 853.1 817.0 853.9 818.0 855.2 818.3 855.4 819.0 854.6 820.0 852.1 821.0 850.1 822.0 847.9 823.0 846.6 824.0 842.6 825.0 837.3 826.0 836.2 827.0 827.9 828.0 822.9 829.0 820.1 830.0 815.1 831.0 810.1 832.0 808.1 833.0 806.2 834.0 801.6 834.9 798.1 836.0 796.4 837.0 792.3 837.5 794.3 838.0 794.9 839.0 794.1 840.0 790.1 841.0 792.8 841.3 790.8 842.0 793.0 843.0 791.5 844.0 789.9 845.0 791.4 846.0 789.3 847.0 793.7 848.0 789.0 849.0 786.7 850.0 786.9 851.0 785.8 851.5 785.8 852.0 784.6 853.0 790.6 854.0 803.7 855.0 804.4 856.0 811.4 857.0 816.6 857.9 823.5 859.0 825.7 860.0 835.4 861.0 841.5 861.7 845.7 863.0 849.1 864.0 850.5 865.0 852.4 865.5 853.2 866.0 853.2 867.0 850.5 868.0 847.9 869.0 847.6 869.4 844.8 870.0 834.5 871.0 833.6 872.0 836.3 872.6 836.5 873.0 835.4 874.0 837.0 875.0 833.3 876.0 835.0 877.0 838.1 877.7 840.0 878.0 836.6 879.0 835.1 879.7 831.8 880.0 836.1 881.0 838.0 881.5 842.9 882.0 839.2 883.0 838.5 884.0 836.6 885.0 845.5 885.3 848.0 886.0 849.3 887.0 850.3 888.0 851.4 889.0 852.3 890.0 853.0 891.0 853.8 892.0 854.5 893.0 855.5 894.0 855.2 895.0 854.1 896.0 853.6 897.0 854.1 898.0 854.2 899.0 853.5 900.0 853.7 901.0 852.2 902.0 851.7 903.0 850.8 904.0 848.6 905.0 848.0 905.7 845.5 907.0 838.4 908.0 827.2 909.0 824.2 910.0 821.3 910.3 820.4 911.0 828.6 912.0 834.6 913.0 835.9 914.0 831.7 914.7 827.8 915.0 826.1 916.0 825.0 917.0 819.5 918.0 819.6 919.0 819.8 919.8 817.2 921.0 818.7 922.0 819.5 922.3 819.4 923.0 819.7 924.0 821.9 924.9 823.6 926.0 823.2 927.0 831.5 927.4 834.6 928.0 834.8 929.0 840.9 930.0 844.5 931.0 847.6 932.0 849.0 933.0 852.1 933.8 852.6 935.0 853.2 936.0 854.9 936.3 855.4 937.0 855.2 938.0 854.2 939.0 852.6 940.0 851.9 941.0 850.6 942.0 848.6 943.0 846.7 944.0 845.9 945.0 843.6 946.0 840.0 946.6 839.8 947.0 840.5 948.0 836.0 949.0 836.6 950.0 834.1 951.0 833.9 951.7 829.8 952.0 824.2 952.9 809.5 954.0 828.4 955.0 835.0 956.0 839.0 956.8 840.3 958.0 842.5 959.0 845.1 960.0 843.7 960.6 845.6 961.0 847.1 962.0 848.7 963.0 846.3 964.0 849.8 964.4 851.2 965.0 851.1 966.0 850.6 967.0 852.6 968.0 854.2 969.0 854.2 969.5 855.3 970.0 854.9 971.0 854.8 972.0 853.5 973.0 851.5 973.3 850.8 974.0 850.0 975.0 848.0 976.0 846.4 977.0 846.0 978.0 844.7 979.0 846.3 980.0 842.9 981.0 840.3 982.0 841.2 983.0 839.2 984.0 833.9 984.8 831.0 986.0 828.8 987.0 826.0 988.0 821.0 988.7 818.4 989.0 816.8 990.0 815.9 991.0 811.3 992.0 810.9 992.5 809.7 993.0 807.3 994.0 802.2 995.0 804.4 996.0 801.6 997.0 805.9 997.6 805.5 998.0 809.0 999.0 807.2 1000.0 813.0 1001.0 815.1 1002.0 819.3 1002.7 817.2 1003.0 819.2 1004.0 822.5 1005.0 830.0 1006.0 828.0 1007.0 833.5 1007.8 835.4 1009.0 840.7 1010.0 844.4 1010.3 845.2 1011.0 846.4 1012.0 848.1 1013.0 849.0 1014.0 852.0 1015.0 851.6 1016.0 851.9 1017.0 851.9 1018.0 852.3 1019.0 850.9 1020.0 849.3 1021.0 849.3 1021.8 848.8 1023.0 843.9 1024.0 843.6 1024.4 842.2 1025.0 845.0 1026.0 842.4 1027.0 843.1 1027.6 843.4 1028.0 845.1 1028.8 848.0 1030.0 849.2 1031.0 850.0 1032.0 851.3 1032.7 851.5 1033.0 851.2 1034.0 851.9 1035.0 852.3 1036.0 852.2 1036.5 852.2 1037.0 853.1 1038.0 853.6 1039.0 853.3 1040.0 853.8 1040.3 853.7 1041.0 854.1 1042.0 854.4 1043.0 855.1 1044.0 855.1 1044.9 856.2 1046.0 855.9 1047.0 854.8 1048.0 853.3 1049.0 853.3 1050.0 851.6 1051.0 851.5 1052.0 850.2 1053.0 847.7 1054.0 846.0 1055.0 843.1 1055.6 843.3 1056.0 841.7 1057.0 838.6 1058.0 841.2 1059.0 836.9 1060.0 827.9 1060.7 826.6 1062.0 816.8 1063.0 816.3 1064.0 813.8 1065.0 812.2 1065.3 812.7 1066.0 816.6 1067.0 824.4 1068.0 824.3 1069.0 828.3 1069.7 827.8 1070.0 823.8 1071.0 820.9 1072.0 821.8 1073.0 821.5 1074.0 817.9 1074.8 818.7 1076.0 826.6 1077.0 829.3 1077.3 827.9 1078.0 836.4 1079.0 839.3 1079.9 845.2 1081.0 846.2 1082.0 850.2 1082.4 851.5 1083.0 850.7 1084.0 853.3 1085.0 854.2 1086.0 853.9 1087.0 853.1 1088.0 853.4 1089.0 852.4 1090.0 852.6 1091.0 851.1 1091.3 850.6 1092.0 850.9 1093.0 848.7 1093.9 848.6 1095.0 843.7 1096.0 840.1 1096.4 837.5 1097.0 841.6 1098.0 839.5 1099.0 841.0 1100.0 838.8 1101.0 833.8 1101.6 834.0 1102.0 835.5 1103.0 837.5 1104.0 842.5 1105.0 838.7 1106.0 839.3 1106.7 838.9 1107.0 840.1 1108.0 841.1 1109.0 843.7 1110.0 845.4 1111.0 846.0 1112.0 846.4 1113.0 844.8 1114.0 846.2 1115.0 848.8 1116.0 848.1 1116.9 849.3 1118.0 848.6 1119.0 852.0 1120.0 852.1 1121.0 852.9 1122.0 854.0 1123.0 853.0 1124.0 853.9 1125.0 851.0 1125.8 850.3 1127.0 849.2 1128.0 851.0 1129.0 850.2 1129.6 849.9 1130.0 849.7 1131.0 849.2 1132.0 847.2 1133.0 846.4 1134.0 844.7 1134.7 844.8 1136.0 840.6 1137.0 840.2 1138.0 838.1 1139.0 835.7 1139.8 837.5 1141.0 833.5 1142.0 828.8 1142.4 830.8 1143.0 830.8 1144.0 828.0 1144.9 829.0 1146.0 826.8 1147.0 826.7 1147.5 825.0 1148.0 823.7 1149.0 825.9 1150.0 824.5 1151.0 825.8 1152.0 828.6 1152.6 829.3 1153.0 830.5 1154.0 832.5 1155.0 836.4 1156.0 840.1 1157.0 842.4 1157.7 845.1 1158.0 846.1 1159.0 849.9 1160.0 852.3 1161.0 853.7 1161.5 855.4 1162.0 854.9 1163.0 855.1 1164.0 853.9 1165.0 852.6 1165.3 851.9 1166.0 851.1 1167.0 852.7 1168.0 851.9 1169.0 850.6 1170.0 851.0 1171.0 851.1 1172.0 849.9 1173.0 849.0 1174.0 848.3 1175.0 848.3 1175.5 846.4 1176.0 847.7 1177.0 845.5 1178.0 843.0 1179.0 845.8 1180.0 845.0 1181.0 846.5 1182.0 847.6 1182.6 847.7 1183.0 840.4 1183.8 829.8 1185.0 849.0 1186.0 852.3 1187.0 850.8 1188.0 850.1 1189.0 850.4 1190.0 852.3 1191.0 852.9 1192.0 853.0 1193.0 852.8 1194.0 854.1 1195.0 854.0 1195.3 853.3 1196.0 853.0 1197.0 852.8 1198.0 851.8 1199.0 853.0 1200.0 852.6 1200.4 851.7 1201.0 852.2 1202.0 851.7 1203.0 851.5 1204.0 851.8 1205.0 851.2 1205.5 850.8 1206.0 849.5 1207.0 850.3 1208.0 848.2 1209.0 849.4 1210.0 850.0 1210.6 848.8 1211.0 849.4 1212.0 851.3 1213.0 849.9 1214.0 850.4 1215.0 852.6 1215.7 851.7 1217.0 852.0 1218.0 852.0 1219.0 852.9 1220.0 853.7 1220.8 854.0 1222.0 853.6 1223.0 853.7 1224.0 854.5 1225.0 854.6 1225.9 855.4 1227.0 854.7 1228.0 854.4 1229.0 854.1 1230.0 854.6 1231.0 855.1 1232.0 854.9 1233.0 855.3 1234.0 854.0 1235.0 854.3 1236.0 854.5 1237.0 853.8 1238.0 853.1 1238.7 853.2 1239.0 853.8 1240.0 852.2 1241.0 852.2 1242.0 851.0 1243.0 851.2 1243.8 850.8 1245.0 849.6 1246.0 850.4 1247.0 849.6 1248.0 849.9 1248.9 848.7 1250.0 847.7 1251.0 846.2 1252.0 846.4 1253.0 845.2 1254.0 845.6 1255.0 846.4 1256.0 847.0 1256.5 848.7 1257.0 848.1 1258.0 846.9 1259.0 850.1 1260.0 847.7 1261.0 849.7 1261.6 849.2 1262.0 848.8 1263.0 848.9 1264.0 849.9 1265.0 851.2 1266.0 850.8 1266.7 851.8 1268.0 851.9 1269.0 851.8 1270.0 851.6 1271.0 852.8 1271.8 852.3 1273.0 851.8 1274.0 851.1 1275.0 850.9 1276.0 850.8 1276.9 850.4 1278.0 849.9 1279.0 849.6 1280.0 848.9 1281.0 847.4 1282.0 845.0 1283.0 844.7 1284.0 845.3 1285.0 844.6 1286.0 842.9 1287.0 841.7 1288.0 839.2 1289.0 839.2 1289.7 840.3 1290.0 835.9 1291.0 835.5 1292.0 840.0 1293.0 840.5 1294.0 843.6 1294.8 846.1 1296.0 842.1 1297.0 838.0 1297.3 836.6 1298.0 836.5 1299.0 831.4 1299.9 830.9 1301.0 829.3 1302.0 830.7 1302.4 829.5 1303.0 831.3 1304.0 832.3 1305.0 834.3 1306.0 837.6 1307.0 835.3 1307.6 835.0 1308.0 839.5 1309.0 837.3 1310.0 839.8 1311.0 843.5 1312.0 849.3 1312.7 851.3 1313.0 851.7 1314.0 853.2 1315.0 853.2 1316.0 853.3 1317.0 852.6 1318.0 852.5 1319.0 852.5 1320.0 852.4 1320.3 852.3 1321.0 851.7 1322.0 850.1 1323.0 849.8 1324.0 847.8 1325.0 844.9 1325.4 845.5 1326.0 846.2 1327.0 847.6 1328.0 848.3 1329.0 849.0 1330.0 847.1 1331.0 847.7 1332.0 845.3 1333.0 844.7 1334.0 843.0 1335.0 842.9 1336.0 844.3 1337.0 842.2 1338.0 840.8 1339.0 845.2 1340.0 845.6 1341.0 846.0 1342.0 847.7 1343.0 848.3 1344.0 847.2 1345.0 847.9 1346.0 848.9 1347.0 849.0 1348.0 849.2 1348.4 850.0 1349.0 849.6 1350.0 849.5 1351.0 848.6 1352.0 849.3 1353.0 850.6 1353.5 850.0"/></defs>
<use href="#trd" stroke="#f00" stroke-width="1.2" clip-path="url(#cco)"/>
<use href="#trd" stroke="#f04030" stroke-width="1.1" clip-path="url(#cci)"/>
<path d="M95.0 753.3 96.0 755.3 97.0 755.9 97.6 756.9 98.0 755.3 99.0 753.0 100.0 747.0 101.0 746.0 101.4 744.1 102.0 757.4 102.7 767.6 103.0 771.0 104.0 779.1 105.0 791.4 106.0 797.4 107.0 803.7 107.8 810.0 109.0 825.8 110.0 838.7 110.3 843.7 111.0 844.9 112.0 851.3 112.9 853.5 114.0 853.3 115.0 853.0 116.0 852.0 116.7 852.3 117.0 852.0 118.0 847.9 119.0 846.7 120.0 843.9 120.5 842.8 121.0 842.1 122.0 837.2 123.0 837.0 124.0 834.8 124.3 833.4 125.0 832.2 126.0 832.5 126.9 827.3 128.0 831.8 129.0 834.3 129.4 835.7 130.0 836.7 131.0 837.9 132.0 837.8 133.0 839.1 134.0 840.4 135.0 844.9 136.0 844.3 137.0 847.8 138.0 849.2 139.0 851.0 140.0 850.9 141.0 852.9 142.0 855.4 143.0 855.1 144.0 854.6 144.8 854.5 146.0 849.8 147.0 846.9 147.3 845.1 148.0 838.7 149.0 832.2 149.9 826.7 151.0 818.1 152.0 810.8 153.0 807.1 153.7 803.6 154.0 801.6 155.0 797.5 156.0 795.5 157.0 793.5 157.5 792.3 158.0 789.9 159.0 785.1 160.0 781.5 161.0 779.7 161.3 778.9 162.0 774.1 163.0 768.8 163.9 764.7 165.0 750.1 166.0 729.5 166.4 721.4 167.0 717.5 168.0 710.7 169.0 709.3 170.0 696.3 171.0 685.2 171.6 679.7 172.0 675.9 172.8 673.0 174.0 683.4 174.6 684.5 175.0 691.1 176.0 707.3 176.7 714.7 177.0 719.3 178.0 742.4 179.0 757.2 180.0 778.0 181.0 793.7 181.8 807.4 183.0 824.7 184.0 837.9 184.3 842.0 185.0 846.0 186.0 851.0 186.9 854.7 188.0 853.6 189.0 851.2 190.0 848.4 190.7 848.1 191.0 847.1 192.0 842.0 193.0 839.9 194.0 836.7 194.5 834.2 195.0 832.2 196.0 827.6 197.0 826.0 198.0 821.7 199.0 813.9 200.0 822.9 200.9 828.4 202.0 833.1 203.0 835.2 204.0 838.4 204.7 839.9 206.0 843.8 207.0 845.7 208.0 845.3 209.0 846.9 209.8 847.9 211.0 849.1 212.0 847.8 213.0 849.8 214.0 851.3 215.0 852.8 216.0 853.0 217.0 853.3 218.0 854.7 219.0 855.1 220.0 855.8 221.0 853.9 222.0 851.9 223.0 849.4 223.9 848.4 225.0 842.6 226.0 840.7 227.0 836.6 227.7 833.2 228.0 833.5 229.0 829.5 230.0 825.8 231.0 820.5 231.5 818.8 232.0 817.3 233.0 815.7 234.0 810.2 235.0 807.7 235.3 807.5 236.0 806.3 237.0 805.9 238.0 804.2 239.0 803.3 240.0 798.5 241.0 794.4 241.7 792.4 243.0 782.3 244.0 777.7 245.0 767.4 246.0 760.6 246.8 756.4 248.0 747.9 248.6 744.2 249.0 744.6 250.0 748.7 251.0 752.7 252.0 756.1 253.0 762.7 254.0 767.6 255.0 768.7 256.0 770.5 256.4 770.6 257.0 776.9 257.7 783.0 258.0 786.6 259.0 788.2 260.0 792.2 261.0 809.9 261.5 819.1 262.0 830.5 262.8 847.6 264.0 850.8 265.0 852.5 265.3 853.4 266.0 853.1 267.0 851.6 267.9 850.0 269.0 843.5 270.0 837.2 270.4 836.8 271.0 835.8 272.0 833.4 273.0 831.8 274.0 832.0 275.0 829.3 275.5 828.6 276.0 827.7 277.0 825.0 277.6 825.1 278.0 827.3 279.0 832.8 279.3 833.8 280.0 835.3 281.0 838.4 282.0 836.4 283.0 841.4 284.0 842.3 285.0 844.7 286.0 845.6 287.0 847.6 288.0 849.2 289.0 850.8 290.0 852.2 290.8 853.2 292.0 854.3 293.0 855.1 294.0 854.8 294.7 855.7 295.0 855.5 296.0 853.8 297.0 852.6 298.0 849.5 299.0 845.4 300.0 843.2 301.0 840.0 302.0 832.5 303.0 829.3 304.0 821.5 304.9 815.5 306.0 813.3 307.0 812.0 308.0 810.2 308.7 806.8 309.0 804.9 310.0 806.3 311.0 802.5 312.0 796.9 313.0 790.9 313.8 784.2 315.0 787.2 315.8 793.7 317.0 794.6 317.6 792.2 318.0 791.6 319.0 783.6 320.0 778.5 321.0 773.1 322.0 771.8 322.7 770.3 324.0 766.2 325.0 772.3 326.0 780.0 326.6 784.7 327.0 784.5 328.0 792.9 329.0 796.7 330.0 800.9 331.0 806.8 331.7 811.2 332.0 815.9 333.0 830.7 334.0 844.7 335.0 848.8 336.0 851.7 336.8 853.5 338.0 850.8 339.0 848.2 339.3 847.6 340.0 845.0 341.0 837.8 342.0 831.2 342.4 829.1 343.0 826.5 344.0 821.7 344.4 820.0 345.0 815.1 346.0 806.1 346.5 802.1 347.0 809.7 348.0 821.2 349.0 832.5 349.5 836.5 350.0 839.1 351.0 837.8 352.0 836.9 353.0 836.2 353.3 837.1 354.0 835.9 355.0 835.3 356.0 834.2 357.0 835.7 358.0 837.1 359.0 839.9 360.0 843.0 361.0 842.8 362.0 844.1 363.0 844.5 363.5 845.0 364.0 845.5 365.0 848.1 366.0 850.4 367.0 851.4 367.4 852.3 368.0 852.7 369.0 854.3 370.0 854.6 371.0 855.5 372.0 854.4 373.0 851.8 374.0 851.2 375.0 850.2 376.0 846.1 377.0 843.5 378.0 842.0 378.9 838.0 380.0 834.9 381.0 831.7 382.0 828.4 382.7 827.1 383.0 826.6 384.0 822.3 385.0 815.7 386.0 812.2 386.5 811.4 387.0 809.7 388.0 808.8 389.0 806.5 390.0 804.5 390.3 803.4 391.0 801.4 392.0 796.5 392.9 792.1 394.0 779.8 395.0 767.8 395.4 765.2 396.0 756.0 397.0 747.1 398.0 725.2 399.0 717.7 400.0 710.8 400.5 706.2 401.0 701.8 402.0 698.1 402.6 695.7 403.0 695.1 404.0 702.1 404.4 702.6 405.0 712.8 406.0 727.1 407.0 744.5 408.0 758.4 409.0 783.3 410.0 803.8 411.0 819.7 412.0 837.6 412.7 847.7 413.0 849.4 414.0 851.6 415.0 855.1 416.0 853.3 417.0 850.3 417.8 847.6 419.0 843.2 420.0 838.9 420.3 835.7 421.0 834.1 422.0 830.5 422.4 829.8 423.0 826.1 423.4 823.2 424.0 825.2 424.9 831.8 426.0 831.7 427.0 833.5 428.0 834.1 429.0 834.8 430.0 835.6 430.5 836.3 431.0 836.1 432.0 839.0 433.0 841.8 434.0 842.7 435.0 845.0 436.0 846.3 436.9 847.4 438.0 849.7 439.0 851.2 440.0 852.7 440.7 853.6 442.0 854.4 443.0 855.6 444.0 854.7 445.0 853.3 446.0 851.4 447.0 849.9 448.0 846.1 449.0 842.7 450.0 836.7 450.9 834.4 452.0 829.9 453.0 826.9 454.0 823.0 454.8 819.8 456.0 811.7 457.0 807.7 457.3 806.4 458.0 803.6 459.0 803.1 459.9 802.6 461.0 796.8 462.0 790.5 462.4 787.1 463.0 786.3 464.0 785.5 465.0 783.0 466.0 779.7 467.0 777.5 467.5 777.6 468.0 774.0 469.0 777.0 470.0 773.7 471.0 770.5 472.0 762.2 472.6 760.6 473.0 760.7 473.9 761.6 475.0 762.2 476.0 766.0 476.4 767.1 477.0 770.4 478.0 785.0 479.0 795.1 480.0 802.6 481.0 810.9 481.6 814.9 482.0 822.6 483.0 834.3 484.0 846.3 485.0 851.7 486.0 854.2 487.0 851.9 488.0 848.5 489.0 846.0 490.0 843.6 491.0 837.6 491.8 836.3 493.0 832.0 493.8 829.4 495.0 830.3 495.6 828.9 496.0 830.5 497.0 834.0 497.4 833.5 498.0 834.9 499.0 840.1 499.4 841.5 500.0 839.2 501.0 837.4 502.0 835.6 503.0 836.6 504.0 835.4 504.5 834.6 505.0 835.3 506.0 836.3 507.0 837.2 508.0 840.0 509.0 840.8 510.0 842.0 511.0 844.2 512.0 843.4 513.0 843.6 514.0 843.1 515.0 846.2 516.0 845.9 517.0 847.5 518.0 849.4 518.5 850.2 519.0 851.3 520.0 852.5 521.0 854.5 522.0 853.4 523.0 851.7 524.0 850.4 524.9 850.2 526.0 846.9 527.0 845.3 528.0 841.6 528.8 838.0 530.0 835.8 531.0 833.4 532.0 829.1 532.6 826.9 533.0 824.3 534.0 820.0 535.0 813.3 536.0 807.6 537.0 808.8 537.7 807.1 538.0 804.9 539.0 799.9 540.0 796.9 541.0 794.5 542.0 792.1 542.8 788.5 544.0 775.3 545.0 769.4 545.3 765.2 546.0 751.8 547.0 734.5 547.4 726.9 548.0 714.3 548.7 706.7 549.0 704.7 550.0 701.6 550.4 704.5 551.0 698.4 552.0 695.2 552.5 693.3 553.0 693.4 554.0 697.0 555.0 700.8 556.0 702.4 556.8 702.1 558.0 734.0 559.0 765.3 560.0 796.3 561.0 820.3 562.0 839.1 563.0 851.5 564.0 849.4 565.0 847.7 566.0 845.0 566.4 845.2 567.0 844.1 568.0 839.1 568.9 836.9 570.0 835.6 570.7 834.3 572.0 834.7 572.8 834.3 574.0 835.8 575.0 836.6 575.3 835.7 576.0 836.5 577.0 837.2 577.9 837.4 579.0 839.3 580.0 841.4 580.4 843.5 581.0 844.0 582.0 843.7 583.0 846.8 584.0 847.8 585.0 849.1 586.0 850.4 587.0 851.2 588.0 852.4 589.0 853.6 590.0 854.7 591.0 855.3 591.9 855.7 593.0 854.7 594.0 854.1 595.0 853.0 595.7 852.4 597.0 848.8 598.0 846.0 599.0 842.4 599.6 841.5 600.0 837.6 601.0 836.0 602.0 832.2 603.0 828.6 603.4 825.3 604.0 825.2 605.0 818.9 605.9 815.0 607.0 814.6 608.0 811.3 608.5 810.7 609.0 808.8 610.0 808.2 611.0 808.9 612.0 808.8 613.0 809.7 614.0 807.8 614.9 806.8 616.0 804.3 617.0 802.4 618.0 803.0 618.7 801.2 619.0 803.1 620.0 801.4 621.0 801.1 622.0 798.3 623.0 796.5 623.8 795.2 625.0 791.4 625.8 790.6 626.9 792.1 628.0 803.2 628.9 810.7 630.0 820.8 631.0 829.8 631.4 832.9 632.0 838.4 633.0 845.4 634.0 854.5 635.0 853.8 636.0 851.1 636.6 850.3 637.0 848.1 638.0 845.2 639.0 842.0 640.0 838.7 641.0 838.0 641.7 836.4 642.0 836.4 643.0 836.0 644.0 833.9 645.0 834.6 645.5 833.1 646.0 833.7 647.0 837.0 648.0 835.7 649.0 833.3 650.0 835.7 650.6 833.4 651.0 830.9 652.0 831.8 653.0 832.5 654.0 831.2 655.0 831.7 655.7 829.3 656.0 831.4 657.0 834.6 658.0 839.7 659.0 842.9 660.0 844.1 660.8 845.6 662.0 842.0 663.0 843.2 663.3 842.4 664.0 844.3 665.0 845.4 666.0 846.2 667.0 847.1 668.0 849.4 669.0 851.1 670.0 852.5 671.0 854.0 672.0 852.1 673.0 850.6 674.0 851.2 674.8 850.4 676.0 847.6 677.0 844.4 678.0 842.5 678.7 839.4 679.0 841.7 680.0 838.9 681.0 835.9 682.0 835.7 682.5 834.4 683.0 832.2 684.0 832.1 685.0 827.0 686.0 822.5 687.0 821.2 687.6 819.1 688.0 818.0 689.0 814.3 690.0 810.7 691.0 810.5 692.0 809.5 692.7 809.4 693.0 809.7 694.0 808.2 695.0 807.1 696.0 804.8 697.0 803.3 697.8 800.6 699.0 796.0 700.0 786.1 700.3 783.8 701.0 777.1 702.0 767.8 702.9 755.8 704.0 749.6 704.9 738.0 706.0 752.0 706.7 755.9 708.0 774.5 709.0 785.4 710.0 797.1 710.5 801.5 711.0 808.8 712.0 818.2 713.0 828.6 714.0 837.2 715.0 847.6 716.0 845.7 717.0 844.1 717.6 842.8 718.0 841.5 719.0 840.5 720.0 839.0 721.0 838.6 722.0 837.1 723.0 836.4 723.9 834.8 725.0 837.6 726.0 838.1 726.5 840.0 727.0 842.2 728.0 841.7 729.0 842.7 730.0 842.8 730.3 843.1 731.0 843.0 732.0 845.0 733.0 846.0 734.0 848.4 735.0 848.5 736.0 849.4 737.0 850.3 738.0 852.6 739.0 853.0 740.0 855.2 740.5 855.8 741.0 855.1 742.0 854.3 743.0 852.3 744.0 850.7 744.3 850.6 745.0 847.4 746.0 842.0 747.0 839.7 748.0 833.4 749.0 832.6 750.0 830.0 751.0 825.3 752.0 821.6 753.0 818.7 754.0 814.1 755.0 810.4 755.8 806.7 757.0 803.3 758.0 804.2 758.9 800.3 760.0 804.3 760.9 805.7 762.0 805.5 763.0 804.6 763.5 805.2 764.0 805.5 765.0 803.6 766.0 803.6 767.0 804.1 768.0 805.1 768.6 807.5 769.0 805.4 770.0 805.1 771.0 810.9 772.0 808.9 772.4 811.3 773.0 811.2 774.0 814.7 775.0 820.3 776.0 819.6 777.0 824.8 778.0 829.5 779.0 831.0 780.0 837.4 781.0 840.8 782.0 842.6 783.0 846.6 783.9 850.0 785.0 852.1 786.0 854.6 786.4 855.7 787.0 854.8 788.0 852.4 789.0 850.9 790.0 848.4 791.0 845.6 792.0 843.1 793.0 841.3 794.0 836.9 795.0 834.6 796.0 833.5 796.7 832.6 797.0 832.0 798.0 829.6 799.0 829.5 800.0 826.4 801.0 826.1 802.0 822.4 803.0 820.1 804.0 834.3 804.3 834.9 805.0 838.1 806.0 841.8 806.9 843.8 808.0 845.3 809.0 845.5 810.0 846.5 810.7 848.0 811.0 848.0 812.0 849.8 813.0 850.2 814.0 851.8 814.5 852.5 815.0 852.4 816.0 853.9 817.0 854.3 818.0 855.5 818.3 855.7 819.0 855.0 820.0 852.9 821.0 851.1 822.0 850.4 823.0 847.1 824.0 845.0 825.0 841.3 826.0 838.2 827.0 836.4 828.0 829.0 829.0 830.4 830.0 823.4 831.0 821.0 832.0 817.7 833.0 816.9 834.0 814.9 834.9 811.7 836.0 809.2 837.0 806.0 837.5 808.1 838.0 808.4 839.0 807.4 840.0 805.6 841.0 806.0 841.3 806.5 842.0 807.3 843.0 804.6 844.0 805.0 845.0 805.8 846.0 805.6 847.0 806.0 848.0 803.8 849.0 802.3 850.0 801.7 851.0 800.2 851.5 798.9 852.0 802.3 853.0 806.5 854.0 810.7 855.0 816.8 856.0 821.7 857.0 823.7 857.9 829.7 859.0 833.9 860.0 841.2 861.0 844.9 861.7 847.7 863.0 850.9 864.0 852.3 865.0 853.5 865.5 854.7 866.0 853.8 867.0 852.8 868.0 850.9 869.0 848.2 869.4 847.4 870.0 838.0 871.0 838.5 872.0 839.4 872.6 841.0 873.0 841.5 874.0 838.7 875.0 837.6 876.0 840.0 877.0 843.3 877.7 844.0 878.0 841.2 879.0 837.6 879.7 836.4 880.0 838.8 881.0 843.5 881.5 845.6 882.0 845.0 883.0 843.2 884.0 840.6 885.0 848.6 885.3 850.1 886.0 850.8 887.0 852.0 888.0 852.6 889.0 853.3 890.0 854.0 891.0 854.3 892.0 855.1 893.0 856.0 894.0 855.9 895.0 854.8 896.0 854.4 897.0 854.9 898.0 854.5 899.0 854.0 900.0 854.5 901.0 853.3 902.0 852.7 903.0 852.1 904.0 851.2 905.0 849.9 905.7 848.2 907.0 840.3 908.0 834.6 909.0 830.0 910.0 831.1 910.3 830.3 911.0 834.1 912.0 842.0 913.0 841.4 914.0 836.7 914.7 833.9 915.0 833.2 916.0 830.7 917.0 827.0 918.0 826.3 919.0 824.6 919.8 824.5 921.0 826.1 922.0 826.2 922.3 827.7 923.0 827.5 924.0 830.0 924.9 830.1 926.0 833.5 927.0 837.9 927.4 839.2 928.0 840.5 929.0 844.9 930.0 847.4 931.0 849.3 932.0 850.6 933.0 852.8 933.8 853.6 935.0 854.2 936.0 855.5 936.3 855.7 937.0 855.5 938.0 855.3 939.0 853.7 940.0 853.5 941.0 851.5 942.0 849.7 943.0 848.6 944.0 847.3 945.0 846.5 946.0 845.2 946.6 841.8 947.0 842.1 948.0 840.9 949.0 841.9 950.0 840.8 951.0 837.7 951.7 836.7 952.0 832.7 952.9 821.5 954.0 836.1 955.0 839.2 956.0 841.2 956.8 843.3 958.0 844.0 959.0 846.5 960.0 847.0 960.6 847.5 961.0 848.6 962.0 849.2 963.0 849.1 964.0 851.8 964.4 852.4 965.0 853.1 966.0 852.5 967.0 853.8 968.0 855.1 969.0 855.1 969.5 855.8 970.0 855.3 971.0 855.2 972.0 854.0 973.0 853.1 973.3 852.0 974.0 851.7 975.0 851.1 976.0 849.3 977.0 847.1 978.0 846.9 979.0 847.0 980.0 846.1 981.0 845.9 982.0 843.5 983.0 841.8 984.0 841.5 984.8 837.2 986.0 834.4 987.0 832.2 988.0 829.1 988.7 826.7 989.0 825.4 990.0 826.3 991.0 822.3 992.0 821.2 992.5 821.1 993.0 818.8 994.0 816.8 995.0 813.7 996.0 814.7 997.0 816.1 997.6 818.8 998.0 819.0 999.0 820.4 1000.0 821.3 1001.0 825.0 1002.0 828.0 1002.7 827.6 1003.0 827.0 1004.0 830.3 1005.0 833.2 1006.0 836.3 1007.0 838.1 1007.8 841.3 1009.0 843.7 1010.0 846.8 1010.3 847.5 1011.0 848.7 1012.0 850.3 1013.0 851.0 1014.0 853.4 1015.0 853.2 1016.0 853.1 1017.0 853.3 1018.0 853.7 1019.0 851.9 1020.0 851.3 1021.0 850.4 1021.8 850.0 1023.0 848.7 1024.0 846.6 1024.4 845.0 1025.0 847.3 1026.0 847.1 1027.0 845.1 1027.6 845.8 1028.0 846.8 1028.8 850.1 1030.0 851.4 1031.0 851.6 1032.0 852.1 1032.7 852.0 1033.0 852.6 1034.0 853.1 1035.0 853.3 1036.0 853.5 1036.5 853.2 1037.0 853.9 1038.0 854.6 1039.0 854.3 1040.0 854.8 1040.3 854.5 1041.0 854.9 1042.0 855.4 1043.0 855.3 1044.0 855.5 1044.9 856.4 1046.0 856.3 1047.0 855.5 1048.0 854.5 1049.0 853.8 1050.0 852.6 1051.0 852.5 1052.0 850.8 1053.0 850.5 1054.0 848.9 1055.0 847.9 1055.6 845.9 1056.0 845.8 1057.0 843.1 1058.0 843.5 1059.0 839.3 1060.0 836.0 1060.7 830.8 1062.0 825.0 1063.0 821.0 1064.0 820.5 1065.0 822.8 1065.3 822.1 1066.0 826.6 1067.0 830.5 1068.0 832.4 1069.0 833.1 1069.7 834.8 1070.0 834.5 1071.0 827.8 1072.0 826.8 1073.0 827.5 1074.0 827.4 1074.8 826.8 1076.0 833.7 1077.0 834.7 1077.3 836.8 1078.0 838.8 1079.0 844.3 1079.9 846.5 1081.0 849.4 1082.0 852.1 1082.4 852.4 1083.0 852.7 1084.0 854.2 1085.0 855.0 1086.0 855.0 1087.0 854.4 1088.0 854.1 1089.0 853.5 1090.0 853.2 1091.0 852.7 1091.3 852.3 1092.0 852.3 1093.0 851.4 1093.9 849.8 1095.0 847.5 1096.0 844.8 1096.4 843.6 1097.0 843.5 1098.0 844.8 1099.0 845.8 1100.0 842.4 1101.0 839.5 1101.6 836.5 1102.0 837.2 1103.0 839.8 1104.0 845.6 1105.0 844.2 1106.0 843.9 1106.7 843.0 1107.0 843.0 1108.0 845.5 1109.0 846.1 1110.0 848.4 1111.0 847.4 1112.0 849.2 1113.0 848.0 1114.0 848.7 1115.0 850.6 1116.0 850.7 1116.9 851.0 1118.0 851.2 1119.0 852.9 1120.0 853.5 1121.0 853.8 1122.0 854.4 1123.0 854.0 1124.0 854.6 1125.0 852.1 1125.8 853.2 1127.0 851.4 1128.0 852.4 1129.0 851.2 1129.6 851.1 1130.0 850.7 1131.0 850.6 1132.0 849.5 1133.0 849.7 1134.0 848.1 1134.7 847.9 1136.0 845.6 1137.0 843.4 1138.0 842.5 1139.0 842.4 1139.8 840.5 1141.0 837.7 1142.0 836.7 1142.4 835.5 1143.0 834.6 1144.0 834.0 1144.9 834.1 1146.0 834.2 1147.0 833.1 1147.5 832.0 1148.0 831.8 1149.0 832.1 1150.0 831.4 1151.0 832.4 1152.0 835.7 1152.6 836.1 1153.0 836.7 1154.0 840.0 1155.0 839.8 1156.0 843.6 1157.0 845.4 1157.7 848.2 1158.0 849.2 1159.0 850.7 1160.0 852.5 1161.0 854.7 1161.5 855.8 1162.0 855.4 1163.0 855.6 1164.0 854.7 1165.0 853.4 1165.3 853.6 1166.0 853.3 1167.0 853.7 1168.0 852.5 1169.0 852.3 1170.0 852.1 1171.0 852.7 1172.0 851.1 1173.0 851.6 1174.0 850.5 1175.0 849.7 1175.5 850.6 1176.0 849.8 1177.0 848.0 1178.0 847.9 1179.0 847.0 1180.0 847.8 1181.0 847.8 1182.0 849.2 1182.6 850.5 1183.0 845.7 1183.8 836.0 1185.0 850.7 1186.0 852.9 1187.0 851.4 1188.0 852.0 1189.0 852.2 1190.0 853.1 1191.0 853.9 1192.0 853.9 1193.0 854.3 1194.0 854.2 1195.0 854.5 1195.3 854.5 1196.0 854.5 1197.0 854.1 1198.0 853.1 1199.0 853.9 1200.0 853.8 1200.4 853.4 1201.0 853.0 1202.0 852.3 1203.0 852.3 1204.0 853.2 1205.0 852.3 1205.5 852.3 1206.0 851.8 1207.0 851.8 1208.0 850.5 1209.0 850.2 1210.0 850.9 1210.6 851.5 1211.0 851.3 1212.0 851.8 1213.0 852.2 1214.0 852.1 1215.0 853.4 1215.7 853.3 1217.0 853.3 1218.0 853.8 1219.0 853.6 1220.0 854.9 1220.8 855.0 1222.0 854.4 1223.0 854.8 1224.0 855.2 1225.0 855.2 1225.9 855.6 1227.0 855.3 1228.0 855.0 1229.0 854.9 1230.0 855.2 1231.0 854.9 1232.0 855.1 1233.0 855.7 1234.0 854.7 1235.0 854.9 1236.0 855.3 1237.0 854.1 1238.0 854.1 1238.7 854.3 1239.0 854.1 1240.0 853.7 1241.0 853.3 1242.0 853.1 1243.0 852.9 1243.8 852.3 1245.0 851.3 1246.0 852.0 1247.0 852.1 1248.0 851.7 1248.9 850.9 1250.0 850.2 1251.0 849.0 1252.0 848.5 1253.0 848.6 1254.0 848.1 1255.0 849.1 1256.0 849.8 1256.5 850.8 1257.0 850.0 1258.0 849.9 1259.0 851.6 1260.0 851.1 1261.0 851.3 1261.6 851.0 1262.0 851.4 1263.0 850.7 1264.0 851.1 1265.0 851.7 1266.0 852.5 1266.7 852.6 1268.0 852.5 1269.0 853.1 1270.0 853.4 1271.0 853.3 1271.8 853.5 1273.0 853.1 1274.0 852.8 1275.0 852.8 1276.0 852.2 1276.9 852.5 1278.0 852.0 1279.0 851.3 1280.0 850.5 1281.0 848.8 1282.0 847.3 1283.0 847.1 1284.0 847.5 1285.0 845.9 1286.0 844.7 1287.0 845.9 1288.0 844.0 1289.0 842.0 1289.7 840.5 1290.0 841.4 1291.0 842.9 1292.0 842.2 1293.0 844.0 1294.0 846.2 1294.8 848.0 1296.0 845.5 1297.0 842.7 1297.3 842.7 1298.0 842.4 1299.0 837.7 1299.9 836.3 1301.0 836.4 1302.0 837.9 1302.4 837.3 1303.0 837.0 1304.0 837.3 1305.0 838.3 1306.0 840.8 1307.0 840.8 1307.6 839.8 1308.0 842.2 1309.0 841.0 1310.0 842.2 1311.0 846.0 1312.0 850.1 1312.7 852.1 1313.0 852.6 1314.0 853.9 1315.0 854.3 1316.0 854.1 1317.0 853.8 1318.0 853.5 1319.0 853.8 1320.0 853.6 1320.3 853.5 1321.0 853.1 1322.0 852.7 1323.0 850.9 1324.0 849.2 1325.0 848.3 1325.4 846.5 1326.0 848.2 1327.0 849.8 1328.0 851.0 1329.0 851.7 1330.0 849.9 1331.0 848.8 1332.0 848.3 1333.0 848.2 1334.0 846.6 1335.0 846.2 1336.0 847.2 1337.0 847.3 1338.0 847.6 1339.0 847.3 1340.0 847.3 1341.0 849.1 1342.0 849.7 1343.0 849.7 1344.0 851.0 1345.0 850.6 1346.0 849.9 1347.0 851.0 1348.0 850.8 1348.4 851.3 1349.0 851.6 1350.0 851.9 1351.0 850.5 1352.0 851.4 1353.0 851.5 1353.5 851.9" stroke="#4db8f0" stroke-width="2"/>
<path d="M95.0 748.2 96.0 748.8 97.0 748.9 97.6 750.2 98.0 750.1 99.0 746.9 100.0 740.7 101.0 739.1 101.4 737.8 102.0 751.0 102.7 761.7 103.0 766.0 104.0 773.4 105.0 787.5 106.0 793.8 107.0 802.0 107.8 808.9 109.0 823.8 110.0 837.5 110.3 841.8 111.0 844.8 112.0 850.0 112.9 853.6 114.0 852.6 115.0 852.8 116.0 852.2 116.7 852.1 117.0 851.4 118.0 848.5 119.0 845.9 120.0 843.6 120.5 842.3 121.0 841.2 122.0 838.3 123.0 834.8 124.0 833.8 124.3 831.9 125.0 829.7 126.0 827.8 126.9 826.1 128.0 831.3 129.0 833.9 129.4 834.3 130.0 835.4 131.0 834.9 132.0 836.8 133.0 838.1 134.0 840.0 135.0 843.0 136.0 844.4 137.0 846.3 138.0 848.0 139.0 850.6 140.0 851.0 141.0 853.0 142.0 855.3 143.0 855.0 144.0 854.7 144.8 854.6 146.0 849.2 147.0 845.4 147.3 845.2 148.0 838.5 149.0 831.6 149.9 822.2 151.0 815.5 152.0 807.2 153.0 802.3 153.7 798.6 154.0 797.3 155.0 795.7 156.0 793.0 157.0 790.3 157.5 790.1 158.0 786.8 159.0 781.9 160.0 777.4 161.0 775.2 161.3 774.3 162.0 770.6 163.0 765.7 163.9 758.8 165.0 743.7 166.0 721.5 166.4 713.9 167.0 712.7 168.0 702.7 169.0 701.5 170.0 687.0 171.0 677.0 171.6 669.8 172.0 666.7 172.8 659.7 174.0 674.0 174.6 674.5 175.0 682.6 176.0 698.8 176.7 706.9 177.0 711.9 178.0 736.4 179.0 750.8 180.0 773.7 181.0 790.3 181.8 804.0 183.0 823.7 184.0 837.3 184.3 843.0 185.0 845.7 186.0 850.4 186.9 854.5 188.0 853.2 189.0 851.4 190.0 848.1 190.7 847.2 191.0 846.1 192.0 840.5 193.0 839.0 194.0 833.9 194.5 833.5 195.0 831.8 196.0 827.7 197.0 822.2 198.0 819.4 199.0 811.5 200.0 821.8 200.9 827.6 202.0 831.1 203.0 834.0 204.0 835.9 204.7 840.9 206.0 841.7 207.0 844.8 208.0 843.9 209.0 846.3 209.8 847.0 211.0 848.1 212.0 847.0 213.0 849.9 214.0 851.3 215.0 852.5 216.0 852.9 217.0 853.2 218.0 854.6 219.0 855.0 220.0 855.7 221.0 853.9 222.0 852.1 223.0 849.2 223.9 847.1 225.0 842.0 226.0 840.1 227.0 834.7 227.7 833.7 228.0 831.3 229.0 827.7 230.0 824.2 231.0 819.8 231.5 818.2 232.0 817.4 233.0 813.1 234.0 807.2 235.0 803.9 235.3 804.3 236.0 803.3 237.0 803.0 238.0 800.6 239.0 799.5 240.0 797.2 241.0 789.9 241.7 789.4 243.0 778.5 244.0 772.4 245.0 763.3 246.0 755.3 246.8 750.7 248.0 742.0 248.6 737.5 249.0 739.5 250.0 742.8 251.0 747.9 252.0 749.0 253.0 756.9 254.0 761.1 255.0 763.1 256.0 765.8 256.4 764.8 257.0 772.4 257.7 779.2 258.0 780.9 259.0 784.5 260.0 787.4 261.0 806.0 261.5 817.5 262.0 829.2 262.8 847.2 264.0 850.6 265.0 852.6 265.3 853.0 266.0 852.9 267.0 851.4 267.9 849.8 269.0 842.1 270.0 836.1 270.4 834.5 271.0 834.2 272.0 834.4 273.0 831.0 274.0 830.4 275.0 828.9 275.5 828.5 276.0 826.6 277.0 824.7 277.6 823.2 278.0 825.0 279.0 830.5 279.3 832.6 280.0 835.0 281.0 834.8 282.0 835.8 283.0 839.9 284.0 839.8 285.0 844.8 286.0 845.0 287.0 847.4 288.0 849.6 289.0 850.5 290.0 851.7 290.8 853.6 292.0 853.9 293.0 854.8 294.0 855.0 294.7 855.7 295.0 855.5 296.0 853.6 297.0 852.2 298.0 848.9 299.0 844.4 300.0 842.5 301.0 837.7 302.0 832.2 303.0 826.5 304.0 821.2 304.9 814.3 306.0 812.6 307.0 808.6 308.0 805.2 308.7 803.1 309.0 803.0 310.0 803.7 311.0 799.3 312.0 792.5 313.0 785.9 313.8 779.6 315.0 786.0 315.8 788.2 317.0 791.4 317.6 788.0 318.0 786.4 319.0 781.9 320.0 775.3 321.0 769.3 322.0 766.6 322.7 764.0 324.0 758.8 325.0 767.7 326.0 775.9 326.6 780.2 327.0 779.9 328.0 788.4 329.0 793.9 330.0 796.4 331.0 804.6 331.7 807.4 332.0 814.3 333.0 830.7 334.0 844.0 335.0 848.7 336.0 851.1 336.8 853.3 338.0 850.7 339.0 847.7 339.3 847.1 340.0 843.4 341.0 837.2 342.0 829.2 342.4 827.8 343.0 823.8 344.0 820.2 344.4 818.7 345.0 813.2 346.0 803.9 346.5 798.1 347.0 806.4 348.0 819.9 349.0 832.0 349.5 837.6 350.0 837.3 351.0 835.1 352.0 834.7 353.0 834.6 353.3 835.4 354.0 834.5 355.0 834.9 356.0 834.4 357.0 834.1 358.0 836.4 359.0 837.3 360.0 841.5 361.0 843.1 362.0 843.1 363.0 843.8 363.5 844.2 364.0 844.9 365.0 847.7 366.0 850.4 367.0 850.8 367.4 852.1 368.0 852.5 369.0 854.2 370.0 854.6 371.0 855.6 372.0 854.0 373.0 851.9 374.0 851.0 375.0 849.4 376.0 846.4 377.0 844.1 378.0 840.5 378.9 837.1 380.0 835.3 381.0 830.2 382.0 827.3 382.7 826.5 383.0 824.7 384.0 820.2 385.0 814.6 386.0 809.0 386.5 808.8 387.0 806.0 388.0 806.2 389.0 804.2 390.0 800.7 390.3 802.3 391.0 798.7 392.0 792.9 392.9 788.7 394.0 775.5 395.0 763.6 395.4 761.5 396.0 751.7 397.0 739.7 398.0 719.2 399.0 711.2 400.0 702.0 400.5 696.8 401.0 695.3 402.0 689.2 402.6 685.9 403.0 686.3 404.0 692.7 404.4 694.9 405.0 705.3 406.0 720.4 407.0 738.6 408.0 753.4 409.0 776.8 410.0 800.7 411.0 818.1 412.0 835.7 412.7 847.6 413.0 848.1 414.0 850.9 415.0 855.0 416.0 853.0 417.0 849.9 417.8 848.1 419.0 843.2 420.0 836.9 420.3 835.7 421.0 833.3 422.0 829.9 422.4 827.4 423.0 823.6 423.4 820.3 424.0 825.5 424.9 831.2 426.0 830.1 427.0 833.1 428.0 832.6 429.0 835.8 430.0 834.0 430.5 835.7 431.0 836.1 432.0 837.9 433.0 839.8 434.0 842.3 435.0 843.8 436.0 845.3 436.9 847.8 438.0 849.5 439.0 850.6 440.0 851.8 440.7 852.9 442.0 854.3 443.0 855.5 444.0 854.4 445.0 853.2 446.0 850.6 447.0 850.1 448.0 846.4 449.0 841.2 450.0 837.9 450.9 833.7 452.0 830.3 453.0 824.9 454.0 820.5 454.8 817.5 456.0 809.9 457.0 806.1 457.3 803.5 458.0 801.4 459.0 800.3 459.9 800.0 461.0 793.7 462.0 787.3 462.4 784.4 463.0 782.0 464.0 779.8 465.0 777.5 466.0 774.2 467.0 772.4 467.5 772.2 468.0 770.2 469.0 772.4 470.0 769.1 471.0 766.3 472.0 756.2 472.6 755.1 473.0 754.7 473.9 757.4 475.0 757.4 476.0 760.9 476.4 761.5 477.0 767.1 478.0 780.9 479.0 791.1 480.0 800.0 481.0 809.2 481.6 813.4 482.0 819.4 483.0 833.3 484.0 845.3 485.0 851.5 486.0 854.0 487.0 851.4 488.0 848.1 489.0 845.4 490.0 843.0 491.0 836.8 491.8 836.1 493.0 830.9 493.8 826.6 495.0 829.3 495.6 827.6 496.0 828.7 497.0 831.8 497.4 831.5 498.0 835.1 499.0 838.5 499.4 839.8 500.0 839.3 501.0 836.2 502.0 834.7 503.0 835.0 504.0 833.2 504.5 833.3 505.0 833.6 506.0 834.7 507.0 838.0 508.0 838.9 509.0 839.5 510.0 841.5 511.0 841.6 512.0 842.5 513.0 841.4 514.0 842.8 515.0 845.2 516.0 845.3 517.0 845.9 518.0 848.9 518.5 849.8 519.0 850.5 520.0 852.8 521.0 854.3 522.0 852.8 523.0 851.7 524.0 849.9 524.9 850.0 526.0 846.6 527.0 844.2 528.0 840.6 528.8 837.9 530.0 835.5 531.0 830.7 532.0 827.1 532.6 824.2 533.0 823.2 534.0 816.3 535.0 809.2 536.0 806.2 537.0 805.2 537.7 803.0 538.0 803.2 539.0 796.8 540.0 794.5 541.0 792.2 542.0 787.6 542.8 783.6 544.0 772.2 545.0 763.7 545.3 759.3 546.0 746.8 547.0 726.2 547.4 718.0 548.0 706.7 548.7 696.9 549.0 695.9 550.0 693.2 550.4 693.4 551.0 690.7 552.0 688.0 552.5 683.3 553.0 685.2 554.0 689.1 555.0 690.0 556.0 693.7 556.8 693.9 558.0 727.8 559.0 760.2 560.0 792.8 561.0 819.8 562.0 838.3 563.0 851.3 564.0 849.8 565.0 846.4 566.0 844.9 566.4 844.9 567.0 842.6 568.0 837.2 568.9 835.6 570.0 834.6 570.7 832.7 572.0 832.5 572.8 833.7 574.0 835.0 575.0 835.4 575.3 836.0 576.0 835.3 577.0 834.5 577.9 834.6 579.0 839.4 580.0 841.1 580.4 842.5 581.0 843.3 582.0 843.5 583.0 845.8 584.0 846.7 585.0 848.4 586.0 848.9 587.0 850.5 588.0 851.9 589.0 853.2 590.0 854.2 591.0 855.1 591.9 855.7 593.0 854.4 594.0 853.8 595.0 852.6 595.7 852.0 597.0 848.0 598.0 845.7 599.0 841.3 599.6 839.7 600.0 838.1 601.0 834.0 602.0 831.0 603.0 827.2 603.4 824.4 604.0 821.8 605.0 817.6 605.9 814.1 607.0 811.6 608.0 809.5 608.5 809.5 609.0 807.7 610.0 805.9 611.0 806.3 612.0 805.4 613.0 808.0 614.0 805.3 614.9 804.2 616.0 801.9 617.0 799.7 618.0 798.2 618.7 798.5 619.0 798.0 620.0 798.4 621.0 797.3 622.0 795.5 623.0 792.4 623.8 791.5 625.0 788.0 625.8 786.8 626.9 790.1 628.0 799.7 628.9 808.7 630.0 818.5 631.0 828.4 631.4 832.5 632.0 837.0 633.0 844.5 634.0 854.5 635.0 853.6 636.0 850.5 636.6 849.7 637.0 848.1 638.0 845.2 639.0 840.5 640.0 839.0 641.0 837.2 641.7 834.4 642.0 835.6 643.0 833.6 644.0 832.3 645.0 832.6 645.5 831.7 646.0 833.7 647.0 835.3 648.0 834.9 649.0 833.6 650.0 833.5 650.6 832.5 651.0 832.3 652.0 830.6 653.0 830.1 654.0 828.9 655.0 828.5 655.7 828.3 656.0 829.1 657.0 835.0 658.0 838.4 659.0 841.7 660.0 842.5 660.8 844.5 662.0 842.6 663.0 842.8 663.3 842.3 664.0 844.0 665.0 845.1 666.0 845.5 667.0 846.8 668.0 848.7 669.0 851.3 670.0 852.2 671.0 853.0 672.0 851.8 673.0 850.4 674.0 850.7 674.8 849.9 676.0 846.3 677.0 844.8 678.0 841.9 678.7 840.0 679.0 839.1 680.0 837.2 681.0 834.7 682.0 833.2 682.5 833.3 683.0 831.8 684.0 828.6 685.0 825.5 686.0 821.1 687.0 816.0 687.6 816.4 688.0 815.5 689.0 810.5 690.0 808.4 691.0 807.2 692.0 805.1 692.7 805.5 693.0 805.4 694.0 806.0 695.0 803.2 696.0 801.2 697.0 801.3 697.8 798.3 699.0 793.2 700.0 781.0 700.3 780.2 701.0 771.7 702.0 762.8 702.9 750.5 704.0 743.8 704.9 731.0 706.0 746.5 706.7 749.6 708.0 769.6 709.0 781.8 710.0 792.7 710.5 798.4 711.0 805.5 712.0 815.5 713.0 826.4 714.0 836.5 715.0 847.1 716.0 844.9 717.0 843.3 717.6 842.5 718.0 841.5 719.0 839.8 720.0 838.6 721.0 836.6 722.0 835.9 723.0 835.2 723.9 835.5 725.0 836.7 726.0 838.4 726.5 838.8 727.0 841.4 728.0 840.0 729.0 841.9 730.0 842.9 730.3 842.4 731.0 844.1 732.0 844.7 733.0 845.8 734.0 847.1 735.0 848.6 736.0 848.1 737.0 850.1 738.0 852.1 739.0 852.9 740.0 855.0 740.5 855.6 741.0 855.1 742.0 854.2 743.0 851.7 744.0 850.2 744.3 850.0 745.0 846.6 746.0 842.3 747.0 838.4 748.0 834.1 749.0 832.6 750.0 827.3 751.0 824.6 752.0 820.1 753.0 816.2 754.0 812.0 755.0 806.4 755.8 803.2 757.0 801.0 758.0 799.6 758.9 797.4 760.0 801.9 760.9 803.6 762.0 802.2 763.0 801.3 763.5 800.5 764.0 803.0 765.0 801.7 766.0 801.6 767.0 802.2 768.0 802.1 768.6 802.6 769.0 804.3 770.0 804.1 771.0 807.6 772.0 807.5 772.4 808.2 773.0 809.1 774.0 811.6 775.0 817.6 776.0 818.0 777.0 822.2 778.0 827.5 779.0 829.0 780.0 834.4 781.0 838.8 782.0 841.1 783.0 845.8 783.9 849.3 785.0 851.9 786.0 854.4 786.4 855.7 787.0 854.7 788.0 851.9 789.0 850.6 790.0 848.0 791.0 844.3 792.0 843.7 793.0 838.3 794.0 834.8 795.0 832.7 796.0 831.9 796.7 830.1 797.0 828.6 798.0 827.6 799.0 828.0 800.0 827.5 801.0 825.0 802.0 820.7 803.0 817.6 804.0 831.2 804.3 834.4 805.0 837.0 806.0 840.1 806.9 842.2 808.0 844.0 809.0 845.3 810.0 846.2 810.7 847.7 811.0 847.8 812.0 848.6 813.0 849.5 814.0 851.5 814.5 852.1 815.0 852.3 816.0 853.9 817.0 854.3 818.0 855.4 818.3 855.8 819.0 854.9 820.0 853.1 821.0 851.4 822.0 849.5 823.0 846.2 824.0 844.6 825.0 841.1 826.0 837.2 827.0 833.3 828.0 829.6 829.0 827.8 830.0 821.9 831.0 819.6 832.0 814.9 833.0 815.2 834.0 811.6 834.9 808.7 836.0 806.5 837.0 803.3 837.5 803.7 838.0 803.6 839.0 804.7 840.0 802.7 841.0 803.4 841.3 803.3 842.0 803.1 843.0 802.6 844.0 802.7 845.0 802.3 846.0 801.6 847.0 802.0 848.0 800.0 849.0 798.2 850.0 797.7 851.0 796.7 851.5 795.9 852.0 799.4 853.0 802.6 854.0 807.7 855.0 811.9 856.0 818.8 857.0 822.5 857.9 828.8 859.0 833.3 860.0 838.0 861.0 845.0 861.7 847.4 863.0 850.4 864.0 852.0 865.0 853.5 865.5 854.4 866.0 853.4 867.0 852.1 868.0 849.7 869.0 848.0 869.4 847.0 870.0 838.1 871.0 837.2 872.0 839.4 872.6 839.7 873.0 839.8 874.0 838.0 875.0 837.7 876.0 839.9 877.0 840.8 877.7 842.3 878.0 841.3 879.0 838.3 879.7 835.2 880.0 836.2 881.0 841.6 881.5 843.8 882.0 843.3 883.0 842.7 884.0 840.8 885.0 847.5 885.3 849.7 886.0 850.9 887.0 851.8 888.0 852.3 889.0 853.0 890.0 853.7 891.0 854.4 892.0 854.8 893.0 855.7 894.0 855.8 895.0 854.8 896.0 854.2 897.0 854.6 898.0 854.5 899.0 854.0 900.0 854.4 901.0 853.3 902.0 852.3 903.0 851.9 904.0 850.4 905.0 848.6 905.7 847.5 907.0 840.0 908.0 831.7 909.0 829.1 910.0 828.9 910.3 827.5 911.0 832.9 912.0 842.5 913.0 839.0 914.0 835.6 914.7 832.3 915.0 831.9 916.0 828.6 917.0 826.2 918.0 824.5 919.0 822.8 919.8 823.9 921.0 824.1 922.0 823.9 922.3 825.2 923.0 825.1 924.0 827.0 924.9 827.5 926.0 830.8 927.0 836.2 927.4 837.0 928.0 838.5 929.0 843.5 930.0 847.5 931.0 848.6 932.0 850.1 933.0 852.6 933.8 853.2 935.0 854.2 936.0 855.2 936.3 855.7 937.0 855.3 938.0 855.2 939.0 853.5 940.0 853.3 941.0 851.6 942.0 849.4 943.0 847.9 944.0 846.9 945.0 846.3 946.0 843.3 946.6 842.7 947.0 841.0 948.0 839.8 949.0 840.3 950.0 839.5 951.0 834.6 951.7 835.2 952.0 831.2 952.9 818.9 954.0 834.6 955.0 838.1 956.0 840.5 956.8 842.8 958.0 843.3 959.0 846.1 960.0 846.5 960.6 847.2 961.0 848.0 962.0 848.6 963.0 849.8 964.0 851.7 964.4 852.1 965.0 852.2 966.0 852.1 967.0 853.2 968.0 854.8 969.0 855.1 969.5 855.7 970.0 855.3 971.0 855.0 972.0 853.7 973.0 852.4 973.3 852.0 974.0 851.6 975.0 850.1 976.0 848.7 977.0 847.1 978.0 846.2 979.0 846.6 980.0 845.9 981.0 845.0 982.0 843.5 983.0 840.7 984.0 839.2 984.8 836.8 986.0 833.0 987.0 830.1 988.0 828.2 988.7 825.8 989.0 824.9 990.0 824.8 991.0 820.8 992.0 819.1 992.5 818.2 993.0 817.1 994.0 815.1 995.0 811.4 996.0 812.1 997.0 814.0 997.6 814.8 998.0 817.8 999.0 817.8 1000.0 820.6 1001.0 822.3 1002.0 824.2 1002.7 827.1 1003.0 825.8 1004.0 828.6 1005.0 831.8 1006.0 834.2 1007.0 836.3 1007.8 839.5 1009.0 843.1 1010.0 845.9 1010.3 847.5 1011.0 847.8 1012.0 849.6 1013.0 851.0 1014.0 853.1 1015.0 853.0 1016.0 852.5 1017.0 853.2 1018.0 853.3 1019.0 851.6 1020.0 850.8 1021.0 850.3 1021.8 849.6 1023.0 847.5 1024.0 845.7 1024.4 844.6 1025.0 847.0 1026.0 846.4 1027.0 845.1 1027.6 844.2 1028.0 846.6 1028.8 849.8 1030.0 850.1 1031.0 850.7 1032.0 851.6 1032.7 852.0 1033.0 852.2 1034.0 852.9 1035.0 853.0 1036.0 853.3 1036.5 853.2 1037.0 853.6 1038.0 854.6 1039.0 854.4 1040.0 854.4 1040.3 854.4 1041.0 854.6 1042.0 855.3 1043.0 855.4 1044.0 855.4 1044.9 856.4 1046.0 856.2 1047.0 855.3 1048.0 854.4 1049.0 853.6 1050.0 852.8 1051.0 852.1 1052.0 850.7 1053.0 850.0 1054.0 848.1 1055.0 846.5 1055.6 844.9 1056.0 845.0 1057.0 843.5 1058.0 842.5 1059.0 838.5 1060.0 835.0 1060.7 830.6 1062.0 823.1 1063.0 819.8 1064.0 818.7 1065.0 819.4 1065.3 820.4 1066.0 823.7 1067.0 829.9 1068.0 829.7 1069.0 832.9 1069.7 832.6 1070.0 831.6 1071.0 827.9 1072.0 825.7 1073.0 825.1 1074.0 825.3 1074.8 825.5 1076.0 831.6 1077.0 834.1 1077.3 834.8 1078.0 838.3 1079.0 843.1 1079.9 847.6 1081.0 849.5 1082.0 851.0 1082.4 851.9 1083.0 852.9 1084.0 853.5 1085.0 854.8 1086.0 854.7 1087.0 854.3 1088.0 853.8 1089.0 852.9 1090.0 853.2 1091.0 852.6 1091.3 852.0 1092.0 851.8 1093.0 850.5 1093.9 849.6 1095.0 847.3 1096.0 844.1 1096.4 843.4 1097.0 842.9 1098.0 844.1 1099.0 844.5 1100.0 840.5 1101.0 836.5 1101.6 835.5 1102.0 835.7 1103.0 840.9 1104.0 844.7 1105.0 843.5 1106.0 842.7 1106.7 842.4 1107.0 843.2 1108.0 845.5 1109.0 846.5 1110.0 847.9 1111.0 847.2 1112.0 847.9 1113.0 847.0 1114.0 847.8 1115.0 849.7 1116.0 849.8 1116.9 850.8 1118.0 851.1 1119.0 853.0 1120.0 853.0 1121.0 853.6 1122.0 854.7 1123.0 853.7 1124.0 853.9 1125.0 852.4 1125.8 851.9 1127.0 851.0 1128.0 851.8 1129.0 851.3 1129.6 850.7 1130.0 850.8 1131.0 850.4 1132.0 849.5 1133.0 848.8 1134.0 848.1 1134.7 846.8 1136.0 844.3 1137.0 842.6 1138.0 842.0 1139.0 841.8 1139.8 840.1 1141.0 836.8 1142.0 835.1 1142.4 835.4 1143.0 834.0 1144.0 832.5 1144.9 832.2 1146.0 831.8 1147.0 830.5 1147.5 830.9 1148.0 828.5 1149.0 830.4 1150.0 829.2 1151.0 830.2 1152.0 834.2 1152.6 834.8 1153.0 834.8 1154.0 838.1 1155.0 839.0 1156.0 843.3 1157.0 844.9 1157.7 846.9 1158.0 847.6 1159.0 850.2 1160.0 852.6 1161.0 854.5 1161.5 855.6 1162.0 855.5 1163.0 855.6 1164.0 854.7 1165.0 853.5 1165.3 852.9 1166.0 852.9 1167.0 853.5 1168.0 852.5 1169.0 852.0 1170.0 851.9 1171.0 852.4 1172.0 850.7 1173.0 851.2 1174.0 849.7 1175.0 850.0 1175.5 849.9 1176.0 849.1 1177.0 847.7 1178.0 847.8 1179.0 847.2 1180.0 847.5 1181.0 848.3 1182.0 849.1 1182.6 849.7 1183.0 844.2 1183.8 834.9 1185.0 850.9 1186.0 852.4 1187.0 851.2 1188.0 851.4 1189.0 851.8 1190.0 853.2 1191.0 853.6 1192.0 854.0 1193.0 853.8 1194.0 854.1 1195.0 854.4 1195.3 854.6 1196.0 854.2 1197.0 854.0 1198.0 852.7 1199.0 853.7 1200.0 853.4 1200.4 853.2 1201.0 852.9 1202.0 852.6 1203.0 852.6 1204.0 852.8 1205.0 851.9 1205.5 851.9 1206.0 851.1 1207.0 851.3 1208.0 850.3 1209.0 850.5 1210.0 851.4 1210.6 850.7 1211.0 850.6 1212.0 851.9 1213.0 851.9 1214.0 851.7 1215.0 853.0 1215.7 853.2 1217.0 853.0 1218.0 853.3 1219.0 853.9 1220.0 854.8 1220.8 854.9 1222.0 854.3 1223.0 854.3 1224.0 855.0 1225.0 855.0 1225.9 855.7 1227.0 855.1 1228.0 854.7 1229.0 854.7 1230.0 855.2 1231.0 854.8 1232.0 855.1 1233.0 855.5 1234.0 854.4 1235.0 854.7 1236.0 855.0 1237.0 854.0 1238.0 853.8 1238.7 854.0 1239.0 854.0 1240.0 853.6 1241.0 853.2 1242.0 852.6 1243.0 852.5 1243.8 851.7 1245.0 850.7 1246.0 851.9 1247.0 851.6 1248.0 851.5 1248.9 850.4 1250.0 849.7 1251.0 849.1 1252.0 847.9 1253.0 848.3 1254.0 846.8 1255.0 848.5 1256.0 848.7 1256.5 849.5 1257.0 849.7 1258.0 849.6 1259.0 851.1 1260.0 850.7 1261.0 850.9 1261.6 851.0 1262.0 851.0 1263.0 850.4 1264.0 851.1 1265.0 851.4 1266.0 852.2 1266.7 851.8 1268.0 852.3 1269.0 852.8 1270.0 853.1 1271.0 853.1 1271.8 853.1 1273.0 852.8 1274.0 852.5 1275.0 852.6 1276.0 852.3 1276.9 852.0 1278.0 851.8 1279.0 851.0 1280.0 849.2 1281.0 847.8 1282.0 847.3 1283.0 846.8 1284.0 847.0 1285.0 845.8 1286.0 845.1 1287.0 844.3 1288.0 842.4 1289.0 840.4 1289.7 838.8 1290.0 840.4 1291.0 841.0 1292.0 841.5 1293.0 843.0 1294.0 846.2 1294.8 847.0 1296.0 845.0 1297.0 842.6 1297.3 842.1 1298.0 840.4 1299.0 837.8 1299.9 835.1 1301.0 835.2 1302.0 835.4 1302.4 835.5 1303.0 836.1 1304.0 837.2 1305.0 838.3 1306.0 840.0 1307.0 839.7 1307.6 840.4 1308.0 840.2 1309.0 841.8 1310.0 842.8 1311.0 846.3 1312.0 850.0 1312.7 852.1 1313.0 852.6 1314.0 853.7 1315.0 854.2 1316.0 854.1 1317.0 853.6 1318.0 853.3 1319.0 853.5 1320.0 853.2 1320.3 853.0 1321.0 852.9 1322.0 852.3 1323.0 850.4 1324.0 848.8 1325.0 847.5 1325.4 847.1 1326.0 847.3 1327.0 849.7 1328.0 851.0 1329.0 850.9 1330.0 848.7 1331.0 848.4 1332.0 848.5 1333.0 847.4 1334.0 846.8 1335.0 845.4 1336.0 846.4 1337.0 845.9 1338.0 846.7 1339.0 847.0 1340.0 846.9 1341.0 847.8 1342.0 848.9 1343.0 849.3 1344.0 850.0 1345.0 849.8 1346.0 850.2 1347.0 850.9 1348.0 850.4 1348.4 850.7 1349.0 850.8 1350.0 851.2 1351.0 850.6 1352.0 851.3 1353.0 851.3 1353.5 852.0" stroke="#1030a0" stroke-width="2.6" stroke-dasharray="5 4"/>
<defs><path id="tw" d="M95.0 850.9 96.0 851.3 97.0 850.8 98.0 851.0 99.0 850.6 100.0 851.1 101.0 849.8 102.0 851.6 102.7 850.9 103.0 850.9 104.0 850.5 105.0 850.2 106.0 850.6 107.0 850.0 108.0 849.8 109.0 848.7 110.0 849.5 110.3 849.7 111.0 849.2 112.0 846.2 113.0 845.1 114.0 844.3 115.0 842.8 115.4 842.0 116.0 841.1 117.0 841.1 118.0 841.1 119.0 838.2 120.0 838.9 120.5 839.4 121.0 839.7 122.0 838.7 123.0 839.4 124.0 838.4 125.0 838.2 125.6 838.2 126.0 838.3 127.0 838.4 128.0 837.9 129.0 839.2 130.0 840.4 130.7 840.7 132.0 840.4 133.0 842.0 134.0 841.9 135.0 841.6 135.8 842.0 137.0 843.2 138.0 845.2 139.0 842.4 140.0 843.0 140.9 844.5 142.0 844.7 143.0 845.4 144.0 846.4 145.0 848.2 146.0 848.4 147.0 849.2 148.0 849.4 149.0 848.7 150.0 849.8 151.0 849.6 152.0 849.6 153.0 849.3 154.0 851.5 155.0 851.5 156.0 850.8 157.0 850.7 158.0 850.5 159.0 850.4 160.0 850.8 161.0 849.9 161.3 849.7 162.0 849.3 163.0 849.8 164.0 849.2 165.0 851.8 166.0 851.0 166.4 850.9 167.0 851.0 168.0 852.0 169.0 850.8 170.0 848.4 171.0 849.7 171.6 849.7 172.0 849.7 173.0 849.2 174.0 850.0 175.0 850.7 176.0 850.6 176.7 850.9 177.0 851.0 178.0 851.0 179.0 850.9 180.0 849.2 181.0 850.7 181.8 850.9 183.0 849.4 184.0 847.0 185.0 846.5 186.0 845.8 186.9 844.5 188.0 843.4 189.0 841.1 190.0 840.3 190.7 839.4 191.0 839.3 192.0 836.3 193.0 833.8 194.0 833.1 194.5 831.8 195.0 831.2 196.0 827.2 197.0 829.8 198.0 828.4 199.0 826.9 199.6 826.7 200.0 826.1 201.0 824.4 202.0 821.4 203.0 821.4 203.4 821.6 204.0 820.3 205.0 820.6 206.0 819.0 207.0 820.6 208.0 822.0 208.5 824.1 209.0 823.5 210.0 823.3 211.0 823.3 212.0 821.9 212.4 821.6 213.0 822.5 214.0 824.8 215.0 822.5 216.0 824.2 217.0 825.2 218.0 825.3 219.0 830.4 220.0 831.7 221.0 833.6 222.0 835.8 223.0 837.6 223.9 839.4 225.0 843.1 226.0 843.9 227.0 845.6 227.7 847.1 228.0 847.5 229.0 848.0 230.0 849.3 231.0 849.1 232.0 850.1 232.8 850.9 234.0 852.1 235.0 850.6 236.0 851.2 237.0 851.0 237.9 850.9 239.0 851.6 240.0 851.1 241.0 851.2 242.0 851.8 243.0 852.2 244.0 852.5 245.0 852.2 246.0 851.8 247.0 850.4 248.0 851.0 249.0 850.8 250.0 851.5 251.0 852.2 252.0 851.0 253.0 850.5 254.0 851.3 255.0 851.0 256.0 851.1 257.0 848.7 258.0 850.0 259.0 848.7 260.0 848.4 261.0 847.1 262.0 844.2 263.0 842.3 264.0 842.0 265.0 841.0 266.0 842.3 267.0 839.3 267.9 839.4 269.0 837.3 270.0 838.6 271.0 838.5 271.7 838.2 272.0 837.7 273.0 836.8 274.0 834.7 275.0 837.3 275.5 836.9 276.0 835.5 277.0 836.9 278.0 836.1 279.0 835.8 279.3 835.6 280.0 835.7 281.0 838.0 282.0 836.7 283.0 838.3 284.0 838.7 285.0 836.0 286.0 839.0 287.0 839.4 288.0 839.1 289.0 840.9 290.0 839.4 290.8 839.4 292.0 837.1 293.0 839.8 294.0 838.3 294.7 838.2 295.0 838.8 296.0 840.5 297.0 844.1 298.0 845.6 299.0 847.2 300.0 848.5 301.0 850.9 302.0 851.3 303.0 850.9 304.0 851.2 305.0 851.0 306.0 852.2 307.0 852.0 308.0 852.4 309.0 853.4 310.0 852.1 311.0 851.3 312.0 852.1 313.0 852.7 313.8 852.7 315.0 852.4 316.0 852.3 317.0 853.0 318.0 853.2 319.0 852.0 320.0 852.9 321.0 852.4 321.4 852.2 322.0 851.5 323.0 852.1 324.0 852.9 325.0 851.8 326.0 853.1 327.0 851.7 328.0 850.8 329.0 851.0 330.0 851.0 331.0 850.9 332.0 849.6 332.9 849.7 334.0 847.3 335.0 846.2 336.0 843.0 336.8 842.0 338.0 840.6 339.0 838.7 340.0 837.4 340.6 836.9 341.0 836.5 342.0 836.3 343.0 835.4 344.0 833.8 344.4 833.1 345.0 832.3 346.0 830.7 347.0 832.8 348.0 831.8 349.0 830.4 350.0 833.2 351.0 829.7 352.0 830.6 353.0 831.0 354.0 829.1 355.0 831.4 355.9 829.2 357.0 828.9 358.0 832.1 359.0 829.5 359.7 830.5 361.0 829.7 362.0 830.6 363.0 831.6 363.5 831.8 364.0 831.3 365.0 833.3 366.0 836.1 367.0 833.8 367.4 834.3 368.0 836.0 369.0 838.3 369.9 839.4 371.0 839.8 372.0 841.2 372.5 842.0 373.0 842.6 374.0 840.7 375.0 841.8 376.0 844.1 376.3 844.5 377.0 845.3 378.0 846.2 379.0 848.4 380.0 848.3 381.0 849.0 382.0 850.5 383.0 849.6 384.0 849.7 385.0 850.8 386.0 851.3 387.0 850.2 388.0 852.2 389.0 852.4 390.0 852.1 390.3 852.2 391.0 851.9 392.0 851.6 393.0 852.0 394.0 851.0 395.0 851.1 395.4 850.9 396.0 850.8 397.0 848.9 398.0 848.0 399.0 849.0 400.0 847.4 400.5 847.1 401.0 846.8 402.0 845.6 403.0 845.8 404.0 845.4 405.0 845.1 406.0 845.7 407.0 844.1 408.0 845.7 409.0 843.5 410.0 844.7 411.0 842.4 412.0 842.2 413.0 840.8 413.9 839.4 415.0 839.6 416.0 839.0 417.0 837.6 417.8 838.2 419.0 839.7 420.0 839.0 421.0 837.5 422.0 838.9 422.9 839.4 424.0 840.6 425.0 841.4 426.0 841.0 427.0 841.7 428.0 842.0 429.0 843.8 430.0 842.4 431.0 843.7 432.0 841.9 433.0 842.0 434.0 841.7 435.0 843.2 436.0 842.4 437.0 840.6 438.0 839.8 439.0 839.8 440.0 841.6 441.0 841.3 442.0 842.0 443.0 842.4 444.0 844.6 445.0 844.9 445.8 844.5 447.0 846.5 448.0 846.0 449.0 846.4 449.7 847.1 450.0 847.1 451.0 846.1 452.0 849.0 453.0 849.4 453.5 849.7 454.0 849.9 455.0 851.0 456.0 850.7 457.0 851.8 458.0 850.7 458.6 850.9 459.0 850.8 460.0 850.5 461.0 850.8 462.0 851.7 463.0 851.0 464.0 851.2 465.0 852.3 466.0 852.1 467.0 851.9 468.0 851.5 469.0 852.8 470.0 852.6 471.0 851.5 472.0 851.0 473.0 851.5 473.9 850.9 475.0 850.4 476.0 849.7 477.0 849.8 478.0 850.7 479.0 849.7 480.0 850.6 481.0 848.5 482.0 847.8 483.0 848.1 484.0 847.1 485.0 846.5 486.0 844.7 487.0 845.0 488.0 845.1 489.0 844.7 490.0 843.9 491.0 841.9 492.0 843.6 493.0 842.4 494.0 842.1 494.3 842.0 495.0 840.4 496.0 843.0 497.0 840.5 498.0 840.6 499.0 840.0 499.4 839.4 500.0 839.6 501.0 839.2 502.0 840.6 503.0 841.9 504.0 841.9 504.5 842.0 505.0 842.2 506.0 842.2 507.0 841.8 508.0 841.6 509.0 842.3 509.6 842.0 510.0 842.3 511.0 842.0 512.0 841.8 513.0 842.4 514.0 843.3 514.7 843.3 516.0 845.2 517.0 844.0 518.0 844.0 519.0 844.4 519.8 844.5 521.0 845.2 522.0 844.1 523.0 845.2 524.0 844.8 524.9 845.8 526.0 846.4 527.0 846.9 528.0 846.4 529.0 848.1 530.0 848.4 531.0 848.4 532.0 849.5 533.0 850.6 534.0 851.8 535.0 850.8 536.0 850.5 537.0 850.6 538.0 851.9 539.0 851.0 540.0 850.9 541.0 850.9 542.0 848.9 543.0 847.8 544.0 849.0 545.0 847.6 545.3 847.1 546.0 846.4 547.0 845.0 548.0 843.0 549.0 840.3 550.0 839.9 550.4 839.4 551.0 839.2 552.0 838.5 553.0 839.4 554.0 837.1 555.0 835.2 556.0 836.6 557.0 835.3 558.0 832.0 559.0 832.8 560.0 831.8 561.0 830.1 562.0 827.1 562.6 826.7 563.0 826.3 564.0 828.9 565.0 825.1 566.0 826.9 566.4 828.0 567.0 827.9 568.0 828.4 569.0 828.7 570.0 828.0 571.0 826.8 572.0 827.5 573.0 827.2 574.0 826.7 575.0 827.7 576.0 823.8 577.0 825.1 577.9 824.1 579.0 822.5 580.0 821.4 580.4 821.6 581.0 823.0 582.0 822.4 583.0 824.7 584.0 825.1 585.0 826.8 586.0 826.3 587.0 827.4 588.0 829.2 589.0 830.3 590.0 833.0 591.0 831.5 591.9 834.3 593.0 836.6 594.0 836.9 595.0 836.2 595.7 836.9 597.0 837.1 598.0 838.5 599.0 839.1 600.0 839.3 600.8 839.4 602.0 838.0 603.0 837.3 604.0 836.6 604.7 836.9 605.0 836.5 606.0 835.4 607.0 836.8 608.0 832.8 608.5 831.8 609.0 832.4 610.0 830.0 611.0 830.9 612.0 829.9 612.3 829.2 613.0 828.6 614.0 826.4 615.0 824.3 616.0 824.3 617.0 822.1 618.0 821.9 619.0 819.8 620.0 819.0 621.0 817.6 622.0 823.0 623.0 822.3 623.8 824.1 625.0 824.5 626.0 827.2 627.0 830.9 627.6 831.8 628.0 831.1 629.0 830.9 630.0 829.4 631.0 826.6 632.0 824.7 633.0 821.8 634.0 821.6 635.0 815.2 636.0 813.1 637.0 809.7 637.8 808.8 639.0 804.5 640.0 806.7 641.0 800.0 641.7 798.6 642.0 798.6 643.0 798.4 644.0 796.7 645.0 793.6 645.5 793.5 646.0 791.9 647.0 789.8 648.0 788.8 649.0 786.7 649.3 785.9 650.0 785.1 651.0 787.6 651.9 783.3 653.0 784.7 654.0 788.3 654.4 788.4 655.0 788.4 656.0 786.6 657.0 785.9 658.0 784.5 659.0 798.5 660.0 791.7 660.8 793.5 662.0 791.6 663.0 784.6 663.3 783.3 664.0 787.8 665.0 791.7 665.9 798.6 667.0 805.8 668.0 810.2 668.4 811.4 669.0 813.7 670.0 816.0 671.0 819.5 672.0 818.3 673.0 821.7 674.0 823.0 675.0 823.6 676.0 823.9 677.0 826.8 678.0 828.9 678.7 829.2 679.0 830.0 680.0 832.5 681.0 836.5 682.0 837.9 683.0 839.1 683.8 839.4 685.0 830.6 686.0 823.8 686.3 821.6 687.0 817.7 688.0 809.8 688.9 803.7 690.0 792.9 691.0 788.8 691.4 785.9 692.0 782.5 693.0 780.9 694.0 773.1 695.0 776.8 696.0 781.8 696.5 783.3 697.0 782.5 698.0 781.0 699.0 778.3 700.0 771.9 701.0 767.2 701.6 768.0 702.0 769.0 703.0 770.3 704.0 772.1 705.0 769.0 706.0 766.1 706.7 762.9 708.0 766.7 709.0 773.1 710.0 767.9 711.0 765.2 711.8 762.9 713.0 741.0 714.0 726.9 714.4 722.1 715.0 712.2 716.0 700.9 717.0 679.3 718.0 649.5 719.0 683.9 719.6 696.6 720.0 713.6 720.6 737.4 721.0 737.0 722.0 740.9 722.7 739.9 723.0 742.3 724.0 741.4 724.7 747.6 725.0 740.9 726.0 718.5 726.5 709.3 727.0 723.5 727.8 747.6 729.0 762.5 730.0 755.6 730.3 752.7 731.0 763.4 731.6 773.1 732.0 767.9 733.0 757.3 733.4 752.7 734.0 758.2 735.0 766.1 735.4 768.0 736.0 770.8 737.0 780.8 738.0 788.4 739.0 783.9 740.0 777.2 740.5 773.1 741.0 774.0 742.0 777.6 743.0 777.8 744.0 782.6 745.0 784.5 745.6 785.9 746.0 786.4 747.0 789.5 748.0 792.8 749.0 791.4 750.0 784.9 750.7 783.3 752.0 793.8 753.0 798.0 754.0 802.9 755.0 808.7 755.8 813.9 757.0 818.2 758.0 822.5 758.4 824.1 759.0 825.1 760.0 827.9 760.9 831.8 762.0 829.9 763.0 829.3 763.5 829.2 764.0 830.6 765.0 832.1 766.0 834.3 767.0 834.3 768.0 832.8 768.6 831.8 769.0 832.1 770.0 831.5 771.0 834.1 772.0 833.5 773.0 831.1 774.0 832.1 775.0 829.2 776.0 830.2 777.0 831.5 778.0 830.0 778.8 831.8 780.0 835.5 781.0 838.4 781.3 839.4 782.0 834.9 783.0 830.7 783.9 824.1 785.0 815.7 786.0 808.0 786.4 803.7 787.0 800.5 788.0 793.4 789.0 788.4 790.0 794.4 791.0 795.8 791.6 798.6 792.0 796.6 793.0 792.0 794.0 794.1 795.0 792.2 796.0 790.9 796.7 788.4 797.0 790.2 798.0 796.1 799.0 797.6 800.0 797.8 801.0 796.0 801.8 796.1 803.0 798.2 804.0 803.2 804.3 803.7 805.0 802.0 806.0 797.8 806.9 798.6 808.0 803.1 809.0 804.8 809.4 806.3 810.0 805.3 811.0 803.4 812.0 798.6 813.0 802.8 814.0 805.5 814.5 808.8 815.0 808.9 816.0 805.6 817.0 803.9 818.0 806.9 819.0 811.1 819.6 813.9 820.0 815.4 821.0 817.1 822.0 818.7 823.0 820.6 824.0 824.6 824.7 824.1 826.0 828.9 827.0 830.8 828.0 833.3 829.0 838.1 829.8 839.4 831.0 840.0 832.0 841.5 832.4 842.0 833.0 842.5 834.0 842.9 834.9 844.5 836.0 845.1 837.0 846.2 838.0 844.9 839.0 846.3 840.0 847.1 841.0 848.1 842.0 848.6 843.0 848.8 844.0 848.8 845.0 849.5 846.0 849.4 847.0 849.8 848.0 850.0 849.0 849.7 850.0 851.0 851.0 850.7 852.0 849.0 853.0 849.9 854.0 849.6 855.0 849.8 855.3 849.7 856.0 848.6 857.0 848.2 857.9 847.1 859.0 844.3 860.0 840.9 860.4 839.4 861.0 835.1 862.0 826.7 863.0 819.0 864.0 814.9 865.0 813.1 866.0 810.8 866.8 808.8 868.0 807.1 869.0 806.6 869.4 806.3 870.0 808.8 871.0 812.4 872.0 813.1 872.6 813.9 873.0 811.7 874.0 807.8 875.0 806.6 876.0 809.6 877.0 811.1 877.7 813.9 878.0 811.9 879.0 806.1 880.0 797.5 881.0 799.9 882.0 803.2 882.8 808.8 884.0 807.6 885.0 805.2 885.3 803.7 886.0 801.3 887.0 799.5 887.9 798.6 889.0 798.9 890.0 806.5 890.4 808.8 891.0 805.1 892.0 795.7 893.0 791.0 894.0 801.5 895.0 813.1 895.5 819.0 896.0 820.5 897.0 825.9 898.0 829.0 899.0 833.8 900.0 837.2 900.6 839.4 901.0 840.7 902.0 841.8 903.0 844.2 904.0 845.3 905.0 846.4 905.7 847.1 907.0 844.6 908.0 842.7 909.0 841.8 910.0 841.1 910.8 839.4 912.0 838.0 913.0 837.7 913.4 836.9 914.0 838.5 915.0 838.0 915.9 839.4 917.0 840.3 918.0 842.0 918.5 842.0 919.0 843.0 920.0 843.4 921.0 844.5 922.0 844.7 923.0 846.1 923.6 847.1 924.0 846.3 925.0 845.2 926.0 844.7 927.0 843.7 928.0 842.7 928.7 842.0 929.0 841.2 930.0 839.5 931.0 837.3 932.0 835.8 933.0 833.0 933.8 831.8 935.0 829.8 936.0 829.7 936.3 829.2 937.0 828.2 938.0 825.1 938.9 824.1 940.0 821.9 941.0 821.9 941.4 821.6 942.0 821.5 943.0 817.1 944.0 813.9 945.0 815.7 946.0 818.9 946.6 819.0 947.0 820.5 948.0 823.0 949.0 824.2 950.0 822.6 951.0 817.3 951.7 816.5 952.0 815.8 953.0 810.9 954.0 811.6 955.0 811.0 956.0 812.1 956.8 813.9 958.0 812.8 959.0 818.5 959.3 819.0 960.0 818.1 961.0 817.3 961.9 816.5 963.0 817.4 964.0 821.2 964.4 821.6 965.0 823.2 966.0 822.7 967.0 824.1 968.0 824.4 969.0 825.8 969.5 826.7 970.0 828.5 971.0 831.1 972.0 834.2 973.0 836.5 974.0 836.0 974.6 836.9 975.0 837.6 976.0 838.7 977.0 839.3 978.0 840.7 979.0 841.5 979.7 842.0 981.0 843.4 982.0 844.1 983.0 844.8 984.0 845.4 985.0 844.0 986.0 845.0 987.0 844.5 987.4 844.5 988.0 845.3 989.0 845.1 990.0 844.9 991.0 845.7 992.0 845.5 992.5 845.8 993.0 845.5 994.0 845.4 995.0 846.4 996.0 845.4 997.0 846.3 997.6 845.8 998.0 845.6 999.0 844.5 1000.0 845.0 1001.0 845.9 1002.0 845.0 1002.7 844.5 1003.0 844.4 1004.0 842.0 1005.0 843.1 1006.0 841.6 1006.5 842.0 1007.0 841.5 1008.0 840.4 1009.0 839.5 1010.0 836.5 1011.0 836.8 1012.0 833.9 1012.9 831.8 1014.0 829.8 1015.0 826.1 1015.4 824.1 1016.0 823.4 1017.0 817.0 1018.0 813.9 1019.0 806.9 1020.0 799.8 1020.5 796.1 1021.0 795.0 1022.0 796.6 1023.0 793.8 1024.0 794.8 1025.0 797.9 1026.0 795.2 1027.0 796.4 1027.6 798.6 1028.0 799.5 1029.0 806.2 1030.0 805.9 1031.0 805.0 1032.0 801.3 1032.7 798.6 1033.0 799.3 1034.0 802.1 1035.0 803.2 1036.0 800.5 1037.0 797.6 1037.8 796.1 1039.0 799.6 1040.0 798.1 1040.3 798.6 1041.0 796.8 1042.0 791.8 1042.9 791.0 1044.0 789.6 1045.0 789.2 1045.4 788.4 1046.0 785.5 1047.0 784.9 1047.5 783.3 1048.0 786.4 1049.0 796.3 1050.0 807.8 1050.5 813.9 1051.0 817.2 1052.0 822.5 1053.0 828.8 1054.0 833.4 1055.0 837.2 1055.6 839.4 1056.0 840.5 1057.0 841.9 1058.0 844.1 1059.0 845.3 1060.0 846.3 1060.7 847.1 1062.0 848.7 1063.0 849.6 1064.0 849.5 1065.0 849.7 1066.0 848.0 1067.0 847.9 1068.0 847.4 1068.4 847.1 1069.0 847.2 1070.0 846.9 1071.0 845.1 1072.0 847.0 1073.0 845.4 1073.5 844.5 1074.0 844.5 1075.0 844.7 1076.0 845.5 1077.0 845.1 1078.0 845.1 1078.6 845.8 1079.0 845.9 1080.0 847.2 1081.0 846.8 1082.0 847.2 1083.0 847.2 1083.7 847.1 1084.0 846.9 1085.0 847.0 1086.0 846.1 1087.0 844.6 1088.0 844.8 1088.8 844.5 1090.0 844.1 1091.0 843.2 1092.0 840.2 1093.0 840.6 1093.9 839.4 1095.0 837.6 1096.0 838.7 1097.0 835.8 1098.0 834.5 1099.0 834.3 1100.0 833.0 1101.0 829.9 1101.6 829.2 1102.0 828.3 1103.0 824.1 1104.0 822.1 1105.0 820.7 1106.0 819.9 1106.7 819.0 1107.0 820.0 1108.0 821.6 1109.0 823.9 1110.0 822.2 1111.0 823.3 1111.8 821.6 1113.0 825.8 1114.0 825.0 1114.3 826.7 1115.0 826.1 1116.0 822.0 1116.9 824.1 1118.0 826.1 1119.0 829.0 1119.4 829.2 1120.0 828.5 1121.0 828.1 1122.0 826.7 1123.0 828.7 1124.0 830.9 1124.5 831.8 1125.0 832.2 1126.0 835.9 1127.0 836.7 1128.0 838.9 1129.0 841.3 1129.6 842.0 1130.0 842.3 1131.0 843.5 1132.0 844.3 1133.0 843.0 1134.0 843.9 1134.7 844.5 1136.0 845.8 1137.0 845.5 1138.0 845.2 1139.0 846.1 1139.8 845.8 1141.0 845.1 1142.0 846.5 1143.0 846.9 1144.0 847.1 1144.9 847.1 1146.0 846.9 1147.0 848.0 1148.0 847.9 1149.0 848.3 1150.0 848.4 1151.0 848.3 1152.0 849.4 1153.0 848.6 1154.0 849.6 1155.0 848.5 1156.0 849.5 1157.0 847.7 1158.0 846.4 1159.0 847.0 1160.0 845.8 1161.0 845.5 1162.0 846.0 1163.0 845.4 1164.0 843.8 1165.0 844.8 1165.3 844.5 1166.0 844.4 1167.0 844.1 1168.0 843.4 1169.0 844.4 1170.0 843.5 1170.4 843.3 1171.0 843.3 1172.0 844.4 1173.0 843.4 1174.0 843.1 1175.0 841.9 1175.5 842.0 1176.0 842.1 1177.0 840.4 1178.0 839.7 1179.0 840.3 1180.0 839.4 1181.0 838.4 1182.0 839.6 1182.6 839.4 1183.0 838.7 1184.0 836.3 1185.0 837.0 1186.0 835.7 1187.0 834.8 1187.7 834.3 1188.0 834.4 1189.0 834.2 1190.0 834.4 1191.0 832.4 1192.0 829.3 1192.8 829.2 1194.0 830.8 1195.0 830.3 1195.3 830.5 1196.0 830.8 1197.0 831.1 1197.9 834.3 1199.0 836.2 1200.0 837.0 1200.4 838.1 1201.0 838.7 1202.0 838.6 1203.0 839.4 1204.0 841.0 1205.0 840.7 1205.5 840.7 1206.0 841.2 1207.0 841.2 1208.0 843.1 1209.0 843.4 1210.0 843.9 1210.6 844.5 1211.0 845.0 1212.0 845.1 1213.0 844.5 1214.0 845.6 1215.0 847.1 1215.7 847.0 1217.0 847.3 1218.0 847.9 1219.0 848.4 1220.0 848.2 1220.8 848.3 1222.0 848.5 1223.0 849.0 1224.0 848.8 1225.0 849.2 1225.9 849.6 1227.0 850.0 1228.0 849.9 1229.0 848.9 1230.0 849.6 1231.0 848.3 1232.0 848.0 1233.0 846.8 1234.0 848.4 1235.0 847.3 1236.0 847.0 1237.0 846.1 1238.0 847.2 1239.0 845.9 1240.0 844.4 1241.0 843.5 1242.0 842.6 1243.0 842.2 1244.0 842.1 1245.0 842.2 1246.0 841.9 1246.3 841.9 1247.0 842.2 1248.0 842.7 1249.0 844.3 1250.0 841.2 1251.0 841.0 1251.4 840.7 1252.0 840.3 1253.0 840.0 1254.0 840.3 1255.0 839.1 1256.0 839.9 1256.5 839.9 1257.0 839.6 1258.0 837.9 1259.0 839.7 1260.0 837.8 1261.0 839.4 1261.6 839.4 1262.0 839.4 1263.0 840.0 1264.0 839.5 1265.0 837.8 1266.0 837.8 1266.7 838.1 1268.0 836.2 1269.0 837.8 1270.0 839.4 1271.0 839.0 1271.8 839.4 1273.0 838.8 1274.0 838.8 1275.0 838.8 1276.0 841.2 1276.9 841.9 1278.0 842.8 1279.0 842.6 1280.0 844.2 1281.0 844.1 1282.0 844.5 1283.0 845.7 1284.0 844.9 1285.0 845.5 1286.0 846.1 1287.0 846.9 1288.0 847.6 1289.0 847.2 1290.0 847.3 1291.0 847.8 1292.0 848.2 1293.0 849.3 1294.0 848.1 1295.0 849.7 1296.0 849.6 1297.0 849.4 1297.3 849.6 1298.0 850.2 1299.0 849.7 1300.0 848.6 1301.0 849.3 1302.0 850.3 1302.4 850.1 1303.0 850.3 1304.0 850.7 1305.0 849.7 1306.0 850.2 1307.0 849.5 1307.6 849.6 1308.0 849.4 1309.0 849.7 1310.0 848.0 1311.0 848.6 1312.0 848.6 1312.7 848.3 1313.0 847.9 1314.0 846.9 1315.0 847.1 1316.0 847.1 1317.0 847.0 1317.8 847.0 1319.0 848.2 1320.0 846.9 1321.0 846.9 1322.0 845.9 1322.9 845.8 1324.0 846.1 1325.0 845.9 1326.0 845.2 1327.0 845.4 1328.0 844.5 1329.0 843.3 1330.0 841.0 1331.0 843.4 1332.0 843.3 1333.0 842.0 1334.0 841.6 1335.0 844.1 1336.0 841.0 1337.0 840.6 1338.0 840.7 1339.0 840.7 1340.0 839.9 1341.0 839.4 1342.0 839.5 1343.0 839.4 1344.0 835.3 1345.0 829.0 1345.8 824.1 1347.0 835.9 1348.0 836.3 1349.0 837.5 1349.6 836.8 1350.0 836.2 1351.0 832.9 1352.0 832.8 1353.0 831.7 1353.5 831.7"/></defs>
<use href="#tw" stroke="#f00" stroke-width="2.4" clip-path="url(#cco)"/>
<use href="#tw" stroke="#e8341f" stroke-width="2.4" clip-path="url(#cci)"/>
</g>
<rect x="724.6" y="351.0" width="434.7" height="234.5" fill="#f4f4f4" opacity="0.06"/>
<rect x="743.2" y="351.0" width="5.5" height="234.5" fill="#d9d9d9" opacity="0.55"/>
<rect x="819.2" y="351.0" width="4.7" height="234.5" fill="#d9d9d9" opacity="0.55"/>
<rect x="894.4" y="351.0" width="13.9" height="234.5" fill="#c8c8c8" opacity="0.55"/>
<rect x="972.3" y="351.0" width="4.7" height="234.5" fill="#c6c6c6" opacity="0.55"/>
<rect x="1045.2" y="351.0" width="11.4" height="234.5" fill="#c8c8c8" opacity="0.55"/>
<rect x="1123.9" y="351.0" width="12.8" height="234.5" fill="#c8c8c8" opacity="0.55"/>
<rect x="724.6" y="623.4" width="434.7" height="234.2" fill="#f4f4f4" opacity="0.06"/>
<rect x="743.2" y="623.4" width="5.5" height="234.2" fill="#d9d9d9" opacity="0.55"/>
<rect x="819.2" y="623.4" width="4.7" height="234.2" fill="#d9d9d9" opacity="0.55"/>
<rect x="894.4" y="623.4" width="13.9" height="234.2" fill="#c8c8c8" opacity="0.55"/>
<rect x="972.3" y="623.4" width="4.7" height="234.2" fill="#c6c6c6" opacity="0.55"/>
<rect x="1045.2" y="623.4" width="11.4" height="234.2" fill="#c8c8c8" opacity="0.55"/>
<rect x="1123.9" y="623.4" width="12.8" height="234.2" fill="#c8c8c8" opacity="0.55"/>
<path d="M95.0 13.7 H1353.7 M95.0 313.5 H1353.7 M95.0 13.7 V313.5" stroke="#000" stroke-width="2.2" fill="none"/>
<path d="M1353.7 13.7 V313.5" stroke="#000" stroke-width="2.2" fill="none"/>
<path d="M95.0 351.0 H1353.7 M95.0 585.5 H1353.7 M95.0 351.0 V585.5" stroke="#000" stroke-width="2.2" fill="none"/>
<path d="M1353.7 351.0 V585.5" stroke="#f00" stroke-width="2.2" fill="none"/>
<path d="M95.0 623.4 H1353.7 M95.0 857.6 H1353.7 M95.0 623.4 V857.6" stroke="#000" stroke-width="2.2" fill="none"/>
<path d="M1353.7 623.4 V857.6" stroke="#f00" stroke-width="2.2" fill="none"/>
<path d="M142.9 313.5 V306.0 M142.9 13.7 V21.2 M288.2 313.5 V306.0 M288.2 13.7 V21.2 M433.5 313.5 V306.0 M433.5 13.7 V21.2 M578.7 313.5 V306.0 M578.7 13.7 V21.2 M724.0 313.5 V306.0 M724.0 13.7 V21.2 M869.3 313.5 V306.0 M869.3 13.7 V21.2 M1014.6 313.5 V306.0 M1014.6 13.7 V21.2 M1159.8 313.5 V306.0 M1159.8 13.7 V21.2 M1305.1 313.5 V306.0 M1305.1 13.7 V21.2 " stroke="#000" stroke-width="2" fill="none"/>
<path d="M142.9 585.5 V578.0 M142.9 351.0 V358.5 M288.2 585.5 V578.0 M288.2 351.0 V358.5 M433.5 585.5 V578.0 M433.5 351.0 V358.5 M578.7 585.5 V578.0 M578.7 351.0 V358.5 M724.0 585.5 V578.0 M724.0 351.0 V358.5 M869.3 585.5 V578.0 M869.3 351.0 V358.5 M1014.6 585.5 V578.0 M1014.6 351.0 V358.5 M1159.8 585.5 V578.0 M1159.8 351.0 V358.5 M1305.1 585.5 V578.0 M1305.1 351.0 V358.5 " stroke="#000" stroke-width="2" fill="none"/>
<path d="M142.9 857.6 V850.1 M142.9 623.4 V630.9 M288.2 857.6 V850.1 M288.2 623.4 V630.9 M433.5 857.6 V850.1 M433.5 623.4 V630.9 M578.7 857.6 V850.1 M578.7 623.4 V630.9 M724.0 857.6 V850.1 M724.0 623.4 V630.9 M869.3 857.6 V850.1 M869.3 623.4 V630.9 M1014.6 857.6 V850.1 M1014.6 623.4 V630.9 M1159.8 857.6 V850.1 M1159.8 623.4 V630.9 M1305.1 857.6 V850.1 M1305.1 623.4 V630.9 " stroke="#000" stroke-width="2" fill="none"/>
<path d="M95.0 253.5 H102.5 M95.0 193.6 H102.5 M95.0 133.6 H102.5 M95.0 73.7 H102.5 " stroke="#000" stroke-width="2" fill="none"/>
<path d="M1353.7 253.5 H1346.2 M1353.7 193.6 H1346.2 M1353.7 133.6 H1346.2 M1353.7 73.7 H1346.2 " stroke="#000" stroke-width="2" fill="none"/>
<path d="M95.0 546.4 H102.5 M95.0 507.3 H102.5 M95.0 468.2 H102.5 M95.0 429.2 H102.5 M95.0 390.1 H102.5 " stroke="#000" stroke-width="2" fill="none"/>
<path d="M1353.7 585.5 H1346.2 M1353.7 507.3 H1346.2 M1353.7 429.2 H1346.2 M1353.7 351.0 H1346.2 " stroke="#f00" stroke-width="2" fill="none"/>
<path d="M95.0 810.8 H102.5 M95.0 763.9 H102.5 M95.0 717.1 H102.5 M95.0 670.2 H102.5 " stroke="#000" stroke-width="2" fill="none"/>
<path d="M1353.7 857.6 H1346.2 M1353.7 799.0 H1346.2 M1353.7 740.5 H1346.2 M1353.7 682.0 H1346.2 M1353.7 623.4 H1346.2 " stroke="#f00" stroke-width="2" fill="none"/>
<text transform="translate(84.3 324.9) scale(1 1.1)" font-size="28.5" text-anchor="end" fill="#000"  stroke="#000" stroke-width="0.3">0</text>
<text transform="translate(84.3 264.9) scale(1 1.1)" font-size="28.5" text-anchor="end" fill="#000"  stroke="#000" stroke-width="0.3">0.2</text>
<text transform="translate(84.3 205.0) scale(1 1.1)" font-size="28.5" text-anchor="end" fill="#000"  stroke="#000" stroke-width="0.3">0.4</text>
<text transform="translate(84.3 145.0) scale(1 1.1)" font-size="28.5" text-anchor="end" fill="#000"  stroke="#000" stroke-width="0.3">0.6</text>
<text transform="translate(84.3 85.1) scale(1 1.1)" font-size="28.5" text-anchor="end" fill="#000"  stroke="#000" stroke-width="0.3">0.8</text>
<text transform="translate(84.3 25.1) scale(1 1.1)" font-size="28.5" text-anchor="end" fill="#000"  stroke="#000" stroke-width="0.3">1</text>
<text transform="translate(84.3 596.9) scale(1 1.1)" font-size="28.5" text-anchor="end" fill="#000"  stroke="#000" stroke-width="0.3">0</text>
<text transform="translate(84.3 557.8) scale(1 1.1)" font-size="28.5" text-anchor="end" fill="#000"  stroke="#000" stroke-width="0.3">0.2</text>
<text transform="translate(84.3 518.7) scale(1 1.1)" font-size="28.5" text-anchor="end" fill="#000"  stroke="#000" stroke-width="0.3">0.4</text>
<text transform="translate(84.3 479.6) scale(1 1.1)" font-size="28.5" text-anchor="end" fill="#000"  stroke="#000" stroke-width="0.3">0.6</text>
<text transform="translate(84.3 440.6) scale(1 1.1)" font-size="28.5" text-anchor="end" fill="#000"  stroke="#000" stroke-width="0.3">0.8</text>
<text transform="translate(84.3 401.5) scale(1 1.1)" font-size="28.5" text-anchor="end" fill="#000"  stroke="#000" stroke-width="0.3">1</text>
<text transform="translate(84.3 362.4) scale(1 1.1)" font-size="28.5" text-anchor="end" fill="#000"  stroke="#000" stroke-width="0.3">1.2</text>
<text transform="translate(84.3 869.0) scale(1 1.1)" font-size="28.5" text-anchor="end" fill="#000"  stroke="#000" stroke-width="0.3">0</text>
<text transform="translate(84.3 822.2) scale(1 1.1)" font-size="28.5" text-anchor="end" fill="#000"  stroke="#000" stroke-width="0.3">2</text>
<text transform="translate(84.3 775.3) scale(1 1.1)" font-size="28.5" text-anchor="end" fill="#000"  stroke="#000" stroke-width="0.3">4</text>
<text transform="translate(84.3 728.5) scale(1 1.1)" font-size="28.5" text-anchor="end" fill="#000"  stroke="#000" stroke-width="0.3">6</text>
<text transform="translate(84.3 681.6) scale(1 1.1)" font-size="28.5" text-anchor="end" fill="#000"  stroke="#000" stroke-width="0.3">8</text>
<text transform="translate(84.3 634.8) scale(1 1.1)" font-size="28.5" text-anchor="end" fill="#000"  stroke="#000" stroke-width="0.3">10</text>
<text transform="translate(1364.5 596.9) scale(1 1.1)" font-size="28.5" text-anchor="start" fill="#f00"  stroke="#f00" stroke-width="0.3">0</text>
<text transform="translate(1364.5 518.7) scale(1 1.1)" font-size="28.5" text-anchor="start" fill="#f00"  stroke="#f00" stroke-width="0.3">0.02</text>
<text transform="translate(1364.5 440.6) scale(1 1.1)" font-size="28.5" text-anchor="start" fill="#f00"  stroke="#f00" stroke-width="0.3">0.04</text>
<text transform="translate(1364.5 362.4) scale(1 1.1)" font-size="28.5" text-anchor="start" fill="#f00"  stroke="#f00" stroke-width="0.3">0.06</text>
<text transform="translate(1364.5 869.0) scale(1 1.1)" font-size="28.5" text-anchor="start" fill="#f00"  stroke="#f00" stroke-width="0.3">0</text>
<text transform="translate(1364.5 810.4) scale(1 1.1)" font-size="28.5" text-anchor="start" fill="#f00"  stroke="#f00" stroke-width="0.3">0.2</text>
<text transform="translate(1364.5 751.9) scale(1 1.1)" font-size="28.5" text-anchor="start" fill="#f00"  stroke="#f00" stroke-width="0.3">0.4</text>
<text transform="translate(1364.5 693.4) scale(1 1.1)" font-size="28.5" text-anchor="start" fill="#f00"  stroke="#f00" stroke-width="0.3">0.6</text>
<text transform="translate(1364.5 634.8) scale(1 1.1)" font-size="28.5" text-anchor="start" fill="#f00"  stroke="#f00" stroke-width="0.3">0.8</text>
<text transform="translate(143.7 894.6) scale(1 1.1)" font-size="28.5" text-anchor="middle" fill="#000"  stroke="#000" stroke-width="0.3">12/23</text>
<text transform="translate(289.0 894.6) scale(1 1.1)" font-size="28.5" text-anchor="middle" fill="#000"  stroke="#000" stroke-width="0.3">12/24</text>
<text transform="translate(434.3 894.6) scale(1 1.1)" font-size="28.5" text-anchor="middle" fill="#000"  stroke="#000" stroke-width="0.3">12/25</text>
<text transform="translate(579.5 894.6) scale(1 1.1)" font-size="28.5" text-anchor="middle" fill="#000"  stroke="#000" stroke-width="0.3">12/26</text>
<text transform="translate(724.8 894.6) scale(1 1.1)" font-size="28.5" text-anchor="middle" fill="#000"  stroke="#000" stroke-width="0.3">12/27</text>
<text transform="translate(870.1 894.6) scale(1 1.1)" font-size="28.5" text-anchor="middle" fill="#000"  stroke="#000" stroke-width="0.3">12/28</text>
<text transform="translate(1015.4 894.6) scale(1 1.1)" font-size="28.5" text-anchor="middle" fill="#000"  stroke="#000" stroke-width="0.3">12/29</text>
<text transform="translate(1160.6 894.6) scale(1 1.1)" font-size="28.5" text-anchor="middle" fill="#000"  stroke="#000" stroke-width="0.3">12/30</text>
<text transform="translate(1305.9 894.6) scale(1 1.1)" font-size="28.5" text-anchor="middle" fill="#000"  stroke="#000" stroke-width="0.3">12/31</text>
<text x="724.6" y="933.3" font-size="33.6" text-anchor="middle" fill="#000"  stroke="#000" stroke-width="0.3">Time (mm/dd)</text>
<text transform="translate(36.8 163.2) rotate(-90)" font-size="34" text-anchor="middle" stroke="#000" stroke-width="0.3">(mab)</text>
<text transform="translate(36.8 468.5) rotate(-90)" font-size="34" text-anchor="middle" stroke="#000" stroke-width="0.3">Current (m/s)</text>
<text transform="translate(1462.5 470.8) rotate(-90)" font-size="35.5" text-anchor="middle" fill="#f00" stroke="#f00" stroke-width="0.3">TKE (m<tspan font-size="22" dy="-18.5">2</tspan><tspan dy="18.5">/s</tspan><tspan font-size="22" dy="-18.5">2</tspan><tspan dy="18.5">)</tspan></text>
<text transform="translate(28.1 740) rotate(-90)" font-size="34" text-anchor="middle" stroke="#000" stroke-width="0.3"><tspan font-style="italic">τ</tspan><tspan font-size="26" dy="16.6">c</tspan><tspan dy="-16.6"> (Pa)</tspan></text>
<text transform="translate(1436.3 739.6) rotate(-90)" font-size="34" text-anchor="middle" fill="#f00" stroke="#f00" stroke-width="0.3"><tspan font-style="italic">τ</tspan><tspan font-size="26" dy="16.6">w</tspan><tspan dy="-16.6"> (Pa)</tspan></text>
<text x="106.3" y="56.3" font-size="33.6" text-anchor="start" fill="#000"  stroke="#000" stroke-width="0.3">(a) SSC (kg/m<tspan font-size="25" dy="-16.3">3</tspan><tspan dy="16.3">)</tspan></text>
<text x="106.2" y="389.2" font-size="33" text-anchor="start" fill="#000"  stroke="#000" stroke-width="0.3">(b)</text>
<text x="105.4" y="653.8" font-size="33" text-anchor="start" fill="#000"  stroke="#000" stroke-width="0.3">(c)</text>
<text x="1326.0" y="389.4" font-size="33" text-anchor="end" fill="#000"  stroke="#000" stroke-width="0.3">from ADV at 0.75 mab</text>
<text transform="translate(746.3 344.0) scale(1 1.12)" font-size="29.5" text-anchor="middle" fill="#000"  stroke="#000" stroke-width="0.3">F1</text>
<text transform="translate(746.3 617.0) scale(1 1.12)" font-size="29.5" text-anchor="middle" fill="#000"  stroke="#000" stroke-width="0.3">F1</text>
<text transform="translate(821.4 344.0) scale(1 1.12)" font-size="29.5" text-anchor="middle" fill="#000"  stroke="#000" stroke-width="0.3">F2</text>
<text transform="translate(821.4 617.0) scale(1 1.12)" font-size="29.5" text-anchor="middle" fill="#000"  stroke="#000" stroke-width="0.3">F2</text>
<text transform="translate(901.0 344.0) scale(1 1.12)" font-size="29.5" text-anchor="middle" fill="#000"  stroke="#000" stroke-width="0.3">F3</text>
<text transform="translate(901.0 617.0) scale(1 1.12)" font-size="29.5" text-anchor="middle" fill="#000"  stroke="#000" stroke-width="0.3">F3</text>
<text transform="translate(976.4 344.0) scale(1 1.12)" font-size="29.5" text-anchor="middle" fill="#000"  stroke="#000" stroke-width="0.3">F4</text>
<text transform="translate(976.4 617.0) scale(1 1.12)" font-size="29.5" text-anchor="middle" fill="#000"  stroke="#000" stroke-width="0.3">F4</text>
<text transform="translate(1050.9 344.0) scale(1 1.12)" font-size="29.5" text-anchor="middle" fill="#000"  stroke="#000" stroke-width="0.3">F5</text>
<text transform="translate(1050.9 617.0) scale(1 1.12)" font-size="29.5" text-anchor="middle" fill="#000"  stroke="#000" stroke-width="0.3">F5</text>
<text transform="translate(1128.4 344.0) scale(1 1.12)" font-size="29.5" text-anchor="middle" fill="#000"  stroke="#000" stroke-width="0.3">F6</text>
<text transform="translate(1128.4 617.0) scale(1 1.12)" font-size="29.5" text-anchor="middle" fill="#000"  stroke="#000" stroke-width="0.3">F6</text>
<text transform="translate(336.8 236.0) scale(1 1.12)" font-size="29.5" text-anchor="middle" fill="#000"  stroke="#000" stroke-width="0.3">S1</text>
<text transform="translate(375.4 309.5) scale(1 1.12)" font-size="29.5" text-anchor="middle" fill="#000"  stroke="#000" stroke-width="0.3">S2</text>
<text transform="translate(1247.5 268.8) scale(1 1.12)" font-size="29.5" text-anchor="middle" fill="#000"  stroke="#000" stroke-width="0.3">S3</text>
<linearGradient id="cbg" x1="0" y1="0" x2="0" y2="1"><stop offset="0.0000" stop-color="#a70000"/><stop offset="0.0417" stop-color="#ca0000"/><stop offset="0.0833" stop-color="#ec0000"/><stop offset="0.1250" stop-color="#ff0f00"/><stop offset="0.1667" stop-color="#ff3200"/><stop offset="0.2083" stop-color="#ff5400"/><stop offset="0.2500" stop-color="#ff7700"/><stop offset="0.2917" stop-color="#ff9900"/><stop offset="0.3333" stop-color="#ffbb00"/><stop offset="0.3750" stop-color="#ffde00"/><stop offset="0.4167" stop-color="#feff01"/><stop offset="0.4583" stop-color="#dcff23"/><stop offset="0.5000" stop-color="#b9ff46"/><stop offset="0.5417" stop-color="#97ff68"/><stop offset="0.5833" stop-color="#74ff8b"/><stop offset="0.6250" stop-color="#52ffad"/><stop offset="0.6667" stop-color="#30ffcf"/><stop offset="0.7083" stop-color="#0dfff2"/><stop offset="0.7500" stop-color="#00eaff"/><stop offset="0.7917" stop-color="#00c7ff"/><stop offset="0.8333" stop-color="#00a5ff"/><stop offset="0.8750" stop-color="#0083ff"/><stop offset="0.9167" stop-color="#0060ff"/><stop offset="0.9583" stop-color="#003eff"/><stop offset="1.0000" stop-color="#001cff"/></linearGradient>
<rect x="1376.3" y="18.4" width="24.0" height="280.9" fill="url(#cbg)" stroke="#444" stroke-width="1"/>
<path d="M1400.3 27.2 H1397.3 M1400.3 82.0 H1397.3 M1400.3 109.2 H1397.3 M1400.3 172.5 H1397.3 M1400.3 263.0 H1397.3 " stroke="#222" stroke-width="1.5"/>
<text transform="translate(1409 36.5) scale(1 1.05)" font-size="26" stroke="#000" stroke-width="0.3">40</text>
<text transform="translate(1409 91.3) scale(1 1.05)" font-size="26" stroke="#000" stroke-width="0.3">10</text>
<text transform="translate(1409 118.5) scale(1 1.05)" font-size="26" stroke="#000" stroke-width="0.3">5</text>
<text transform="translate(1409 181.8) scale(1 1.05)" font-size="26" stroke="#000" stroke-width="0.3">1</text>
<text transform="translate(1409 272.3) scale(1 1.05)" font-size="26" stroke="#000" stroke-width="0.3">0.1</text>
<path d="M1243.4 657.5 H1293.2" stroke="#4aa6e6" stroke-width="2"/>
<path d="M1243.4 701.7 H1293.2" stroke="#f00" stroke-width="2"/>
<path d="M1243.4 745.2 H1293.2" stroke="#10288c" stroke-width="2.4" stroke-dasharray="10 9"/>
<text x="1298" y="662" font-size="28" font-style="italic" stroke="#000" stroke-width="0.3">τ</text><text x="1309" y="675" font-size="22" stroke="#000" stroke-width="0.3">c</text>
<text x="1298" y="706" font-size="28" font-style="italic" stroke="#000" stroke-width="0.3">τ</text><text x="1309" y="719" font-size="22" stroke="#000" stroke-width="0.3">w</text>
<text x="1298" y="750" font-size="28" font-style="italic" stroke="#000" stroke-width="0.3">τ</text><text x="1309" y="763" font-size="22" stroke="#000" stroke-width="0.3">cw</text>
</svg></body></html>
